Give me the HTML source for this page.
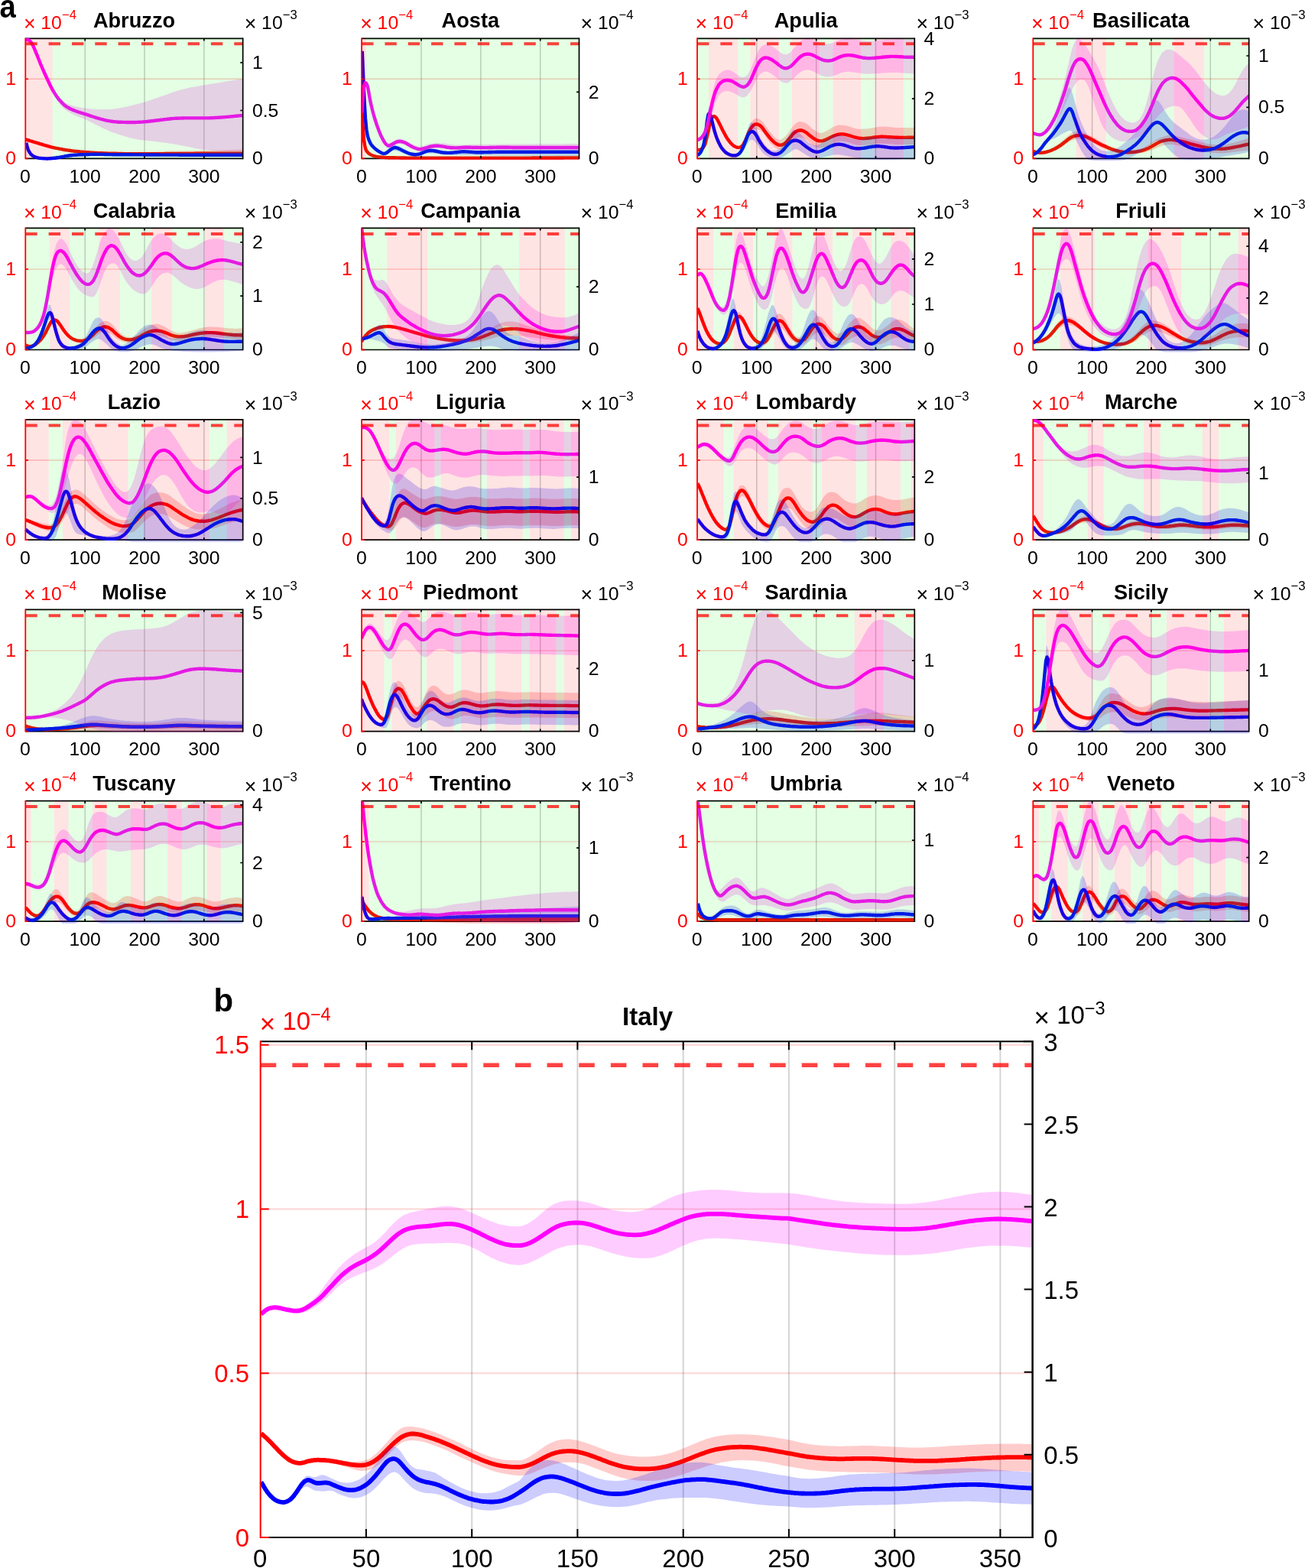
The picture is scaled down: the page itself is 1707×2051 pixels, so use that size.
<!DOCTYPE html>
<html lang="en">
<head>
<meta charset="utf-8">
<title>Regional epidemic dynamics</title>
<style>
html,body{margin:0;padding:0;background:#fff}
body{width:1707px;height:2051px;overflow:hidden}
svg{display:block}
text{font-family:"Liberation Sans", sans-serif}
.t{font-size:24.8px;fill:#000}
.x{font-size:26.8px;fill:#000}
.s{font-size:16.7px;fill:#000}
.h{font-size:27.2px;font-weight:700;fill:#000}
.T{font-size:33px;fill:#000}
.X{font-size:35px;fill:#000}
.S{font-size:23.5px;fill:#000}
.H{font-size:33px;font-weight:700;fill:#000}
.L{font-size:42px;font-weight:700;fill:#000}
.r{fill:#f00}
</style>
</head>
<body>
<svg width="1707" height="2051" viewBox="0 0 1707 2051" role="img" aria-label="Regional and national epidemic curves for Italy">
<defs><clipPath id="c00"><rect x="33.3" y="50.3" width="284.4" height="157"/></clipPath><clipPath id="c00b"><rect x="32.6" y="49.6" width="285" height="160.6"/></clipPath><clipPath id="c01"><rect x="473.1" y="50.3" width="284.4" height="157"/></clipPath><clipPath id="c01b"><rect x="472.4" y="49.6" width="285" height="160.6"/></clipPath><clipPath id="c02"><rect x="912" y="50.3" width="284.4" height="157"/></clipPath><clipPath id="c02b"><rect x="911.2" y="49.6" width="285" height="160.6"/></clipPath><clipPath id="c03"><rect x="1351.3" y="50.3" width="282.4" height="157"/></clipPath><clipPath id="c03b"><rect x="1350.6" y="49.6" width="283" height="160.6"/></clipPath><clipPath id="c10"><rect x="33.3" y="298.4" width="284.4" height="159.1"/></clipPath><clipPath id="c10b"><rect x="32.6" y="297.7" width="285" height="162.7"/></clipPath><clipPath id="c11"><rect x="473.1" y="298.4" width="284.4" height="159.1"/></clipPath><clipPath id="c11b"><rect x="472.4" y="297.7" width="285" height="162.7"/></clipPath><clipPath id="c12"><rect x="912" y="298.4" width="284.4" height="159.1"/></clipPath><clipPath id="c12b"><rect x="911.2" y="297.7" width="285" height="162.7"/></clipPath><clipPath id="c13"><rect x="1351.3" y="298.4" width="282.4" height="159.1"/></clipPath><clipPath id="c13b"><rect x="1350.6" y="297.7" width="283" height="162.7"/></clipPath><clipPath id="c20"><rect x="33.3" y="548.9" width="284.4" height="157.3"/></clipPath><clipPath id="c20b"><rect x="32.6" y="548.2" width="285" height="160.9"/></clipPath><clipPath id="c21"><rect x="473.1" y="548.9" width="284.4" height="157.3"/></clipPath><clipPath id="c21b"><rect x="472.4" y="548.2" width="285" height="160.9"/></clipPath><clipPath id="c22"><rect x="912" y="548.9" width="284.4" height="157.3"/></clipPath><clipPath id="c22b"><rect x="911.2" y="548.2" width="285" height="160.9"/></clipPath><clipPath id="c23"><rect x="1351.3" y="548.9" width="282.4" height="157.3"/></clipPath><clipPath id="c23b"><rect x="1350.6" y="548.2" width="283" height="160.9"/></clipPath><clipPath id="c30"><rect x="33.3" y="797.4" width="284.4" height="159.2"/></clipPath><clipPath id="c30b"><rect x="32.6" y="796.7" width="285" height="162.8"/></clipPath><clipPath id="c31"><rect x="473.1" y="797.4" width="284.4" height="159.2"/></clipPath><clipPath id="c31b"><rect x="472.4" y="796.7" width="285" height="162.8"/></clipPath><clipPath id="c32"><rect x="912" y="797.4" width="284.4" height="159.2"/></clipPath><clipPath id="c32b"><rect x="911.2" y="796.7" width="285" height="162.8"/></clipPath><clipPath id="c33"><rect x="1351.3" y="797.4" width="282.4" height="159.2"/></clipPath><clipPath id="c33b"><rect x="1350.6" y="796.7" width="283" height="162.8"/></clipPath><clipPath id="c40"><rect x="33.3" y="1047.7" width="284.4" height="157.5"/></clipPath><clipPath id="c40b"><rect x="32.6" y="1047" width="285" height="161.1"/></clipPath><clipPath id="c41"><rect x="473.1" y="1047.7" width="284.4" height="157.5"/></clipPath><clipPath id="c41b"><rect x="472.4" y="1047" width="285" height="161.1"/></clipPath><clipPath id="c42"><rect x="912" y="1047.7" width="284.4" height="157.5"/></clipPath><clipPath id="c42b"><rect x="911.2" y="1047" width="285" height="161.1"/></clipPath><clipPath id="c43"><rect x="1351.3" y="1047.7" width="282.4" height="157.5"/></clipPath><clipPath id="c43b"><rect x="1350.6" y="1047" width="283" height="161.1"/></clipPath><clipPath id="cb"><rect x="339.7" y="1361.3" width="1010.9" height="650.6"/></clipPath></defs>
<rect width="1707" height="2051" fill="#fff"/>
<text x="-0.6" y="23.3" class="L" transform="scale(0.91 1)">a</text>
<g id="p00">
<path d="M33.3 50.3H317.7M33.3 207.3H317.7" stroke="#000" stroke-width="1.7" fill="none"/>
<path d="M111.2 50.3V207.3M189 50.3V207.3M266.9 50.3V207.3" stroke="#000" stroke-opacity="0.22" stroke-width="1.4" fill="none"/>
<path d="M33.3 103.3H317.7" stroke="#f00" stroke-opacity="0.22" stroke-width="1.4" fill="none"/>
<g clip-path="url(#c00b)">
<path d="M33.4 181.4l2.5 .7 2.5 .7 2.5 .7 2.5 .7 2.5 .6 2.5 .7 2.5 .7 2.5 .7 2.5 .7 2.5 .7 2.5 .6 2.5 .7 2.4 .6 2.5 .7 2.5 .6 2.5 .6 2.5 .6 2.5 .5 2.5 .6 2.5 .5 2.5 .5 2.5 .5 2.5 .4 2.5 .5 2.5 .3 2.5 .4 2.5 .3 2.5 .3 2.5 .3 2.5 .2 2.5 .1 2.5 .2 2.5 .1 2.5 .1 2.5 .1 2.5 .1 2.5 .1 2.5 .1 2.5 .1 2.5 .1 2.5 .1 2.5 .1 2.5 0 2.5 .1 2.5 .1 2.5 0 2.5 .1 2.5 0 2.5 0 2.5 0 2.5 0 2.4 0 2.5 0 2.5-.1 2.5-.1 2.5 0 2.5-.1 2.5 0 2.5-.1 2.5-.1 2.5 0 2.5-.1 2.5-.1 2.5 0 2.5-.1 2.5-.1 2.5 0 2.5-.1 2.5 0 2.5-.1 2.5-.1 2.5 0 2.5-.1 2.5-.1 2.5 0 2.5-.1 2.5 0 2.5-.1 2.5-.1 2.5 0 2.5-.1 2.5-.1 2.5 0 2.5-.1 2.5 0 2.5-.1 2.5-.1 2.5 0 2.5-.1 2.5 0 2.4-.1 2.5-.1 2.5 0 2.5-.1 2.5-.1 2.5 0 2.5-.1 2.5-.1 2.5 0 2.5-.1 2.5-.1 2.5-.1 2.5 0 2.5-.1 2.5-.1 2.5-.1 2.5 0 2.5-.1 2.5-.1 2.5-.1 2.5-.1 2.5 0 2.5-.1 2.5-.1 0 5.8-2.5 0-2.5 0-2.5 0-2.5 0-2.5 0-2.5 0-2.5 0-2.5 0-2.5 0-2.5 0-2.5 0-2.5 0-2.5 0-2.5 0-2.5 0-2.5 0-2.5 0-2.5 0-2.5 0-2.5 0-2.5 0-2.5 0-2.5 0-2.4 0-2.5 0-2.5 0-2.5 0-2.5 0-2.5 0-2.5 0-2.5 0-2.5 0-2.5 0-2.5 0-2.5 0-2.5 0-2.5 0-2.5 0-2.5 0-2.5 0-2.5 0-2.5 0-2.5 0-2.5 0-2.5 0-2.5 0-2.5 0-2.5 0-2.5 0-2.5 0-2.5 0-2.5 0-2.5 0-2.5 0-2.5 0-2.5 0-2.5 0-2.5 0-2.5 0-2.5 0-2.5 0-2.5 0-2.4 0-2.5 0-2.5-.1-2.5 0-2.5-.1-2.5 0-2.5-.1-2.5 0-2.5-.1-2.5 0-2.5-.1-2.5-.1-2.5-.1-2.5 0-2.5-.1-2.5-.1-2.5-.1-2.5-.1-2.5-.1-2.5-.1-2.5-.1-2.5-.1-2.5-.3-2.5-.2-2.5-.3-2.5-.3-2.5-.4-2.5-.3-2.5-.5-2.5-.4-2.5-.5-2.5-.5-2.5-.5-2.5-.6-2.5-.5-2.5-.6-2.5-.6-2.5-.6-2.5-.7-2.4-.6-2.5-.7-2.5-.7-2.5-.6-2.5-.7-2.5-.7-2.5-.7-2.5-.7-2.5-.7-2.5-.7-2.5-.7-2.5-.6-2.5-.7z" fill="#ff0000" fill-opacity="0.2"/>
<path d="M33.4 182.3l1.4 .5 1.4 .4 1.4 .4 1.4 .5 1.4 .4 1.4 .4 1.4 .4 1.3 .5 1.4 .4 1.4 .4 1.4 .4 1.4 .4 1.4 .5 1.4 .4 1.4 .4 1.4 .4 1.4 .5 1.4 .4 1.4 .4 1.4 .4 1.4 .4 1.4 .4 1.4 .3 1.4 .4 1.4 .3 1.4 .4 1.4 .3 1.4 .3 1.4 .3 1.4 .2 1.3 .3 1.4 .3 1.4 .2 1.4 .3 1.4 .3 1.4 .2 1.4 .3 1.4 .2 1.4 .2 1.4 .2 1.4 .2 1.4 .2 1.4 .2 1.4 .2 1.4 .2 1.4 .1 1.4 .2 1.4 .1 1.4 .2 1.4 .1 1.4 .1 1.4 .2 1.4 .1 1.3 .1 1.4 .1 1.4 .1 1.4 .1 1.4 .1 1.4 .1 1.4 .1 1.4 .1 1.4 .1 1.4 .1 1.4 .1 1.4 .1 1.4 0 1.4 .1 1.4 .1 1.4 .1 1.4 0 1.4 .1 1.4 0 1.4 .1 1.4 0 1.4 .1 1.3 0 1.4 .1 1.4 0 1.4 0 1.4 .1 1.4 0 1.4 0 1.4 .1 1.4 0 1.4 0 1.4 .1 1.4 0 1.4 0 1.4 .1 1.4 0 1.4 0 1.4 .1 1.4 0 1.4 0 1.4 0 1.4 0 1.4 0 1.4 0 1.3 0 1.4 0 1.4 0 1.4 0 1.4 0 1.4 0 1.4 0 1.4 .1 1.4 0 1.4 0 1.4 0 1.4 0 1.4 0 1.4-.1 1.4 0 1.4 0 1.4 0 1.4 0 1.4 0 1.4 0 1.4 0 1.4 0 1.4 0 1.3 0 1.4 0 1.4 0 1.4 0 1.4 0 1.4 0 1.4 0 1.4 0 1.4 0 1.4-.1 1.4 0 1.4 0 1.4 0 1.4 0 1.4 0 1.4 0 1.4 0 1.4 0 1.4 0 1.4 0 1.4 0 1.4 0 1.4 0 1.3-.1 1.4 0 1.4 0 1.4 0 1.4 0 1.4 0 1.4 0 1.4 0 1.4 0 1.4 0 1.4 0 1.4 0 1.4 0 1.4 0 1.4-.1 1.4 0 1.4 0 1.4 0 1.4 0 1.4 0 1.4 0 1.4 0 1.4 0 1.3 0 1.4 0 1.4 0 1.4 0 1.4 0 1.4 0 1.4-.1 1.4 0 1.4 0 1.4 0 1.4 0 1.4 0 1.4 0 1.4 0 1.4 0 1.4 0 1.4 0 1.4 0 1.4 0 1.4 0 1.4 0 1.4 0 1.4 0 1.3 0 1.4-.1 1.4 0 1.4 0 1.4 0 1.4 0 1.4 0 1.4 0 1.4 0 1.4 0 1.4 0 1.4 0 1.4 0 1.4 0" fill="none" stroke="#ff0000" stroke-width="4.4" stroke-linejoin="round"/>
<path d="M34.3 186.7l2.4 8.4 2.5 3.1 2.5 2.3 2.5 2 2.5 1.7 2.5 1.2 2.5 .6 2.5-.1 2.5-.2 2.5-.3 2.4-.2 2.5-.3 2.5-.4 2.5-.3 2.5-.3 2.5-.3 2.5-.3 2.5-.2 2.5-.2 2.5-.2 2.4-.1 2.5-.1 2.5-.1 2.5 0 2.5-.1 2.5 0 2.5-.1 2.5 0 2.5-.1 2.5-.1 2.4 0 2.5-.1 2.5 0 2.5-.1 2.5-.1 2.5 0 2.5-.1 2.5 0 2.5-.1 2.5 0 2.4 0 2.5-.1 2.5 0 2.5-.1 2.5 0 2.5 0 2.5 0 2.5 0 2.5-.1 2.4 0 2.5 0 2.5 0 2.5 0 2.5 0 2.5 0 2.5-.1 2.5 0 2.5 0 2.5 0 2.4 0 2.5 0 2.5 0 2.5-.1 2.5 0 2.5 0 2.5 0 2.5-.1 2.5 0 2.5 0 2.4 0 2.5-.1 2.5 0 2.5-.1 2.5 0 2.5 0 2.5-.1 2.5 0 2.5-.1 2.5 0 2.4 0 2.5-.1 2.5 0 2.5-.1 2.5 0 2.5-.1 2.5 0 2.5-.1 2.5 0 2.4-.1 2.5 0 2.5-.1 2.5 0 2.5-.1 2.5 0 2.5-.1 2.5 0 2.5-.1 2.5 0 2.4-.1 2.5 0 2.5-.1 2.5 0 2.5-.1 2.5-.1 2.5 0 2.5-.1 2.5 0 2.5-.1 2.4 0 2.5-.1 2.5-.1 2.5 0 2.5-.1 2.5 0 0 6.1-2.5 0-2.5 0-2.5-.1-2.5 0-2.5 0-2.4 0-2.5 0-2.5-.1-2.5 0-2.5 0-2.5 0-2.5-.1-2.5 0-2.5 0-2.5 0-2.4 0-2.5-.1-2.5 0-2.5 0-2.5 0-2.5 0-2.5-.1-2.5 0-2.5 0-2.5 0-2.4 0-2.5 0-2.5-.1-2.5 0-2.5 0-2.5 0-2.5 0-2.5-.1-2.5 0-2.4 0-2.5 0-2.5 0-2.5 0-2.5-.1-2.5 0-2.5 0-2.5 0-2.5 0-2.5 0-2.4 0-2.5-.1-2.5 0-2.5 0-2.5 0-2.5 0-2.5 0-2.5 0-2.5 0-2.5 0-2.4 0-2.5 0-2.5 0-2.5 0-2.5 0-2.5 0-2.5 0-2.5 0-2.5 0-2.5 0-2.4 0-2.5 0-2.5 0-2.5 0-2.5 0-2.5 .1-2.5 0-2.5 0-2.5 0-2.4 .1-2.5 0-2.5 0-2.5 .1-2.5 0-2.5 .1-2.5 0-2.5 .1-2.5 0-2.5 .1-2.4 0-2.5 .1-2.5 0-2.5 .1-2.5 .1-2.5 0-2.5 .1-2.5 0-2.5 .1-2.5 0-2.4 .1-2.5 .2-2.5 .1-2.5 .2-2.5 .3-2.5 .2-2.5 .2-2.5 .3-2.5 .2-2.5 .3-2.4 .2-2.5 .2-2.5 .2-2.5 .1-2.5-.6-2.5-1.2-2.5-1.6-2.5-2-2.5-2.1-2.5-3.2-2.4-9.7z" fill="#0000ff" fill-opacity="0.2"/>
<path d="M34.3 186.7l1.4 5.9 1.4 3.9 1.4 2.6 1.4 2 1.4 1.4 1.3 1.1 1.4 .8 1.4 .7 1.4 .5 1.4 .4 1.4 .4 1.4 .3 1.4 .2 1.4 .1 1.4 .1 1.4 .1 1.4 .1 1.4 .1 1.4 .1 1.4 0 1.4-.1 1.4-.1 1.4-.1 1.4-.1 1.4-.1 1.4-.1 1.4-.2 1.4-.2 1.4-.2 1.4-.2 1.4-.2 1.4-.3 1.4-.3 1.4-.2 1.4-.3 1.4-.3 1.4-.3 1.4-.3 1.4-.2 1.4-.2 1.4-.2 1.4-.1 1.4-.2 1.4-.1 1.4-.1 1.4-.1 1.4-.1 1.4-.1 1.4-.1 1.4-.1 1.4 0 1.4-.1 1.4 0 1.4-.1 1.4 0 1.4-.1 1.4 0 1.4 0 1.4-.1 1.4 0 1.3 0 1.4-.1 1.4 0 1.4 0 1.4 0 1.4 0 1.4 0 1.4 .1 1.4 0 1.4 0 1.4 0 1.4 0 1.4 .1 1.4 0 1.4 0 1.4 0 1.4 .1 1.4 0 1.4 0 1.4 0 1.4 .1 1.4 0 1.4 0 1.4 0 1.4 0 1.4 0 1.4 0 1.4 0 1.4 .1 1.4 0 1.4 0 1.4 0 1.4 0 1.4 0 1.4 0 1.4 0 1.4 0 1.4 0 1.4 .1 1.4 0 1.4 0 1.4 0 1.4 0 1.4 0 1.4 0 1.4 0 1.4 0 1.4 0 1.4 0 1.4 .1 1.4 0 1.4 0 1.4 0 1.4 0 1.4 0 1.3 0 1.4 0 1.4 0 1.4 0 1.4 0 1.4 0 1.4 0 1.4 0 1.4 0 1.4 .1 1.4 0 1.4 0 1.4 0 1.4 0 1.4 0 1.4 0 1.4 0 1.4 0 1.4 0 1.4 0 1.4 0 1.4 0 1.4 0 1.4 0 1.4 0 1.4 0 1.4 0 1.4 .1 1.4 0 1.4 0 1.4 0 1.4 0 1.4 0 1.4 0 1.4 0 1.4 0 1.4 0 1.4 0 1.4 0 1.4 0 1.4 0 1.4 0 1.4 0 1.4 0 1.4 0 1.4 0 1.4 0 1.4 0 1.4 0 1.4 0 1.4 0 1.4 0 1.4 0 1.4 0 1.4 0 1.3 0 1.4 0 1.4 0 1.4 0 1.4 0 1.4 0 1.4 0 1.4 0 1.4 0 1.4 0 1.4 0 1.4 0 1.4 0 1.4 0 1.4 0 1.4 0 1.4 0 1.4 0 1.4 0 1.4 0 1.4 0 1.4 0 1.4 0 1.4 0 1.4 0 1.4 0 1.4 0 1.4 0 1.4 0 1.4 0 1.4 0 1.4 0 1.4 0" fill="none" stroke="#0000ff" stroke-width="4.4" stroke-linejoin="round"/>
<path d="M33.4 51.9l2.5 .6 2.5 1.6 2.5 2.4 2.5 3 2.5 4 2.5 5.3 2.5 6.1 2.5 6.6 2.5 6.6 2.5 6.2 2.5 5.4 2.5 4.7 2.4 4.6 2.5 4.5 2.5 4.2 2.5 3.9 2.5 3.4 2.5 3 2.5 2.5 2.5 2.2 2.5 1.8 2.5 1.2 2.5 1.1 2.5 .9 2.5 .7 2.5 .7 2.5 .6 2.5 .6 2.5 .5 2.5 .4 2.5 .3 2.5 .3 2.5 .3 2.5 .3 2.5 .2 2.5 .2 2.5 .1 2.5 .1 2.5 .1 2.5 0 2.5 .1 2.5-.1 2.5 0 2.5-.1 2.5-.2 2.5-.3 2.5-.3 2.5-.4 2.5-.4 2.5-.5 2.5-.4 2.4-.5 2.5-.6 2.5-.5 2.5-.6 2.5-.6 2.5-.6 2.5-.7 2.5-.6 2.5-.7 2.5-.7 2.5-.7 2.5-.8 2.5-.8 2.5-.8 2.5-.8 2.5-.9 2.5-.9 2.5-.8 2.5-.8 2.5-.9 2.5-.9 2.5-.9 2.5-.9 2.5-.9 2.5-.9 2.5-1 2.5-.8 2.5-.7 2.5-.7 2.5-.7 2.5-.7 2.5-.7 2.5-.6 2.5-.6 2.5-.6 2.5-.5 2.5-.4 2.5-.5 2.5-.4 2.4-.4 2.5-.4 2.5-.4 2.5-.5 2.5-.4 2.5-.4 2.5-.5 2.5-.3 2.5-.4 2.5-.4 2.5-.4 2.5-.4 2.5-.5 2.5-.4 2.5-.5 2.5-.4 2.5-.4 2.5-.4 2.5-.4 2.5-.4 2.5-.4 2.5-.4 2.5-.4 2.5-.4 0 94.9-2.5 0-2.5 .1-2.5 0-2.5 0-2.5 .1-2.5 0-2.5 0-2.5-.1-2.5 0-2.5 0-2.5-.1-2.5-.1-2.5-.1-2.5-.2-2.5-.2-2.5-.1-2.5-.2-2.5-.3-2.5-.2-2.5-.3-2.5-.3-2.5-.3-2.5-.5-2.4-.5-2.5-.5-2.5-.5-2.5-.5-2.5-.5-2.5-.5-2.5-.5-2.5-.5-2.5-.5-2.5-.5-2.5-.5-2.5-.4-2.5-.4-2.5-.5-2.5-.4-2.5-.4-2.5-.3-2.5-.4-2.5-.3-2.5-.4-2.5-.3-2.5-.3-2.5-.3-2.5-.3-2.5-.2-2.5-.2-2.5-.3-2.5-.3-2.5-.3-2.5-.3-2.5-.3-2.5-.4-2.5-.5-2.5-.5-2.5-.5-2.5-.6-2.5-.6-2.5-.7-2.5-.7-2.4-.8-2.5-.8-2.5-.8-2.5-.8-2.5-.9-2.5-.9-2.5-.9-2.5-1-2.5-1.1-2.5-1.1-2.5-1.1-2.5-1.2-2.5-1.2-2.5-1.2-2.5-1.3-2.5-1.2-2.5-1.3-2.5-1.3-2.5-1.2-2.5-1.2-2.5-1-2.5-1-2.5-1-2.5-1-2.5-1.1-2.5-1.1-2.5-1.2-2.5-1.2-2.5-1.4-2.5-1.5-2.5-1.7-2.5-2-2.5-2.4-2.5-2.8-2.5-3.4-2.5-4.1-2.5-4.6-2.5-4.9-2.5-5.2-2.4-5.2-2.5-5.3-2.5-5.8-2.5-6.5-2.5-6.8-2.5-6.8-2.5-6.3-2.5-5.4-2.5-4.2-2.5-3.3-2.5-2.7-2.5-1.8-2.5-.7z" fill="#ff00ff" fill-opacity="0.2"/>
<path d="M33.4 52.8l1.4-.7 1.4-.2 1.4 .4 1.4 1.1 1.4 1.5 1.4 2.2 1.4 2.7 1.3 2.9 1.4 3.2 1.4 3.4 1.4 3.4 1.4 3.5 1.4 3.5 1.4 3.6 1.4 3.3 1.4 3.3 1.4 3.2 1.4 3.2 1.4 3 1.4 3 1.4 3 1.4 3 1.4 2.9 1.4 2.8 1.4 2.7 1.4 2.4 1.4 2.3 1.4 2.2 1.4 2.1 1.4 1.9 1.3 1.9 1.4 1.6 1.4 1.5 1.4 1.5 1.4 1.4 1.4 1.3 1.4 1.2 1.4 1.1 1.4 .9 1.4 .8 1.4 .7 1.4 .8 1.4 .6 1.4 .7 1.4 .5 1.4 .6 1.4 .5 1.4 .5 1.4 .5 1.4 .5 1.4 .5 1.4 .4 1.4 .4 1.3 .4 1.4 .5 1.4 .4 1.4 .4 1.4 .4 1.4 .5 1.4 .5 1.4 .5 1.4 .4 1.4 .5 1.4 .5 1.4 .4 1.4 .5 1.4 .4 1.4 .4 1.4 .4 1.4 .4 1.4 .4 1.4 .3 1.4 .4 1.4 .3 1.4 .4 1.3 .3 1.4 .2 1.4 .3 1.4 .2 1.4 .3 1.4 .2 1.4 .2 1.4 .1 1.4 .2 1.4 .1 1.4 .1 1.4 .2 1.4 0 1.4 .1 1.4 0 1.4 .1 1.4 0 1.4 0 1.4 .1 1.4 0 1.4 0 1.4 0 1.4 0 1.3 0 1.4 0 1.4 0 1.4 0 1.4 0 1.4-.1 1.4 0 1.4-.1 1.4-.1 1.4-.1 1.4 0 1.4-.1 1.4-.1 1.4-.2 1.4-.1 1.4-.1 1.4-.2 1.4-.1 1.4-.2 1.4-.2 1.4-.1 1.4-.2 1.4-.2 1.3-.1 1.4-.2 1.4-.2 1.4-.1 1.4-.2 1.4-.2 1.4-.2 1.4-.1 1.4-.2 1.4-.2 1.4-.1 1.4-.2 1.4-.1 1.4-.2 1.4-.2 1.4-.1 1.4-.1 1.4-.2 1.4 0 1.4-.1 1.4-.1 1.4 0 1.4-.1 1.3 0 1.4-.1 1.4 0 1.4 0 1.4-.1 1.4 0 1.4 0 1.4 0 1.4 0 1.4 0 1.4 0 1.4 0 1.4 0 1.4 0 1.4 0 1.4 0 1.4 0 1.4 0 1.4 0 1.4 0 1.4 0 1.4 0 1.4 0 1.3 0 1.4 0 1.4 0 1.4 0 1.4 0 1.4-.1 1.4 0 1.4-.1 1.4-.1 1.4-.1 1.4 0 1.4-.1 1.4-.1 1.4-.1 1.4-.1 1.4-.1 1.4 0 1.4-.1 1.4-.2 1.4-.1 1.4-.1 1.4-.1 1.4-.1 1.3-.2 1.4-.1 1.4-.1 1.4-.2 1.4-.1 1.4-.2 1.4-.1 1.4-.1 1.4-.2 1.4-.1 1.4-.1 1.4-.2 1.4-.1 1.4-.1" fill="none" stroke="#ff00ff" stroke-width="4.4" stroke-linejoin="round"/>
</g>
<g clip-path="url(#c00)">
<path d="M33.3 50.3H68.7V207.3H33.3Z" fill="#f00" fill-opacity="0.105"/>
<path d="M68.7 50.3H317.7V207.3H68.7Z" fill="#0f0" fill-opacity="0.105"/>
<path d="M33.3 57.3H317.7" stroke="#f00" stroke-opacity="0.74" stroke-width="4" stroke-dasharray="15.4 14.93" fill="none"/>
</g>
<path d="M111.2 50.3v3.2M111.2 207.3v-3.2M189 50.3v3.2M189 207.3v-3.2M266.9 50.3v3.2M266.9 207.3v-3.2M317.7 81.8h-3.4M317.7 144.5h-3.4M317.7 49.4V208.2" stroke="#000" stroke-width="1.7" fill="none"/>
<path d="M33.3 49.4V208.2M33.3 103.3h3.6M33.3 207.3h3.6" stroke="#f00" stroke-width="1.8" fill="none"/>
<text x="329.9" y="89.9" class="t">1</text>
<text x="329.9" y="152.6" class="t">0.5</text>
<text x="329.9" y="215.1" class="t">0</text>
<text x="21" y="111" class="t r" text-anchor="end">1</text>
<text x="21" y="215" class="t r" text-anchor="end">0</text>
<text x="33" y="238.7" class="t" text-anchor="middle">0</text>
<text x="111.2" y="238.7" class="t" text-anchor="middle">100</text>
<text x="189" y="238.7" class="t" text-anchor="middle">200</text>
<text x="266.9" y="238.7" class="t" text-anchor="middle">300</text>
<text x="30.9" y="40.3" class="x r">×</text>
<text x="53.2" y="37.6" class="t r">10</text>
<text x="80.9" y="25" class="s r">−4</text>
<text x="319.8" y="40.3" class="x">×</text>
<text x="342.1" y="37.6" class="t">10</text>
<text x="369.8" y="25" class="s">−3</text>
<text x="175.5" y="36.4" class="h" text-anchor="middle">Abruzzo</text>
</g>
<g id="p01">
<path d="M473.1 50.3H757.5M473.1 207.3H757.5" stroke="#000" stroke-width="1.7" fill="none"/>
<path d="M551 50.3V207.3M628.9 50.3V207.3M706.7 50.3V207.3" stroke="#000" stroke-opacity="0.22" stroke-width="1.4" fill="none"/>
<path d="M473.1 103.3H757.5" stroke="#f00" stroke-opacity="0.22" stroke-width="1.4" fill="none"/>
<g clip-path="url(#c01b)">
<path d="M473.1 114.3l1.4 49 1.4 19.1 1.4 8.7 1.4 5 1.4 2.1 1.4 1.7 1.3 1 1.4 .9 1.4 .8 1.4 .7 1.4 .5 1.4 .4 1.4 .4 1.4 .4 1.4 .2 1.4 .2 1.4 .1 1.4 .1 1.4 .1 1.4 .1 1.4 .1 1.4 .1 1.4 .1 1.4 0 1.4 .1 1.3 0 1.4 0 1.4 .1 1.4 0 1.4 0 1.4 0 1.4 .1 1.4 0 1.4 0 1.4 0 1.4 .1 1.4 0 1.4 0 1.4 0 1.4 0 1.4 0 1.4 .1 1.4 0 1.4 0 1.3 0 1.4 0 1.4 0 1.4 0 1.4 0 1.4 0 1.4 0 1.4 0 1.4 0 1.4 0 1.4 0 1.4 0 1.4 0 1.4 0 1.4 0 1.4 0 1.4 0 1.4 0 1.4 0 1.4 0 1.3 0 1.4 0 1.4 0 1.4 0 1.4 0 1.4 0 1.4 0 1.4 0 1.4 0 1.4 0 1.4 0 1.4 0 1.4 0 1.4 0 1.4 0 1.4 0 1.4 0 1.4 0 1.4 0 1.3 0 1.4 0 1.4 0 1.4 0 1.4 0 1.4 0 1.4 0 1.4 0 1.4 0 1.4 0 1.4 0 1.4 0 1.4 0 1.4 0 1.4 0 1.4 0 1.4 0 1.4 0 1.4 0 1.3 0 1.4 0 1.4 0 1.4 0 1.4 0 1.4 0 1.4 0 1.4 0 1.4 0 1.4 0 1.4 0 1.4 0 1.4 0 1.4 0 1.4 0 1.4 0 1.4 0 1.4 0 1.4 0 1.3 0 1.4 0 1.4 0 1.4 0 1.4 0 1.4 0 1.4 0 1.4 0 1.4 0 1.4 0 1.4 0 1.4 0 1.4 0 1.4 0 1.4 0 1.4 0 1.4 0 1.4 0 1.4 0 1.3 0 1.4 0 1.4 0 1.4 0 1.4 0 1.4 0 1.4 0 1.4 0 1.4 0 1.4 0 1.4 0 1.4 0 1.4 0 1.4 0 1.4 0 1.4 0 1.4 0 1.4 0 1.4 0 1.3-.1 1.4 0 1.4 0 1.4 0 1.4 0 1.4 0 1.4 0 1.4 0 1.4 0 1.4 0 1.4 0 1.4 0 1.4 0 1.4 0 1.4 0 1.4 0 1.4 0 1.4 0 1.4 0 1.3 0 1.4 0 1.4 0 1.4 0 1.4 0 1.4 0 1.4 0 1.4 0 1.4 0 1.4 0 1.4 0 1.4-.1 1.4 0 1.4 0 1.4 0 1.4 0 1.4 0 1.4 0 1.4 0 1.3 0 1.4 0 1.4 0 1.4 0 1.4 0 1.4 0 1.4 0" fill="none" stroke="#ff0000" stroke-width="4.4" stroke-linejoin="round"/>
<path d="M473.8 66.8l2.5 58.5 2.5 38.2 2.5 11.6 2.4 8.7 2.5 4.4 2.5 2.3 2.5 2.5 2.5 2.4 2.5 2 2.5 1.3 2.5 .2 2.5-1.1 2.5-1.9 2.4-2.1 2.5-2 2.5-1.4 2.5-.5 2.5 .3 2.5 .8 2.5 1.1 2.5 1.2 2.5 1.4 2.5 1.4 2.4 1.3 2.5 1.1 2.5 .7 2.5 .4 2.5-.2 2.5-.5 2.5-.7 2.5-.9 2.5-.9 2.4-.9 2.5-.7 2.5-.4 2.5-.1 2.5 .2 2.5 .3 2.5 .4 2.5 .5 2.5 .5 2.5 .5 2.4 .5 2.5 .3 2.5 .2 2.5 .1 2.5-.1 2.5 0 2.5-.1 2.5-.1 2.5 0 2.5-.1 2.4-.1 2.5-.1 2.5 0 2.5-.1 2.5-.1 2.5 0 2.5-.1 2.5 0 2.5 0 2.5 0 2.4-.1 2.5 0 2.5 0 2.5 0 2.5 0 2.5-.1 2.5 0 2.5 0 2.5 0 2.4 0 2.5-.1 2.5 0 2.5 0 2.5 0 2.5 0 2.5 0 2.5 0 2.5 0 2.5-.1 2.4 0 2.5 0 2.5 0 2.5 0 2.5 0 2.5 0 2.5 0 2.5 0 2.5 0 2.5 0 2.4 0 2.5 0 2.5 0 2.5 0 2.5 0 2.5 0 2.5 0 2.5 0 2.5 0 2.5 0 2.4 0 2.5 0 2.5 0 2.5 0 2.5 0 2.5 0 2.5 0 2.5 0 2.5 0 2.4 0 2.5 0 2.5 0 2.5 0 0 7.4-2.5 0-2.5 0-2.5 0-2.4 0-2.5 0-2.5 0-2.5 0-2.5 0-2.5 0-2.5 0-2.5 0-2.5 0-2.4-.1-2.5 0-2.5 0-2.5 0-2.5 0-2.5 0-2.5 0-2.5 0-2.5-.1-2.5 0-2.4 0-2.5 0-2.5 0-2.5 0-2.5 0-2.5 0-2.5-.1-2.5 0-2.5 0-2.5 0-2.4 0-2.5 0-2.5-.1-2.5 0-2.5 0-2.5 0-2.5 0-2.5-.1-2.5 0-2.5 0-2.4-.1-2.5 0-2.5 0-2.5 0-2.5-.1-2.5 0-2.5 0-2.5 0-2.5-.1-2.4 0-2.5 0-2.5 0-2.5-.1-2.5 0-2.5 0-2.5 0-2.5 0-2.5 0-2.5 0-2.4 0-2.5 0-2.5 .1-2.5 0-2.5 0-2.5 0-2.5 0-2.5-.1-2.5-.2-2.5-.3-2.4-.3-2.5-.3-2.5-.4-2.5-.4-2.5-.3-2.5-.2-2.5-.2-2.5 .1-2.5 .3-2.5 .5-2.4 .7-2.5 .6-2.5 .7-2.5 .5-2.5 .4-2.5 .1-2.5-.3-2.5-.5-2.5-.8-2.4-1-2.5-1-2.5-1-2.5-1-2.5-.8-2.5-.6-2.5-.4-2.5 .3-2.5 .9-2.5 1.4-2.4 1.6-2.5 1.3-2.5 .8-2.5-.3-2.5-1.3-2.5-2-2.5-2.3-2.5-2.5-2.5-2.2-2.5-4.5-2.4-9.1-2.5-12-2.5-38.9-2.5-59.5z" fill="#0000ff" fill-opacity="0.2"/>
<path d="M473.8 66.8l1.4 35 1.4 30.3 1.4 22.8 1.4 14.4 1.4 8.4 1.4 4.5 1.4 3.3 1.4 2.8 1.4 1.9 1.4 1.6 1.4 1.4 1.4 1.3 1.4 1.1 1.4 1 1.4 1 1.4 .8 1.4 .8 1.4 .7 1.4 .6 1.4 .4 1.3 0 1.4-.4 1.4-.7 1.4-1 1.4-1.2 1.4-1.2 1.4-1 1.4-1 1.4-.8 1.4-.5 1.4-.1 1.4 .3 1.4 .4 1.4 .6 1.4 .6 1.4 .7 1.4 .8 1.4 .7 1.4 .7 1.4 .7 1.4 .6 1.4 .6 1.4 .6 1.4 .5 1.4 .4 1.4 .3 1.4 .3 1.4 .2 1.4 .2 1.4 0 1.4-.1 1.4-.2 1.4-.3 1.4-.3 1.4-.4 1.4-.7 1.4-.7 1.4-.6 1.4-.6 1.4-.4 1.4-.4 1.4-.3 1.4-.2 1.4-.1 1.4 .1 1.4 .1 1.4 .2 1.4 .2 1.4 .2 1.4 .3 1.4 .3 1.4 .3 1.4 .4 1.4 .2 1.4 .3 1.3 .1 1.4 .1 1.4 .1 1.4 .1 1.4 0 1.4 0 1.4 0 1.4-.1 1.4-.1 1.4-.1 1.4-.2 1.4-.1 1.4-.1 1.4-.2 1.4-.1 1.4-.2 1.4-.2 1.4-.1 1.4-.1 1.4 0 1.4 0 1.4 .1 1.4 .1 1.4 0 1.4 .1 1.4 .1 1.4 .1 1.4 .1 1.4 .1 1.4 .1 1.4 .1 1.4 0 1.4 0 1.4 0 1.4 0 1.4 0 1.4 0 1.4 0 1.4-.1 1.4 0 1.4 0 1.4 0 1.4-.1 1.4 0 1.4 0 1.4 0 1.4-.1 1.4 0 1.4 0 1.4-.1 1.4 0 1.4 0 1.4-.1 1.4 0 1.4 0 1.3 0 1.4 0 1.4 0 1.4 0 1.4 0 1.4 0 1.4 0 1.4 0 1.4 .1 1.4 0 1.4 0 1.4 0 1.4 0 1.4 0 1.4 0 1.4 0 1.4 0 1.4 0 1.4 0 1.4 0 1.4 0 1.4 0 1.4 0 1.4 0 1.4 0 1.4 0 1.4 0 1.4 0 1.4 0 1.4 0 1.4 0 1.4 0 1.4 0 1.4 0 1.4 0 1.4 0 1.4 0 1.4 0 1.4 0 1.4 0 1.4 0 1.4 0 1.4 0 1.4 0 1.4 0 1.4 0 1.4 0 1.4 0 1.4 0 1.4 0 1.4 0 1.4 0 1.4 0 1.4 0 1.4 0 1.3 0 1.4 0 1.4 0 1.4 0 1.4 0 1.4 0 1.4 0 1.4 0 1.4 0 1.4 0 1.4 0 1.4 0 1.4 0 1.4 0 1.4 0 1.4 0 1.4 0 1.4 0" fill="none" stroke="#0000ff" stroke-width="4.4" stroke-linejoin="round"/>
<path d="M473.4 145.9l2.5-33.8 2.5-6.4 2.5 8.9 2.5 10.2 2.5 9.4 2.5 9.7 2.5 9.5 2.5 8.5 2.5 6.8 2.5 6.1 2.5 5.3 2.4 3.9 2.5 2.3 2.5 1 2.5-.9 2.5-1.3 2.5-1.4 2.5-1.3 2.5-.8 2.5-.2 2.5 .5 2.5 1 2.5 1.2 2.5 1.3 2.5 1.1 2.4 1.2 2.5 1.2 2.5 1.2 2.5 .9 2.5 .5 2.5 .1 2.5-.6 2.5-.9 2.5-.9 2.5-.9 2.5-.5 2.5-.2 2.5-.2 2.5-.2 2.4-.1 2.5 .1 2.5 .1 2.5 .2 2.5 .3 2.5 .4 2.5 .4 2.5 .3 2.5 .3 2.5 .2 2.5 .1 2.5 0 2.5 0 2.5-.1 2.4 0 2.5-.1 2.5-.1 2.5-.1 2.5 0 2.5-.1 2.5 0 2.5 0 2.5-.1 2.5 0 2.5 0 2.5 0 2.5-.1 2.5 0 2.4 0 2.5-.1 2.5 0 2.5 0 2.5 0 2.5-.1 2.5 0 2.5 0 2.5 0 2.5-.1 2.5 0 2.5 0 2.5 0 2.5 0 2.4 0 2.5-.1 2.5 0 2.5 0 2.5 0 2.5 0 2.5 0 2.5 0 2.5-.1 2.5 0 2.5 0 2.5 0 2.5 0 2.5 0 2.4 0 2.5 0 2.5-.1 2.5 0 2.5 0 2.5 0 2.5 0 2.5 0 2.5 0 2.5 0 2.5 0 2.5-.1 2.5 0 2.5 0 2.4 0 2.5 0 2.5 0 2.5 0 2.5 0 0 8.4-2.5 0-2.5 0-2.5 0-2.5 0-2.4 0-2.5 0-2.5 0-2.5 0-2.5 0-2.5 0-2.5 0-2.5 0-2.5 0-2.5 0-2.5 0-2.5 0-2.5 0-2.5 0-2.4 0-2.5 0-2.5 0-2.5 0-2.5 0-2.5 0-2.5 0-2.5 0-2.5 0-2.5 0-2.5 0-2.5 0-2.5 0-2.5 0-2.4 0-2.5 0-2.5 0-2.5 0-2.5 0-2.5 0-2.5 0-2.5 0-2.5 0-2.5 0-2.5 0-2.5 0-2.5 0-2.5 0-2.4 0-2.5 0-2.5 0-2.5 0-2.5 0-2.5 0-2.5 0-2.5 0-2.5 0-2.5 0-2.5 0-2.5 0-2.5 0-2.5 0-2.4 0-2.5 0-2.5 0-2.5 0-2.5-.1-2.5-.2-2.5-.3-2.5-.3-2.5-.4-2.5-.4-2.5-.3-2.5-.2-2.5-.1-2.5 0-2.4 .1-2.5 .1-2.5 .2-2.5 .2-2.5 .4-2.5 .7-2.5 .8-2.5 .6-2.5 .4-2.5 0-2.5-.6-2.5-.9-2.5-1.2-2.5-1.2-2.4-1.1-2.5-1.1-2.5-1.1-2.5-1.2-2.5-.9-2.5-.5-2.5 .2-2.5 .8-2.5 1.5-2.5 1.3-2.5 1.1-2.5 .6-2.5-1.4-2.5-2.6-2.4-4.1-2.5-5.3-2.5-6.1-2.5-6.6-2.5-8.2-2.5-9-2.5-9.1-2.5-9-2.5-9.9-2.5-8.6-2.5 5.5-2.5 30.4z" fill="#ff00ff" fill-opacity="0.2"/>
<path d="M473.4 147.7l1.4-23.6 1.4-11.4 1.4-4.5 1.4 .6 1.4 3 1.4 5.6 1.4 8.4 1.4 7.5 1.4 6.1 1.4 5.7 1.4 5.2 1.4 4.7 1.4 4.5 1.4 4.2 1.4 3.9 1.4 3.7 1.4 3.5 1.4 3.2 1.4 2.9 1.4 2.5 1.4 2.4 1.4 2 1.4 1.4 1.4 1 1.4 .6 1.4-.4 1.4-.7 1.4-.7 1.4-.8 1.4-.7 1.4-.8 1.4-.8 1.4-.5 1.4-.2 1.4-.2 1.4 0 1.4 .2 1.4 .3 1.4 .4 1.4 .6 1.4 .6 1.4 .8 1.4 1 1.4 .8 1.4 .8 1.4 .8 1.4 .7 1.4 .7 1.4 .6 1.4 .5 1.4 .5 1.4 .4 1.4 .3 1.4 .1 1.4 0 1.4-.3 1.4-.3 1.4-.3 1.4-.4 1.4-.4 1.4-.4 1.4-.5 1.4-.4 1.4-.4 1.4-.3 1.4-.2 1.4-.2 1.4-.2 1.4 0 1.4 0 1.4 0 1.4 .1 1.4 .2 1.4 .1 1.4 .2 1.4 .2 1.4 .3 1.4 .3 1.4 .3 1.4 .2 1.4 .2 1.4 .1 1.4 .2 1.4 0 1.4 .1 1.4 .1 1.4 0 1.4 0 1.4 0 1.4-.1 1.4 0 1.4-.2 1.4-.1 1.4-.1 1.4-.1 1.4-.1 1.4 0 1.4 0 1.4 0 1.4 .1 1.4 0 1.4 .1 1.4 0 1.4 .1 1.4 0 1.4 0 1.4 0 1.4 0 1.4 0 1.4 .1 1.4 0 1.4 0 1.4 0 1.4 0 1.4 0 1.4 0 1.4 0 1.4 0 1.4-.1 1.4 0 1.4 0 1.4 0 1.4-.1 1.4 0 1.4 0 1.4-.1 1.4 0 1.4 0 1.4-.1 1.4 0 1.4 0 1.4 0 1.4 0 1.4 0 1.4 0 1.4 .1 1.4 0 1.4 0 1.4 .1 1.4 0 1.4 .1 1.4 0 1.4 0 1.4 0 1.4 0 1.4 0 1.4 0 1.4 0 1.4 0 1.4 0 1.4 0 1.4 0 1.4 0 1.4 0 1.4 0 1.4 0 1.4 0 1.4 0 1.4 0 1.4 0 1.4 0 1.4 0 1.4 0 1.4 0 1.4 0 1.4 0 1.4 0 1.4 0 1.4 0 1.4 0 1.4 0 1.4 0 1.4 0 1.4 0 1.4 0 1.4 0 1.4 0 1.4 0 1.4 0 1.4 0 1.4 0 1.4 0 1.4 0 1.4 0 1.4 0 1.4 0 1.4 0 1.4 0 1.4 0 1.4 0 1.4 0 1.4 0 1.4 0 1.4 0 1.4 0 1.4 0 1.4 0 1.4 0 1.4 0 1.4 0 1.4 0 1.4 0 1.4 0" fill="none" stroke="#ff00ff" stroke-width="4.4" stroke-linejoin="round"/>
</g>
<g clip-path="url(#c01)">
<path d="M473.1 50.3H479.1V207.3H473.1Z" fill="#f00" fill-opacity="0.105"/>
<path d="M479.1 50.3H757.5V207.3H479.1Z" fill="#0f0" fill-opacity="0.105"/>
<path d="M473.1 57.3H757.5" stroke="#f00" stroke-opacity="0.74" stroke-width="4" stroke-dasharray="15.4 14.93" fill="none"/>
</g>
<path d="M551 50.3v3.2M551 207.3v-3.2M628.9 50.3v3.2M628.9 207.3v-3.2M706.7 50.3v3.2M706.7 207.3v-3.2M757.5 120.4h-3.4M757.5 49.4V208.2" stroke="#000" stroke-width="1.7" fill="none"/>
<path d="M473.1 49.4V208.2M473.1 103.3h3.6M473.1 207.3h3.6" stroke="#f00" stroke-width="1.8" fill="none"/>
<text x="769.8" y="128.5" class="t">2</text>
<text x="769.8" y="215.1" class="t">0</text>
<text x="460.8" y="111" class="t r" text-anchor="end">1</text>
<text x="460.8" y="215" class="t r" text-anchor="end">0</text>
<text x="472.8" y="238.7" class="t" text-anchor="middle">0</text>
<text x="551" y="238.7" class="t" text-anchor="middle">100</text>
<text x="628.9" y="238.7" class="t" text-anchor="middle">200</text>
<text x="706.7" y="238.7" class="t" text-anchor="middle">300</text>
<text x="471.2" y="40.3" class="x r">×</text>
<text x="493.6" y="37.6" class="t r">10</text>
<text x="521.2" y="25" class="s r">−4</text>
<text x="759.6" y="40.3" class="x">×</text>
<text x="781.9" y="37.6" class="t">10</text>
<text x="809.6" y="25" class="s">−4</text>
<text x="615.3" y="36.4" class="h" text-anchor="middle">Aosta</text>
</g>
<g id="p02">
<path d="M912 50.3H1196.3M912 207.3H1196.3" stroke="#000" stroke-width="1.7" fill="none"/>
<path d="M989.8 50.3V207.3M1067.7 50.3V207.3M1145.5 50.3V207.3" stroke="#000" stroke-opacity="0.22" stroke-width="1.4" fill="none"/>
<path d="M912 103.3H1196.3" stroke="#f00" stroke-opacity="0.22" stroke-width="1.4" fill="none"/>
<g clip-path="url(#c02b)">
<path d="M912.4 195.1l2.5 .5 2.5-1.3 2.5-3 2.5-4.8 2.5-9.2 2.5-11.6 2.5-10 2.5-5 2.5 .3 2.5 3 2.5 3.8 2.5 4.4 2.4 5.2 2.5 5.2 2.5 4.6 2.5 3.5 2.5 3.2 2.5 2.8 2.5 2.3 2.5 1.6 2.5 .7 2.5-.3 2.5-2.4 2.5-3.9 2.5-4.5 2.5-5.4 2.5-7.1 2.5-6.4 2.5-3.9 2.5-2.1 2.5-.5 2.5 .6 2.5 1.4 2.5 2.3 2.5 3.2 2.5 3.7 2.5 3.6 2.5 3.1 2.5 2.9 2.5 2.8 2.5 2.4 2.5 1.7 2.5 .4 2.5-.7 2.5-1.7 2.5-2.2 2.5-2.7 2.5-3.5 2.5-3.8 2.5-3.4 2.5-2.4 2.4-2 2.5-1.2 2.5-.2 2.5 .3 2.5 .9 2.5 1.3 2.5 1.9 2.5 2.1 2.5 2.3 2.5 1.9 2.5 1.6 2.5 1.5 2.5 1 2.5 .1 2.5-.8 2.5-1.2 2.5-1.3 2.5-1.5 2.5-1.7 2.5-1.4 2.5-1.1 2.5-.9 2.5-.5 2.5-.1 2.5 .2 2.5 .3 2.5 .4 2.5 .6 2.5 .9 2.5 .9 2.5 .8 2.5 .7 2.5 .4 2.5 .1 2.5 0 2.5-.2 2.5-.2 2.5-.2 2.5-.3 2.4-.3 2.5-.4 2.5-.5 2.5-.4 2.5-.3 2.5-.3 2.5-.1 2.5 .1 2.5 .1 2.5 .2 2.5 .2 2.5 .2 2.5 .3 2.5 .2 2.5 .1 2.5 .1 2.5 0 2.5 0 2.5 0 2.5 0 2.5 0 2.5 0 2.5 0 2.5-.1 0 22-2.5 0-2.5 .1-2.5 0-2.5 0-2.5 0-2.5 0-2.5 0-2.5-.1-2.5 0-2.5-.1-2.5-.2-2.5-.2-2.5-.2-2.5-.2-2.5-.2-2.5-.1-2.5 0-2.5 0-2.5 .2-2.5 .3-2.5 .3-2.5 .4-2.5 .3-2.4 .2-2.5 .2-2.5 .1-2.5 .1-2.5 .1-2.5-.1-2.5-.1-2.5-.4-2.5-.7-2.5-.9-2.5-.9-2.5-.8-2.5-.6-2.5-.5-2.5-.3-2.5-.1-2.5 .1-2.5 .6-2.5 .9-2.5 1-2.5 1.1-2.5 1.4-2.5 1.2-2.5 .9-2.5 .9-2.5 .5-2.5 .2-2.5-.4-2.5-.8-2.5-1.1-2.5-1.8-2.5-2.3-2.5-2.3-2.5-2-2.5-1.4-2.5-1.2-2.5-.7-2.5 0-2.5 1-2.4 1.6-2.5 1.9-2.5 2.6-2.5 2.9-2.5 2.6-2.5 1.8-2.5 1.2-2.5 .7-2.5 .1-2.5-.7-2.5-1.4-2.5-2-2.5-2.4-2.5-2.6-2.5-2.9-2.5-3.7-2.5-3.8-2.5-3.2-2.5-2.2-2.5-1.3-2.5-.8-2.5 .1-2.5 1.1-2.5 2.7-2.5 4.8-2.5 5.4-2.5 4.1-2.5 3.2-2.5 2.8-2.5 1.6-2.5 .2-2.5-.9-2.5-1.6-2.5-2.3-2.5-2.8-2.5-3.1-2.5-3.4-2.5-4.5-2.5-5.2-2.4-5.3-2.5-4.4-2.5-3.8-2.5-3-2.5-.2-2.5 4.9-2.5 10-2.5 11.6-2.5 9.2-2.5 4.7-2.5 2.5-2.5 .7-2.5-1z" fill="#ff0000" fill-opacity="0.2"/>
<path d="M912.4 196l1.4 .1 1.4-.2 1.4-.5 1.4-.6 1.4-1.4 1.4-1.9 1.4-2.6 1.3-4.6 1.4-5.7 1.4-6 1.4-6.7 1.4-5.7 1.4-4.7 1.4-2.3 1.4-1 1.4 .1 1.4 1 1.4 1.7 1.4 2.5 1.4 2.8 1.4 2.7 1.4 2.9 1.4 2.8 1.4 2.7 1.4 2.7 1.4 2.6 1.4 2.5 1.4 2.2 1.4 2 1.4 1.9 1.3 1.6 1.4 1.4 1.4 1.3 1.4 1.2 1.4 .8 1.4 .6 1.4 .5 1.4 .2 1.4 .1 1.4-.4 1.4-.8 1.4-1.1 1.4-1.9 1.4-2.7 1.4-3 1.4-3.3 1.4-3.5 1.4-3.4 1.4-2.7 1.4-2.4 1.4-2 1.4-1.4 1.4-1.2 1.3-.6 1.4-.2 1.4 .1 1.4 .4 1.4 .7 1.4 1 1.4 1.3 1.4 1.7 1.4 2 1.4 2.1 1.4 1.8 1.4 1.9 1.4 1.8 1.4 1.8 1.4 1.6 1.4 1.6 1.4 1.4 1.4 1.4 1.4 1.2 1.4 1 1.4 1 1.4 .8 1.3 .5 1.4 .3 1.4 0 1.4-.3 1.4-.4 1.4-.8 1.4-1 1.4-1.1 1.4-1.5 1.4-1.7 1.4-1.7 1.4-1.7 1.4-1.8 1.4-1.7 1.4-1.5 1.4-1.2 1.4-1 1.4-.9 1.4-.5 1.4-.3 1.4-.2 1.4 0 1.4 .2 1.3 .5 1.4 .6 1.4 .8 1.4 .9 1.4 1.1 1.4 1.2 1.4 1.2 1.4 1.1 1.4 1 1.4 1.1 1.4 1 1.4 .8 1.4 .8 1.4 .7 1.4 .5 1.4 .3 1.4 .1 1.4 0 1.4-.2 1.4-.3 1.4-.5 1.4-.6 1.4-.6 1.3-.7 1.4-.6 1.4-.8 1.4-.7 1.4-.7 1.4-.6 1.4-.6 1.4-.5 1.4-.5 1.4-.4 1.4-.3 1.4-.2 1.4-.1 1.4-.1 1.4 0 1.4 .2 1.4 .2 1.4 .3 1.4 .3 1.4 .4 1.4 .4 1.4 .4 1.4 .4 1.3 .5 1.4 .4 1.4 .4 1.4 .4 1.4 .3 1.4 .4 1.4 .2 1.4 .2 1.4 .1 1.4 .1 1.4 .1 1.4 0 1.4-.1 1.4-.1 1.4-.1 1.4-.1 1.4-.2 1.4-.1 1.4-.2 1.4-.3 1.4-.2 1.4-.2 1.4-.1 1.3-.2 1.4-.1 1.4-.1 1.4-.1 1.4-.1 1.4 0 1.4 0 1.4 .1 1.4 0 1.4 .1 1.4 .1 1.4 .1 1.4 0 1.4 .1 1.4 .1 1.4 .1 1.4 .1 1.4 0 1.4 .1 1.4 .1 1.4 0 1.4 .1 1.4 0 1.3 0 1.4 0 1.4 0 1.4 0 1.4 0 1.4 0 1.4-.1 1.4 0 1.4 0 1.4 0 1.4 0 1.4-.1 1.4 0 1.4 0" fill="none" stroke="#ff0000" stroke-width="4.4" stroke-linejoin="round"/>
<path d="M912.4 202.2l2.5-.1 2.5-4.7 2.5-9.8 2.5-18.4 2.5-19.4 2.5-10.8 2.5 7.6 2.5 10.7 2.5 9.7 2.5 7.8 2.5 7.3 2.5 6 2.4 3.9 2.5 2.7 2.5 2.4 2.5 2 2.5 1.5 2.5 .8 2.5 .2 2.5-.4 2.5-1.3 2.5-2.2 2.5-4.8 2.5-6.8 2.5-7.2 2.5-7.8 2.5-7.8 2.5-3.5 2.5 1 2.5 4.1 2.5 4.7 2.5 5.4 2.5 5.5 2.5 4.6 2.5 3.4 2.5 2.8 2.5 2.5 2.5 1.8 2.5 1.1 2.5 .4 2.5-.3 2.5-.9 2.5-1.5 2.5-2.3 2.5-3.6 2.5-4.2 2.5-4.1 2.5-3.6 2.5-3.6 2.5-2.8 2.5-.4 2.4 1.4 2.5 2.1 2.5 2.3 2.5 2.7 2.5 2.8 2.5 2.6 2.5 2.2 2.5 1.6 2.5 1.4 2.5 .9 2.5 .4 2.5-.5 2.5-1.1 2.5-1.7 2.5-1.7 2.5-1.7 2.5-1.6 2.5-1.7 2.5-1.8 2.5-1.5 2.5-.9 2.5-.1 2.5 .3 2.5 .7 2.5 .9 2.5 .8 2.5 .7 2.5 .7 2.5 .8 2.5 .7 2.5 .7 2.5 .4 2.5 .2 2.5-.1 2.5-.6 2.5-.8 2.5-.8 2.5-.7 2.5-.4 2.4-.1 2.5 .1 2.5 .2 2.5 .1 2.5 .1 2.5 .2 2.5 .1 2.5 .1 2.5 .2 2.5 .1 2.5 .1 2.5 .1 2.5 .1 2.5 .1 2.5 .1 2.5 .1 2.5 0 2.5-.1 2.5-.2 2.5-.2 2.5-.3 2.5-.3 2.5-.4 2.5-.3 0 27.6-2.5 .2-2.5 .2-2.5 .1-2.5 .2-2.5 .2-2.5 .1-2.5 .1-2.5 .2-2.5 .1-2.5 .1-2.5 .1-2.5 0-2.5 .1-2.5 0-2.5 .1-2.5 0-2.5 0-2.5 0-2.5-.1-2.5 0-2.5-.1-2.5-.1-2.5-.1-2.4-.1-2.5-.2-2.5-.1-2.5-.2-2.5-.3-2.5-.2-2.5-.3-2.5-.3-2.5-.5-2.5-.5-2.5-.6-2.5-.6-2.5-.5-2.5-.4-2.5-.5-2.5-.4-2.5-.3-2.5-.1-2.5 .1-2.5 .4-2.5 .6-2.5 .6-2.5 .6-2.5 .5-2.5 .5-2.5 .4-2.5 .5-2.5 .3-2.5 .2-2.5 0-2.5-.3-2.5-.9-2.5-1.4-2.5-1.6-2.5-1.5-2.5-1.4-2.5-1.8-2.5-1.6-2.5-1.1-2.4 0-2.5 1.2-2.5 1.7-2.5 1.8-2.5 1.5-2.5 1.8-2.5 1.7-2.5 1.4-2.5 .9-2.5 .3-2.5-.1-2.5-.3-2.5-.4-2.5-.8-2.5-1.1-2.5-1.5-2.5-1.7-2.5-2.1-2.5-3.4-2.5-4.3-2.5-3.9-2.5-2.9-2.5-2-2.5-.3-2.5 2.3-2.5 3.6-2.5 3.6-2.5 4-2.5 4.1-2.5 3.2-2.5 1.6-2.5 .7-2.5 .2-2.5-.3-2.5-.7-2.5-1.1-2.5-1.6-2.5-2-2.5-2.3-2.4-3.4-2.5-5.2-2.5-6-2.5-6-2.5-7.4-2.5-8.3-2.5-5.1-2.5 5.1-2.5 15.7-2.5 14.9-2.5 6.6-2.5 3.9-2.5 1z" fill="#0000ff" fill-opacity="0.2"/>
<path d="M912.4 203.1l1.4-.9 1.4-1.4 1.4-1.8 1.4-2.9 1.4-3.5 1.4-5.4 1.4-7.2 1.3-9.8 1.4-12 1.4-7.9 1.4-2.1 1.4 2.3 1.4 4.6 1.4 5.3 1.4 5.9 1.4 5.4 1.4 4.5 1.4 4.1 1.4 3.5 1.4 3 1.4 2.8 1.4 2.5 1.4 2.1 1.4 1.7 1.4 1.6 1.4 1.4 1.4 1.1 1.4 .8 1.4 .8 1.4 .6 1.3 .5 1.4 .4 1.4 .2 1.4 .1 1.4 0 1.4-.1 1.4-.5 1.4-.8 1.4-.9 1.4-1.5 1.4-2.2 1.4-2.4 1.4-3 1.4-3.6 1.4-3.5 1.4-3.8 1.4-3.6 1.4-2.5 1.4-1.7 1.4-.9 1.4-.3 1.4 .2 1.4 1 1.3 1.5 1.4 2 1.4 2.5 1.4 2.8 1.4 2.4 1.4 2.2 1.4 2.2 1.4 1.9 1.4 1.7 1.4 1.6 1.4 1.5 1.4 1.2 1.4 1.1 1.4 1 1.4 .9 1.4 .8 1.4 .6 1.4 .3 1.4 .2 1.4 0 1.4 0 1.4-.3 1.3-.5 1.4-.7 1.4-.8 1.4-1.2 1.4-1.4 1.4-1.6 1.4-1.6 1.4-1.7 1.4-1.7 1.4-1.6 1.4-1.3 1.4-1.2 1.4-1.1 1.4-.7 1.4-.3 1.4-.3 1.4 0 1.4 .1 1.4 .4 1.4 .5 1.4 .7 1.4 1 1.4 1.2 1.3 1.1 1.4 1.1 1.4 1.1 1.4 1.1 1.4 1 1.4 1 1.4 .9 1.4 1 1.4 .8 1.4 .7 1.4 .5 1.4 .4 1.4 .3 1.4 .1 1.4-.1 1.4-.2 1.4-.4 1.4-.5 1.4-.5 1.4-.7 1.4-.8 1.4-.8 1.4-.7 1.3-.7 1.4-.8 1.4-.7 1.4-.7 1.4-.5 1.4-.5 1.4-.5 1.4-.4 1.4-.2 1.4-.1 1.4-.1 1.4 0 1.4 .1 1.4 .2 1.4 .3 1.4 .3 1.4 .4 1.4 .4 1.4 .5 1.4 .4 1.4 .6 1.4 .5 1.4 .5 1.3 .3 1.4 .3 1.4 .3 1.4 .2 1.4 .1 1.4 .1 1.4 0 1.4-.1 1.4-.1 1.4-.1 1.4-.1 1.4-.2 1.4-.2 1.4-.2 1.4-.3 1.4-.3 1.4-.3 1.4-.2 1.4-.2 1.4-.2 1.4-.2 1.4-.1 1.4-.2 1.3 0 1.4 0 1.4 0 1.4 .1 1.4 .2 1.4 .1 1.4 .2 1.4 .1 1.4 .2 1.4 .2 1.4 .2 1.4 .3 1.4 .2 1.4 .1 1.4 .2 1.4 0 1.4 .1 1.4 0 1.4 0 1.4 0 1.4 0 1.4-.1 1.4 0 1.3-.1 1.4-.1 1.4-.1 1.4 0 1.4-.1 1.4-.1 1.4-.1 1.4-.1 1.4-.1 1.4-.1 1.4-.1 1.4-.1 1.4-.1 1.4 0" fill="none" stroke="#0000ff" stroke-width="4.4" stroke-linejoin="round"/>
<path d="M912.4 181.1l2.5-1.2 2.5-3.3 2.5-5 2.5-6.6 2.5-10.7 2.5-12.6 2.5-11.3 2.5-11.4 2.5-10.1 2.5-6.7 2.5-4.2 2.5-2.5 2.4-2 2.5-1.2 2.5-.7 2.5-.2 2.5 .6 2.5 1 2.5 1.5 2.5 1.8 2.5 1.7 2.5 1.7 2.5 1.1 2.5 .3 2.5-.8 2.5-2.1 2.5-3.6 2.5-5 2.5-6.1 2.5-6.2 2.5-6 2.5-5.2 2.5-3.8 2.5-2.4 2.5-1.2 2.5-.6 2.5 .2 2.5 .9 2.5 1.2 2.5 1.7 2.5 1.9 2.5 2.1 2.5 2 2.5 1.6 2.5 1 2.5 .5 2.5-.3 2.5-1.3 2.5-2.2 2.5-2.8 2.5-3 2.4-2.8 2.5-2.8 2.5-2.3 2.5-1.4 2.5-.8 2.5-.4 2.5-.1 2.5 .4 2.5 .7 2.5 .9 2.5 1 2.5 1.1 2.5 1 2.5 .8 2.5 .6 2.5 .2 2.5-.2 2.5-.4 2.5-.5 2.5-.7 2.5-1.1 2.5-1.1 2.5-.9 2.5-.8 2.5-.5 2.5-.4 2.5-.1 2.5 0 2.5 .2 2.5 .2 2.5 .2 2.5 .3 2.5 .3 2.5 .2 2.5 .3 2.5 .3 2.5 .3 2.5 .3 2.5 .1 2.4-.1 2.5-.2 2.5-.3 2.5-.3 2.5-.2 2.5-.2 2.5-.2 2.5-.2 2.5-.2 2.5-.1 2.5-.2 2.5-.1 2.5 0 2.5-.1 2.5 0 2.5 0 2.5 0 2.5 .1 2.5 0 2.5 .1 2.5 .1 2.5 .1 2.5 .1 2.5 .1 0 44.8-2.5-.2-2.5-.2-2.5-.2-2.5-.2-2.5-.2-2.5-.1-2.5-.2-2.5-.2-2.5-.1-2.5-.1-2.5 0-2.5 0-2.5 .1-2.5 .1-2.5 .1-2.5 .2-2.5 .1-2.5 .2-2.5 .1-2.5 .2-2.5 .2-2.5 .2-2.5 .1-2.4 .1-2.5 0-2.5-.1-2.5-.2-2.5-.3-2.5-.3-2.5-.3-2.5-.4-2.5-.4-2.5-.5-2.5-.3-2.5-.2-2.5 .2-2.5 .3-2.5 .5-2.5 .7-2.5 1.1-2.5 1.1-2.5 1-2.5 .9-2.5 .6-2.5 .5-2.5 0-2.5-.2-2.5-.6-2.5-.9-2.5-1.1-2.5-1.3-2.5-1.3-2.5-1.3-2.5-1.1-2.5-.9-2.5-.5-2.5 .1-2.5 .4-2.5 .9-2.5 1.4-2.5 1.8-2.5 2.3-2.4 2.5-2.5 2.5-2.5 2.3-2.5 1.7-2.5 1.1-2.5 .2-2.5-.5-2.5-1.2-2.5-1.9-2.5-2-2.5-2.1-2.5-2-2.5-1.8-2.5-1.6-2.5-1.3-2.5-.6-2.5 .3-2.5 .9-2.5 1.8-2.5 2.9-2.5 4.1-2.5 5.1-2.5 4.9-2.5 4.6-2.5 3.8-2.5 3-2.5 1.8-2.5 .7-2.5-.4-2.5-1-2.5-1.5-2.5-1.5-2.5-1.3-2.5-1.2-2.5-.9-2.5-.7-2.5 .1-2.5 .4-2.5 1.2-2.4 2-2.5 2.9-2.5 4.6-2.5 6.8-2.5 9.4-2.5 9.7-2.5 8.2-2.5 7.8-2.5 6.1-2.5 3.5-2.5 2.2-2.5 1-2.5-.3z" fill="#ff00ff" fill-opacity="0.2"/>
<path d="M912.4 182.8l1.4-.3 1.4-.8 1.4-1 1.4-1.1 1.4-1.7 1.4-2.2 1.4-2.6 1.3-3.8 1.4-4.8 1.4-5.6 1.4-6.6 1.4-6.5 1.4-6.5 1.4-6.2 1.4-5.3 1.4-4.8 1.4-4 1.4-3 1.4-2.7 1.4-2.4 1.4-1.7 1.4-1.2 1.4-1.1 1.4-.9 1.4-.5 1.4-.3 1.4-.2 1.4-.1 1.4 .1 1.4 .3 1.3 .4 1.4 .4 1.4 .6 1.4 .7 1.4 .9 1.4 .9 1.4 .8 1.4 .9 1.4 .9 1.4 .7 1.4 .6 1.4 .4 1.4 .3 1.4-.2 1.4-.7 1.4-.9 1.4-1.2 1.4-1.8 1.4-2.3 1.4-2.5 1.4-3.1 1.4-3.2 1.4-3.2 1.3-3.2 1.4-3.1 1.4-2.8 1.4-2.6 1.4-2.2 1.4-1.7 1.4-1.4 1.4-1 1.4-.7 1.4-.3 1.4-.2 1.4 .1 1.4 .3 1.4 .5 1.4 .6 1.4 .7 1.4 .8 1.4 1 1.4 1 1.4 1 1.4 1 1.4 1.1 1.3 1.1 1.4 1.1 1.4 1 1.4 1 1.4 .7 1.4 .5 1.4 .3 1.4 0 1.4-.2 1.4-.5 1.4-.7 1.4-.8 1.4-1.2 1.4-1.3 1.4-1.4 1.4-1.5 1.4-1.5 1.4-1.5 1.4-1.4 1.4-1.4 1.4-1.3 1.4-1 1.4-.9 1.3-.7 1.4-.6 1.4-.3 1.4-.3 1.4-.1 1.4 0 1.4 .2 1.4 .3 1.4 .4 1.4 .5 1.4 .6 1.4 .7 1.4 .8 1.4 .7 1.4 .7 1.4 .7 1.4 .7 1.4 .6 1.4 .6 1.4 .5 1.4 .3 1.4 .3 1.4 .1 1.3 .1 1.4 0 1.4-.1 1.4-.3 1.4-.3 1.4-.4 1.4-.5 1.4-.6 1.4-.7 1.4-.6 1.4-.7 1.4-.6 1.4-.6 1.4-.5 1.4-.4 1.4-.4 1.4-.3 1.4-.1 1.4-.2 1.4-.1 1.4 0 1.4 .1 1.4 .1 1.3 .2 1.4 .2 1.4 .3 1.4 .3 1.4 .3 1.4 .4 1.4 .3 1.4 .3 1.4 .3 1.4 .3 1.4 .3 1.4 .2 1.4 .1 1.4 .2 1.4 .1 1.4 0 1.4 .1 1.4-.1 1.4 0 1.4-.1 1.4-.1 1.4-.1 1.4-.1 1.3-.2 1.4-.1 1.4-.1 1.4-.2 1.4-.1 1.4-.2 1.4-.1 1.4-.2 1.4-.1 1.4-.1 1.4-.1 1.4-.1 1.4-.1 1.4-.1 1.4 0 1.4 0 1.4 0 1.4 0 1.4 .1 1.4 0 1.4 .1 1.4 .1 1.4 0 1.3 .1 1.4 .1 1.4 .1 1.4 .1 1.4 .1 1.4 0 1.4 .1 1.4 0 1.4 0 1.4 0 1.4 0 1.4 0 1.4 0 1.4 0" fill="none" stroke="#ff00ff" stroke-width="4.4" stroke-linejoin="round"/>
</g>
<g clip-path="url(#c02)">
<path d="M927 50.3H965.3V207.3H927ZM981.4 50.3H1018.9V207.3H981.4ZM1035.9 50.3H1072V207.3H1035.9ZM1089.5 50.3H1126.1V207.3H1089.5ZM1144 50.3H1181.8V207.3H1144Z" fill="#f00" fill-opacity="0.105"/>
<path d="M912 50.3H927V207.3H912ZM965.3 50.3H981.4V207.3H965.3ZM1018.9 50.3H1035.9V207.3H1018.9ZM1072 50.3H1089.5V207.3H1072ZM1126.1 50.3H1144V207.3H1126.1ZM1181.8 50.3H1196.3V207.3H1181.8Z" fill="#0f0" fill-opacity="0.105"/>
<path d="M912 57.3H1196.3" stroke="#f00" stroke-opacity="0.74" stroke-width="4" stroke-dasharray="15.4 14.93" fill="none"/>
</g>
<path d="M989.8 50.3v3.2M989.8 207.3v-3.2M1067.7 50.3v3.2M1067.7 207.3v-3.2M1145.5 50.3v3.2M1145.5 207.3v-3.2M1196.3 129.2h-3.4M1196.3 49.4V208.2" stroke="#000" stroke-width="1.7" fill="none"/>
<path d="M912 49.4V208.2M912 103.3h3.6M912 207.3h3.6" stroke="#f00" stroke-width="1.8" fill="none"/>
<text x="1208.5" y="58.8" class="t">4</text>
<text x="1208.5" y="137.3" class="t">2</text>
<text x="1208.5" y="215.1" class="t">0</text>
<text x="899.7" y="111" class="t r" text-anchor="end">1</text>
<text x="899.7" y="215" class="t r" text-anchor="end">0</text>
<text x="911.7" y="238.7" class="t" text-anchor="middle">0</text>
<text x="989.8" y="238.7" class="t" text-anchor="middle">100</text>
<text x="1067.7" y="238.7" class="t" text-anchor="middle">200</text>
<text x="1145.5" y="238.7" class="t" text-anchor="middle">300</text>
<text x="909.6" y="40.3" class="x r">×</text>
<text x="931.9" y="37.6" class="t r">10</text>
<text x="959.6" y="25" class="s r">−4</text>
<text x="1198.4" y="40.3" class="x">×</text>
<text x="1220.7" y="37.6" class="t">10</text>
<text x="1248.4" y="25" class="s">−3</text>
<text x="1054.2" y="36.4" class="h" text-anchor="middle">Apulia</text>
</g>
<g id="p03">
<path d="M1351.3 50.3H1633.7M1351.3 207.3H1633.7" stroke="#000" stroke-width="1.7" fill="none"/>
<path d="M1428.6 50.3V207.3M1505.9 50.3V207.3M1583.3 50.3V207.3" stroke="#000" stroke-opacity="0.22" stroke-width="1.4" fill="none"/>
<path d="M1351.3 103.3H1633.7" stroke="#f00" stroke-opacity="0.22" stroke-width="1.4" fill="none"/>
<g clip-path="url(#c03b)">
<path d="M1351.4 196.9l2.5 .4 2.4 .3 2.5 .1 2.5 .1 2.5-.2 2.5-.3 2.5-.4 2.4-.6 2.5-.9 2.5-1.2 2.5-1.5 2.5-1.7 2.4-1.9 2.5-1.8 2.5-2 2.5-2.3 2.5-2.4 2.5-2.3 2.4-2.1 2.5-1.8 2.5-1.4 2.5-.8 2.5-.3 2.5 .1 2.4 .5 2.5 .6 2.5 .9 2.5 1 2.5 1 2.4 1.2 2.5 1.2 2.5 1.5 2.5 1.4 2.5 1.5 2.5 1.4 2.4 1.4 2.5 1.3 2.5 1.3 2.5 1.3 2.5 1.2 2.4 1 2.5 1 2.5 .9 2.5 .9 2.5 .7 2.5 .6 2.4 .4 2.5 .2 2.5 .2 2.5 .1 2.5 0 2.4-.1 2.5-.2 2.5-.3 2.5-.5 2.5-.7 2.5-.7 2.4-.9 2.5-1.2 2.5-1.5 2.5-1.7 2.5-1.8 2.4-1.6 2.5-1.5 2.5-1.4 2.5-1.3 2.5-1.2 2.5-.9 2.4-.9 2.5-.9 2.5-.5 2.5-.2 2.5 .2 2.5 .4 2.4 .4 2.5 .6 2.5 .6 2.5 .6 2.5 .6 2.4 .6 2.5 .6 2.5 .7 2.5 .6 2.5 .6 2.5 .6 2.4 .7 2.5 .6 2.5 .6 2.5 .6 2.5 .6 2.4 .5 2.5 .5 2.5 .5 2.5 .4 2.5 .2 2.5 .2 2.4 .1 2.5 0 2.5-.1 2.5-.1 2.5-.3 2.4-.3 2.5-.4 2.5-.5 2.5-.6 2.5-.6 2.5-.7 2.4-.7 2.5-.8 2.5-.8 2.5-.9 2.5-.7 2.5-.8 2.4-.8 0 15.8-2.4 .4-2.5 .4-2.5 .3-2.5 .4-2.5 .3-2.5 .3-2.4 .3-2.5 .3-2.5 .3-2.5 .4-2.5 .3-2.5 .3-2.4 .3-2.5 .2-2.5 0-2.5 0-2.5-.2-2.4-.2-2.5-.2-2.5-.2-2.5-.3-2.5-.3-2.5-.4-2.4-.5-2.5-.5-2.5-.5-2.5-.6-2.5-.6-2.4-.7-2.5-.7-2.5-.6-2.5-.6-2.5-.7-2.5-.7-2.4-.6-2.5-.5-2.5-.5-2.5-.4-2.5-.4-2.4-.3-2.5-.2-2.5-.1-2.5 .1-2.5 .4-2.5 .5-2.4 .6-2.5 .8-2.5 1.1-2.5 1.1-2.5 1.1-2.5 1-2.4 1-2.5 .9-2.5 .9-2.5 .8-2.5 .5-2.4 .5-2.5 .4-2.5 .4-2.5 .2-2.5 .2-2.5 .2-2.4 0-2.5 0-2.5 0-2.5-.1-2.5-.2-2.4-.3-2.5-.4-2.5-.7-2.5-.7-2.5-.7-2.5-.8-2.4-.7-2.5-.9-2.5-.9-2.5-1-2.5-1-2.4-1.1-2.5-1.4-2.5-1.5-2.5-1.6-2.5-1.5-2.5-1.2-2.4-.9-2.5-.7-2.5-.6-2.5-.5-2.5-.3-2.4 0-2.5 .1-2.5 .5-2.5 .8-2.5 .9-2.5 1.1-2.4 1.7-2.5 1.9-2.5 2-2.5 1.8-2.5 1.5-2.5 1.2-2.4 1.2-2.5 1-2.5 .9-2.5 .6-2.5 .5-2.4 .2-2.5 .1-2.5 0-2.5-.1-2.5-.2-2.5-.2-2.4-.4-2.5-.4z" fill="#ff0000" fill-opacity="0.2"/>
<path d="M1351.4 197.8l1.4 .5 1.4 .4 1.4 .4 1.4 .3 1.4 .2 1.3 .1 1.4 0 1.4 0 1.4-.1 1.4-.1 1.4-.2 1.4-.3 1.4-.4 1.4-.4 1.4-.5 1.4-.5 1.4-.5 1.4-.6 1.4-.7 1.4-.7 1.4-.7 1.3-.7 1.4-.8 1.4-.9 1.4-.9 1.4-.9 1.4-1.1 1.4-1.1 1.4-1 1.4-1.1 1.4-1.1 1.4-1.1 1.4-1.1 1.4-1.1 1.4-.9 1.4-.7 1.4-.7 1.3-.5 1.4-.4 1.4-.4 1.4-.2 1.4-.2 1.4-.1 1.4 .1 1.4 .1 1.4 .3 1.4 .2 1.4 .3 1.4 .5 1.4 .5 1.4 .6 1.4 .7 1.4 .6 1.3 .7 1.4 .8 1.4 .8 1.4 .8 1.4 .8 1.4 .8 1.4 .8 1.4 .7 1.4 .8 1.4 .7 1.4 .7 1.4 .6 1.4 .6 1.4 .6 1.4 .6 1.4 .6 1.4 .7 1.3 .6 1.4 .5 1.4 .6 1.4 .5 1.4 .5 1.4 .4 1.4 .4 1.4 .4 1.4 .4 1.4 .4 1.4 .4 1.4 .3 1.4 .3 1.4 .1 1.4 .2 1.4 .1 1.3 0 1.4 .1 1.4 0 1.4 0 1.4-.1 1.4 0 1.4-.1 1.4-.1 1.4-.1 1.4-.2 1.4-.2 1.4-.2 1.4-.3 1.4-.3 1.4-.3 1.4-.3 1.3-.4 1.4-.4 1.4-.5 1.4-.6 1.4-.6 1.4-.6 1.4-.7 1.4-.8 1.4-.8 1.4-.8 1.4-.8 1.4-.7 1.4-.9 1.4-.8 1.4-.7 1.4-.7 1.4-.6 1.3-.6 1.4-.5 1.4-.4 1.4-.3 1.4-.3 1.4-.2 1.4-.2 1.4-.2 1.4-.1 1.4 .1 1.4 0 1.4 .1 1.4 .1 1.4 .2 1.4 .2 1.4 .2 1.3 .2 1.4 .3 1.4 .3 1.4 .3 1.4 .3 1.4 .3 1.4 .4 1.4 .4 1.4 .4 1.4 .4 1.4 .4 1.4 .4 1.4 .5 1.4 .3 1.4 .4 1.4 .3 1.3 .4 1.4 .3 1.4 .4 1.4 .3 1.4 .4 1.4 .3 1.4 .4 1.4 .3 1.4 .3 1.4 .3 1.4 .3 1.4 .2 1.4 .3 1.4 .2 1.4 .2 1.4 .1 1.3 .2 1.4 .1 1.4 .1 1.4 .1 1.4 0 1.4 .1 1.4 0 1.4 .1 1.4 0 1.4 0 1.4-.1 1.4 0 1.4-.1 1.4-.2 1.4-.2 1.4-.2 1.4-.2 1.3-.2 1.4-.3 1.4-.2 1.4-.3 1.4-.2 1.4-.3 1.4-.3 1.4-.2 1.4-.3 1.4-.3 1.4-.3 1.4-.4 1.4-.3 1.4-.3 1.4-.3 1.4-.3 1.3-.2 1.4-.3 1.4-.2" fill="none" stroke="#ff0000" stroke-width="4.4" stroke-linejoin="round"/>
<path d="M1351.4 200.4l2.5-1.6 2.4-2 2.5-2.4 2.5-2.5 2.5-2.7 2.5-3.1 2.5-3.4 2.4-3.7 2.5-4.1 2.5-4.7 2.5-5.2 2.5-5.3 2.4-5.3 2.5-5.6 2.5-6.6 2.5-8.4 2.5-8.4 2.5-7.9 2.4-3.4 2.5 2.9 2.5 7.4 2.5 9.2 2.5 9.2 2.5 8.1 2.4 6.9 2.5 5.9 2.5 5.4 2.5 4.9 2.5 4.6 2.4 4 2.5 3.4 2.5 2.9 2.5 2.7 2.5 2 2.5 1.6 2.4 1.2 2.5 .7 2.5 .5 2.5 .2 2.5-.2 2.4-.5 2.5-.8 2.5-.9 2.5-1.2 2.5-1.4 2.5-1.7 2.4-1.8 2.5-2.1 2.5-2 2.5-2.2 2.5-2.3 2.4-2.4 2.5-2.5 2.5-2.6 2.5-3 2.5-3.2 2.5-3.6 2.4-4.3 2.5-4.6 2.5-4.8 2.5-5.1 2.5-4.7 2.4-4.3 2.5-3.1 2.5-1.5 2.5 1.3 2.5 2.7 2.5 3.7 2.4 4.5 2.5 4 2.5 3.9 2.5 3.4 2.5 2.8 2.5 2.5 2.4 2.1 2.5 1.9 2.5 1.9 2.5 1.8 2.5 1.9 2.4 1.8 2.5 1.9 2.5 2 2.5 1.8 2.5 1.5 2.5 1.4 2.4 1.1 2.5 .8 2.5 .7 2.5 .4 2.5 0 2.4-.4 2.5-.5 2.5-.7 2.5-1 2.5-1.2 2.5-1.7 2.4-2 2.5-2.2 2.5-2.4 2.5-2.6 2.5-2.8 2.4-3.1 2.5-3.2 2.5-3.2 2.5-3.3 2.5-2.9 2.5-2.3 2.4-2 2.5-1.2 2.5-.7 2.5-.1 2.5 .5 2.5 .9 2.4 1.2 0 52.8-2.4 .5-2.5 .6-2.5 .5-2.5 .5-2.5 .4-2.5 .5-2.4 .4-2.5 .4-2.5 .4-2.5 .4-2.5 .4-2.5 .4-2.4 .5-2.5 .4-2.5 .4-2.5 .5-2.5 .4-2.4 .3-2.5 .3-2.5 .3-2.5 .3-2.5 .2-2.5 .2-2.4 .2-2.5 .2-2.5 .2-2.5 .1-2.5 .1-2.4 0-2.5 0-2.5 0-2.5-.1-2.5-.1-2.5-.1-2.4-.1-2.5-.6-2.5-1.2-2.5-1.3-2.5-1.7-2.4-2-2.5-2.2-2.5-2.5-2.5-2.6-2.5-2.6-2.5-2.8-2.4-2.2-2.5-1.3-2.5-.8-2.5 .1-2.5 .9-2.5 1.3-2.4 1.6-2.5 1.8-2.5 1.9-2.5 1.9-2.5 1.9-2.4 1.9-2.5 1.7-2.5 1.6-2.5 1.5-2.5 1.4-2.5 1.2-2.4 1.2-2.5 1.1-2.5 1-2.5 .7-2.5 .3-2.4 .3-2.5 .3-2.5 .2-2.5 .2-2.5 .2-2.5 .1-2.4 .1-2.5 .1-2.5 0-2.5 0-2.5-.1-2.4-.2-2.5-.2-2.5-.3-2.5-.2-2.5-.3-2.5-.4-2.4-.7-2.5-2.4-2.5-2.8-2.5-3.8-2.5-4.3-2.4-4.9-2.5-5.2-2.5-5.7-2.5-5-2.5-3.6-2.5-.1-2.4 .9-2.5 1.2-2.5 1.3-2.5 1.4-2.5 1.5-2.5 1.6-2.4 1.4-2.5 1.1-2.5 1.1-2.5 1.3-2.5 1.7-2.4 2.7-2.5 3.3-2.5 3.3-2.5 2.5-2.5 2.2-2.5 1.9-2.4 1.6-2.5 1.1z" fill="#0000ff" fill-opacity="0.2"/>
<path d="M1351.4 202.2l1.4-.5 1.4-.8 1.4-.9 1.4-1 1.4-1.2 1.3-1.5 1.4-1.5 1.4-1.7 1.4-1.9 1.4-1.9 1.4-1.9 1.4-1.7 1.4-1.6 1.4-1.6 1.4-1.6 1.4-1.6 1.4-1.6 1.4-1.6 1.4-1.8 1.4-1.8 1.4-1.8 1.3-1.9 1.4-2 1.4-2 1.4-2.1 1.4-2.2 1.4-2.4 1.4-2.5 1.4-2.7 1.4-2.6 1.4-2.6 1.4-2.4 1.4-1.9 1.4-1.2 1.4 .2 1.4 1.9 1.4 2.9 1.3 4.1 1.4 4.1 1.4 3.9 1.4 4 1.4 3.8 1.4 3.6 1.4 3.4 1.4 3.1 1.4 2.6 1.4 2.4 1.4 2.2 1.4 2.1 1.4 2 1.4 2 1.4 1.8 1.4 1.5 1.3 1.5 1.4 1.3 1.4 1.2 1.4 1 1.4 1 1.4 .9 1.4 .8 1.4 .6 1.4 .5 1.4 .5 1.4 .4 1.4 .3 1.4 .3 1.4 .3 1.4 .3 1.4 .3 1.4 .1 1.3 .1 1.4 0 1.4-.1 1.4-.1 1.4-.1 1.4-.2 1.4-.3 1.4-.3 1.4-.4 1.4-.4 1.4-.5 1.4-.6 1.4-.7 1.4-.8 1.4-.8 1.4-.8 1.3-.8 1.4-.8 1.4-.9 1.4-1 1.4-.9 1.4-1 1.4-1 1.4-1.1 1.4-1.1 1.4-1.1 1.4-1.3 1.4-1.4 1.4-1.4 1.4-1.5 1.4-1.6 1.4-1.6 1.3-1.8 1.4-1.7 1.4-1.9 1.4-1.8 1.4-1.9 1.4-1.9 1.4-1.8 1.4-1.7 1.4-1.6 1.4-1.4 1.4-1.1 1.4-.9 1.4-.7 1.4-.4 1.4 0 1.4 .4 1.4 .6 1.3 .8 1.4 1.1 1.4 1.4 1.4 1.4 1.4 1.4 1.4 1.6 1.4 1.6 1.4 1.6 1.4 1.6 1.4 1.5 1.4 1.5 1.4 1.4 1.4 1.4 1.4 1.3 1.4 1.2 1.4 1.1 1.3 1.1 1.4 1 1.4 .9 1.4 1 1.4 .9 1.4 .9 1.4 .9 1.4 .8 1.4 .7 1.4 .7 1.4 .6 1.4 .6 1.4 .5 1.4 .4 1.4 .5 1.4 .4 1.3 .4 1.4 .3 1.4 .3 1.4 .2 1.4 .2 1.4 .2 1.4 .1 1.4 .1 1.4-.1 1.4 0 1.4-.1 1.4-.1 1.4-.2 1.4-.1 1.4-.3 1.4-.3 1.3-.3 1.4-.4 1.4-.5 1.4-.6 1.4-.7 1.4-.7 1.4-.8 1.4-.7 1.4-.9 1.4-.9 1.4-.9 1.4-1 1.4-1 1.4-1 1.4-1.1 1.4-1.1 1.4-1 1.3-1 1.4-1 1.4-1 1.4-.9 1.4-.8 1.4-.7 1.4-.8 1.4-.6 1.4-.6 1.4-.4 1.4-.3 1.4-.3 1.4-.2 1.4 0 1.4 .1 1.4 .2 1.3 .2 1.4 .4 1.4 .3" fill="none" stroke="#0000ff" stroke-width="4.4" stroke-linejoin="round"/>
<path d="M1351.4 172.3l2.5 1.2 2.4 .7 2.5 .3 2.5-.4 2.5-1.1 2.5-2.2 2.5-2.8 2.4-3.3 2.5-3.7 2.5-5.1 2.5-6.1 2.5-6.7 2.4-7 2.5-7.9 2.5-8.7 2.5-9.3 2.5-9.7 2.5-10.8 2.4-10.8 2.5-10.1 2.5-8.3 2.5-5.7 2.5-3.1 2.5-.8 2.4 1.2 2.5 2.3 2.5 2.9 2.5 3.6 2.5 3.9 2.4 4.3 2.5 4.1 2.5 4.1 2.5 4.5 2.5 5 2.5 5.3 2.4 5.8 2.5 6.1 2.5 6.8 2.5 6.5 2.5 5.8 2.4 5.7 2.5 5.6 2.5 5.1 2.5 4.6 2.5 3.9 2.5 3.2 2.4 2.8 2.5 2.2 2.5 1.8 2.5 1.2 2.5 .9 2.4 .3 2.5-.1 2.5-.5 2.5-1.6 2.5-2.2 2.5-3.7 2.4-5 2.5-6.7 2.5-8.3 2.5-9.5 2.5-10.3 2.4-10.3 2.5-10 2.5-8 2.5-6.4 2.5-4.8 2.5-3.9 2.4-2.2 2.5-1.7 2.5-.5 2.5 0 2.5 .5 2.5 1.1 2.4 1.6 2.5 2 2.5 2.1 2.5 2.1 2.5 2.1 2.4 2 2.5 2.1 2.5 2.3 2.5 2.5 2.5 2.7 2.5 2.9 2.4 3.1 2.5 3.3 2.5 3.4 2.5 3.4 2.5 3.2 2.4 2.9 2.5 2.8 2.5 2.6 2.5 2.3 2.5 2.3 2.5 2 2.4 1.3 2.5 1 2.5 .6 2.5 .3 2.5-.3 2.4-1.1 2.5-1.5 2.5-2.5 2.5-3.2 2.5-4 2.5-4.6 2.4-5.1 2.5-4.9 2.5-4.4 2.5-3.8 2.5-3.2 2.5-2.7 2.4-2.1 0 83.5-2.4 .9-2.5 .9-2.5 .8-2.5 .9-2.5 .8-2.5 .8-2.4 .8-2.5 .9-2.5 .8-2.5 .8-2.5 .8-2.5 1-2.4 1.3-2.5 1.3-2.5 1.3-2.5 1.1-2.5 .9-2.4 .6-2.5 .3-2.5 0-2.5-.5-2.5-1-2.5-1.2-2.4-1.7-2.5-1.8-2.5-2.1-2.5-2.5-2.5-3-2.4-3.3-2.5-3.8-2.5-3.8-2.5-3.8-2.5-3.6-2.5-3.5-2.4-2.9-2.5-2.5-2.5-1.6-2.5-.8-2.5-.4-2.4 .3-2.5 .5-2.5 .8-2.5 1-2.5 1.4-2.5 1.7-2.4 2-2.5 2.6-2.5 2.7-2.5 2.8-2.5 3.1-2.5 3.4-2.4 3.2-2.5 3-2.5 2.8-2.5 2.6-2.5 2.4-2.4 2.1-2.5 1.8-2.5 1.2-2.5 .9-2.5 .9-2.5 .8-2.4 .8-2.5 .9-2.5 .6-2.5 .3-2.5 0-2.4-.4-2.5-.6-2.5-1-2.5-1.2-2.5-1.5-2.5-1.8-2.4-2.2-2.5-2.7-2.5-3.1-2.5-3.9-2.5-4.8-2.4-6-2.5-6.8-2.5-7.6-2.5-7.6-2.5-7.7-2.5-6.9-2.4-6.2-2.5-4.8-2.5-3.3-2.5-1.1-2.5 0-2.4 1.1-2.5 1.9-2.5 3.5-2.5 4.3-2.5 4.8-2.5 5.2-2.4 5.8-2.5 5.9-2.5 5-2.5 4.8-2.5 4.5-2.5 4.2-2.4 4-2.5 3.9-2.5 3.7-2.5 3.2-2.5 2.5-2.4 2.2-2.5 1.9-2.5 1.4-2.5 .8-2.5 0-2.5-.5-2.4-.9-2.5-1.3z" fill="#ff00ff" fill-opacity="0.2"/>
<path d="M1351.4 174.1l1.4 .6 1.4 .5 1.4 .4 1.4 .3 1.4 .2 1.3 .1 1.4 0 1.4-.3 1.4-.6 1.4-1 1.4-1 1.4-1.3 1.4-1.5 1.4-1.8 1.4-1.9 1.4-2.1 1.4-2.3 1.4-2.5 1.4-2.5 1.4-2.6 1.4-2.8 1.3-2.9 1.4-3.2 1.4-3.6 1.4-3.8 1.4-4 1.4-4 1.4-4.1 1.4-4.2 1.4-4.3 1.4-4.7 1.4-4.8 1.4-4.7 1.4-4.3 1.4-4.1 1.4-3.9 1.4-3.5 1.3-2.9 1.4-2.7 1.4-2.1 1.4-1.3 1.4-.9 1.4-.7 1.4-.3 1.4 .2 1.4 .4 1.4 .6 1.4 1.2 1.4 1.8 1.4 2 1.4 2.1 1.4 2.5 1.4 2.7 1.3 2.8 1.4 3.1 1.4 3.3 1.4 3.3 1.4 3.3 1.4 3.3 1.4 3.2 1.4 3.3 1.4 3.2 1.4 3.3 1.4 3.3 1.4 3.2 1.4 3.2 1.4 3.1 1.4 3 1.4 2.9 1.4 2.7 1.3 2.6 1.4 2.5 1.4 2.4 1.4 2.2 1.4 2.2 1.4 2 1.4 1.8 1.4 1.8 1.4 1.7 1.4 1.5 1.4 1.2 1.4 1.2 1.4 1 1.4 .9 1.4 .7 1.4 .7 1.3 .6 1.4 .4 1.4 .3 1.4 .1 1.4 .1 1.4 0 1.4-.1 1.4-.3 1.4-.4 1.4-.4 1.4-.9 1.4-1.1 1.4-1.2 1.4-1.3 1.4-1.5 1.4-1.7 1.3-1.9 1.4-2 1.4-2.2 1.4-2.4 1.4-2.6 1.4-2.8 1.4-3 1.4-3.2 1.4-3.2 1.4-3.5 1.4-3.6 1.4-3.5 1.4-3.3 1.4-3.2 1.4-3.1 1.4-2.8 1.4-2.4 1.3-2.3 1.4-2.1 1.4-1.7 1.4-1.4 1.4-1.3 1.4-1.1 1.4-.7 1.4-.7 1.4-.5 1.4-.4 1.4-.1 1.4 0 1.4 .1 1.4 .3 1.4 .4 1.4 .7 1.3 .8 1.4 1 1.4 1.1 1.4 1.3 1.4 1.4 1.4 1.4 1.4 1.4 1.4 1.4 1.4 1.6 1.4 1.6 1.4 1.7 1.4 1.8 1.4 1.8 1.4 1.8 1.4 1.7 1.4 1.7 1.3 1.7 1.4 1.7 1.4 1.6 1.4 1.6 1.4 1.6 1.4 1.7 1.4 1.6 1.4 1.7 1.4 1.5 1.4 1.5 1.4 1.4 1.4 1.4 1.4 1.2 1.4 1.2 1.4 1.1 1.4 1 1.3 .8 1.4 .7 1.4 .7 1.4 .5 1.4 .5 1.4 .4 1.4 .4 1.4 .2 1.4 .1 1.4 .1 1.4-.1 1.4-.1 1.4-.3 1.4-.5 1.4-.6 1.4-.6 1.4-.8 1.3-1 1.4-1.1 1.4-1.1 1.4-1.3 1.4-1.5 1.4-1.5 1.4-1.6 1.4-1.6 1.4-1.7 1.4-1.6 1.4-1.7 1.4-1.7 1.4-1.6 1.4-1.4 1.4-1.4 1.4-1.4 1.3-1.2 1.4-1.2 1.4-1.1" fill="none" stroke="#ff00ff" stroke-width="4.4" stroke-linejoin="round"/>
</g>
<g clip-path="url(#c03)">
<path d="M1407.3 50.3H1446.8V207.3H1407.3ZM1535.6 50.3H1575.1V207.3H1535.6Z" fill="#f00" fill-opacity="0.105"/>
<path d="M1351.3 50.3H1407.3V207.3H1351.3ZM1446.8 50.3H1535.6V207.3H1446.8ZM1575.1 50.3H1633.7V207.3H1575.1Z" fill="#0f0" fill-opacity="0.105"/>
<path d="M1351.3 57.3H1633.7" stroke="#f00" stroke-opacity="0.74" stroke-width="4" stroke-dasharray="15.4 14.93" fill="none"/>
</g>
<path d="M1428.6 50.3v3.2M1428.6 207.3v-3.2M1505.9 50.3v3.2M1505.9 207.3v-3.2M1583.3 50.3v3.2M1583.3 207.3v-3.2M1633.7 73h-3.4M1633.7 140.3h-3.4M1633.7 49.4V208.2" stroke="#000" stroke-width="1.7" fill="none"/>
<path d="M1351.3 49.4V208.2M1351.3 103.3h3.6M1351.3 207.3h3.6" stroke="#f00" stroke-width="1.8" fill="none"/>
<text x="1645.9" y="81.1" class="t">1</text>
<text x="1645.9" y="148.4" class="t">0.5</text>
<text x="1645.9" y="215.1" class="t">0</text>
<text x="1339" y="111" class="t r" text-anchor="end">1</text>
<text x="1339" y="215" class="t r" text-anchor="end">0</text>
<text x="1351" y="238.7" class="t" text-anchor="middle">0</text>
<text x="1428.6" y="238.7" class="t" text-anchor="middle">100</text>
<text x="1505.9" y="238.7" class="t" text-anchor="middle">200</text>
<text x="1583.3" y="238.7" class="t" text-anchor="middle">300</text>
<text x="1348.9" y="40.3" class="x r">×</text>
<text x="1371.2" y="37.6" class="t r">10</text>
<text x="1398.9" y="25" class="s r">−4</text>
<text x="1638.6" y="40.3" class="x">×</text>
<text x="1660.9" y="37.6" class="t">10</text>
<text x="1688.6" y="25" class="s">−3</text>
<text x="1492.5" y="36.4" class="h" text-anchor="middle">Basilicata</text>
</g>
<g id="p10">
<path d="M33.3 298.4H317.7M33.3 457.5H317.7" stroke="#000" stroke-width="1.7" fill="none"/>
<path d="M111.2 298.4V457.5M189 298.4V457.5M266.9 298.4V457.5" stroke="#000" stroke-opacity="0.22" stroke-width="1.4" fill="none"/>
<path d="M33.3 352.1H317.7" stroke="#f00" stroke-opacity="0.22" stroke-width="1.4" fill="none"/>
<g clip-path="url(#c10b)">
<path d="M33.4 450.4l2.5 .6 2.5 .2 2.5-.3 2.5-.7 2.5-1.2 2.5-1.7 2.5-2.5 2.5-3.3 2.5-3.9 2.5-4.2 2.5-4.1 2.5-3.8 2.4-3.6 2.5-3.6 2.5-1.8 2.5 .8 2.5 2.4 2.5 3 2.5 3.2 2.5 3.6 2.5 3.7 2.5 3.1 2.5 2.2 2.5 1.9 2.5 1.5 2.5 1.1 2.5 .6 2.5 .3 2.5-.1 2.5-.5 2.5-1 2.5-1.8 2.5-2.4 2.5-2.6 2.5-2.6 2.5-2.5 2.5-2.8 2.5-2.6 2.5-2.2 2.5-1.6 2.5-1.2 2.5-.3 2.5 .5 2.5 1.4 2.5 1.8 2.5 2.4 2.5 3 2.5 3 2.5 2.6 2.5 1.9 2.5 1.8 2.4 1.5 2.5 1 2.5 .3 2.5 0 2.5-.5 2.5-.8 2.5-1.2 2.5-1.8 2.5-2 2.5-2.1 2.5-1.8 2.5-1.6 2.5-1.7 2.5-1.4 2.5-1.1 2.5-.7 2.5-.5 2.5 .1 2.5 .5 2.5 .9 2.5 1.1 2.5 1.2 2.5 1.6 2.5 1.6 2.5 1.5 2.5 1.1 2.5 .9 2.5 .8 2.5 .4 2.5 0 2.5-.2 2.5-.4 2.5-.5 2.5-.6 2.5-.6 2.5-.6 2.5-.8 2.5-.7 2.5-.8 2.4-.7 2.5-.5 2.5-.4 2.5-.5 2.5-.3 2.5-.2 2.5 0 2.5 .1 2.5 .1 2.5 .2 2.5 .1 2.5 .2 2.5 .2 2.5 .3 2.5 .2 2.5 .3 2.5 .2 2.5 .1 2.5 .1 2.5 .1 2.5-.1 2.5-.1 2.5-.1 2.5-.2 0 14.4-2.5 .1-2.5 0-2.5-.1-2.5-.1-2.5-.1-2.5-.2-2.5-.2-2.5-.3-2.5-.4-2.5-.4-2.5-.3-2.5-.2-2.5-.2-2.5-.2-2.5-.2-2.5-.1-2.5-.1-2.5 .1-2.5 .1-2.5 .2-2.5 .3-2.5 .2-2.5 .4-2.4 .5-2.5 .5-2.5 .5-2.5 .5-2.5 .4-2.5 .4-2.5 .4-2.5 .4-2.5 .2-2.5 .2-2.5 0-2.5-.4-2.5-.5-2.5-.6-2.5-.6-2.5-.9-2.5-.9-2.5-.9-2.5-.7-2.5-.6-2.5-.6-2.5-.3-2.5 0-2.5 .4-2.5 .5-2.5 .6-2.5 .9-2.5 .9-2.5 .9-2.5 .9-2.5 1.1-2.5 1-2.5 .9-2.5 .6-2.5 .4-2.5 .2-2.5 .1-2.5-.2-2.5-.4-2.4-.7-2.5-1-2.5-1.1-2.5-1.6-2.5-2-2.5-2.1-2.5-1.9-2.5-1.6-2.5-1.4-2.5-.7-2.5 .1-2.5 .8-2.5 1.2-2.5 1.8-2.5 2.1-2.5 2.1-2.5 1.6-2.5 1.4-2.5 1.2-2.5 1-2.5 .7-2.5 .3-2.5-.1-2.5-.3-2.5-.5-2.5-.6-2.5-1.1-2.5-1.5-2.5-1.9-2.5-2.1-2.5-3.1-2.5-3.7-2.5-3.7-2.5-3.2-2.5-2.9-2.5-2.5-2.5-.8-2.5 1.8-2.5 3.6-2.4 3.6-2.5 3.8-2.5 4.1-2.5 4.2-2.5 3.9-2.5 3.4-2.5 2.4-2.5 1.6-2.5 1-2.5 .4-2.5-.2-2.5-.5-2.5-.9z" fill="#ff0000" fill-opacity="0.2"/>
<path d="M33.4 451.3l1.4 .7 1.4 .6 1.4 .4 1.4 .1 1.4-.1 1.4-.3 1.4-.4 1.3-.5 1.4-.9 1.4-1 1.4-1.2 1.4-1.1 1.4-1.4 1.4-1.4 1.4-1.6 1.4-1.9 1.4-2 1.4-2.3 1.4-2.4 1.4-2.8 1.4-2.9 1.4-2.8 1.4-2.7 1.4-2.4 1.4-1.4 1.4-1 1.4-.3 1.4 .3 1.4 .7 1.4 1.2 1.3 1.6 1.4 1.9 1.4 1.9 1.4 2.2 1.4 2.2 1.4 2 1.4 1.9 1.4 1.7 1.4 1.6 1.4 1.4 1.4 1.3 1.4 1.2 1.4 1 1.4 .8 1.4 .6 1.4 .6 1.4 .5 1.4 .4 1.4 .3 1.4 .2 1.4 .2 1.4 0 1.4-.1 1.3-.1 1.4-.3 1.4-.3 1.4-.6 1.4-.8 1.4-.8 1.4-1 1.4-1.3 1.4-1.3 1.4-1.3 1.4-1.4 1.4-1.5 1.4-1.4 1.4-1.2 1.4-1.2 1.4-1 1.4-.9 1.4-.7 1.4-.7 1.4-.4 1.4-.2 1.4 0 1.3 .2 1.4 .4 1.4 .6 1.4 .8 1.4 .9 1.4 1 1.4 1.3 1.4 1.3 1.4 1.3 1.4 1.3 1.4 1.2 1.4 1.1 1.4 1.1 1.4 .9 1.4 .9 1.4 .7 1.4 .5 1.4 .5 1.4 .4 1.4 .3 1.4 .1 1.4 .1 1.4 0 1.3-.1 1.4-.2 1.4-.3 1.4-.3 1.4-.5 1.4-.5 1.4-.5 1.4-.7 1.4-.7 1.4-.8 1.4-.8 1.4-.8 1.4-.8 1.4-.8 1.4-.7 1.4-.7 1.4-.6 1.4-.6 1.4-.4 1.4-.4 1.4-.2 1.4-.3 1.4-.1 1.3-.1 1.4 0 1.4 .1 1.4 .1 1.4 .2 1.4 .3 1.4 .4 1.4 .4 1.4 .5 1.4 .6 1.4 .5 1.4 .6 1.4 .6 1.4 .6 1.4 .6 1.4 .5 1.4 .4 1.4 .4 1.4 .4 1.4 .2 1.4 .2 1.4 .2 1.4 .1 1.3 0 1.4-.1 1.4 0 1.4-.2 1.4-.1 1.4-.2 1.4-.2 1.4-.3 1.4-.3 1.4-.3 1.4-.3 1.4-.4 1.4-.3 1.4-.3 1.4-.3 1.4-.3 1.4-.2 1.4-.3 1.4-.2 1.4-.2 1.4-.1 1.4-.2 1.4-.2 1.3-.1 1.4-.1 1.4-.1 1.4 0 1.4 0 1.4 0 1.4 0 1.4 0 1.4 .1 1.4 .1 1.4 .1 1.4 .1 1.4 .2 1.4 .1 1.4 .2 1.4 .2 1.4 .2 1.4 .2 1.4 .1 1.4 .2 1.4 .2 1.4 .2 1.4 .1 1.3 .2 1.4 .1 1.4 .1 1.4 .2 1.4 .1 1.4 .1 1.4 .1 1.4 0 1.4 .1 1.4 0 1.4 0 1.4 .1 1.4 0 1.4 0" fill="none" stroke="#ff0000" stroke-width="4.4" stroke-linejoin="round"/>
<path d="M33.4 454.8l2.5 .5 2.5-.3 2.5-1.1 2.5-1.9 2.5-2.7 2.5-3.4 2.5-4.8 2.5-7 2.5-8.2 2.5-8.4 2.5-9.9 2.5-9.1 2.4 .4 2.5 8 2.5 12.7 2.5 11.1 2.5 7.2 2.5 6.4 2.5 4.8 2.5 2.3 2.5 1 2.5 .7 2.5 .5 2.5 0 2.5-.4 2.5-.9 2.5-1.1 2.5-1.5 2.5-1.8 2.5-2.3 2.5-2.8 2.5-4.5 2.5-5.6 2.5-5.3 2.5-5.5 2.5-3.8 2.5-2.1 2.5-.7 2.5 .7 2.5 2 2.5 4.1 2.5 5.1 2.5 4.6 2.5 4.7 2.5 4.3 2.5 3.5 2.5 2.5 2.5 2.2 2.5 1.6 2.5 .9 2.5 0 2.4-1.1 2.5-1.6 2.5-2 2.5-2.4 2.5-2.4 2.5-2.5 2.5-2.8 2.5-3 2.5-2.7 2.5-2 2.5-1.9 2.5-1.4 2.5-.8 2.5-.3 2.5 .1 2.5 .7 2.5 1.3 2.5 1.9 2.5 2.3 2.5 2.1 2.5 2.1 2.5 2.3 2.5 2.2 2.5 1.8 2.5 1 2.5 .2 2.5-.2 2.5-.6 2.5-.7 2.5-.8 2.5-.9 2.5-.9 2.5-1.1 2.5-1 2.5-.9 2.5-.8 2.5-.7 2.5-.7 2.5-.6 2.4-.5 2.5-.3 2.5 .1 2.5 .2 2.5 .3 2.5 .4 2.5 .3 2.5 .4 2.5 .3 2.5 .4 2.5 .3 2.5 .4 2.5 .3 2.5 .2 2.5 .1 2.5 0 2.5 0 2.5 0 2.5-.1 2.5-.1 2.5-.1 2.5-.2 2.5-.2 2.5-.3 0 23.7-2.5 .3-2.5 .2-2.5 .2-2.5 .2-2.5 .2-2.5 .2-2.5 .2-2.5 .2-2.5 .1-2.5 .2-2.5 .1-2.5 .1-2.5 .1-2.5 .1-2.5 .1-2.5 .1-2.5 0-2.5 .1-2.5 0-2.5 0-2.5 0-2.5 0-2.5-.1-2.4 0-2.5-.1-2.5-.1-2.5-.1-2.5-.1-2.5-.2-2.5-.1-2.5-.2-2.5-.2-2.5-.2-2.5-.2-2.5-.3-2.5-.2-2.5-.3-2.5-.3-2.5-.5-2.5-.6-2.5-.8-2.5-.7-2.5-.8-2.5-1-2.5-1.1-2.5-1.1-2.5-.9-2.5-.5-2.5 .1-2.5 .4-2.5 .7-2.5 .8-2.5 1-2.5 1.3-2.5 1.3-2.5 1.3-2.5 1-2.5 .8-2.5 .6-2.5 .4-2.5 .4-2.5 .1-2.4 0-2.5-.1-2.5-.3-2.5-.5-2.5-.7-2.5-.9-2.5-1.7-2.5-2.3-2.5-2.5-2.5-2.3-2.5-2-2.5-2.1-2.5-1.4-2.5-.3-2.5 .7-2.5 1.4-2.5 1.5-2.5 1.8-2.5 2.1-2.5 2.1-2.5 1.6-2.5 1.1-2.5 .8-2.5 .6-2.5 .5-2.5 .3-2.5 .2-2.5 .1-2.5 .1-2.5 0-2.5-.5-2.5-1.1-2.5-1.8-2.5-2.2-2.5-4.4-2.5-7.9-2.5-8.5-2.5-7.4-2.5-6.6-2.4 .5-2.5 6.5-2.5 6.5-2.5 5.2-2.5 5.1-2.5 4.4-2.5 3-2.5 2.3-2.5 1.9-2.5 1.6-2.5 1-2.5 .6-2.5 .1z" fill="#0000ff" fill-opacity="0.2"/>
<path d="M33.4 455.7l1.4-.1 1.4-.3 1.4-.3 1.4-.4 1.4-.6 1.4-.7 1.4-.9 1.3-.9 1.4-1.2 1.4-1.6 1.4-1.7 1.4-2.1 1.4-2.6 1.4-3.1 1.4-3.3 1.4-3.7 1.4-4 1.4-4.1 1.4-4.4 1.4-4.3 1.4-3.4 1.4-2.3 1.4-.8 1.4 1.2 1.4 3.6 1.4 5.8 1.4 5.6 1.4 5.8 1.4 5.1 1.4 4.5 1.3 3.9 1.4 2.8 1.4 2.1 1.4 1.8 1.4 1.4 1.4 .8 1.4 .7 1.4 .6 1.4 .5 1.4 .2 1.4 .1 1.4 0 1.4 0 1.4-.1 1.4-.1 1.4-.3 1.4-.3 1.4-.5 1.4-.5 1.4-.5 1.4-.6 1.4-.7 1.4-.9 1.3-1 1.4-1.1 1.4-1.3 1.4-1.6 1.4-1.7 1.4-1.8 1.4-1.9 1.4-1.9 1.4-1.9 1.4-1.7 1.4-1.6 1.4-1.4 1.4-1 1.4-.8 1.4-.6 1.4-.3 1.4 .3 1.4 .7 1.4 .9 1.4 1.4 1.4 1.7 1.4 1.8 1.3 2.1 1.4 2.2 1.4 2.1 1.4 1.9 1.4 1.8 1.4 1.6 1.4 1.5 1.4 1.3 1.4 1.1 1.4 1 1.4 .9 1.4 .6 1.4 .4 1.4 .3 1.4 .2 1.4 .1 1.4-.1 1.4-.2 1.4-.4 1.4-.5 1.4-.5 1.4-.6 1.4-.8 1.3-.8 1.4-.9 1.4-1 1.4-1 1.4-1 1.4-1.1 1.4-1.1 1.4-1.1 1.4-.9 1.4-.9 1.4-.9 1.4-.7 1.4-.7 1.4-.6 1.4-.6 1.4-.4 1.4-.3 1.4-.1 1.4 .1 1.4 .2 1.4 .3 1.4 .4 1.4 .7 1.3 .7 1.4 .7 1.4 .8 1.4 .8 1.4 .8 1.4 .8 1.4 .8 1.4 .7 1.4 .7 1.4 .7 1.4 .6 1.4 .6 1.4 .6 1.4 .4 1.4 .4 1.4 .2 1.4 .1 1.4 0 1.4-.1 1.4-.2 1.4-.2 1.4-.4 1.4-.3 1.3-.4 1.4-.4 1.4-.4 1.4-.5 1.4-.4 1.4-.4 1.4-.4 1.4-.4 1.4-.4 1.4-.4 1.4-.3 1.4-.3 1.4-.2 1.4-.2 1.4-.2 1.4-.1 1.4-.1 1.4-.1 1.4-.1 1.4-.1 1.4-.1 1.4 0 1.4 .1 1.3 .1 1.4 .1 1.4 .1 1.4 .2 1.4 .1 1.4 .2 1.4 .3 1.4 .2 1.4 .2 1.4 .2 1.4 .2 1.4 .2 1.4 .3 1.4 .2 1.4 .2 1.4 .2 1.4 .1 1.4 .2 1.4 .1 1.4 .1 1.4 .1 1.4 .1 1.4 .1 1.3 0 1.4 0 1.4 0 1.4 0 1.4 0 1.4 0 1.4 0 1.4-.1 1.4 0 1.4 0 1.4-.1 1.4 0 1.4-.1 1.4-.1" fill="none" stroke="#0000ff" stroke-width="4.4" stroke-linejoin="round"/>
<path d="M33.4 433.2l2.5 .9 2.5 .1 2.5-.8 2.5-1.5 2.5-2.1 2.5-2.6 2.5-3.6 2.5-6.1 2.5-7.9 2.5-9.5 2.5-12.8 2.5-16.2 2.4-15.6 2.5-14.8 2.5-11.9 2.5-8.9 2.5-4.7 2.5-2.6 2.5 0 2.5 1.7 2.5 3.3 2.5 4.3 2.5 5.5 2.5 5.5 2.5 5.2 2.5 4.7 2.5 4 2.5 3.4 2.5 2.9 2.5 2.2 2.5 1.5 2.5 .9 2.5-.9 2.5-2.7 2.5-5.4 2.5-6.8 2.5-8 2.5-8.5 2.5-8.4 2.5-6.7 2.5-5.3 2.5-3.1 2.5-2.2 2.5-.5 2.5 .7 2.5 1.7 2.5 2.9 2.5 3.8 2.5 4.5 2.5 4.9 2.5 5.1 2.4 4.9 2.5 4.6 2.5 3.5 2.5 2.7 2.5 1.6 2.5 .9 2.5-.1 2.5-.9 2.5-1.7 2.5-2.8 2.5-3.6 2.5-4.5 2.5-4.6 2.5-4.7 2.5-3.9 2.5-3.3 2.5-2.4 2.5-2 2.5-.9 2.5-.3 2.5 .4 2.5 1.2 2.5 1.6 2.5 2 2.5 2.3 2.5 2.5 2.5 2.5 2.5 2.2 2.5 2 2.5 1.6 2.5 1.3 2.5 .8 2.5 .4 2.5-.1 2.5-.5 2.5-.7 2.5-1.1 2.5-1.3 2.5-1.4 2.4-1.7 2.5-1.5 2.5-1.4 2.5-1.3 2.5-1 2.5-.8 2.5-.6 2.5-.3 2.5-.1 2.5 .1 2.5 .2 2.5 .4 2.5 .5 2.5 .6 2.5 .7 2.5 .7 2.5 .6 2.5 .5 2.5 .5 2.5 .5 2.5 .4 2.5 .5 2.5 .5 2.5 .5 0 52.7-2.5-.7-2.5-.7-2.5-.7-2.5-.8-2.5-.8-2.5-.8-2.5-.7-2.5-.5-2.5-.5-2.5-.3-2.5 0-2.5 .3-2.5 .5-2.5 .8-2.5 1.2-2.5 1.2-2.5 1.4-2.5 1.4-2.5 1.4-2.5 1.3-2.5 1.2-2.5 .8-2.5 .5-2.4 .3-2.5-.1-2.5-.4-2.5-.6-2.5-.9-2.5-1.2-2.5-1.2-2.5-1.5-2.5-1.6-2.5-1.9-2.5-2.2-2.5-2.3-2.5-2.2-2.5-2.1-2.5-1.6-2.5-1.1-2.5-.5-2.5 .3-2.5 .7-2.5 1.6-2.5 2.1-2.5 2.8-2.5 3.2-2.5 3.8-2.5 3.8-2.5 3.7-2.5 3.1-2.5 1.8-2.5 1-2.5-.1-2.5-.5-2.5-.9-2.5-1.4-2.5-1.6-2.5-2.1-2.5-2.4-2.5-2.9-2.5-3.4-2.5-4.1-2.4-4.5-2.5-4.7-2.5-4.4-2.5-3.9-2.5-2.4-2.5-1-2.5 .2-2.5 1.4-2.5 2.2-2.5 4.3-2.5 5.4-2.5 6.7-2.5 7.1-2.5 7.4-2.5 5.4-2.5 3.4-2.5 .8-2.5-.2-2.5-.8-2.5-.9-2.5-1.3-2.5-1.5-2.5-2.1-2.5-2.5-2.5-3-2.5-3.6-2.5-3.9-2.5-4.3-2.5-4.6-2.5-4.7-2.5-4-2.5-3.3-2.5-2-2.5-.4-2.5 2-2.5 3.7-2.5 6.8-2.5 8.5-2.5 10.6-2.4 12.7-2.5 14-2.5 10.3-2.5 6.6-2.5 5.4-2.5 4-2.5 2.3-2.5 1.6-2.5 1.5-2.5 1.1-2.5 .6-2.5 .2-2.5-.6z" fill="#ff00ff" fill-opacity="0.2"/>
<path d="M33.4 434.9l1.4 .1 1.4 0 1.4 0 1.4-.1 1.4-.3 1.4-.3 1.4-.4 1.3-.6 1.4-1.1 1.4-1.3 1.4-1.5 1.4-1.6 1.4-2.2 1.4-2.6 1.4-2.9 1.4-3.7 1.4-4.6 1.4-5.3 1.4-6.2 1.4-7.4 1.4-7.8 1.4-8.5 1.4-8.4 1.4-8.2 1.4-7.7 1.4-6.5 1.4-5.8 1.4-4.4 1.4-3.2 1.4-2.4 1.3-1.2 1.4-.7 1.4-.2 1.4 .5 1.4 .9 1.4 1.2 1.4 1.8 1.4 2.1 1.4 2.3 1.4 2.4 1.4 2.6 1.4 2.7 1.4 2.6 1.4 2.6 1.4 2.6 1.4 2.5 1.4 2.3 1.4 2.2 1.4 2.1 1.4 1.9 1.4 1.8 1.4 1.7 1.4 1.4 1.3 1.2 1.4 1 1.4 .8 1.4 .6 1.4 .2 1.4 0 1.4-.2 1.4-.8 1.4-1.2 1.4-1.6 1.4-2.3 1.4-2.6 1.4-3.1 1.4-3.6 1.4-3.9 1.4-3.9 1.4-4 1.4-4 1.4-3.5 1.4-3.3 1.4-3 1.4-2.5 1.3-2.3 1.4-2 1.4-1.3 1.4-.9 1.4-.6 1.4 0 1.4 .3 1.4 .6 1.4 1.1 1.4 1.5 1.4 1.7 1.4 2 1.4 2.3 1.4 2.4 1.4 2.5 1.4 2.6 1.4 2.6 1.4 2.5 1.4 2.2 1.4 2.2 1.4 2 1.4 1.8 1.4 1.8 1.3 1.6 1.4 1.4 1.4 1 1.4 1 1.4 .8 1.4 .6 1.4 .4 1.4 .2 1.4 .1 1.4-.2 1.4-.5 1.4-.7 1.4-.8 1.4-1.1 1.4-1.4 1.4-1.5 1.4-1.6 1.4-1.9 1.4-1.9 1.4-1.9 1.4-2 1.4-2.1 1.4-2 1.3-1.7 1.4-1.6 1.4-1.5 1.4-1.3 1.4-1 1.4-.9 1.4-.7 1.4-.5 1.4-.2 1.4-.1 1.4 0 1.4 .3 1.4 .6 1.4 .6 1.4 .9 1.4 1 1.4 1.2 1.4 1.2 1.4 1.3 1.4 1.3 1.4 1.4 1.4 1.3 1.4 1.2 1.3 1.2 1.4 1.1 1.4 1 1.4 .8 1.4 .8 1.4 .6 1.4 .6 1.4 .4 1.4 .3 1.4 .3 1.4 .2 1.4 .1 1.4 0 1.4-.1 1.4-.2 1.4-.3 1.4-.4 1.4-.5 1.4-.5 1.4-.6 1.4-.5 1.4-.6 1.4-.7 1.3-.6 1.4-.7 1.4-.6 1.4-.5 1.4-.6 1.4-.5 1.4-.5 1.4-.5 1.4-.4 1.4-.4 1.4-.3 1.4-.3 1.4-.3 1.4-.1 1.4-.2 1.4-.1 1.4-.1 1.4 .1 1.4 0 1.4 .2 1.4 .2 1.4 .2 1.4 .3 1.3 .2 1.4 .4 1.4 .3 1.4 .4 1.4 .4 1.4 .4 1.4 .4 1.4 .4 1.4 .4 1.4 .3 1.4 .4 1.4 .3 1.4 .3 1.4 .2" fill="none" stroke="#ff00ff" stroke-width="4.4" stroke-linejoin="round"/>
</g>
<g clip-path="url(#c10)">
<path d="M65 298.4H91V457.5H65ZM129.3 298.4H156.9V457.5H129.3ZM198.2 298.4H224.9V457.5H198.2ZM267.7 298.4H293.1V457.5H267.7Z" fill="#f00" fill-opacity="0.105"/>
<path d="M33.3 298.4H65V457.5H33.3ZM91 298.4H129.3V457.5H91ZM156.9 298.4H198.2V457.5H156.9ZM224.9 298.4H267.7V457.5H224.9ZM293.1 298.4H317.7V457.5H293.1Z" fill="#0f0" fill-opacity="0.105"/>
<path d="M33.3 305.9H317.7" stroke="#f00" stroke-opacity="0.74" stroke-width="4" stroke-dasharray="15.4 14.93" fill="none"/>
</g>
<path d="M111.2 298.4v3.2M111.2 457.5v-3.2M189 298.4v3.2M189 457.5v-3.2M266.9 298.4v3.2M266.9 457.5v-3.2M317.7 316.8h-3.4M317.7 387.1h-3.4M317.7 297.6V458.3" stroke="#000" stroke-width="1.7" fill="none"/>
<path d="M33.3 297.6V458.3M33.3 352.1h3.6M33.3 457.5h3.6" stroke="#f00" stroke-width="1.8" fill="none"/>
<text x="329.9" y="324.9" class="t">2</text>
<text x="329.9" y="395.2" class="t">1</text>
<text x="329.9" y="465.3" class="t">0</text>
<text x="21" y="359.8" class="t r" text-anchor="end">1</text>
<text x="21" y="465.2" class="t r" text-anchor="end">0</text>
<text x="33" y="488.9" class="t" text-anchor="middle">0</text>
<text x="111.2" y="488.9" class="t" text-anchor="middle">100</text>
<text x="189" y="488.9" class="t" text-anchor="middle">200</text>
<text x="266.9" y="488.9" class="t" text-anchor="middle">300</text>
<text x="30.9" y="288.4" class="x r">×</text>
<text x="53.2" y="285.7" class="t r">10</text>
<text x="80.9" y="273.1" class="s r">−4</text>
<text x="319.8" y="288.4" class="x">×</text>
<text x="342.1" y="285.7" class="t">10</text>
<text x="369.8" y="273.1" class="s">−3</text>
<text x="175.5" y="284.5" class="h" text-anchor="middle">Calabria</text>
</g>
<g id="p11">
<path d="M473.1 298.4H757.5M473.1 457.5H757.5" stroke="#000" stroke-width="1.7" fill="none"/>
<path d="M551 298.4V457.5M628.9 298.4V457.5M706.7 298.4V457.5" stroke="#000" stroke-opacity="0.22" stroke-width="1.4" fill="none"/>
<path d="M473.1 352.1H757.5" stroke="#f00" stroke-opacity="0.22" stroke-width="1.4" fill="none"/>
<g clip-path="url(#c11b)">
<path d="M472.9 446l2.5-3.4 2.5-3.4 2.5-3.2 2.5-2.7 2.5-2.2 2.5-1.4 2.5-1 2.5-1 2.5-.9 2.5-.7 2.5-.5 2.5-.1 2.5 0 2.5 .1 2.5 .2 2.5 .2 2.5 .3 2.5 .3 2.5 .4 2.5 .6 2.5 .5 2.5 .6 2.5 .7 2.4 .7 2.5 .7 2.5 .7 2.5 .7 2.5 .7 2.5 .7 2.5 .6 2.5 .6 2.5 .6 2.5 .7 2.5 .6 2.5 .6 2.5 .6 2.5 .6 2.5 .5 2.5 .5 2.5 .5 2.5 .4 2.5 .4 2.5 .3 2.5 .3 2.5 .3 2.5 .2 2.5 .2 2.5 .2 2.5 .1 2.5 .1 2.5 0 2.5-.1 2.5-.2 2.5-.3 2.5-.3 2.5-.3 2.5-.5 2.5-.6 2.5-.7 2.5-.8 2.5-.9 2.5-1 2.4-1.1 2.5-1.2 2.5-1.3 2.5-1.4 2.5-1.3 2.5-1.4 2.5-1.6 2.5-1.6 2.5-1.4 2.5-1 2.5-1 2.5-.8 2.5-.6 2.5-.3 2.5-.2 2.5-.1 2.5 .1 2.5 .3 2.5 .4 2.5 .6 2.5 .8 2.5 .9 2.5 .9 2.5 .8 2.5 .9 2.5 .8 2.5 .9 2.5 .8 2.5 .8 2.5 .8 2.5 .8 2.5 .8 2.5 .7 2.5 .7 2.5 .6 2.5 .6 2.5 .5 2.5 .5 2.5 .5 2.4 .5 2.5 .4 2.5 .4 2.5 .4 2.5 .3 2.5 .2 2.5 .2 2.5 .1 2.5 .2 2.5 .1 2.5 .1 2.5 .1 2.5 0 0 7-2.5 0-2.5-.1-2.5 0-2.5-.1-2.5-.1-2.5-.1-2.5-.1-2.5-.1-2.5-.1-2.5-.1-2.5-.1-2.5-.1-2.4-.2-2.5-.2-2.5-.2-2.5-.3-2.5-.2-2.5-.3-2.5-.3-2.5-.3-2.5-.3-2.5-.3-2.5-.4-2.5-.3-2.5-.3-2.5-.3-2.5-.4-2.5-.3-2.5-.3-2.5-.3-2.5-.2-2.5-.2-2.5-.1-2.5-.2-2.5-.1-2.5 0-2.5 0-2.5 .1-2.5 .2-2.5 .2-2.5 .3-2.5 .4-2.5 .6-2.5 .6-2.5 .8-2.5 .7-2.5 .6-2.5 .6-2.5 .6-2.5 .6-2.5 .6-2.4 .5-2.5 .4-2.5 .4-2.5 .4-2.5 .3-2.5 .2-2.5 .2-2.5 .1-2.5 0-2.5 .1-2.5-.1-2.5 0-2.5-.1-2.5-.2-2.5-.2-2.5-.2-2.5-.3-2.5-.3-2.5-.3-2.5-.3-2.5-.4-2.5-.4-2.5-.5-2.5-.6-2.5-.6-2.5-.6-2.5-.7-2.5-.6-2.5-.7-2.5-.8-2.5-.7-2.5-.6-2.5-.7-2.5-.8-2.5-.7-2.5-.8-2.5-.8-2.5-.8-2.5-.8-2.4-.8-2.5-.7-2.5-.7-2.5-.6-2.5-.6-2.5-.4-2.5-.4-2.5-.2-2.5-.2-2.5-.2-2.5-.1-2.5 0-2.5 .2-2.5 .5-2.5 .7-2.5 .8-2.5 1-2.5 1-2.5 1.3-2.5 2-2.5 2.4-2.5 2.8-2.5 3-2.5 3.1z" fill="#ff0000" fill-opacity="0.2"/>
<path d="M472.9 446.9l1.4-2.5 1.4-2.1 1.4-1.9 1.4-1.6 1.4-1.6 1.4-1.5 1.4-1.2 1.4-.9 1.4-.9 1.4-.8 1.4-.7 1.4-.6 1.4-.5 1.3-.6 1.4-.4 1.4-.4 1.4-.4 1.4-.3 1.4-.3 1.4-.2 1.4-.2 1.4-.1 1.4-.1 1.4 0 1.4-.1 1.4 0 1.4 .1 1.4 .2 1.4 .2 1.4 .2 1.4 .2 1.4 .3 1.4 .3 1.4 .3 1.4 .3 1.4 .3 1.3 .4 1.4 .3 1.4 .4 1.4 .4 1.4 .4 1.4 .4 1.4 .4 1.4 .4 1.4 .5 1.4 .4 1.4 .4 1.4 .4 1.4 .4 1.4 .5 1.4 .3 1.4 .4 1.4 .4 1.4 .4 1.4 .4 1.4 .4 1.4 .4 1.4 .5 1.4 .4 1.3 .4 1.4 .3 1.4 .4 1.4 .3 1.4 .4 1.4 .3 1.4 .3 1.4 .3 1.4 .3 1.4 .2 1.4 .3 1.4 .2 1.4 .3 1.4 .2 1.4 .3 1.4 .2 1.4 .2 1.4 .3 1.4 .2 1.4 .2 1.4 .1 1.4 .2 1.4 .2 1.3 .1 1.4 .1 1.4 .1 1.4 .1 1.4 .1 1.4 .1 1.4 0 1.4 .1 1.4 0 1.4 0 1.4 0 1.4 0 1.4 0 1.4-.1 1.4-.1 1.4-.1 1.4-.2 1.4-.2 1.4-.2 1.4-.2 1.4-.2 1.4-.2 1.4-.2 1.3-.3 1.4-.3 1.4-.4 1.4-.3 1.4-.4 1.4-.5 1.4-.4 1.4-.5 1.4-.5 1.4-.6 1.4-.5 1.4-.6 1.4-.5 1.4-.6 1.4-.6 1.4-.5 1.4-.5 1.4-.6 1.4-.5 1.4-.5 1.4-.5 1.4-.4 1.4-.5 1.3-.4 1.4-.3 1.4-.3 1.4-.3 1.4-.3 1.4-.2 1.4-.2 1.4-.2 1.4-.1 1.4-.1 1.4-.1 1.4-.1 1.4 0 1.4-.1 1.4 0 1.4 0 1.4 .1 1.4 0 1.4 .2 1.4 .2 1.4 .2 1.4 .2 1.3 .2 1.4 .2 1.4 .3 1.4 .2 1.4 .3 1.4 .2 1.4 .3 1.4 .3 1.4 .3 1.4 .2 1.4 .4 1.4 .3 1.4 .3 1.4 .4 1.4 .4 1.4 .3 1.4 .4 1.4 .3 1.4 .4 1.4 .3 1.4 .3 1.4 .3 1.4 .3 1.3 .3 1.4 .3 1.4 .2 1.4 .3 1.4 .2 1.4 .3 1.4 .2 1.4 .2 1.4 .3 1.4 .2 1.4 .2 1.4 .2 1.4 .2 1.4 .1 1.4 .2 1.4 .1 1.4 .1 1.4 .2 1.4 .1 1.4 .1 1.4 .1 1.4 .1 1.4 .1 1.3 0 1.4 .1 1.4 0 1.4 .1 1.4 0 1.4 .1 1.4 0 1.4 0" fill="none" stroke="#ff0000" stroke-width="4.4" stroke-linejoin="round"/>
<path d="M472.9 441.6l2.5-.6 2.5-1 2.5-1.4 2.5-1.6 2.5-2.3 2.5-2.7 2.5-2.6 2.5-2.7 2.5-1.6 2.5 0 2.5 2.5 2.5 4.1 2.5 4.6 2.5 3.1 2.5 2.1 2.5 .8 2.5 .7 2.5 .4 2.5 .3 2.5 .3 2.5 .4 2.5 .3 2.5 .4 2.4 .5 2.5 .4 2.5 .5 2.5 .6 2.5 .6 2.5 .5 2.5 .5 2.5 .5 2.5 .4 2.5 .4 2.5 .2 2.5 .1 2.5 .1 2.5 0 2.5 0 2.5-.2 2.5-.2 2.5-.2 2.5-.3 2.5-.3 2.5-.4 2.5-.5 2.5-.5 2.5-.5 2.5-.6 2.5-.6 2.5-.7 2.5-.8 2.5-.9 2.5-1.1 2.5-1.2 2.5-1.3 2.5-1.9 2.5-2.4 2.5-2.8 2.5-3.3 2.5-4 2.5-3.9 2.5-4 2.4-3.8 2.5-3.1 2.5-2.4 2.5-1.3 2.5-.2 2.5 .9 2.5 2.1 2.5 3.1 2.5 4 2.5 3.9 2.5 3.9 2.5 3.7 2.5 3 2.5 2.8 2.5 1.9 2.5 1.2 2.5 .9 2.5 .6 2.5 .3 2.5 .2 2.5 .6 2.5 .9 2.5 1 2.5 1 2.5 .9 2.5 1 2.5 .8 2.5 .8 2.5 .7 2.5 .6 2.5 .5 2.5 .4 2.5 .2 2.5 .1 2.5 0 2.5-.1 2.5-.1 2.5-.3 2.5-.4 2.4-.6 2.5-.6 2.5-.8 2.5-.8 2.5-.8 2.5-1 2.5-1 2.5-1.1 2.5-1.3 2.5-1.3 2.5-1.4 2.5-1.4 2.5-1.4 0 23.7-2.5 .1-2.5 .1-2.5 .1-2.5 0-2.5 .1-2.5 .1-2.5 0-2.5 .1-2.5 0-2.5 0-2.5 0-2.5 .1-2.4 0-2.5 0-2.5 0-2.5 0-2.5 0-2.5 0-2.5 0-2.5-.1-2.5 0-2.5 0-2.5-.1-2.5 0-2.5 0-2.5-.1-2.5 0-2.5-.1-2.5 0-2.5-.1-2.5-.1-2.5 0-2.5-.1-2.5-.1-2.5-.2-2.5-.2-2.5-.3-2.5-.3-2.5-.3-2.5-.4-2.5-.7-2.5-.9-2.5-.8-2.5-.5-2.5-.5-2.5-.3-2.5-.1-2.5 0-2.5 .2-2.5 .3-2.5 .4-2.4 .4-2.5 .5-2.5 .4-2.5 .4-2.5 .4-2.5 .5-2.5 .4-2.5 .3-2.5 .3-2.5 .3-2.5 .2-2.5 .1-2.5 .2-2.5 .1-2.5 .2-2.5 .1-2.5 .1-2.5 .1-2.5 .1-2.5 0-2.5 .1-2.5 0-2.5 .1-2.5 0-2.5 0-2.5 0-2.5 0-2.5 0-2.5 0-2.5 0-2.5-.1-2.5 0-2.5-.1-2.5 0-2.5-.1-2.5-.1-2.5-.1-2.5-.1-2.5-.1-2.4-.2-2.5-.3-2.5-.2-2.5-.3-2.5-.3-2.5-.3-2.5-.3-2.5-.5-2.5-.6-2.5-1-2.5-2.2-2.5-2.2-2.5-1.9-2.5-1.2-2.5-.7-2.5-.5-2.5-.6-2.5-.6-2.5-.5-2.5-.4-2.5 0-2.5 .4-2.5 .6-2.5 .7z" fill="#0000ff" fill-opacity="0.2"/>
<path d="M472.9 443.4l1.4-.2 1.4-.3 1.4-.3 1.4-.4 1.4-.4 1.4-.5 1.4-.6 1.4-.6 1.4-.8 1.4-.7 1.4-.7 1.4-.7 1.4-.7 1.3-.6 1.4-.4 1.4-.3 1.4 0 1.4 .7 1.4 .9 1.4 1.5 1.4 1.8 1.4 1.6 1.4 1.6 1.4 1.5 1.4 1.2 1.4 1 1.4 .8 1.4 .7 1.4 .5 1.4 .4 1.4 .4 1.4 .2 1.4 .2 1.4 .2 1.4 .2 1.4 .1 1.3 .2 1.4 .2 1.4 .2 1.4 .1 1.4 .2 1.4 .2 1.4 .2 1.4 .1 1.4 .2 1.4 .2 1.4 .2 1.4 .1 1.4 .2 1.4 .2 1.4 .2 1.4 .1 1.4 .2 1.4 .2 1.4 .1 1.4 .2 1.4 .1 1.4 0 1.4 .1 1.3 0 1.4 0 1.4 .1 1.4 0 1.4-.1 1.4 0 1.4 0 1.4-.1 1.4-.1 1.4-.1 1.4-.1 1.4-.2 1.4-.2 1.4-.1 1.4-.2 1.4-.2 1.4-.3 1.4-.2 1.4-.2 1.4-.2 1.4-.3 1.4-.2 1.4-.3 1.3-.2 1.4-.3 1.4-.3 1.4-.3 1.4-.3 1.4-.3 1.4-.3 1.4-.3 1.4-.4 1.4-.4 1.4-.4 1.4-.4 1.4-.5 1.4-.5 1.4-.5 1.4-.6 1.4-.5 1.4-.6 1.4-.7 1.4-.6 1.4-.8 1.4-.8 1.4-.9 1.3-.9 1.4-.9 1.4-.9 1.4-.9 1.4-.8 1.4-.9 1.4-.9 1.4-.8 1.4-.9 1.4-.9 1.4-.7 1.4-.5 1.4-.4 1.4-.2 1.4 0 1.4 .2 1.4 .3 1.4 .4 1.4 .7 1.4 .8 1.4 .9 1.4 .9 1.4 1.1 1.3 1 1.4 1.1 1.4 1.1 1.4 1 1.4 .9 1.4 .9 1.4 .9 1.4 .8 1.4 .8 1.4 .7 1.4 .6 1.4 .6 1.4 .6 1.4 .5 1.4 .5 1.4 .4 1.4 .4 1.4 .4 1.4 .4 1.4 .3 1.4 .2 1.4 .3 1.3 .3 1.4 .2 1.4 .3 1.4 .2 1.4 .3 1.4 .2 1.4 .2 1.4 .2 1.4 .2 1.4 .2 1.4 .2 1.4 .1 1.4 .1 1.4 .1 1.4 .2 1.4 0 1.4 .1 1.4 .1 1.4 0 1.4 0 1.4 .1 1.4 0 1.4 0 1.3-.1 1.4 0 1.4-.1 1.4 0 1.4-.1 1.4-.1 1.4-.1 1.4-.1 1.4-.1 1.4-.2 1.4-.2 1.4-.3 1.4-.3 1.4-.3 1.4-.2 1.4-.3 1.4-.3 1.4-.3 1.4-.3 1.4-.3 1.4-.3 1.4-.4 1.4-.3 1.3-.4 1.4-.4 1.4-.3 1.4-.4 1.4-.4 1.4-.4 1.4-.4 1.4-.4" fill="none" stroke="#0000ff" stroke-width="4.4" stroke-linejoin="round"/>
<path d="M473.3 298.4l2.5 19.4 2.4 14.5 2.5 12.5 2.5 9.7 2.5 5.6 2.5 3.9 2.5 1.7 2.5 1 2.5 .2 2.5-.6 2.5-.2 2.5 1.4 2.5 2.6 2.5 4.3 2.5 4.5 2.5 4.8 2.5 3.9 2.5 3.3 2.5 2.8 2.4 2.6 2.5 2 2.5 1.6 2.5 1.5 2.5 1.5 2.5 1.4 2.5 1.4 2.5 1.4 2.5 1.4 2.5 1.4 2.5 1.3 2.5 1.4 2.5 1.4 2.5 1.3 2.5 1.3 2.5 1.3 2.5 1.1 2.5 1 2.4 .9 2.5 .8 2.5 .7 2.5 .6 2.5 .5 2.5 .5 2.5 .4 2.5 .3 2.5 .2 2.5 .1 2.5 0 2.5-.1 2.5-.3 2.5-.5 2.5-.6 2.5-1 2.5-1.3 2.5-1.6 2.4-2.3 2.5-2.9 2.5-3.6 2.5-4.9 2.5-5.8 2.5-6.9 2.5-8 2.5-7.4 2.5-6.7 2.5-6.2 2.5-5.5 2.5-5.1 2.5-3.6 2.5-2.5 2.5-1.5 2.5-.4 2.5 .7 2.4 2 2.5 3 2.5 3.8 2.5 3.9 2.5 4 2.5 4.2 2.5 4.1 2.5 4.2 2.5 3.9 2.5 3.5 2.5 3.2 2.5 2.8 2.5 2.7 2.5 2.5 2.5 2.3 2.5 2.3 2.5 2.2 2.5 1.9 2.4 1.7 2.5 1.4 2.5 1.4 2.5 1.4 2.5 1.1 2.5 1 2.5 .9 2.5 .7 2.5 .6 2.5 .5 2.5 .4 2.5 .3 2.5 .2 2.5 .2 2.5 0 2.5 0 2.5-.1 2.5-.4 2.4-.5 2.5-.7 2.5-.9 2.5-1 2.5-1.2 2.5-1.4 0 30.8-2.5 .8-2.5 .8-2.5 .8-2.5 .8-2.5 .8-2.4 .7-2.5 .8-2.5 .8-2.5 .7-2.5 .7-2.5 .5-2.5 .5-2.5 .2-2.5 .2-2.5 0-2.5-.1-2.5-.1-2.5-.1-2.5-.3-2.5-.3-2.5-.4-2.5-.6-2.5-.6-2.4-.8-2.5-.9-2.5-1-2.5-1-2.5-1.2-2.5-1.4-2.5-1.6-2.5-1.9-2.5-2-2.5-1.9-2.5-2-2.5-1.7-2.5-1.3-2.5-1.1-2.5-.7-2.5-.3-2.5 0-2.5 .4-2.4 .8-2.5 1.1-2.5 1.4-2.5 1.6-2.5 1.6-2.5 1.5-2.5 1.6-2.5 1.5-2.5 1.4-2.5 1.3-2.5 1.3-2.5 1.2-2.5 1.1-2.5 .9-2.5 .9-2.5 .8-2.5 .7-2.4 .7-2.5 .7-2.5 .7-2.5 .5-2.5 .4-2.5 .4-2.5 .3-2.5 .3-2.5 .3-2.5 .2-2.5 .2-2.5 .2-2.5 .2-2.5 .1-2.5 .1-2.5 .1-2.5 0-2.5 0-2.4 0-2.5 0-2.5-.1-2.5-.2-2.5-.3-2.5-.3-2.5-.4-2.5-.7-2.5-.7-2.5-.9-2.5-.9-2.5-1.1-2.5-1.5-2.5-1.6-2.5-1.9-2.5-2-2.5-2.3-2.5-2.4-2.4-2.7-2.5-3.3-2.5-3.5-2.5-4-2.5-4.4-2.5-5-2.5-5-2.5-4.4-2.5-4.1-2.5-3.5-2.5-3.2-2.5-3.7-2.5-4.2-2.5-5-2.5-6.7-2.5-8.4-2.5-12-2.5-14.3-2.4-16.4-2.5-20.9z" fill="#ff00ff" fill-opacity="0.2"/>
<path d="M473.3 299.3l1.4 12.2 1.3 9.9 1.4 8.5 1.4 7.4 1.4 6.8 1.4 6.1 1.4 5.8 1.4 5 1.4 4.3 1.4 3.7 1.4 2.9 1.4 2.5 1.4 1.9 1.4 1.3 1.4 1.2 1.4 .8 1.4 .7 1.4 .7 1.3 .8 1.4 .9 1.4 1.1 1.4 1.5 1.4 1.7 1.4 2 1.4 2.1 1.4 2.2 1.4 2.2 1.4 2.3 1.4 2.2 1.4 2.3 1.4 2.3 1.4 2.1 1.4 1.8 1.4 1.7 1.3 1.5 1.4 1.3 1.4 1.3 1.4 1.1 1.4 1.1 1.4 1.1 1.4 1.1 1.4 1.1 1.4 1 1.4 1 1.4 1 1.4 .9 1.4 .9 1.4 .8 1.4 .8 1.4 .9 1.3 .8 1.4 .7 1.4 .8 1.4 .7 1.4 .7 1.4 .7 1.4 .6 1.4 .7 1.4 .6 1.4 .5 1.4 .6 1.4 .5 1.4 .6 1.4 .5 1.4 .4 1.4 .4 1.4 .4 1.3 .3 1.4 .3 1.4 .3 1.4 .2 1.4 .2 1.4 .2 1.4 .1 1.4 .1 1.4 .1 1.4 0 1.4 0 1.4-.1 1.4 0 1.4-.1 1.4-.2 1.4-.2 1.3-.2 1.4-.2 1.4-.3 1.4-.3 1.4-.4 1.4-.4 1.4-.4 1.4-.4 1.4-.5 1.4-.5 1.4-.6 1.4-.6 1.4-.7 1.4-.8 1.4-.9 1.4-1 1.4-1 1.3-1 1.4-1.2 1.4-1.2 1.4-1.3 1.4-1.4 1.4-1.5 1.4-1.7 1.4-1.7 1.4-1.9 1.4-1.9 1.4-2 1.4-2.1 1.4-2.1 1.4-2.2 1.4-2 1.4-2 1.3-2.1 1.4-1.9 1.4-1.9 1.4-1.8 1.4-1.6 1.4-1.5 1.4-1.4 1.4-1.1 1.4-.9 1.4-.7 1.4-.5 1.4-.3 1.4-.2 1.4 .2 1.4 .4 1.4 .6 1.4 .8 1.3 1 1.4 1.2 1.4 1.3 1.4 1.3 1.4 1.3 1.4 1.4 1.4 1.4 1.4 1.5 1.4 1.5 1.4 1.5 1.4 1.6 1.4 1.6 1.4 1.6 1.4 1.5 1.4 1.5 1.4 1.4 1.3 1.4 1.4 1.3 1.4 1.3 1.4 1.2 1.4 1.2 1.4 1.1 1.4 1.1 1.4 1.1 1.4 1 1.4 1 1.4 .9 1.4 .9 1.4 .8 1.4 .8 1.4 .7 1.4 .7 1.3 .7 1.4 .6 1.4 .5 1.4 .6 1.4 .5 1.4 .5 1.4 .4 1.4 .5 1.4 .3 1.4 .4 1.4 .3 1.4 .3 1.4 .2 1.4 .2 1.4 .2 1.4 .1 1.4 .1 1.3 .1 1.4 0 1.4 0 1.4 0 1.4-.1 1.4-.1 1.4-.2 1.4-.3 1.4-.3 1.4-.3 1.4-.4 1.4-.4 1.4-.5 1.4-.5 1.4-.5 1.4-.4 1.3-.5 1.4-.5 1.4-.5 1.4-.6 1.4-.5 1.4-.5" fill="none" stroke="#ff00ff" stroke-width="4.4" stroke-linejoin="round"/>
</g>
<g clip-path="url(#c11)">
<path d="M506.3 298.4H559V457.5H506.3ZM679.1 298.4H738.8V457.5H679.1Z" fill="#f00" fill-opacity="0.105"/>
<path d="M473.1 298.4H506.3V457.5H473.1ZM559 298.4H679.1V457.5H559ZM738.8 298.4H757.5V457.5H738.8Z" fill="#0f0" fill-opacity="0.105"/>
<path d="M473.1 305.9H757.5" stroke="#f00" stroke-opacity="0.74" stroke-width="4" stroke-dasharray="15.4 14.93" fill="none"/>
</g>
<path d="M551 298.4v3.2M551 457.5v-3.2M628.9 298.4v3.2M628.9 457.5v-3.2M706.7 298.4v3.2M706.7 457.5v-3.2M757.5 375.2h-3.4M757.5 297.6V458.3" stroke="#000" stroke-width="1.7" fill="none"/>
<path d="M473.1 297.6V458.3M473.1 352.1h3.6M473.1 457.5h3.6" stroke="#f00" stroke-width="1.8" fill="none"/>
<text x="769.8" y="383.3" class="t">2</text>
<text x="769.8" y="465.3" class="t">0</text>
<text x="460.8" y="359.8" class="t r" text-anchor="end">1</text>
<text x="460.8" y="465.2" class="t r" text-anchor="end">0</text>
<text x="472.8" y="488.9" class="t" text-anchor="middle">0</text>
<text x="551" y="488.9" class="t" text-anchor="middle">100</text>
<text x="628.9" y="488.9" class="t" text-anchor="middle">200</text>
<text x="706.7" y="488.9" class="t" text-anchor="middle">300</text>
<text x="471.2" y="288.4" class="x r">×</text>
<text x="493.6" y="285.7" class="t r">10</text>
<text x="521.2" y="273.1" class="s r">−4</text>
<text x="759.6" y="288.4" class="x">×</text>
<text x="781.9" y="285.7" class="t">10</text>
<text x="809.6" y="273.1" class="s">−4</text>
<text x="615.3" y="284.5" class="h" text-anchor="middle">Campania</text>
</g>
<g id="p12">
<path d="M912 298.4H1196.3M912 457.5H1196.3" stroke="#000" stroke-width="1.7" fill="none"/>
<path d="M989.8 298.4V457.5M1067.7 298.4V457.5M1145.5 298.4V457.5" stroke="#000" stroke-opacity="0.22" stroke-width="1.4" fill="none"/>
<path d="M912 352.1H1196.3" stroke="#f00" stroke-opacity="0.22" stroke-width="1.4" fill="none"/>
<g clip-path="url(#c12b)">
<path d="M912.4 401.2l2.5 7.6 2.5 7.2 2.5 6.3 2.5 4.9 2.5 4 2.5 3.8 2.5 3.6 2.5 3.2 2.5 2.7 2.5 2 2.5 1.2 2.5 .1 2.4-1.1 2.5-2.2 2.5-3.4 2.5-5.3 2.5-6.4 2.5-6.2 2.5-5.9 2.5-5.7 2.5-3.4 2.5 0 2.5 2.9 2.5 4.1 2.5 4.5 2.5 4.7 2.5 5.2 2.5 4.9 2.5 3.7 2.5 2.9 2.5 2.3 2.5 1.5 2.5 .6 2.5-.5 2.5-1.6 2.5-2.6 2.5-4.7 2.5-6.2 2.5-6.1 2.5-5.6 2.5-5.1 2.5-2.7 2.5-.2 2.5 1.6 2.5 2.7 2.5 3.6 2.5 4.9 2.5 4.9 2.5 4 2.5 3.4 2.5 3 2.4 2.1 2.5 .9 2.5-.3 2.5-1.2 2.5-2.2 2.5-3.7 2.5-4.8 2.5-4.6 2.5-4.1 2.5-3.9 2.5-2.4 2.5-.8 2.5 .7 2.5 1.6 2.5 2.3 2.5 2.9 2.5 3.6 2.5 3.4 2.5 2.8 2.5 2.5 2.5 2 2.5 1.2 2.5 .1 2.5-.9 2.5-1.6 2.5-2.1 2.5-3.3 2.5-3.7 2.5-3.2 2.5-2.4 2.5-1.9 2.5-1.2 2.5-.4 2.5 .4 2.5 1.3 2.5 1.8 2.5 2 2.5 2.1 2.5 2.5 2.4 2.4 2.5 1.9 2.5 1.2 2.5 .8 2.5 .1 2.5-.6 2.5-1.3 2.5-1.7 2.5-1.8 2.5-2 2.5-2.2 2.5-2 2.5-1.4 2.5-.9 2.5-.4 2.5 .2 2.5 .9 2.5 1.2 2.5 1.6 2.5 2 2.5 1.9 2.5 1.8 2.5 1.8 2.5 1.8 0 16.7-2.5-.5-2.5-.6-2.5-.7-2.5-.9-2.5-1-2.5-.9-2.5-.8-2.5-.6-2.5-.2-2.5 .1-2.5 .5-2.5 .9-2.5 1.2-2.5 1.4-2.5 1.3-2.5 1.2-2.5 1.1-2.5 .9-2.5 .3-2.5-.2-2.5-.7-2.5-1-2.5-1.3-2.4-1.6-2.5-1.7-2.5-1.3-2.5-1.3-2.5-1.1-2.5-.8-2.5-.1-2.5 .4-2.5 .9-2.5 1.3-2.5 1.5-2.5 2-2.5 2.3-2.5 2-2.5 1.2-2.5 .7-2.5 .1-2.5-.5-2.5-1.3-2.5-1.8-2.5-2.1-2.5-2.1-2.5-2.4-2.5-2.4-2.5-2-2.5-1.6-2.5-1-2.5 .3-2.5 1.2-2.5 1.7-2.5 2.2-2.5 2.4-2.5 2.8-2.5 2.8-2.5 2.1-2.5 1.1-2.5 .2-2.5-.4-2.5-.9-2.4-1.6-2.5-2.1-2.5-2.4-2.5-2.9-2.5-3.5-2.5-3.5-2.5-2.7-2.5-2.1-2.5-.9-2.5 1.2-2.5 2.7-2.5 4.4-2.5 4.1-2.5 3.8-2.5 3.5-2.5 2.5-2.5 1.1-2.5 .4-2.5-.3-2.5-.7-2.5-1.4-2.5-2.1-2.5-2.5-2.5-3.3-2.5-4.4-2.5-4.6-2.5-4.2-2.5-4-2.5-3.4-2.5-2.1-2.5 .6-2.5 3.2-2.5 5.4-2.5 5.3-2.5 4.9-2.5 4.9-2.5 3.9-2.5 2.4-2.5 1.4-2.4 .5-2.5-.4-2.5-1.3-2.5-2-2.5-2.7-2.5-3.2-2.5-3.6-2.5-3.7-2.5-3.9-2.5-4.9-2.5-6.3-2.5-7.2-2.5-7.7z" fill="#ff0000" fill-opacity="0.2"/>
<path d="M912.4 403l1.4 3.4 1.4 3.5 1.4 3.7 1.4 4 1.4 3.7 1.4 3.6 1.4 3.5 1.3 3.1 1.4 2.9 1.4 2.6 1.4 2.3 1.4 2.2 1.4 1.9 1.4 1.4 1.4 1.3 1.4 1.1 1.4 .8 1.4 .7 1.4 .5 1.4 .4 1.4 0 1.4-.2 1.4-.4 1.4-.7 1.4-1.1 1.4-1.4 1.4-1.7 1.4-2.4 1.4-2.6 1.4-3 1.3-3.3 1.4-3.5 1.4-3.6 1.4-3.8 1.4-3.1 1.4-2.3 1.4-1.6 1.4-.8 1.4-.2 1.4 .5 1.4 1.2 1.4 1.5 1.4 2.2 1.4 2.7 1.4 2.7 1.4 2.8 1.4 2.9 1.4 2.7 1.4 2.5 1.4 2.4 1.4 2 1.4 1.8 1.4 1.7 1.3 1.4 1.4 1.1 1.4 1 1.4 .8 1.4 .5 1.4 .3 1.4 .1 1.4-.1 1.4-.4 1.4-.8 1.4-1.1 1.4-1.5 1.4-2.2 1.4-2.4 1.4-2.6 1.4-2.9 1.4-2.9 1.4-2.7 1.4-2.7 1.4-2.4 1.4-1.9 1.4-1.6 1.3-.9 1.4-.1 1.4 .3 1.4 .6 1.4 1.3 1.4 1.5 1.4 2 1.4 2.4 1.4 2.3 1.4 2.3 1.4 2.3 1.4 2.2 1.4 1.9 1.4 1.8 1.4 1.6 1.4 1.2 1.4 1.1 1.4 .9 1.4 .5 1.4 .2 1.4 .1 1.4 0 1.4-.4 1.3-.6 1.4-.9 1.4-1.3 1.4-1.9 1.4-1.9 1.4-2 1.4-2.1 1.4-2.1 1.4-2 1.4-2 1.4-1.7 1.4-1.2 1.4-1 1.4-.7 1.4-.3 1.4 0 1.4 .2 1.4 .5 1.4 .9 1.4 1 1.4 1.4 1.4 1.8 1.4 1.8 1.3 1.7 1.4 1.7 1.4 1.7 1.4 1.5 1.4 1.6 1.4 1.3 1.4 1 1.4 .9 1.4 .7 1.4 .4 1.4 .1 1.4 0 1.4-.2 1.4-.5 1.4-.8 1.4-1 1.4-1.2 1.4-1.4 1.4-1.5 1.4-1.4 1.4-1.5 1.4-1.5 1.4-1.4 1.3-1.1 1.4-1 1.4-.9 1.4-.6 1.4-.4 1.4-.2 1.4 0 1.4 .2 1.4 .3 1.4 .6 1.4 .6 1.4 .9 1.4 1.1 1.4 1.2 1.4 1.1 1.4 1.2 1.4 1.2 1.4 1.1 1.4 1 1.4 .9 1.4 .8 1.4 .5 1.4 .5 1.3 .3 1.4 .2 1.4 .1 1.4-.2 1.4-.4 1.4-.5 1.4-.7 1.4-.8 1.4-1 1.4-1.1 1.4-.9 1.4-1 1.4-.9 1.4-.9 1.4-.8 1.4-.7 1.4-.5 1.4-.4 1.4-.2 1.4-.1 1.4-.1 1.4 .2 1.4 .2 1.3 .4 1.4 .5 1.4 .5 1.4 .7 1.4 .7 1.4 .8 1.4 .8 1.4 .8 1.4 .8 1.4 .8 1.4 .6 1.4 .6 1.4 .6 1.4 .4" fill="none" stroke="#ff0000" stroke-width="4.4" stroke-linejoin="round"/>
<path d="M912.4 431.1l2.5 6 2.5 5.6 2.5 4.6 2.5 3 2.5 1.6 2.5 1.2 2.5 .7 2.5 .2 2.5-.6 2.5-1.5 2.5-2.3 2.5-2.9 2.4-3.5 2.5-6.8 2.5-9 2.5-11.3 2.5-13.7 2.5-10.8 2.5-.5 2.5 9.9 2.5 12.8 2.5 11.5 2.5 10.9 2.5 7.5 2.5 3.6 2.5 2.8 2.5 1.9 2.5 1 2.5 0 2.5-.7 2.5-1.5 2.5-2.2 2.5-3.5 2.5-7 2.5-8.9 2.5-8.9 2.5-9.8 2.5-7.3 2.5-4.4 2.5 1 2.5 6.1 2.5 8.7 2.5 8.1 2.5 8.2 2.5 7.4 2.5 5.3 2.5 3.5 2.5 2.6 2.5 1.5 2.5 .2 2.5-1.1 2.4-2.5 2.5-3.5 2.5-4.3 2.5-5.5 2.5-8.1 2.5-8 2.5-6.4 2.5-4.7 2.5-2.1 2.5 .6 2.5 2.8 2.5 5 2.5 6.7 2.5 6.1 2.5 6.2 2.5 5.8 2.5 4.6 2.5 2.9 2.5 1.7 2.5 .2 2.5-1.8 2.5-4 2.5-5.1 2.5-5.3 2.5-6 2.5-5.6 2.5-4.3 2.5-3.2 2.5-1.5 2.5-.2 2.5 1.6 2.5 2.9 2.5 3.7 2.5 4.4 2.5 4.3 2.5 3.8 2.5 3.6 2.5 3.1 2.5 1.7 2.4-.1 2.5-1.6 2.5-2.6 2.5-4 2.5-4.5 2.5-3.6 2.5-3.3 2.5-2.6 2.5-1.4 2.5-1 2.5-.3 2.5 .3 2.5 .7 2.5 1.2 2.5 1.9 2.5 2.2 2.5 2.2 2.5 2.6 2.5 2.3 2.5 1.5 2.5 1.2 2.5 .9 2.5 .7 2.5 .2 0 25.5-2.5 .1-2.5-.1-2.5-.4-2.5-.5-2.5-.7-2.5-.7-2.5-.7-2.5-.9-2.5-1-2.5-.8-2.5-.6-2.5-.3-2.5 .1-2.5 .3-2.5 .6-2.5 1.1-2.5 1.2-2.5 .9-2.5 1-2.5 .9-2.5 .8-2.5 .5-2.5 .1-2.4-.5-2.5-.9-2.5-1-2.5-1.2-2.5-1.6-2.5-1.6-2.5-1.5-2.5-1.2-2.5-1.2-2.5-.7-2.5 .2-2.5 1.1-2.5 1.3-2.5 1.6-2.5 2-2.5 1.8-2.5 1.2-2.5 1-2.5 .6-2.5 .5-2.5 .1-2.5-.3-2.5-.8-2.5-1.1-2.5-1.3-2.5-2.3-2.5-3.1-2.5-3.1-2.5-2.2-2.5-1.5-2.5 .2-2.5 1.7-2.5 2.3-2.5 2.2-2.5 2.5-2.5 2.2-2.5 1.6-2.5 1.2-2.5 1-2.4 .6-2.5 .2-2.5-.3-2.5-.8-2.5-1.4-2.5-1.8-2.5-2.8-2.5-4-2.5-4.5-2.5-4-2.5-3.9-2.5-2.8-2.5 .5-2.5 3.5-2.5 5.5-2.5 4.9-2.5 3.8-2.5 3.4-2.5 2.4-2.5 1-2.5 .5-2.5 .2-2.5-.1-2.5-.3-2.5-.8-2.5-1.2-2.5-1.9-2.5-2.6-2.5-5.7-2.5-8-2.5-7.6-2.5-7.6-2.5-3-2.5 3.3-2.5 7.7-2.5 7.6-2.5 5.6-2.5 5.1-2.5 3.8-2.4 1.9-2.5 1.4-2.5 1.1-2.5 .8-2.5 .2-2.5-.3-2.5-.8-2.5-1.1-2.5-1.4-2.5-2.9-2.5-4.9-2.5-6-2.5-6.3z" fill="#0000ff" fill-opacity="0.2"/>
<path d="M912.4 432.8l1.4 4.7 1.4 3.6 1.4 3 1.4 2.5 1.4 2 1.4 1.8 1.4 1.4 1.3 1.1 1.4 .9 1.4 .8 1.4 .5 1.4 .4 1.4 .3 1.4 .2 1.4 0 1.4-.2 1.4-.5 1.4-.6 1.4-.7 1.4-1 1.4-1.3 1.4-1.5 1.4-1.7 1.4-2.4 1.4-2.8 1.4-3.1 1.4-4.1 1.4-4.6 1.4-5.4 1.4-5.8 1.3-5.4 1.4-5 1.4-2.8 1.4-1 1.4 1.2 1.4 3.4 1.4 6.3 1.4 6.6 1.4 6.7 1.4 5.8 1.4 4.6 1.4 3.8 1.4 2.9 1.4 2.1 1.4 1.9 1.4 1.6 1.4 .9 1.4 .7 1.4 .5 1.4 .5 1.4 .1 1.4 0 1.4-.2 1.3-.2 1.4-.3 1.4-.6 1.4-.9 1.4-1 1.4-1.3 1.4-1.9 1.4-2.2 1.4-2.5 1.4-2.9 1.4-3.2 1.4-3.7 1.4-4.3 1.4-4.2 1.4-3.8 1.4-3.1 1.4-1.9 1.4-.8 1.4 .6 1.4 1.5 1.4 2.6 1.4 3.4 1.3 3.6 1.4 4.1 1.4 4 1.4 3.4 1.4 3.2 1.4 2.8 1.4 2.3 1.4 1.9 1.4 1.6 1.4 1.4 1.4 .8 1.4 .5 1.4 .3 1.4 .2 1.4-.1 1.4-.4 1.4-.5 1.4-.8 1.4-.8 1.4-1.3 1.4-1.6 1.4-1.9 1.4-1.9 1.3-2.3 1.4-2.4 1.4-2.5 1.4-2.5 1.4-2.7 1.4-2.4 1.4-2.1 1.4-1.8 1.4-1.3 1.4-.8 1.4-.2 1.4 .7 1.4 1.1 1.4 1.7 1.4 2.3 1.4 2.5 1.4 2.5 1.4 2.6 1.4 2.7 1.4 2.4 1.4 2.2 1.4 2.1 1.4 1.8 1.3 1.3 1.4 1 1.4 .8 1.4 .5 1.4 .3 1.4 0 1.4-.2 1.4-.5 1.4-.7 1.4-1.1 1.4-1.6 1.4-1.7 1.4-1.8 1.4-2.2 1.4-2.2 1.4-2.1 1.4-2.1 1.4-2.1 1.4-1.8 1.4-1.2 1.4-.9 1.4-.6 1.4-.2 1.3 .1 1.4 .4 1.4 .8 1.4 1.1 1.4 1.3 1.4 1.4 1.4 1.7 1.4 1.8 1.4 1.6 1.4 1.5 1.4 1.5 1.4 1.3 1.4 1.3 1.4 1 1.4 1 1.4 .8 1.4 .5 1.4 .3 1.4 .2 1.4-.1 1.4-.5 1.4-.7 1.4-1 1.3-1 1.4-1.2 1.4-1.4 1.4-1.4 1.4-1.3 1.4-1.2 1.4-1.2 1.4-1.2 1.4-1 1.4-.7 1.4-.7 1.4-.6 1.4-.3 1.4-.2 1.4 .1 1.4 .1 1.4 .3 1.4 .5 1.4 .6 1.4 .8 1.4 .8 1.4 .9 1.4 1.1 1.3 1 1.4 1 1.4 1 1.4 .9 1.4 .8 1.4 .8 1.4 .5 1.4 .5 1.4 .4 1.4 .3 1.4 .2 1.4 .1 1.4-.1 1.4-.1" fill="none" stroke="#0000ff" stroke-width="4.4" stroke-linejoin="round"/>
<path d="M912.4 358.1l2.5-2.5 2.5 0 2.5 2.9 2.5 4.4 2.5 5.1 2.5 5.7 2.5 6.6 2.5 6.3 2.5 4.6 2.5 3.6 2.5 3 2.5 2.2 2.4 1.2 2.5-.6 2.5-4.4 2.5-8.4 2.5-14.9 2.5-18.3 2.5-19.2 2.5-17.9 2.5-10.6 2.5-4.1 2.5 1.6 2.5 5.6 2.5 8.7 2.5 8.9 2.5 9 2.5 8.3 2.5 7.3 2.5 6 2.5 5.5 2.5 4.9 2.5 3.7 2.5 2.1 2.5-.4 2.5-4.7 2.5-7.8 2.5-10.6 2.5-12.5 2.5-13.1 2.5-12.1 2.5-8.8 2.5-4.9 2.5 .1 2.5 3.4 2.5 6.4 2.5 7.5 2.5 8.2 2.5 8.1 2.5 7.8 2.5 7.2 2.4 6.4 2.5 5.7 2.5 3.3 2.5 1.2 2.5-1.8 2.5-4.9 2.5-8.2 2.5-10.4 2.5-10.5 2.5-9.7 2.5-7.1 2.5-4.7 2.5-2.7 2.5 .4 2.5 2.8 2.5 5.4 2.5 6.8 2.5 7.1 2.5 6.6 2.5 6 2.5 5.5 2.5 4.7 2.5 3.2 2.5 1.4 2.5-1.4 2.5-3.1 2.5-5.4 2.5-7.8 2.5-8.2 2.5-8 2.5-5.7 2.5-3.9 2.5-1.7 2.5-.6 2.5 1.1 2.5 2.2 2.5 3.9 2.5 4.9 2.5 5.7 2.4 5.3 2.5 4.9 2.5 4 2.5 2.7 2.5 1.3 2.5-.4 2.5-2.2 2.5-3.2 2.5-4.3 2.5-5 2.5-5.1 2.5-4.1 2.5-3.1 2.5-1.7 2.5-1.1 2.5 0 2.5 .7 2.5 1.2 2.5 2.1 2.5 2.7 2.5 3.4 2.5 3.4 2.5 3.2 2.5 3 0 55.4-2.5-1.4-2.5-1.5-2.5-1.6-2.5-1.7-2.5-1.6-2.5-1.1-2.5-.7-2.5-.1-2.5 .7-2.5 1.2-2.5 2.3-2.5 3-2.5 3.6-2.5 2.8-2.5 2.2-2.5 1.3-2.5 .8-2.5-.1-2.5-.6-2.5-1.3-2.5-2-2.5-2.8-2.5-3.7-2.4-4.6-2.5-4.5-2.5-4-2.5-2.1-2.5-1-2.5 .7-2.5 1.8-2.5 4.1-2.5 5.3-2.5 6.3-2.5 5.3-2.5 3.8-2.5 2-2.5 .6-2.5-.4-2.5-1-2.5-2.2-2.5-2.9-2.5-4.1-2.5-5-2.5-5.7-2.5-5.6-2.5-5.3-2.5-4.5-2.5-2.6-2.5-.5-2.5 1.6-2.5 4.8-2.5 7.5-2.5 9-2.5 8.7-2.5 6.3-2.5 3.8-2.5 1-2.5-.1-2.5-1.1-2.5-1.9-2.5-2.9-2.5-4.5-2.4-5.1-2.5-6-2.5-7-2.5-7.2-2.5-7.1-2.5-5.8-2.5-4.1-2.5-.7-2.5 1.7-2.5 5-2.5 8.2-2.5 10.8-2.5 10.6-2.5 8.8-2.5 6.4-2.5 2.4-2.5 .7-2.5-.9-2.5-2.1-2.5-3.4-2.5-4.6-2.5-5.3-2.5-6.2-2.5-7.1-2.5-7.7-2.5-8.1-2.5-7.7-2.5-6-2.5-2.7-2.5 .7-2.5 5.9-2.5 9.8-2.5 12.5-2.5 14.9-2.5 11.6-2.5 8.1-2.5 3.3-2.5 1.5-2.5-.4-2.4-1.7-2.5-3-2.5-4.2-2.5-4.8-2.5-5.2-2.5-6.2-2.5-6.4-2.5-5.7-2.5-5.3-2.5-4.7-2.5-3.3-2.5-.3-2.5 2z" fill="#ff00ff" fill-opacity="0.2"/>
<path d="M912.4 360.4l1.4-1.6 1.4-.8 1.4-.1 1.4 .7 1.4 1.7 1.4 2.1 1.4 2.5 1.3 2.8 1.4 3 1.4 3.2 1.4 3.4 1.4 3.4 1.4 3.4 1.4 3.5 1.4 3.3 1.4 3 1.4 2.8 1.4 2.4 1.4 1.9 1.4 1.6 1.4 1.3 1.4 1 1.4 .7 1.4 .3 1.4-.2 1.4-1.3 1.4-1.8 1.4-3.5 1.4-4.9 1.4-5.6 1.3-7.1 1.4-7.8 1.4-9 1.4-9.4 1.4-8.5 1.4-8.1 1.4-6.6 1.4-5.6 1.4-3 1.4-1.2 1.4 0 1.4 1.3 1.4 2.3 1.4 3.8 1.4 4.4 1.4 4.3 1.4 4.5 1.4 4.6 1.4 4.5 1.4 4.6 1.4 4.4 1.4 4 1.4 3.7 1.3 3.5 1.4 3.3 1.4 3.3 1.4 3 1.4 2.7 1.4 2.4 1.4 1.8 1.4 .9 1.4 .3 1.4-.3 1.4-1.4 1.4-2.2 1.4-3.2 1.4-4.8 1.4-5.5 1.4-6.5 1.4-6.9 1.4-6.9 1.4-6.8 1.4-6 1.4-5.2 1.4-4.1 1.3-2.8 1.4-1.8 1.4-.8 1.4 0 1.4 1.1 1.4 2 1.4 2.4 1.4 3.1 1.4 3.6 1.4 3.8 1.4 4.1 1.4 4.3 1.4 4.2 1.4 4.1 1.4 3.9 1.4 3.7 1.4 3.4 1.4 3 1.4 2.9 1.4 2.8 1.4 2.6 1.4 1.6 1.4 .9 1.3 .2 1.4-.5 1.4-1.4 1.4-1.8 1.4-2.8 1.4-3.6 1.4-3.9 1.4-4.6 1.4-4.6 1.4-4.6 1.4-4.7 1.4-4.4 1.4-3.9 1.4-3.5 1.4-2.6 1.4-1.9 1.4-1.4 1.4-.5 1.4 .3 1.4 .9 1.4 1.7 1.4 2.5 1.4 2.7 1.3 3 1.4 3.2 1.4 3.2 1.4 3.3 1.4 3.4 1.4 3.3 1.4 3.3 1.4 3.2 1.4 2.8 1.4 2.5 1.4 2.1 1.4 1.3 1.4 1.1 1.4 .5 1.4 0 1.4-.6 1.4-1 1.4-1.9 1.4-2.5 1.4-2.8 1.4-3.2 1.4-3.6 1.4-3.3 1.3-3.3 1.4-3.2 1.4-2.8 1.4-2.3 1.4-2 1.4-1.5 1.4-.9 1.4-.7 1.4-.3 1.4 .1 1.4 .6 1.4 1 1.4 1.1 1.4 1.8 1.4 2.2 1.4 2.4 1.4 2.7 1.4 3 1.4 2.7 1.4 2.8 1.4 2.6 1.4 2.1 1.4 1.8 1.3 1.5 1.4 1 1.4 .6 1.4 .5 1.4 .2 1.4-.2 1.4-.6 1.4-.9 1.4-1.1 1.4-1.6 1.4-1.9 1.4-1.9 1.4-2.2 1.4-2.2 1.4-2 1.4-1.9 1.4-1.8 1.4-1.6 1.4-1.4 1.4-1.1 1.4-.9 1.4-.7 1.4-.2 1.3 0 1.4 .3 1.4 .5 1.4 1 1.4 1.2 1.4 1.3 1.4 1.4 1.4 1.8 1.4 1.7 1.4 1.5 1.4 1.3 1.4 1.2 1.4 1 1.4 .9" fill="none" stroke="#ff00ff" stroke-width="4.4" stroke-linejoin="round"/>
</g>
<g clip-path="url(#c12)">
<path d="M912 298.4H933.1V457.5H912ZM959.8 298.4H985V457.5H959.8ZM1012.6 298.4H1036.5V457.5H1012.6ZM1064.1 298.4H1089.2V457.5H1064.1ZM1115 298.4H1140.5V457.5H1115ZM1165.5 298.4H1189.4V457.5H1165.5Z" fill="#f00" fill-opacity="0.105"/>
<path d="M933.1 298.4H959.8V457.5H933.1ZM985 298.4H1012.6V457.5H985ZM1036.5 298.4H1064.1V457.5H1036.5ZM1089.2 298.4H1115V457.5H1089.2ZM1140.5 298.4H1165.5V457.5H1140.5ZM1189.4 298.4H1196.3V457.5H1189.4Z" fill="#0f0" fill-opacity="0.105"/>
<path d="M912 305.9H1196.3" stroke="#f00" stroke-opacity="0.74" stroke-width="4" stroke-dasharray="15.4 14.93" fill="none"/>
</g>
<path d="M989.8 298.4v3.2M989.8 457.5v-3.2M1067.7 298.4v3.2M1067.7 457.5v-3.2M1145.5 298.4v3.2M1145.5 457.5v-3.2M1196.3 338.8h-3.4M1196.3 398h-3.4M1196.3 297.6V458.3" stroke="#000" stroke-width="1.7" fill="none"/>
<path d="M912 297.6V458.3M912 352.1h3.6M912 457.5h3.6" stroke="#f00" stroke-width="1.8" fill="none"/>
<text x="1208.5" y="346.9" class="t">2</text>
<text x="1208.5" y="406.1" class="t">1</text>
<text x="1208.5" y="465.3" class="t">0</text>
<text x="899.7" y="359.8" class="t r" text-anchor="end">1</text>
<text x="899.7" y="465.2" class="t r" text-anchor="end">0</text>
<text x="911.7" y="488.9" class="t" text-anchor="middle">0</text>
<text x="989.8" y="488.9" class="t" text-anchor="middle">100</text>
<text x="1067.7" y="488.9" class="t" text-anchor="middle">200</text>
<text x="1145.5" y="488.9" class="t" text-anchor="middle">300</text>
<text x="909.6" y="288.4" class="x r">×</text>
<text x="931.9" y="285.7" class="t r">10</text>
<text x="959.6" y="273.1" class="s r">−4</text>
<text x="1198.4" y="288.4" class="x">×</text>
<text x="1220.7" y="285.7" class="t">10</text>
<text x="1248.4" y="273.1" class="s">−3</text>
<text x="1054.2" y="284.5" class="h" text-anchor="middle">Emilia</text>
</g>
<g id="p13">
<path d="M1351.3 298.4H1633.7M1351.3 457.5H1633.7" stroke="#000" stroke-width="1.7" fill="none"/>
<path d="M1428.6 298.4V457.5M1505.9 298.4V457.5M1583.3 298.4V457.5" stroke="#000" stroke-opacity="0.22" stroke-width="1.4" fill="none"/>
<path d="M1351.3 352.1H1633.7" stroke="#f00" stroke-opacity="0.22" stroke-width="1.4" fill="none"/>
<g clip-path="url(#c13b)">
<path d="M1351.4 446l2.5-.1 2.4-.4 2.5-.7 2.5-.9 2.5-1.2 2.5-1.4 2.5-1.6 2.4-1.8 2.5-2.2 2.5-3.3 2.5-3.8 2.5-3.6 2.4-2.9 2.5-2.7 2.5-2.5 2.5-1.9 2.5-1 2.5-.2 2.4 .6 2.5 1.1 2.5 1.4 2.5 1.6 2.5 1.9 2.5 2.3 2.4 2.5 2.5 2.4 2.5 2.3 2.5 2.2 2.5 2.1 2.4 2 2.5 1.9 2.5 1.7 2.5 1.5 2.5 1.4 2.5 1.4 2.4 1.1 2.5 .8 2.5 .6 2.5 .6 2.5 .4 2.4 .4 2.5 .2 2.5 .2 2.5-.1 2.5-.2 2.5-.3 2.4-.4 2.5-.5 2.5-.8 2.5-1.4 2.5-1.8 2.4-2 2.5-2.2 2.5-2.2 2.5-2.7 2.5-2.9 2.5-2.8 2.4-2.5 2.5-2.4 2.5-1.7 2.5-1.2 2.5-.9 2.4-.3 2.5 .2 2.5 .5 2.5 .6 2.5 .9 2.5 1.1 2.4 1.3 2.5 1.5 2.5 1.7 2.5 1.9 2.5 1.9 2.5 1.8 2.4 1.6 2.5 1.6 2.5 1.5 2.5 1.4 2.5 1.1 2.4 1 2.5 .8 2.5 .8 2.5 .6 2.5 .4 2.5 .3 2.4 .2 2.5 0 2.5 0 2.5-.2 2.5-.3 2.4-.5 2.5-.8 2.5-1 2.5-1.1 2.5-1.2 2.5-1.3 2.4-1.7 2.5-1.8 2.5-1.7 2.5-1.5 2.5-1.5 2.4-1.3 2.5-1.2 2.5-.9 2.5-.9 2.5-.7 2.5-.6 2.4-.4 2.5-.1 2.5-.1 2.5 .1 2.5 .1 2.5 .4 2.4 .5 0 17.5-2.4-.2-2.5-.1-2.5-.1-2.5 0-2.5 0-2.5 .1-2.4 .2-2.5 .2-2.5 .4-2.5 .4-2.5 .4-2.5 .6-2.4 .7-2.5 .7-2.5 .9-2.5 1.1-2.5 1.2-2.4 1-2.5 .7-2.5 .7-2.5 .5-2.5 .5-2.5 .4-2.4 .2-2.5 .2-2.5 0-2.5-.1-2.5-.2-2.4-.4-2.5-.4-2.5-.6-2.5-.8-2.5-1-2.5-1.1-2.4-1-2.5-1-2.5-1-2.5-1.1-2.5-1.1-2.4-1.1-2.5-1.1-2.5-1.1-2.5-1-2.5-1.1-2.5-1-2.4-1-2.5-.9-2.5-.8-2.5-.6-2.5-.3-2.5 .1-2.4 .7-2.5 1-2.5 1.2-2.5 1.4-2.5 1.6-2.4 1.7-2.5 2.1-2.5 2.2-2.5 1.9-2.5 1.4-2.5 1.2-2.4 1.1-2.5 1-2.5 .7-2.5 .4-2.5 .2-2.4 .2-2.5 .1-2.5 0-2.5-.1-2.5-.2-2.5-.3-2.4-.4-2.5-.5-2.5-.5-2.5-.7-2.5-.7-2.4-1-2.5-1.1-2.5-1.2-2.5-1.3-2.5-1.5-2.5-1.7-2.4-1.8-2.5-1.8-2.5-1.8-2.5-1.8-2.5-2-2.4-1.9-2.5-1.7-2.5-1.3-2.5-1.1-2.5-.9-2.5-.7-2.4-.3-2.5 .2-2.5 .8-2.5 1.6-2.5 1.9-2.5 2.2-2.4 2.3-2.5 2.7-2.5 2.8-2.5 2.5-2.5 1.6-2.4 1.3-2.5 1.1-2.5 .9-2.5 .7-2.5 .5-2.5 .3-2.4 .1-2.5-.1z" fill="#ff0000" fill-opacity="0.2"/>
<path d="M1351.4 446.9l1.4 .1 1.4 0 1.4-.1 1.4 0 1.4-.2 1.3-.3 1.4-.3 1.4-.3 1.4-.6 1.4-.7 1.4-.7 1.4-.8 1.4-1 1.4-1.1 1.4-1.2 1.4-1.4 1.4-1.5 1.4-1.6 1.4-1.7 1.4-1.7 1.4-1.8 1.3-1.7 1.4-1.6 1.4-1.5 1.4-1.4 1.4-1.3 1.4-1 1.4-1 1.4-.7 1.4-.3 1.4-.3 1.4-.1 1.4 .1 1.4 .3 1.4 .4 1.4 .5 1.4 .6 1.3 .8 1.4 .9 1.4 1 1.4 1 1.4 1.1 1.4 1.1 1.4 1.2 1.4 1.1 1.4 1.2 1.4 1.3 1.4 1.2 1.4 1.1 1.4 1.2 1.4 1.1 1.4 1.1 1.4 1 1.3 1 1.4 .9 1.4 .9 1.4 .9 1.4 .8 1.4 .8 1.4 .7 1.4 .7 1.4 .7 1.4 .6 1.4 .6 1.4 .5 1.4 .5 1.4 .4 1.4 .4 1.4 .4 1.4 .2 1.3 .3 1.4 .2 1.4 .2 1.4 .2 1.4 .1 1.4 0 1.4 .1 1.4 0 1.4 0 1.4-.1 1.4 0 1.4-.1 1.4-.2 1.4-.2 1.4-.2 1.4-.3 1.3-.4 1.4-.5 1.4-.6 1.4-.7 1.4-.6 1.4-.8 1.4-.9 1.4-1 1.4-1.1 1.4-1.1 1.4-1.3 1.4-1.4 1.4-1.4 1.4-1.3 1.4-1.2 1.4-1.3 1.3-1.2 1.4-1.1 1.4-1.1 1.4-1 1.4-.9 1.4-.8 1.4-.6 1.4-.6 1.4-.4 1.4-.3 1.4-.1 1.4 0 1.4 0 1.4 .2 1.4 .2 1.4 .3 1.4 .4 1.3 .5 1.4 .5 1.4 .6 1.4 .7 1.4 .7 1.4 .8 1.4 .8 1.4 .8 1.4 .9 1.4 .8 1.4 .9 1.4 .9 1.4 .9 1.4 .8 1.4 .8 1.4 .8 1.3 .8 1.4 .8 1.4 .7 1.4 .8 1.4 .7 1.4 .6 1.4 .6 1.4 .5 1.4 .5 1.4 .5 1.4 .4 1.4 .4 1.4 .4 1.4 .3 1.4 .3 1.4 .2 1.3 .2 1.4 .2 1.4 .1 1.4 .1 1.4 .1 1.4 0 1.4 0 1.4 0 1.4-.1 1.4-.1 1.4-.2 1.4-.3 1.4-.3 1.4-.3 1.4-.4 1.4-.5 1.3-.6 1.4-.5 1.4-.7 1.4-.6 1.4-.7 1.4-.7 1.4-.7 1.4-.7 1.4-.8 1.4-.7 1.4-.7 1.4-.7 1.4-.6 1.4-.6 1.4-.6 1.4-.6 1.4-.5 1.3-.4 1.4-.3 1.4-.4 1.4-.3 1.4-.2 1.4-.2 1.4-.1 1.4-.1 1.4-.1 1.4 0 1.4-.1 1.4 0 1.4 0 1.4 0 1.4 0 1.4 .1 1.3 .1 1.4 .1 1.4 .1" fill="none" stroke="#ff0000" stroke-width="4.4" stroke-linejoin="round"/>
<path d="M1351.4 446.9l2.5-1.5 2.4-2.4 2.5-3 2.5-3.3 2.5-3.8 2.5-5 2.5-5.8 2.4-6.3 2.5-7.1 2.5-9.1 2.5-10.4 2.5-13.8 2.4-10.2 2.5 .7 2.5 10.6 2.5 15.5 2.5 14.5 2.5 13 2.4 9.3 2.5 7.3 2.5 4.8 2.5 3.8 2.5 2.2 2.5 1.8 2.4 1.4 2.5 .9 2.5 .9 2.5 .8 2.5 .4 2.4 .1 2.5 .1 2.5-.1 2.5-.1 2.5-.3 2.5-.6 2.4-.7 2.5-.8 2.5-.9 2.5-1.2 2.5-1.5 2.4-1.7 2.5-1.8 2.5-2.4 2.5-2.9 2.5-3.1 2.5-3.7 2.4-4.4 2.5-4.8 2.5-5.2 2.5-5.7 2.5-5.9 2.4-6.4 2.5-6.5 2.5-6.2 2.5-5.1 2.5-2.6 2.5 .1 2.4 2.4 2.5 4.1 2.5 5.1 2.5 5.4 2.5 5.7 2.4 5.7 2.5 5.6 2.5 5.7 2.5 5.3 2.5 5.4 2.5 4.9 2.4 4 2.5 3.6 2.5 2.7 2.5 1.8 2.5 1.4 2.5 1 2.4 .3 2.5 .1 2.5-.3 2.5-.9 2.5-1.3 2.4-1.6 2.5-1.9 2.5-2.2 2.5-2.6 2.5-3 2.5-3.2 2.4-3.3 2.5-3.5 2.5-3.4 2.5-3.3 2.5-3.2 2.4-3 2.5-2.7 2.5-2.5 2.5-2.3 2.5-2.1 2.5-1.8 2.4-1.7 2.5-1.4 2.5-1 2.5-.3 2.5 .3 2.4 .8 2.5 1.5 2.5 1.6 2.5 2 2.5 1.9 2.5 1.9 2.4 1.8 2.5 1.9 2.5 1.9 2.5 1.9 2.5 1.7 2.5 1.6 2.4 1.5 0 36.9-2.4-.8-2.5-.8-2.5-.7-2.5-.6-2.5-.7-2.5-.5-2.4-.6-2.5-.5-2.5-.4-2.5-.4-2.5-.2-2.5 0-2.4 .1-2.5 .4-2.5 .4-2.5 .6-2.5 .9-2.4 .9-2.5 .9-2.5 .8-2.5 .9-2.5 .8-2.5 .8-2.4 .7-2.5 .7-2.5 .6-2.5 .6-2.5 .5-2.4 .4-2.5 .5-2.5 .3-2.5 .3-2.5 .3-2.5 .2-2.4 .1-2.5 .1-2.5 .1-2.5-.1-2.5-.1-2.4-.1-2.5-.2-2.5-.3-2.5-.4-2.5-.4-2.5-.4-2.4-.6-2.5-.6-2.5-.7-2.5-1.3-2.5-3-2.5-3.4-2.4-3.2-2.5-3.3-2.5-2.8-2.5-2.1-2.5-1.2-2.4-.4-2.5 .2-2.5 .8-2.5 1.3-2.5 1.5-2.5 1.8-2.4 2.1-2.5 2.1-2.5 1.8-2.5 1.7-2.5 1.5-2.4 1.4-2.5 1-2.5 .8-2.5 .7-2.5 .6-2.5 .5-2.4 .5-2.5 .4-2.5 .4-2.5 .3-2.5 .3-2.4 .2-2.5 .1-2.5 .1-2.5 0-2.5 0-2.5 0-2.4-.1-2.5-.1-2.5-.2-2.5-.1-2.5-.3-2.4-.2-2.5-.2-2.5-.3-2.5-1.4-2.5-3.6-2.5-4.7-2.4-7.1-2.5-8.8-2.5-10.4-2.5-8.3-2.5-4-2.5-.2-2.4 2.5-2.5 3.6-2.5 4.2-2.5 4.6-2.5 4.2-2.4 4.2-2.5 4-2.5 3.6-2.5 2.8-2.5 2.4-2.5 2-2.4 1.5-2.5 .9z" fill="#0000ff" fill-opacity="0.2"/>
<path d="M1351.4 448.7l1.4-.9 1.4-1 1.4-1.1 1.4-1.1 1.4-1.3 1.3-1.4 1.4-1.5 1.4-1.7 1.4-2 1.4-2.2 1.4-2.3 1.4-2.6 1.4-2.9 1.4-3.2 1.4-3.4 1.4-3.6 1.4-3.9 1.4-4.2 1.4-4.7 1.4-5.1 1.4-4.9 1.3-4.9 1.4-3.1 1.4-1.2 1.4 1.6 1.4 3.7 1.4 6.3 1.4 6.8 1.4 7.1 1.4 7 1.4 6.8 1.4 6.4 1.4 4.6 1.4 3.8 1.4 3.1 1.4 2.4 1.4 2.2 1.3 2 1.4 1.6 1.4 1 1.4 1 1.4 .9 1.4 .7 1.4 .5 1.4 .4 1.4 .4 1.4 .4 1.4 .3 1.4 .2 1.4 .2 1.4 .2 1.4 .2 1.4 .1 1.3 .2 1.4 .1 1.4 .1 1.4 .1 1.4 0 1.4 0 1.4 0 1.4-.2 1.4-.2 1.4-.2 1.4-.2 1.4-.3 1.4-.4 1.4-.4 1.4-.5 1.4-.5 1.4-.6 1.3-.6 1.4-.7 1.4-.8 1.4-.8 1.4-.8 1.4-1 1.4-1 1.4-1.1 1.4-1.2 1.4-1.3 1.4-1.5 1.4-1.6 1.4-1.7 1.4-1.7 1.4-1.7 1.4-1.9 1.3-1.9 1.4-2 1.4-2 1.4-2.1 1.4-2.2 1.4-2.3 1.4-2.2 1.4-2 1.4-2.1 1.4-1.9 1.4-1.7 1.4-1.5 1.4-1.4 1.4-.8 1.4-.3 1.4 .1 1.3 .5 1.4 1.1 1.4 1.5 1.4 1.9 1.4 2.3 1.4 2.5 1.4 2.4 1.4 2.6 1.4 2.6 1.4 2.6 1.4 2.4 1.4 2.4 1.4 2.3 1.4 2.1 1.4 2 1.4 1.9 1.4 1.7 1.3 1.6 1.4 1.6 1.4 1.4 1.4 1.2 1.4 1 1.4 .9 1.4 .8 1.4 .7 1.4 .6 1.4 .6 1.4 .5 1.4 .5 1.4 .3 1.4 .3 1.4 .2 1.4 .2 1.3 .2 1.4 .1 1.4 0 1.4-.1 1.4 0 1.4-.1 1.4-.2 1.4-.1 1.4-.3 1.4-.4 1.4-.4 1.4-.4 1.4-.5 1.4-.5 1.4-.6 1.4-.6 1.3-.7 1.4-.8 1.4-.9 1.4-.9 1.4-1.1 1.4-1.1 1.4-1.1 1.4-1.2 1.4-1.2 1.4-1.3 1.4-1.2 1.4-1.2 1.4-1.3 1.4-1.2 1.4-1.3 1.4-1.2 1.3-1.1 1.4-1.1 1.4-1.1 1.4-1.1 1.4-.9 1.4-.9 1.4-.8 1.4-.7 1.4-.5 1.4-.5 1.4-.3 1.4-.2 1.4 0 1.4 .2 1.4 .4 1.4 .4 1.4 .7 1.3 .7 1.4 .8 1.4 .8 1.4 .7 1.4 .9 1.4 .8 1.4 .8 1.4 .8 1.4 .8 1.4 .8 1.4 .8 1.4 .7 1.4 .7 1.4 .7 1.4 .7 1.4 .6 1.3 .6 1.4 .5 1.4 .5" fill="none" stroke="#0000ff" stroke-width="4.4" stroke-linejoin="round"/>
<path d="M1351.4 428.1l2.5-.3 2.4-1.4 2.5-2.1 2.5-2.6 2.5-3.5 2.5-5.2 2.5-6.6 2.4-7.6 2.5-8.9 2.5-11.9 2.5-13.6 2.5-13.8 2.4-15.3 2.5-14.7 2.5-12.5 2.5-6.4 2.5-2.5 2.5 .4 2.4 3.4 2.5 6.5 2.5 9.4 2.5 10.4 2.5 9.9 2.5 9.9 2.4 10.2 2.5 9.8 2.5 8.7 2.5 8 2.5 7.2 2.4 6.4 2.5 5.6 2.5 4.9 2.5 4.2 2.5 3.8 2.5 3 2.4 2.6 2.5 2.1 2.5 1.8 2.5 1.3 2.5 .9 2.4 .6 2.5 .4 2.5 .1 2.5-.6 2.5-1.4 2.5-2.1 2.4-3.2 2.5-4.2 2.5-6.2 2.5-7.8 2.5-10.2 2.4-11.4 2.5-12.7 2.5-12.4 2.5-12.2 2.5-10.2 2.5-8.3 2.4-6.1 2.5-4.5 2.5-2.8 2.5-1.7 2.5 0 2.4 1.2 2.5 1.9 2.5 2.8 2.5 3.4 2.5 4 2.5 4.5 2.4 5.2 2.5 5.7 2.5 6.3 2.5 7 2.5 7.6 2.5 7.5 2.4 7.6 2.5 7.1 2.5 6.9 2.5 6 2.5 5.2 2.4 4.4 2.5 3.7 2.5 2.8 2.5 2 2.5 1.4 2.5 .7 2.4 .3 2.5-.4 2.5-1.3 2.5-2.6 2.5-3.5 2.4-4.3 2.5-5.1 2.5-6.3 2.5-7 2.5-7.4 2.5-7.5 2.4-7.4 2.5-6.9 2.5-6.1 2.5-5.3 2.5-4.4 2.4-3.8 2.5-2.7 2.5-2.1 2.5-1.1 2.5-.7 2.5-.2 2.4 .2 2.5 .4 2.5 .7 2.5 .9 2.5 1 2.5 1 2.4 1.1 0 75.5-2.4-.8-2.5-.7-2.5-.8-2.5-.4-2.5 0-2.5 .1-2.4 .4-2.5 .5-2.5 .7-2.5 1-2.5 1-2.5 1.4-2.4 1.8-2.5 2.2-2.5 2.3-2.5 2.6-2.5 2.5-2.4 2.5-2.5 2.3-2.5 2.1-2.5 1.9-2.5 1.7-2.5 1.5-2.4 1.3-2.5 1.1-2.5 1-2.5 .7-2.5 .5-2.4 .3-2.5 .2-2.5-.1-2.5-.4-2.5-.9-2.5-1.2-2.4-1.7-2.5-2.1-2.5-2.9-2.5-3.5-2.5-4.4-2.4-5.1-2.5-5.6-2.5-6.1-2.5-6.7-2.5-6.6-2.5-6.2-2.4-5.6-2.5-4.6-2.5-3.3-2.5-1.9-2.5-.6-2.5 .4-2.4 1-2.5 1.6-2.5 2.6-2.5 4.1-2.5 4.9-2.4 6-2.5 6.3-2.5 6.8-2.5 6.4-2.5 6-2.5 5.2-2.4 4.4-2.5 3.5-2.5 2.8-2.5 2.1-2.5 1.8-2.4 1.3-2.5 .7-2.5 .5-2.5 .2-2.5 0-2.5-.3-2.4-.7-2.5-.8-2.5-1-2.5-1.3-2.5-1.6-2.4-2-2.5-2.4-2.5-2.7-2.5-3.1-2.5-3.6-2.5-4.2-2.4-4.8-2.5-5.4-2.5-6-2.5-6.7-2.5-7.7-2.4-8.5-2.5-9.3-2.5-9.3-2.5-9.1-2.5-6.9-2.5-4.6-2.4-1.6-2.5 .2-2.5 1.8-2.5 3.9-2.5 7.3-2.5 9.4-2.4 10.5-2.5 10-2.5 10.3-2.5 9.2-2.5 7.2-2.4 6-2.5 5.3-2.5 4.1-2.5 2.7-2.5 2-2.5 1.6-2.4 1-2.5 .1z" fill="#ff00ff" fill-opacity="0.2"/>
<path d="M1351.4 429.9l1.4-.2 1.4-.4 1.4-.6 1.4-.6 1.4-.9 1.3-1.3 1.4-1.4 1.4-1.6 1.4-2.1 1.4-2.6 1.4-2.7 1.4-3 1.4-3.5 1.4-4 1.4-4.3 1.4-5.1 1.4-5.7 1.4-6.1 1.4-6.4 1.4-6.8 1.4-6.8 1.3-6.8 1.4-6.9 1.4-6.6 1.4-6.2 1.4-5.9 1.4-4.5 1.4-3.4 1.4-2.5 1.4-1.4 1.4-.9 1.4 .2 1.4 1.2 1.4 2.1 1.4 3.4 1.4 3.9 1.4 4.6 1.3 4.9 1.4 5 1.4 5.1 1.4 5.2 1.4 5.1 1.4 5.1 1.4 5 1.4 5 1.4 4.7 1.4 4.4 1.4 4.1 1.4 3.9 1.4 3.7 1.4 3.5 1.4 3.4 1.4 3.2 1.3 2.9 1.4 2.8 1.4 2.6 1.4 2.5 1.4 2.3 1.4 2.1 1.4 2.1 1.4 1.8 1.4 1.7 1.4 1.7 1.4 1.5 1.4 1.3 1.4 1.1 1.4 1.1 1.4 .9 1.4 .7 1.4 .7 1.3 .6 1.4 .6 1.4 .3 1.4 .3 1.4 .1 1.4 .1 1.4 0 1.4-.2 1.4-.4 1.4-.4 1.4-.5 1.4-.9 1.4-1.2 1.4-1.3 1.4-1.5 1.4-2 1.3-2.3 1.4-2.4 1.4-2.7 1.4-3.2 1.4-3.5 1.4-3.8 1.4-4.3 1.4-4.7 1.4-4.9 1.4-4.9 1.4-5.2 1.4-5.3 1.4-5.1 1.4-4.6 1.4-4.6 1.4-4.2 1.3-3.6 1.4-3.1 1.4-2.9 1.4-2.4 1.4-1.9 1.4-1.5 1.4-1.3 1.4-.9 1.4-.5 1.4-.3 1.4 0 1.4 .5 1.4 .8 1.4 1 1.4 1.5 1.4 1.9 1.4 2.2 1.3 2.3 1.4 2.6 1.4 2.9 1.4 3 1.4 3 1.4 3.2 1.4 3.3 1.4 3.4 1.4 3.4 1.4 3.6 1.4 3.5 1.4 3.4 1.4 3.2 1.4 3 1.4 3 1.4 2.7 1.3 2.7 1.4 2.6 1.4 2.4 1.4 2.3 1.4 2.3 1.4 2.1 1.4 1.9 1.4 1.7 1.4 1.6 1.4 1.5 1.4 1.2 1.4 1.1 1.4 1 1.4 .9 1.4 .6 1.4 .6 1.3 .5 1.4 .4 1.4 .2 1.4 .1 1.4 0 1.4-.1 1.4-.2 1.4-.5 1.4-.6 1.4-.7 1.4-.9 1.4-1.1 1.4-1.3 1.4-1.3 1.4-1.6 1.4-1.8 1.3-2.1 1.4-2.1 1.4-2.4 1.4-2.6 1.4-2.7 1.4-2.7 1.4-2.8 1.4-2.9 1.4-2.7 1.4-2.7 1.4-2.7 1.4-2.5 1.4-2.4 1.4-2.3 1.4-2.3 1.4-2 1.4-1.7 1.3-1.4 1.4-1.2 1.4-1 1.4-.9 1.4-.8 1.4-.8 1.4-.5 1.4-.3 1.4-.2 1.4-.1 1.4 .1 1.4 .1 1.4 .3 1.4 .4 1.4 .4 1.4 .5 1.3 .5 1.4 .6 1.4 .7" fill="none" stroke="#ff00ff" stroke-width="4.4" stroke-linejoin="round"/>
</g>
<g clip-path="url(#c13)">
<path d="M1387.1 298.4H1431.9V457.5H1387.1ZM1501.6 298.4H1545.2V457.5H1501.6ZM1619.6 298.4H1633.7V457.5H1619.6Z" fill="#f00" fill-opacity="0.105"/>
<path d="M1351.3 298.4H1387.1V457.5H1351.3ZM1431.9 298.4H1501.6V457.5H1431.9ZM1545.2 298.4H1619.6V457.5H1545.2Z" fill="#0f0" fill-opacity="0.105"/>
<path d="M1351.3 305.9H1633.7" stroke="#f00" stroke-opacity="0.74" stroke-width="4" stroke-dasharray="15.4 14.93" fill="none"/>
</g>
<path d="M1428.6 298.4v3.2M1428.6 457.5v-3.2M1505.9 298.4v3.2M1505.9 457.5v-3.2M1583.3 298.4v3.2M1583.3 457.5v-3.2M1633.7 322.1h-3.4M1633.7 389.8h-3.4M1633.7 297.6V458.3" stroke="#000" stroke-width="1.7" fill="none"/>
<path d="M1351.3 297.6V458.3M1351.3 352.1h3.6M1351.3 457.5h3.6" stroke="#f00" stroke-width="1.8" fill="none"/>
<text x="1645.9" y="330.2" class="t">4</text>
<text x="1645.9" y="397.9" class="t">2</text>
<text x="1645.9" y="465.3" class="t">0</text>
<text x="1339" y="359.8" class="t r" text-anchor="end">1</text>
<text x="1339" y="465.2" class="t r" text-anchor="end">0</text>
<text x="1351" y="488.9" class="t" text-anchor="middle">0</text>
<text x="1428.6" y="488.9" class="t" text-anchor="middle">100</text>
<text x="1505.9" y="488.9" class="t" text-anchor="middle">200</text>
<text x="1583.3" y="488.9" class="t" text-anchor="middle">300</text>
<text x="1348.9" y="288.4" class="x r">×</text>
<text x="1371.2" y="285.7" class="t r">10</text>
<text x="1398.9" y="273.1" class="s r">−4</text>
<text x="1638.6" y="288.4" class="x">×</text>
<text x="1660.9" y="285.7" class="t">10</text>
<text x="1688.6" y="273.1" class="s">−3</text>
<text x="1492.5" y="284.5" class="h" text-anchor="middle">Friuli</text>
</g>
<g id="p20">
<path d="M33.3 548.9H317.7M33.3 706.2H317.7" stroke="#000" stroke-width="1.7" fill="none"/>
<path d="M111.2 548.9V706.2M189 548.9V706.2M266.9 548.9V706.2" stroke="#000" stroke-opacity="0.22" stroke-width="1.4" fill="none"/>
<path d="M33.3 602H317.7" stroke="#f00" stroke-opacity="0.22" stroke-width="1.4" fill="none"/>
<g clip-path="url(#c20b)">
<path d="M33.4 678.3l2.5 .8 2.5 .7 2.5 .7 2.5 .7 2.5 .7 2.5 .7 2.5 .7 2.5 .6 2.5 .7 2.5 .5 2.5 .5 2.5 .5 2.4 .1 2.5-1.3 2.5-2.2 2.5-2.9 2.5-4.4 2.5-5.1 2.5-5.4 2.5-6 2.5-5.3 2.5-4.5 2.5-3.9 2.5-2.4 2.5-1.6 2.5-.7 2.5 .1 2.5 .8 2.5 1.5 2.5 2.1 2.5 2.3 2.5 2.2 2.5 2.3 2.5 2.3 2.5 2.3 2.5 2.3 2.5 2.1 2.5 2.2 2.5 2 2.5 2 2.5 1.8 2.5 1.7 2.5 1.6 2.5 1.6 2.5 1.4 2.5 1.4 2.5 1.3 2.5 1.1 2.5 .7 2.5 .4 2.5 .2 2.4 0 2.5-.2 2.5-.8 2.5-1.4 2.5-1.8 2.5-2.4 2.5-3.4 2.5-3.6 2.5-3.4 2.5-3.5 2.5-3.3 2.5-3 2.5-2.6 2.5-2.4 2.5-1.8 2.5-1 2.5-.8 2.5-.5 2.5-.2 2.5 .1 2.5 .4 2.5 .6 2.5 .9 2.5 1.3 2.5 1.7 2.5 1.9 2.5 1.9 2.5 1.8 2.5 1.9 2.5 2 2.5 1.8 2.5 1.8 2.5 1.8 2.5 1.7 2.5 1.5 2.5 1.4 2.5 1.2 2.5 1.2 2.5 .8 2.4 .5 2.5 .3 2.5 0 2.5-.1 2.5-.4 2.5-.6 2.5-.8 2.5-.9 2.5-1.1 2.5-1.1 2.5-1.2 2.5-1.3 2.5-1.3 2.5-1.3 2.5-1.3 2.5-1.3 2.5-1.2 2.5-1.1 2.5-.9 2.5-.8 2.5-.8 2.5-.7 2.5-.6 2.5-.4 0 26.7-2.5 .3-2.5 .4-2.5 .5-2.5 .6-2.5 .7-2.5 .7-2.5 .7-2.5 .8-2.5 .9-2.5 .8-2.5 .9-2.5 .9-2.5 .9-2.5 .8-2.5 .7-2.5 .5-2.5 .5-2.5 .4-2.5 .3-2.5 .1-2.5 0-2.5 0-2.5-.1-2.4-.1-2.5-.4-2.5-.4-2.5-.5-2.5-.6-2.5-.9-2.5-1.1-2.5-1.2-2.5-1.2-2.5-1.4-2.5-1.5-2.5-1.5-2.5-1.5-2.5-1.5-2.5-1.7-2.5-1.5-2.5-1.2-2.5-.9-2.5-.6-2.5-.4-2.5-.1-2.5 .2-2.5 .6-2.5 .7-2.5 1-2.5 1.7-2.5 2-2.5 2.1-2.5 2.4-2.5 2.7-2.5 2.5-2.5 2.4-2.5 2.3-2.5 2.1-2.5 1.1-2.5 .7-2.5 .4-2.5 .2-2.5-.1-2.4-.2-2.5-.4-2.5-.4-2.5-.6-2.5-.8-2.5-1-2.5-1.3-2.5-1.2-2.5-1.5-2.5-1.7-2.5-1.8-2.5-1.8-2.5-1.7-2.5-1.9-2.5-1.8-2.5-2-2.5-2.1-2.5-2.4-2.5-2.3-2.5-2.4-2.5-2.2-2.5-2.2-2.5-2.1-2.5-1.5-2.5-.8-2.5-.1-2.5 .8-2.5 2.1-2.5 3.4-2.5 4.6-2.5 4.8-2.5 4.5-2.5 4.5-2.5 4-2.5 4.1-2.5 3.2-2.5 1-2.5-.2-2.5-.5-2.4-.7-2.5-.7-2.5-.8-2.5-.8-2.5-.9-2.5-.9-2.5-.9-2.5-1.1-2.5-1.2-2.5-1.3-2.5-1.3-2.5-1.4-2.5-1.5z" fill="#ff0000" fill-opacity="0.2"/>
<path d="M33.4 680.1l1.4 .4 1.4 .5 1.4 .6 1.4 .5 1.4 .6 1.4 .6 1.4 .6 1.3 .6 1.4 .6 1.4 .5 1.4 .6 1.4 .6 1.4 .6 1.4 .5 1.4 .5 1.4 .4 1.4 .4 1.4 .4 1.4 .2 1.4 .2 1.4 .2 1.4 .1 1.4 0 1.4-.2 1.4-.4 1.4-.4 1.4-.6 1.4-1.2 1.4-1.5 1.4-1.6 1.3-1.9 1.4-2.3 1.4-2.5 1.4-2.7 1.4-2.9 1.4-3.1 1.4-3.2 1.4-2.9 1.4-3.1 1.4-2.8 1.4-2.2 1.4-1.9 1.4-1.5 1.4-1 1.4-.6 1.4-.5 1.4 .1 1.4 .4 1.4 .5 1.4 .8 1.4 .9 1.4 1 1.4 1.1 1.3 1.1 1.4 1.2 1.4 1.2 1.4 1.2 1.4 1.3 1.4 1.3 1.4 1.2 1.4 1.3 1.4 1.2 1.4 1.2 1.4 1.2 1.4 1.2 1.4 1.1 1.4 1.2 1.4 1.1 1.4 1.1 1.4 1 1.4 1 1.4 .9 1.4 1 1.4 .9 1.4 .9 1.3 .9 1.4 .9 1.4 .8 1.4 .8 1.4 .8 1.4 .7 1.4 .7 1.4 .6 1.4 .5 1.4 .5 1.4 .4 1.4 .4 1.4 .4 1.4 .3 1.4 .3 1.4 .2 1.4 0 1.4 0 1.4-.1 1.4-.1 1.4-.3 1.4-.4 1.4-.5 1.3-.5 1.4-.9 1.4-.9 1.4-1.1 1.4-1.2 1.4-1.5 1.4-1.5 1.4-1.5 1.4-1.6 1.4-1.7 1.4-1.6 1.4-1.6 1.4-1.6 1.4-1.5 1.4-1.3 1.4-1.3 1.4-1.1 1.4-1 1.4-.9 1.4-.8 1.4-.8 1.4-.6 1.4-.5 1.3-.4 1.4-.3 1.4-.3 1.4-.1 1.4-.1 1.4 0 1.4 .1 1.4 .2 1.4 .3 1.4 .4 1.4 .4 1.4 .5 1.4 .7 1.4 .8 1.4 .8 1.4 .9 1.4 1 1.4 .9 1.4 1 1.4 .9 1.4 .9 1.4 1 1.4 .9 1.3 .9 1.4 1 1.4 .9 1.4 .8 1.4 .8 1.4 .8 1.4 .7 1.4 .8 1.4 .7 1.4 .7 1.4 .6 1.4 .5 1.4 .5 1.4 .4 1.4 .3 1.4 .4 1.4 .2 1.4 .3 1.4 .1 1.4 .1 1.4 .1 1.4 0 1.4 0 1.3-.1 1.4-.1 1.4-.2 1.4-.2 1.4-.3 1.4-.3 1.4-.3 1.4-.4 1.4-.5 1.4-.4 1.4-.5 1.4-.5 1.4-.5 1.4-.5 1.4-.6 1.4-.5 1.4-.6 1.4-.6 1.4-.5 1.4-.6 1.4-.6 1.4-.5 1.4-.5 1.3-.5 1.4-.5 1.4-.5 1.4-.4 1.4-.4 1.4-.4 1.4-.4 1.4-.4 1.4-.4 1.4-.3 1.4-.3 1.4-.3 1.4-.2 1.4-.1" fill="none" stroke="#ff0000" stroke-width="4.4" stroke-linejoin="round"/>
<path d="M33.4 690.6l2.5 2.1 2.5 2 2.5 1.8 2.5 1.6 2.5 1.3 2.5 1 2.5 .6 2.5 .3 2.5 .1 2.5-.1 2.5-.8 2.5-2.8 2.4-4 2.5-7.5 2.5-10.2 2.5-14.4 2.5-15.2 2.5-16 2.5-11.6 2.5-5.6 2.5 .8 2.5 5.1 2.5 9.4 2.5 13.4 2.5 13.1 2.5 12.2 2.5 8.4 2.5 6.3 2.5 4.4 2.5 3.8 2.5 2.7 2.5 2.2 2.5 1.9 2.5 1.1 2.5 .9 2.5 .8 2.5 .5 2.5 .4 2.5 .2 2.5 .2 2.5 .1 2.5 .1 2.5 0 2.5-.3 2.5-.7 2.5-.8 2.5-1 2.5-1.1 2.5-2.2 2.5-3.2 2.5-3.9 2.4-4.5 2.5-5.8 2.5-6.1 2.5-6.4 2.5-6.5 2.5-5.7 2.5-4.9 2.5-4.2 2.5-3.6 2.5-3.3 2.5-2.4 2.5-1.4 2.5-.9 2.5 .3 2.5 1.3 2.5 1.7 2.5 2.9 2.5 3.6 2.5 4.6 2.5 5.4 2.5 6 2.5 6.8 2.5 6.1 2.5 5.4 2.5 4.6 2.5 3.6 2.5 2.9 2.5 1.9 2.5 1.5 2.5 1.2 2.5 .5 2.5 .1 2.5-.2 2.5-.7 2.5-1.3 2.5-1.5 2.5-1.6 2.5-1.9 2.5-2 2.4-2.4 2.5-2.6 2.5-2.6 2.5-2.8 2.5-2.9 2.5-2.7 2.5-2.5 2.5-2.5 2.5-2.3 2.5-2.3 2.5-2.1 2.5-1.8 2.5-1.6 2.5-1.3 2.5-1.1 2.5-1 2.5-.7 2.5-.5 2.5-.3 2.5 .2 2.5 .9 2.5 1 2.5 1.1 2.5 1.3 0 56.6-2.5 .2-2.5 .2-2.5 .2-2.5 .2-2.5 .2-2.5 .2-2.5 .2-2.5 .2-2.5 .1-2.5 .2-2.5 .2-2.5 .1-2.5 .2-2.5 .1-2.5 .2-2.5 .1-2.5 .2-2.5 .1-2.5 .1-2.5 .1-2.5 .1-2.5 .1-2.5 .1-2.4 .1-2.5 0-2.5 .1-2.5 0-2.5 .1-2.5 0-2.5 .1-2.5 0-2.5 0-2.5 0-2.5 0-2.5-.1-2.5 0-2.5 0-2.5-.1-2.5 0-2.5-.1-2.5-.1-2.5-.1-2.5-.1-2.5-.1-2.5-.1-2.5-.2-2.5-.1-2.5-.2-2.5-.2-2.5-.2-2.5-.2-2.5-.2-2.5-.2-2.5-.3-2.5-.2-2.5-.3-2.5-.3-2.5-.3-2.5-.3-2.5-.4-2.5-.7-2.5-.4-2.4-.4-2.5-.3-2.5 .1-2.5 .1-2.5 .2-2.5 0-2.5-.1-2.5-.1-2.5-.1-2.5-.2-2.5-.4-2.5-.3-2.5-.4-2.5-.4-2.5-.6-2.5-.7-2.5-.9-2.5-.8-2.5-.7-2.5-.6-2.5-.4-2.5-.3-2.5-.3-2.5-.5-2.5-1.1-2.5-1.8-2.5-4.4-2.5-6.8-2.5-6.3-2.5-5.9-2.5-2.5-2.5 2-2.5 5.5-2.5 7-2.5 9.4-2.5 7.3-2.5 3.7-2.5 2.5-2.5 .6-2.4-.1-2.5-.2-2.5-.4-2.5-.6-2.5-.8-2.5-.8-2.5-1-2.5-1.1-2.5-1.4-2.5-1.7-2.5-1.9-2.5-2-2.5-2.1z" fill="#0000ff" fill-opacity="0.2"/>
<path d="M33.4 692.4l1.4 1.3 1.4 1.2 1.4 1.1 1.4 1.1 1.4 1 1.4 .9 1.4 .8 1.3 .8 1.4 .6 1.4 .6 1.4 .5 1.4 .5 1.4 .5 1.4 .3 1.4 .2 1.4 .2 1.4 .1 1.4 0 1.4-.2 1.4-.4 1.4-.5 1.4-1.3 1.4-1.8 1.4-2.1 1.4-2.7 1.4-3.3 1.4-3.6 1.4-4.1 1.4-4.7 1.4-4.7 1.3-4.9 1.4-5.1 1.4-5.1 1.4-5.3 1.4-5.1 1.4-3.6 1.4-2.2 1.4-.7 1.4 .7 1.4 2.2 1.4 3.9 1.4 4.5 1.4 4.9 1.4 5.3 1.4 5 1.4 4.4 1.4 4.1 1.4 3.5 1.4 2.8 1.4 2.6 1.4 2.2 1.4 1.8 1.4 1.6 1.3 1.4 1.4 1.3 1.4 1.1 1.4 1 1.4 .8 1.4 .8 1.4 .8 1.4 .6 1.4 .6 1.4 .5 1.4 .5 1.4 .4 1.4 .4 1.4 .3 1.4 .3 1.4 .3 1.4 .2 1.4 .2 1.4 .2 1.4 .2 1.4 .2 1.4 .2 1.3 .1 1.4 .1 1.4 .1 1.4 0 1.4-.1 1.4 0 1.4 0 1.4-.1 1.4-.2 1.4-.2 1.4-.2 1.4-.3 1.4-.5 1.4-.6 1.4-.8 1.4-.9 1.4-.9 1.4-1.2 1.4-1.3 1.4-1.6 1.4-1.6 1.4-1.8 1.4-2 1.3-2.1 1.4-2.1 1.4-2 1.4-2 1.4-2.1 1.4-2 1.4-1.8 1.4-1.8 1.4-1.7 1.4-1.6 1.4-1.4 1.4-1.2 1.4-1 1.4-1 1.4-.6 1.4-.5 1.4-.3 1.4-.2 1.4 .2 1.4 .5 1.4 .8 1.4 .9 1.4 1.3 1.3 1.5 1.4 1.6 1.4 1.7 1.4 1.8 1.4 1.8 1.4 1.9 1.4 1.8 1.4 1.8 1.4 1.9 1.4 1.8 1.4 1.6 1.4 1.6 1.4 1.5 1.4 1.4 1.4 1.2 1.4 1.1 1.4 1 1.4 .9 1.4 .8 1.4 .6 1.4 .7 1.4 .6 1.4 .5 1.3 .3 1.4 .3 1.4 .3 1.4 .2 1.4 .1 1.4 .1 1.4 0 1.4 .1 1.4-.1 1.4 0 1.4-.2 1.4-.2 1.4-.4 1.4-.3 1.4-.4 1.4-.4 1.4-.6 1.4-.5 1.4-.7 1.4-.7 1.4-.8 1.4-.8 1.4-.9 1.3-.8 1.4-.9 1.4-.9 1.4-.8 1.4-.9 1.4-.9 1.4-.9 1.4-.9 1.4-.9 1.4-.8 1.4-.8 1.4-.6 1.4-.7 1.4-.6 1.4-.5 1.4-.5 1.4-.5 1.4-.5 1.4-.4 1.4-.3 1.4-.3 1.4-.2 1.4-.2 1.3-.1 1.4-.2 1.4 0 1.4-.1 1.4 0 1.4 .1 1.4 .2 1.4 .3 1.4 .4 1.4 .3 1.4 .4 1.4 .5 1.4 .4 1.4 .5" fill="none" stroke="#0000ff" stroke-width="4.4" stroke-linejoin="round"/>
<path d="M33.4 648.4l2.5-.8 2.5-.5 2.5 .2 2.5 1.1 2.5 1.8 2.5 2.2 2.5 2.1 2.5 1.6 2.5 1.4 2.5 1.3 2.5 1.2 2.5 .9 2.4-.2 2.5-.9 2.5-3.8 2.5-6.2 2.5-10 2.5-12.8 2.5-15.6 2.5-17.2 2.5-16.5 2.5-12.6 2.5-7.9 2.5-5 2.5-2 2.5-1 2.5 .4 2.5 1.3 2.5 2.4 2.5 3.4 2.5 3.7 2.5 4.4 2.5 4.8 2.5 5.1 2.5 5 2.5 5 2.5 5 2.5 5 2.5 4.8 2.5 4.6 2.5 4.5 2.5 4.7 2.5 4.4 2.5 4.3 2.5 4 2.5 3.9 2.5 3.6 2.5 3.2 2.5 2.7 2.5 2 2.5 1.6 2.4 .5 2.5-.3 2.5-2 2.5-3.3 2.5-5.4 2.5-7.2 2.5-9.4 2.5-9.9 2.5-10 2.5-9.6 2.5-8 2.5-6.4 2.5-4.5 2.5-3.6 2.5-2.1 2.5-1.6 2.5-1.1 2.5-.9 2.5-.5 2.5-.2 2.5 .2 2.5 1 2.5 1.4 2.5 1.9 2.5 2.5 2.5 3.2 2.5 3.5 2.5 3.7 2.5 3.8 2.5 4.1 2.5 4.2 2.5 3.9 2.5 3.7 2.5 3.5 2.5 3.3 2.5 3.2 2.5 3 2.5 2.3 2.5 1.9 2.4 1.5 2.5 1.2 2.5 .6 2.5 .1 2.5-.4 2.5-1.1 2.5-1.6 2.5-2.3 2.5-2.5 2.5-3 2.5-3.2 2.5-3.4 2.5-3.3 2.5-3.4 2.5-3.2 2.5-3 2.5-2.7 2.5-2.7 2.5-2.3 2.5-1.8 2.5-1.5 2.5-1.1 2.5-1 2.5-.6 0 80.9-2.5 1.9-2.5 2.2-2.5 2.2-2.5 2.4-2.5 2.6-2.5 2.3-2.5 2.1-2.5 1.7-2.5 1.3-2.5 .8-2.5 .6-2.5 0-2.5-.3-2.5-.6-2.5-.9-2.5-.8-2.5-.6-2.5-.3-2.5 .4-2.5 .5-2.5 .4-2.5 .4-2.5 .1-2.4-.6-2.5-.8-2.5-1.3-2.5-1.6-2.5-2-2.5-2.6-2.5-3.3-2.5-3.7-2.5-4.1-2.5-4.3-2.5-4.7-2.5-4.5-2.5-4-2.5-3.5-2.5-3.1-2.5-2.4-2.5-1.7-2.5-1-2.5 0-2.5 .6-2.5 1.4-2.5 1.9-2.5 2.7-2.5 3.3-2.5 3.9-2.5 4.4-2.5 4.9-2.5 5.1-2.5 5.1-2.5 5-2.5 4.6-2.5 4.1-2.5 3.2-2.5 2.5-2.5 1.7-2.5 1.4-2.5 .6-2.5 0-2.5-.3-2.4-.8-2.5-1-2.5-1.5-2.5-2-2.5-2.2-2.5-2.8-2.5-3.1-2.5-3.5-2.5-3.5-2.5-3.8-2.5-4.3-2.5-4.7-2.5-4.8-2.5-5-2.5-5.2-2.5-5.5-2.5-5.4-2.5-5.6-2.5-5.1-2.5-4.9-2.5-4-2.5-3.2-2.5-1.5-2.5 .1-2.5 1.5-2.5 2.8-2.5 5-2.5 6-2.5 7.2-2.5 8.4-2.5 9.2-2.5 9.3-2.5 8.5-2.5 7.4-2.5 5.5-2.5 4-2.5 1.9-2.5 .6-2.5-.9-2.4-1.5-2.5-1.6-2.5-1.9-2.5-1.9-2.5-2-2.5-2-2.5-2.2-2.5-2.2-2.5-1.9-2.5-1.3-2.5-.3-2.5 .4-2.5 .8z" fill="#ff00ff" fill-opacity="0.2"/>
<path d="M33.4 650.6l1.4-.6 1.4-.5 1.4-.2 1.4 0 1.4 .2 1.4 .3 1.4 .6 1.3 1 1.4 1.1 1.4 1.1 1.4 1.2 1.4 1.3 1.4 1.3 1.4 1.2 1.4 1.1 1.4 1.2 1.4 .9 1.4 .9 1.4 .7 1.4 .6 1.4 .6 1.4 .3 1.4 .2 1.4 0 1.4-.1 1.4-.8 1.4-1 1.4-2.1 1.4-2.8 1.4-3.3 1.3-4.2 1.4-4.8 1.4-6 1.4-6.6 1.4-6.8 1.4-7.1 1.4-6.9 1.4-6.6 1.4-6.2 1.4-5.5 1.4-5.1 1.4-4.3 1.4-3.5 1.4-3.1 1.4-2.2 1.4-2 1.4-1.2 1.4-.8 1.4-.4 1.4 0 1.4 .5 1.4 .7 1.4 1 1.3 1.5 1.4 1.6 1.4 1.8 1.4 2 1.4 2.2 1.4 2.3 1.4 2.5 1.4 2.6 1.4 2.6 1.4 2.6 1.4 2.5 1.4 2.6 1.4 2.6 1.4 2.5 1.4 2.6 1.4 2.5 1.4 2.6 1.4 2.6 1.4 2.6 1.4 2.5 1.4 2.5 1.4 2.4 1.3 2.4 1.4 2.3 1.4 2.2 1.4 2.2 1.4 2.1 1.4 2 1.4 2 1.4 2 1.4 1.9 1.4 1.8 1.4 1.5 1.4 1.6 1.4 1.3 1.4 1.3 1.4 1.1 1.4 1 1.4 .9 1.4 .7 1.4 .6 1.4 .5 1.4 .4 1.4 .3 1.4-.2 1.3-.3 1.4-.5 1.4-1 1.4-1.6 1.4-1.7 1.4-2.1 1.4-2.6 1.4-2.8 1.4-3.1 1.4-3.3 1.4-3.5 1.4-3.6 1.4-3.6 1.4-3.7 1.4-3.6 1.4-3.8 1.4-3.6 1.4-3.4 1.4-3.2 1.4-3.1 1.4-2.7 1.4-2.5 1.4-2.2 1.3-1.8 1.4-1.6 1.4-1.3 1.4-1 1.4-.7 1.4-.6 1.4-.4 1.4-.2 1.4 0 1.4 .2 1.4 .4 1.4 .7 1.4 .7 1.4 1 1.4 1.2 1.4 1.4 1.4 1.4 1.4 1.6 1.4 1.7 1.4 1.9 1.4 1.9 1.4 2.1 1.4 2.1 1.3 2.2 1.4 2.1 1.4 2.1 1.4 2.1 1.4 2.1 1.4 2 1.4 2 1.4 2 1.4 1.9 1.4 1.8 1.4 1.8 1.4 1.6 1.4 1.6 1.4 1.5 1.4 1.4 1.4 1.3 1.4 1.1 1.4 1.2 1.4 1 1.4 .8 1.4 .8 1.4 .7 1.4 .5 1.3 .4 1.4 .3 1.4 .2 1.4 0 1.4-.1 1.4-.3 1.4-.3 1.4-.4 1.4-.7 1.4-.8 1.4-.9 1.4-1 1.4-1.1 1.4-1.1 1.4-1.3 1.4-1.3 1.4-1.4 1.4-1.4 1.4-1.4 1.4-1.5 1.4-1.6 1.4-1.5 1.4-1.6 1.3-1.5 1.4-1.5 1.4-1.5 1.4-1.4 1.4-1.2 1.4-1.2 1.4-1.1 1.4-.9 1.4-.9 1.4-.8 1.4-.7 1.4-.6 1.4-.5 1.4-.4" fill="none" stroke="#ff00ff" stroke-width="4.4" stroke-linejoin="round"/>
</g>
<g clip-path="url(#c20)">
<path d="M33.3 548.9H63.8V706.2H33.3ZM81.9 548.9H167.5V706.2H81.9ZM188.6 548.9H273.8V706.2H188.6ZM296.7 548.9H317.7V706.2H296.7Z" fill="#f00" fill-opacity="0.105"/>
<path d="M63.8 548.9H81.9V706.2H63.8ZM167.5 548.9H188.6V706.2H167.5ZM273.8 548.9H296.7V706.2H273.8Z" fill="#0f0" fill-opacity="0.105"/>
<path d="M33.3 556.5H317.7" stroke="#f00" stroke-opacity="0.74" stroke-width="4" stroke-dasharray="15.4 14.93" fill="none"/>
</g>
<path d="M111.2 548.9v3.2M111.2 706.2v-3.2M189 548.9v3.2M189 706.2v-3.2M266.9 548.9v3.2M266.9 706.2v-3.2M317.7 598.4h-3.4M317.7 652h-3.4M317.7 548V707" stroke="#000" stroke-width="1.7" fill="none"/>
<path d="M33.3 548V707M33.3 602h3.6M33.3 706.2h3.6" stroke="#f00" stroke-width="1.8" fill="none"/>
<text x="329.9" y="606.5" class="t">1</text>
<text x="329.9" y="660.1" class="t">0.5</text>
<text x="329.9" y="714" class="t">0</text>
<text x="21" y="609.7" class="t r" text-anchor="end">1</text>
<text x="21" y="713.9" class="t r" text-anchor="end">0</text>
<text x="33" y="737.6" class="t" text-anchor="middle">0</text>
<text x="111.2" y="737.6" class="t" text-anchor="middle">100</text>
<text x="189" y="737.6" class="t" text-anchor="middle">200</text>
<text x="266.9" y="737.6" class="t" text-anchor="middle">300</text>
<text x="30.9" y="538.9" class="x r">×</text>
<text x="53.2" y="536.2" class="t r">10</text>
<text x="80.9" y="523.6" class="s r">−4</text>
<text x="319.8" y="538.9" class="x">×</text>
<text x="342.1" y="536.2" class="t">10</text>
<text x="369.8" y="523.6" class="s">−3</text>
<text x="175.5" y="535" class="h" text-anchor="middle">Lazio</text>
</g>
<g id="p21">
<path d="M473.1 548.9H757.5M473.1 706.2H757.5" stroke="#000" stroke-width="1.7" fill="none"/>
<path d="M551 548.9V706.2M628.9 548.9V706.2M706.7 548.9V706.2" stroke="#000" stroke-opacity="0.22" stroke-width="1.4" fill="none"/>
<path d="M473.1 602H757.5" stroke="#f00" stroke-opacity="0.22" stroke-width="1.4" fill="none"/>
<g clip-path="url(#c21b)">
<path d="M472.9 649.3l2.5 4.1 2.5 4 2.5 3.8 2.5 3.5 2.5 3.4 2.5 3.4 2.5 3 2.5 2.7 2.5 2.4 2.5 2.1 2.5 1.8 2.5 1.5 2.5 .6 2.5-1.1 2.5-3.5 2.5-8.1 2.5-9.8 2.5-9.8 2.5-6.9 2.5-4.1 2.5-2.6 2.5-.4 2.5 .5 2.4 1.3 2.5 1.8 2.5 1.7 2.5 1.6 2.5 1.5 2.5 1.5 2.5 1.4 2.5 1.1 2.5 .8 2.5 .4 2.5-.3 2.5-.8 2.5-.7 2.5-.9 2.5-.7 2.5-.4 2.5-.2 2.5 0 2.5 .3 2.5 .5 2.5 .5 2.5 .6 2.5 .7 2.5 .6 2.5 .4 2.5 .3 2.5 0 2.5-.3 2.5-.4 2.5-.4 2.5-.6 2.5-.4 2.5-.4 2.5-.3 2.5-.1 2.5 0 2.5 .1 2.5 .2 2.5 .5 2.4 .4 2.5 .5 2.5 .3 2.5 .3 2.5 .1 2.5 .1 2.5-.1 2.5 0 2.5-.1 2.5-.2 2.5-.1 2.5-.1 2.5-.1 2.5-.1 2.5 0 2.5 .1 2.5 .2 2.5 .1 2.5 .1 2.5 .1 2.5 .1 2.5 0 2.5-.1 2.5-.1 2.5-.1 2.5-.2 2.5-.1 2.5-.1 2.5 0 2.5 .1 2.5 .1 2.5 .2 2.5 .1 2.5 .2 2.5 .1 2.5 .2 2.5 .1 2.5 .1 2.5 0 2.4 0 2.5-.1 2.5-.1 2.5-.2 2.5-.1 2.5-.2 2.5-.1 2.5-.1 2.5 0 2.5 .1 2.5 .1 2.5 .1 2.5 .1 0 35.2-2.5-.2-2.5-.1-2.5-.1-2.5 0-2.5 .1-2.5 .1-2.5 .1-2.5 .2-2.5 .1-2.5 .2-2.5 .1-2.5 .1-2.4 0-2.5-.1-2.5-.1-2.5-.1-2.5-.2-2.5-.1-2.5-.2-2.5-.1-2.5-.1-2.5 0-2.5 0-2.5 0-2.5 0-2.5 .1-2.5 .2-2.5 .2-2.5 .1-2.5 0-2.5 0-2.5-.1-2.5-.1-2.5-.2-2.5-.1-2.5-.1-2.5-.1-2.5 0-2.5 .1-2.5 .1-2.5 .2-2.5 .1-2.5 .2-2.5 .2-2.5 .1-2.5 .2-2.5 0-2.5-.1-2.5-.1-2.5-.4-2.5-.5-2.4-.4-2.5-.4-2.5-.3-2.5-.1-2.5 0-2.5 .2-2.5 .4-2.5 .4-2.5 .5-2.5 .5-2.5 .5-2.5 .5-2.5 .2-2.5 0-2.5-.3-2.5-.6-2.5-.7-2.5-.6-2.5-.7-2.5-.7-2.5-.3-2.5-.2-2.5 0-2.5 .1-2.5 .5-2.5 .6-2.5 1.1-2.5 1.4-2.5 .9-2.5 .6-2.5-.1-2.5-.8-2.5-1.3-2.5-1.7-2.5-1.8-2.5-1.8-2.5-1.8-2.5-1.8-2.5-1.6-2.4-.8-2.5-.1-2.5 1.3-2.5 2.4-2.5 3.7-2.5 4.2-2.5 3.9-2.5 1.7-2.5 .3-2.5-.7-2.5-1.1-2.5-1.2-2.5-1.5-2.5-1.8-2.5-2.1-2.5-2.3-2.5-2.8-2.5-3.3-2.5-3.6-2.5-3.7-2.5-3.6-2.5-3.8-2.5-4-2.5-4z" fill="#ff0000" fill-opacity="0.2"/>
<path d="M472.9 652l1.4 2.2 1.4 2.3 1.4 2.2 1.4 2.1 1.4 2.2 1.4 2 1.4 2 1.4 2 1.4 1.9 1.4 1.8 1.4 1.7 1.4 1.8 1.4 1.6 1.3 1.6 1.4 1.4 1.4 1.5 1.4 1.3 1.4 1.1 1.4 1 1.4 .9 1.4 .7 1.4 .7 1.4 .4 1.4 .3 1.4 .2 1.4-.4 1.4-1.2 1.4-1.6 1.4-2.6 1.4-3.2 1.4-3.3 1.4-3.7 1.4-3.3 1.4-3 1.4-2.7 1.4-2 1.3-1.7 1.4-1 1.4-.9 1.4-.5 1.4 0 1.4 .3 1.4 .5 1.4 .7 1.4 .9 1.4 .9 1.4 1.1 1.4 1.1 1.4 1.1 1.4 1 1.4 1 1.4 1 1.4 .9 1.4 .7 1.4 .7 1.4 .6 1.4 .5 1.4 .4 1.4 .3 1.3 .2 1.4-.2 1.4-.3 1.4-.5 1.4-.5 1.4-.6 1.4-.7 1.4-.6 1.4-.4 1.4-.4 1.4-.4 1.4-.2 1.4-.1 1.4 0 1.4 0 1.4 .1 1.4 .2 1.4 .2 1.4 .3 1.4 .3 1.4 .3 1.4 .4 1.4 .4 1.3 .4 1.4 .3 1.4 .4 1.4 .3 1.4 .2 1.4 .1 1.4 .1 1.4 0 1.4-.1 1.4-.2 1.4-.2 1.4-.3 1.4-.3 1.4-.3 1.4-.4 1.4-.3 1.4-.2 1.4-.3 1.4-.2 1.4-.1 1.4-.2 1.4-.1 1.4 0 1.3 0 1.4 .1 1.4 .1 1.4 .2 1.4 .1 1.4 .2 1.4 .2 1.4 .2 1.4 .1 1.4 .2 1.4 .2 1.4 .1 1.4 .2 1.4 0 1.4 .1 1.4 0 1.4 0 1.4 0 1.4-.1 1.4 0 1.4-.1 1.4-.1 1.4 0 1.3-.1 1.4-.1 1.4-.1 1.4 0 1.4-.1 1.4-.1 1.4 0 1.4 0 1.4 0 1.4 0 1.4 0 1.4 .1 1.4 0 1.4 .1 1.4 .1 1.4 0 1.4 .1 1.4 0 1.4 0 1.4 0 1.4 0 1.4 0 1.3 0 1.4 0 1.4-.1 1.4 0 1.4-.1 1.4-.1 1.4 0 1.4-.1 1.4 0 1.4 0 1.4 0 1.4 0 1.4 0 1.4 0 1.4 .1 1.4 0 1.4 .1 1.4 0 1.4 .1 1.4 0 1.4 .1 1.4 .1 1.4 0 1.3 .1 1.4 0 1.4 .1 1.4 0 1.4 .1 1.4 0 1.4 .1 1.4 0 1.4 0 1.4 0 1.4 0 1.4 0 1.4 0 1.4-.1 1.4 0 1.4 0 1.4-.1 1.4 0 1.4-.1 1.4-.1 1.4 0 1.4-.1 1.4 0 1.3 0 1.4 0 1.4 0 1.4 .1 1.4 0 1.4 .1 1.4 .1 1.4 0" fill="none" stroke="#ff0000" stroke-width="4.4" stroke-linejoin="round"/>
<path d="M472.9 648.4l2.5 5 2.5 4.7 2.5 4.4 2.5 4 2.5 3.8 2.5 3.5 2.5 3.3 2.5 2.8 2.5 2.1 2.5 1.2 2.5 .5 2.5-.1 2.5-4.4 2.5-9.3 2.5-15.9 2.5-16.2 2.5-10.9 2.5-4.9 2.5-2.1 2.5-.3 2.5 .9 2.5 1.7 2.5 2.2 2.4 2 2.5 1.9 2.5 1.8 2.5 2 2.5 1.9 2.5 1.8 2.5 1.6 2.5 1.3 2.5 1 2.5 .3 2.5-.3 2.5-1 2.5-1.4 2.5-.9 2.5-.6 2.5 .2 2.5 .7 2.5 .7 2.5 .9 2.5 .8 2.5 .7 2.5 .7 2.5 .5 2.5 .4 2.5 .1 2.5-.5 2.5-.8 2.5-.9 2.5-.8 2.5-.9 2.5-.7 2.5-.4 2.5-.3 2.5 0 2.5 .2 2.5 .4 2.5 .5 2.5 .7 2.5 .7 2.4 .3 2.5 .2 2.5 .1 2.5 0 2.5 0 2.5 0 2.5-.1 2.5-.2 2.5-.1 2.5-.2 2.5-.3 2.5-.3 2.5-.2 2.5-.2 2.5-.1 2.5-.1 2.5 .1 2.5 .2 2.5 .3 2.5 .2 2.5 .1 2.5 0 2.5 0 2.5 0 2.5-.2 2.5-.2 2.5-.1 2.5 0 2.5 .1 2.5 .2 2.5 .1 2.5 .2 2.5 .1 2.5 .2 2.5 .1 2.5 .2 2.5 .1 2.5 .1 2.5 .1 2.4 0 2.5-.1 2.5-.1 2.5-.2 2.5-.1 2.5-.2 2.5-.1 2.5-.1 2.5-.1 2.5 .1 2.5 .2 2.5 .3 2.5 .3 0 51.9-2.5-.1-2.5-.1-2.5-.1-2.5-.1-2.5 0-2.5 0-2.5 .1-2.5 .1-2.5 .1-2.5 .1-2.5 .3-2.5 .2-2.4 .2-2.5 0-2.5-.1-2.5 0-2.5-.2-2.5-.2-2.5-.2-2.5-.2-2.5-.2-2.5-.1-2.5-.1-2.5 .1-2.5 .1-2.5 .2-2.5 .1-2.5 .2-2.5 .2-2.5 .2-2.5 0-2.5-.1-2.5-.2-2.5-.2-2.5-.2-2.5-.2-2.5-.1-2.5-.1-2.5 .1-2.5 .2-2.5 .2-2.5 .2-2.5 .2-2.5 .2-2.5 .2-2.5 .1-2.5 .1-2.5-.1-2.5-.1-2.5-.4-2.5-.5-2.4-.7-2.5-.9-2.5-.6-2.5-.3-2.5-.1-2.5 .2-2.5 .6-2.5 .7-2.5 .8-2.5 1-2.5 .9-2.5 .5-2.5 .3-2.5-.1-2.5-.6-2.5-1-2.5-1.2-2.5-1.3-2.5-1.3-2.5-1-2.5-.8-2.5-.4-2.5 .1-2.5 .5-2.5 1-2.5 1.5-2.5 1.8-2.5 1.9-2.5 1.4-2.5 1-2.5-.1-2.5-1-2.5-1.6-2.5-2.2-2.5-2.3-2.5-2.6-2.5-2.4-2.5-2.2-2.5-1.7-2.4-1.5-2.5-.8-2.5 .5-2.5 1.4-2.5 2.8-2.5 3.9-2.5 5.2-2.5 4.4-2.5 2.5-2.5 .3-2.5-1-2.5-1.4-2.5-1.7-2.5-1.9-2.5-2.2-2.5-2.4-2.5-2.9-2.5-3.5-2.5-3.8-2.5-4-2.5-4.2-2.5-4.6-2.5-5-2.5-5.2z" fill="#0000ff" fill-opacity="0.2"/>
<path d="M472.9 651.1l1.4 2.9 1.4 2.8 1.4 2.7 1.4 2.5 1.4 2.3 1.4 2.3 1.4 2.2 1.4 2.2 1.4 2.2 1.4 2 1.4 1.9 1.4 1.8 1.4 1.7 1.3 1.5 1.4 1.3 1.4 1.2 1.4 1.1 1.4 .9 1.4 .6 1.4 .5 1.4 .2 1.4-.1 1.4-1 1.4-1.6 1.4-3.2 1.4-4.6 1.4-5.6 1.4-5.6 1.4-5.5 1.4-4.1 1.4-3.1 1.4-2.3 1.4-1.4 1.4-1 1.4-.4 1.4 0 1.3 .3 1.4 .7 1.4 .9 1.4 1 1.4 1.1 1.4 1.3 1.4 1.3 1.4 1.3 1.4 1.2 1.4 1.3 1.4 1.3 1.4 1.2 1.4 1.1 1.4 1.1 1.4 1.1 1.4 .9 1.4 .8 1.4 .7 1.4 .6 1.4 .4 1.4 .1 1.4-.1 1.4-.5 1.3-.8 1.4-.9 1.4-.9 1.4-.9 1.4-.9 1.4-.7 1.4-.5 1.4-.3 1.4-.3 1.4 0 1.4 .1 1.4 .2 1.4 .2 1.4 .4 1.4 .5 1.4 .6 1.4 .5 1.4 .6 1.4 .6 1.4 .5 1.4 .5 1.4 .5 1.4 .4 1.3 .3 1.4 .3 1.4 .2 1.4 .1 1.4 0 1.4-.2 1.4-.4 1.4-.4 1.4-.4 1.4-.4 1.4-.5 1.4-.5 1.4-.4 1.4-.3 1.4-.3 1.4-.3 1.4-.2 1.4-.2 1.4-.2 1.4-.1 1.4 0 1.4 .1 1.4 .2 1.3 .2 1.4 .2 1.4 .3 1.4 .2 1.4 .3 1.4 .2 1.4 .2 1.4 .2 1.4 .2 1.4 .1 1.4 .1 1.4 0 1.4 0 1.4 0 1.4-.1 1.4 0 1.4-.1 1.4-.1 1.4-.1 1.4-.1 1.4-.2 1.4 0 1.4-.1 1.3-.1 1.4-.1 1.4-.1 1.4-.1 1.4 0 1.4-.1 1.4-.1 1.4 0 1.4 0 1.4 0 1.4 0 1.4 0 1.4 .1 1.4 .1 1.4 .1 1.4 .1 1.4 .1 1.4 0 1.4 .1 1.4 0 1.4 .1 1.4 0 1.3 0 1.4 0 1.4-.1 1.4-.1 1.4-.1 1.4-.1 1.4-.1 1.4 0 1.4-.1 1.4 0 1.4 0 1.4 0 1.4 0 1.4 0 1.4 .1 1.4 .1 1.4 .1 1.4 .1 1.4 0 1.4 .1 1.4 .1 1.4 .1 1.4 .1 1.3 .1 1.4 .1 1.4 .1 1.4 0 1.4 .1 1.4 0 1.4 0 1.4 0 1.4 0 1.4-.1 1.4 0 1.4-.1 1.4-.1 1.4-.1 1.4-.1 1.4-.1 1.4 0 1.4-.1 1.4 0 1.4-.1 1.4 0 1.4 0 1.4 0 1.3 0 1.4 .1 1.4 0 1.4 .1 1.4 .1 1.4 .1 1.4 .1 1.4 0" fill="none" stroke="#0000ff" stroke-width="4.4" stroke-linejoin="round"/>
<path d="M472.9 557.1l2.5-.3 2.5 .4 2.5 1.1 2.5 1.9 2.5 3 2.5 3.8 2.5 4.2 2.5 4.5 2.5 5.4 2.5 5.6 2.5 5 2.5 3.5 2.5 2.6 2.5 1.8 2.5 .9 2.5-.2 2.5-1.9 2.5-3.8 2.5-6 2.5-7.4 2.5-8.3 2.5-7.4 2.5-6.5 2.4-4.4 2.5-2.8 2.5-1.6 2.5-1 2.5-.4 2.5-.2 2.5 .2 2.5 .6 2.5 1.1 2.5 1.6 2.5 1.2 2.5 1.1 2.5 .8 2.5 .4 2.5 .4 2.5 .2 2.5-.1 2.5-.3 2.5-.2 2.5 .2 2.5 .6 2.5 .7 2.5 .8 2.5 .7 2.5 .7 2.5 .6 2.5 .5 2.5 .4 2.5 .2 2.5 .1 2.5-.1 2.5-.2 2.5-.1 2.5-.2 2.5-.1 2.5-.2 2.5-.1 2.5-.1 2.5 .2 2.4 .2 2.5 .3 2.5 .4 2.5 .5 2.5 .3 2.5 .2 2.5 .2 2.5 0 2.5 0 2.5-.1 2.5-.1 2.5-.1 2.5-.1 2.5 0 2.5-.1 2.5 0 2.5 0 2.5 0 2.5 0 2.5 0 2.5 0 2.5 .1 2.5 0 2.5 0 2.5 0 2.5 .1 2.5 0 2.5 0 2.5 0 2.5 0 2.5 0 2.5 0 2.5 0 2.5 .1 2.5 .3 2.5 .5 2.5 .4 2.5 .3 2.5 .4 2.4 .3 2.5 .3 2.5 .2 2.5 .1 2.5 .1 2.5 0 2.5 0 2.5 0 2.5-.1 2.5 0 2.5-.1 2.5-.1 2.5-.1 0 58-2.5 .2-2.5 .2-2.5 .1-2.5 .2-2.5 0-2.5 .1-2.5 .1-2.5 0-2.5 0-2.5-.1-2.5 0-2.5-.1-2.4-.2-2.5-.2-2.5-.3-2.5-.2-2.5-.1-2.5-.2-2.5 0-2.5 0-2.5 .1-2.5 0-2.5 .1-2.5 .1-2.5 0-2.5 0-2.5 0-2.5 0-2.5 0-2.5 0-2.5 0-2.5 0-2.5 0-2.5 .1-2.5 0-2.5 .1-2.5 .1-2.5 .1-2.5 .1-2.5 .1-2.5-.1-2.5-.1-2.5-.1-2.5-.2-2.5-.2-2.5-.2-2.5-.3-2.5-.4-2.5-.2-2.5-.1-2.5 0-2.4 .1-2.5 .3-2.5 .4-2.5 .5-2.5 .8-2.5 .8-2.5 .4-2.5 .3-2.5 0-2.5-.1-2.5-.3-2.5-.5-2.5-.6-2.5-.9-2.5-.9-2.5-1.1-2.5-.9-2.5-.5-2.5 0-2.5 .5-2.5 .8-2.5 1-2.5 1-2.5 .9-2.5 .9-2.5 .5-2.5 .2-2.5-.2-2.5-.8-2.5-1.4-2.5-2.1-2.5-2.4-2.5-2.7-2.5-2.1-2.5-1.3-2.5-.5-2.5 .5-2.5 1.2-2.5 2.4-2.4 3.1-2.5 3.8-2.5 3.8-2.5 3.3-2.5 2.5-2.5 .9-2.5-.2-2.5-1.9-2.5-3.3-2.5-5.4-2.5-5.6-2.5-5.9-2.5-6.2-2.5-6.8-2.5-6.8-2.5-6.3-2.5-5.6-2.5-5.2-2.5-4.6-2.5-3.6-2.5-2.2-2.5-1.4-2.5-.6-2.5 .4z" fill="#ff00ff" fill-opacity="0.2"/>
<path d="M472.9 559.2l1.4-.2 1.4 0 1.4 .1 1.4 .4 1.4 .7 1.4 1 1.4 1.1 1.4 1.6 1.4 1.9 1.4 2.1 1.4 2.4 1.4 2.7 1.4 2.8 1.3 2.8 1.4 3.1 1.4 3 1.4 3.1 1.4 3.1 1.4 3.1 1.4 3 1.4 2.9 1.4 2.7 1.4 2.7 1.4 2.4 1.4 2.1 1.4 2 1.4 1.4 1.4 1 1.4 .7 1.4 .1 1.4-.6 1.4-1 1.4-1.5 1.4-2.3 1.4-2.5 1.4-2.7 1.3-2.9 1.4-2.9 1.4-2.9 1.4-2.9 1.4-2.5 1.4-2.3 1.4-2 1.4-1.6 1.4-1.4 1.4-1.2 1.4-.9 1.4-.5 1.4-.4 1.4-.1 1.4 .1 1.4 .4 1.4 .6 1.4 .7 1.4 1 1.4 1.1 1.4 1.1 1.4 .9 1.4 1 1.3 .9 1.4 .6 1.4 .5 1.4 .4 1.4 .3 1.4 .1 1.4-.1 1.4 0 1.4-.2 1.4-.2 1.4-.2 1.4-.2 1.4-.3 1.4-.2 1.4-.1 1.4-.2 1.4-.1 1.4 0 1.4 .1 1.4 .1 1.4 .2 1.4 .2 1.4 .4 1.3 .5 1.4 .4 1.4 .4 1.4 .5 1.4 .5 1.4 .4 1.4 .4 1.4 .4 1.4 .3 1.4 .3 1.4 .3 1.4 .2 1.4 .2 1.4 .1 1.4 0 1.4 0 1.4-.1 1.4-.2 1.4-.3 1.4-.3 1.4-.4 1.4-.3 1.4-.3 1.3-.4 1.4-.2 1.4-.2 1.4-.2 1.4-.2 1.4 0 1.4-.1 1.4-.1 1.4 .1 1.4 0 1.4 .2 1.4 .1 1.4 .2 1.4 .3 1.4 .2 1.4 .3 1.4 .1 1.4 .2 1.4 .2 1.4 .1 1.4 .1 1.4 .1 1.4 0 1.3 .1 1.4 0 1.4 0 1.4 0 1.4 0 1.4 0 1.4 0 1.4 0 1.4-.1 1.4 0 1.4 0 1.4-.1 1.4 0 1.4-.1 1.4-.1 1.4-.1 1.4 0 1.4 0 1.4 0 1.4 0 1.4 0 1.4 0 1.3 0 1.4 0 1.4 0 1.4 0 1.4 0 1.4 0 1.4 0 1.4 0 1.4 0 1.4-.1 1.4 0 1.4-.1 1.4-.1 1.4 0 1.4-.1 1.4 0 1.4 .1 1.4 0 1.4 0 1.4 .1 1.4 .1 1.4 .1 1.4 .1 1.3 .2 1.4 .1 1.4 .2 1.4 .1 1.4 .2 1.4 .1 1.4 .2 1.4 .1 1.4 .2 1.4 .1 1.4 .1 1.4 0 1.4 .1 1.4 .1 1.4 0 1.4 0 1.4 0 1.4 .1 1.4 0 1.4 0 1.4 0 1.4 0 1.4-.1 1.3 0 1.4 0 1.4 0 1.4 0 1.4-.1 1.4 0 1.4 0 1.4 0" fill="none" stroke="#ff00ff" stroke-width="4.4" stroke-linejoin="round"/>
</g>
<g clip-path="url(#c21)">
<path d="M473.1 548.9H509.3V706.2H473.1ZM517.7 548.9H568.3V706.2H517.7ZM576.6 548.9H628.4V706.2H576.6ZM636.9 548.9H683.8V706.2H636.9ZM693.1 548.9H737.8V706.2H693.1ZM747.1 548.9H757.5V706.2H747.1Z" fill="#f00" fill-opacity="0.105"/>
<path d="M509.3 548.9H517.7V706.2H509.3ZM568.3 548.9H576.6V706.2H568.3ZM628.4 548.9H636.9V706.2H628.4ZM683.8 548.9H693.1V706.2H683.8ZM737.8 548.9H747.1V706.2H737.8Z" fill="#0f0" fill-opacity="0.105"/>
<path d="M473.1 556.5H757.5" stroke="#f00" stroke-opacity="0.74" stroke-width="4" stroke-dasharray="15.4 14.93" fill="none"/>
</g>
<path d="M551 548.9v3.2M551 706.2v-3.2M628.9 548.9v3.2M628.9 706.2v-3.2M706.7 548.9v3.2M706.7 706.2v-3.2M757.5 624.2h-3.4M757.5 548V707" stroke="#000" stroke-width="1.7" fill="none"/>
<path d="M473.1 548V707M473.1 602h3.6M473.1 706.2h3.6" stroke="#f00" stroke-width="1.8" fill="none"/>
<text x="769.8" y="632.3" class="t">1</text>
<text x="769.8" y="714" class="t">0</text>
<text x="460.8" y="609.7" class="t r" text-anchor="end">1</text>
<text x="460.8" y="713.9" class="t r" text-anchor="end">0</text>
<text x="472.8" y="737.6" class="t" text-anchor="middle">0</text>
<text x="551" y="737.6" class="t" text-anchor="middle">100</text>
<text x="628.9" y="737.6" class="t" text-anchor="middle">200</text>
<text x="706.7" y="737.6" class="t" text-anchor="middle">300</text>
<text x="471.2" y="538.9" class="x r">×</text>
<text x="493.6" y="536.2" class="t r">10</text>
<text x="521.2" y="523.6" class="s r">−4</text>
<text x="759.6" y="538.9" class="x">×</text>
<text x="781.9" y="536.2" class="t">10</text>
<text x="809.6" y="523.6" class="s">−3</text>
<text x="615.3" y="535" class="h" text-anchor="middle">Liguria</text>
</g>
<g id="p22">
<path d="M912 548.9H1196.3M912 706.2H1196.3" stroke="#000" stroke-width="1.7" fill="none"/>
<path d="M989.8 548.9V706.2M1067.7 548.9V706.2M1145.5 548.9V706.2" stroke="#000" stroke-opacity="0.22" stroke-width="1.4" fill="none"/>
<path d="M912 602H1196.3" stroke="#f00" stroke-opacity="0.22" stroke-width="1.4" fill="none"/>
<g clip-path="url(#c22b)">
<path d="M912.4 630.9l2.5 6.1 2.5 5.9 2.5 5.7 2.5 5.5 2.5 5.2 2.5 5.3 2.5 5.1 2.5 4.8 2.5 4.2 2.5 3.6 2.5 2.9 2.5 2.4 2.4 1.8 2.5 1.2 2.5 .2 2.5-3.1 2.5-5.9 2.5-10.9 2.5-11.6 2.5-10.9 2.5-7.6 2.5-4.7 2.5-1.4 2.5 .4 2.5 2.2 2.5 3.7 2.5 4.9 2.5 5.7 2.5 5.4 2.5 5.2 2.5 5 2.5 4.4 2.5 4.1 2.5 3.4 2.5 2.6 2.5 1.8 2.5 1.1 2.5-1.2 2.5-3.6 2.5-8 2.5-8.5 2.5-9 2.5-7.1 2.5-5 2.5-2.7 2.5-1.3 2.5-.3 2.5 .7 2.5 1.5 2.5 3.2 2.5 4.2 2.4 4.3 2.5 4.7 2.5 4.1 2.5 3.1 2.5 2.6 2.5 1.6 2.5 1 2.5 .6 2.5-.1 2.5-1.1 2.5-1.9 2.5-3.6 2.5-4.2 2.5-4.4 2.5-4 2.5-3 2.5-2.1 2.5-1 2.5-.5 2.5 .1 2.5 .6 2.5 1.1 2.5 2.1 2.5 2.4 2.5 2 2.5 2 2.5 1.6 2.5 1.2 2.5 .9 2.5 .6 2.5 .3 2.5-.1 2.5-.8 2.5-1.2 2.5-1.5 2.5-1.7 2.5-1.5 2.5-1.2 2.5-1.1 2.4-.6 2.5-.5 2.5-.2 2.5 .1 2.5 .4 2.5 .6 2.5 .7 2.5 1.1 2.5 .9 2.5 .8 2.5 .6 2.5 .4 2.5 .3 2.5 .1 2.5-.1 2.5-.2 2.5-.2 2.5-.4 2.5-.5 2.5-.6 2.5-.4 2.5-.4 2.5-.4 2.5-.3 0 35.6-2.5 .3-2.5 .2-2.5 .3-2.5 .2-2.5 .3-2.5 .2-2.5 .2-2.5 .3-2.5 .1-2.5 .1-2.5-.2-2.5-.2-2.5-.3-2.5-.5-2.5-.5-2.5-.6-2.5-.7-2.5-.5-2.5-.4-2.5-.3-2.5-.1-2.5 .3-2.5 .4-2.4 .6-2.5 .8-2.5 .8-2.5 .8-2.5 .8-2.5 .6-2.5 .4-2.5 .1-2.5 0-2.5-.4-2.5-.6-2.5-1.1-2.5-1.3-2.5-1.5-2.5-1.6-2.5-1.6-2.5-1.7-2.5-1.3-2.5-.7-2.5-.4-2.5 .1-2.5 .7-2.5 1.1-2.5 1.8-2.5 2.4-2.5 2.6-2.5 2.5-2.5 2-2.5 1.5-2.5 .4-2.5-.1-2.5-.5-2.5-.9-2.5-1.2-2.5-1.7-2.5-2.7-2.5-2.9-2.5-3.3-2.5-3.5-2.4-3.6-2.5-3.7-2.5-2.7-2.5-1.3-2.5-.2-2.5 1-2.5 2.2-2.5 4-2.5 5.6-2.5 6.2-2.5 6.1-2.5 3-2.5 1.6-2.5 .1-2.5-.6-2.5-1.3-2.5-1.9-2.5-2.2-2.5-2.9-2.5-3.4-2.5-3.7-2.5-4.3-2.5-4.7-2.5-4.9-2.5-5.5-2.5-4.6-2.5-3.1-2.5-1.8-2.5 .1-2.5 2.2-2.5 6.4-2.5 8.1-2.5 9.3-2.5 9.8-2.5 8.2-2.5 1.8-2.5-.2-2.5-1.3-2.5-1.5-2.4-1.8-2.5-2.2-2.5-2.5-2.5-3.1-2.5-4.1-2.5-4.8-2.5-5.3-2.5-5.4-2.5-5.3-2.5-5.6-2.5-5.9-2.5-6.1-2.5-6.3z" fill="#ff0000" fill-opacity="0.2"/>
<path d="M912.4 632.3l1.4 2.7 1.4 2.9 1.4 3.3 1.4 3.6 1.4 3.5 1.4 3.4 1.4 3.4 1.3 3.2 1.4 3.2 1.4 3.1 1.4 2.9 1.4 2.9 1.4 2.7 1.4 2.6 1.4 2.3 1.4 2.3 1.4 2.1 1.4 1.8 1.4 1.6 1.4 1.5 1.4 1.3 1.4 1.2 1.4 1.1 1.4 .8 1.4 .6 1.4 .4 1.4-.2 1.4-1 1.4-1.3 1.4-3 1.3-4.3 1.4-5.4 1.4-6.7 1.4-6.3 1.4-6 1.4-5.4 1.4-4 1.4-3.3 1.4-2.1 1.4-1.5 1.4-.8 1.4 .1 1.4 .6 1.4 1.2 1.4 1.9 1.4 2.1 1.4 2.4 1.4 2.6 1.4 2.7 1.4 2.8 1.4 2.8 1.4 2.8 1.4 2.6 1.3 2.5 1.4 2.4 1.4 2.4 1.4 2.3 1.4 2.1 1.4 1.9 1.4 1.8 1.4 1.6 1.4 1.3 1.4 1.2 1.4 1.1 1.4 .8 1.4 .7 1.4 .4 1.4 0 1.4-.6 1.4-.8 1.4-2.1 1.4-2.7 1.4-3 1.4-3.5 1.4-3.5 1.3-3.4 1.4-3.5 1.4-3.3 1.4-2.8 1.4-2.6 1.4-2.1 1.4-1.4 1.4-1.1 1.4-.6 1.4-.1 1.4 .2 1.4 .6 1.4 1.2 1.4 1.6 1.4 1.8 1.4 2.1 1.4 2.3 1.4 2.3 1.4 2.2 1.4 2.2 1.4 2 1.4 1.9 1.4 1.8 1.3 1.7 1.4 1.5 1.4 1.3 1.4 1.3 1.4 1.1 1.4 .8 1.4 .6 1.4 .4 1.4 .3 1.4 .1 1.4-.2 1.4-.5 1.4-.7 1.4-.9 1.4-1.2 1.4-1.6 1.4-1.7 1.4-1.8 1.4-1.9 1.4-1.9 1.4-1.9 1.4-1.6 1.4-1.6 1.3-1.5 1.4-1.1 1.4-.7 1.4-.7 1.4-.4 1.4-.1 1.4 .1 1.4 .3 1.4 .5 1.4 .8 1.4 1 1.4 1.1 1.4 1.2 1.4 1.3 1.4 1.3 1.4 1.2 1.4 1.2 1.4 1.1 1.4 .9 1.4 .9 1.4 .7 1.4 .7 1.4 .5 1.3 .3 1.4 .2 1.4 .1 1.4 0 1.4-.2 1.4-.4 1.4-.5 1.4-.6 1.4-.7 1.4-.8 1.4-.9 1.4-.8 1.4-.8 1.4-.9 1.4-.7 1.4-.7 1.4-.6 1.4-.4 1.4-.4 1.4-.3 1.4-.2 1.4-.1 1.4-.1 1.3 .1 1.4 .2 1.4 .3 1.4 .3 1.4 .5 1.4 .5 1.4 .7 1.4 .5 1.4 .6 1.4 .5 1.4 .5 1.4 .4 1.4 .4 1.4 .3 1.4 .3 1.4 .2 1.4 .1 1.4 .1 1.4 0 1.4-.1 1.4-.1 1.4-.3 1.4-.2 1.3-.3 1.4-.3 1.4-.3 1.4-.2 1.4-.3 1.4-.2 1.4-.2 1.4-.2 1.4-.2 1.4-.2 1.4-.2 1.4-.1 1.4-.2 1.4-.1" fill="none" stroke="#ff0000" stroke-width="4.4" stroke-linejoin="round"/>
<path d="M912.4 677.1l2.5 3.4 2.5 3.3 2.5 3.1 2.5 2.7 2.5 2.2 2.5 1.8 2.5 1.5 2.5 1.4 2.5 1.2 2.5 1.1 2.5 .9 2.5 .7 2.4-.3 2.5-1.4 2.5-2.3 2.5-8.5 2.5-12.6 2.5-15.9 2.5-13.9 2.5-2.9 2.5 4.3 2.5 8.9 2.5 8.7 2.5 7.1 2.5 5.9 2.5 4.1 2.5 3.6 2.5 2.8 2.5 2.3 2.5 2.2 2.5 1.8 2.5 1.2 2.5 .8 2.5 .4 2.5 .1 2.5-1.1 2.5-2.8 2.5-5.4 2.5-8.1 2.5-9.5 2.5-7.7 2.5-5.3 2.5-2.9 2.5-1.1 2.5 1.2 2.5 2.6 2.5 4.3 2.5 4.5 2.5 4.5 2.5 4.4 2.5 4 2.4 3.8 2.5 3.2 2.5 2.3 2.5 1.8 2.5 1.1 2.5-.1 2.5-1.2 2.5-2.3 2.5-3.7 2.5-4 2.5-4.3 2.5-3.9 2.5-3.6 2.5-2.2 2.5-1.6 2.5-.3 2.5 .4 2.5 .6 2.5 .6 2.5 .7 2.5 1.2 2.5 1.7 2.5 1.7 2.5 1.5 2.5 1.6 2.5 1.1 2.5 .9 2.5 .7 2.5 .1 2.5-.4 2.5-.8 2.5-1.1 2.5-1.6 2.5-1.3 2.5-1.2 2.5-1.1 2.5-.6 2.5-.4 2.5-.3 2.4 .1 2.5 .2 2.5 .4 2.5 .5 2.5 .8 2.5 .8 2.5 .7 2.5 .7 2.5 .5 2.5 .5 2.5 .3 2.5 .2 2.5-.1 2.5-.3 2.5-.3 2.5-.4 2.5-.5 2.5-.4 2.5-.3 2.5-.3 2.5-.3 2.5-.2 2.5-.3 2.5-.2 0 32.6-2.5 .2-2.5 .3-2.5 .4-2.5 .4-2.5 .5-2.5 .5-2.5 .6-2.5 .5-2.5 .5-2.5 .4-2.5 .4-2.5 .3-2.5 .2-2.5 0-2.5-.4-2.5-.6-2.5-.7-2.5-.8-2.5-.9-2.5-.7-2.5-.7-2.5-.5-2.5-.2-2.4 0-2.5 .4-2.5 .7-2.5 1.1-2.5 1.2-2.5 1.4-2.5 1.2-2.5 .9-2.5 .6-2.5 .4-2.5 .2-2.5 .1-2.5-.2-2.5-.4-2.5-.5-2.5-.9-2.5-1.5-2.5-1.9-2.5-1.7-2.5-1.6-2.5-1.2-2.5-1-2.5-.5-2.5 0-2.5 .5-2.5 1.2-2.5 2-2.5 1.8-2.5 1.8-2.5 1.6-2.5 1-2.5 .8-2.5 .4-2.5 .2-2.5 0-2.5-.3-2.5-.4-2.5-.7-2.5-1.2-2.4-2.3-2.5-2.6-2.5-3-2.5-3.1-2.5-3.6-2.5-2.7-2.5-1.6-2.5-.5-2.5 .7-2.5 2-2.5 3.6-2.5 5-2.5 5-2.5 3.8-2.5 .7-2.5 .2-2.5-.1-2.5-.4-2.5-.7-2.5-.8-2.5-1.1-2.5-1.5-2.5-1.9-2.5-2.1-2.5-2.3-2.5-2.5-2.5-2.8-2.5-3.5-2.5-4.3-2.5-6.3-2.5-7.2-2.5-2.8-2.5 3.7-2.5 10.3-2.5 12.5-2.5 7.7-2.5 2.1-2.5 .7-2.5-.3-2.4-.5-2.5-.5-2.5-.8-2.5-.9-2.5-1.4-2.5-1.6-2.5-1.8-2.5-2-2.5-2.5-2.5-2.8-2.5-3.1-2.5-3.4-2.5-3.4z" fill="#0000ff" fill-opacity="0.2"/>
<path d="M912.4 678.9l1.4 2 1.4 1.9 1.4 1.9 1.4 1.7 1.4 1.7 1.4 1.6 1.4 1.4 1.3 1.3 1.4 1.2 1.4 1.1 1.4 1.1 1.4 1 1.4 .9 1.4 .8 1.4 .7 1.4 .7 1.4 .6 1.4 .4 1.4 .4 1.4 .4 1.4 .3 1.4 .2 1.4 0 1.4-.1 1.4-.4 1.4-1.1 1.4-1.5 1.4-2.8 1.4-4.1 1.4-5.3 1.3-7 1.4-7 1.4-7.4 1.4-5.6 1.4-3.5 1.4-.6 1.4 1.5 1.4 2.8 1.4 3.1 1.4 3.3 1.4 3.5 1.4 3.3 1.4 3 1.4 2.9 1.4 2.5 1.4 2.1 1.4 1.9 1.4 1.8 1.4 1.6 1.4 1.5 1.4 1.5 1.4 1.3 1.4 1.1 1.3 1 1.4 .8 1.4 .8 1.4 .5 1.4 .6 1.4 .4 1.4 .4 1.4 .3 1.4 .1 1.4 0 1.4-.2 1.4-.7 1.4-1 1.4-1.7 1.4-2.4 1.4-2.8 1.4-3.3 1.4-3.1 1.4-3 1.4-2.9 1.4-2.5 1.4-2.1 1.3-1.8 1.4-1 1.4-.7 1.4-.3 1.4 .2 1.4 .7 1.4 .9 1.4 1.6 1.4 1.9 1.4 1.8 1.4 1.9 1.4 1.9 1.4 1.9 1.4 1.7 1.4 1.8 1.4 1.6 1.4 1.5 1.4 1.4 1.4 1.3 1.4 1.1 1.4 1 1.4 .8 1.4 .7 1.3 .5 1.4 .4 1.4 .1 1.4 0 1.4-.2 1.4-.4 1.4-.8 1.4-.9 1.4-1.1 1.4-1.4 1.4-1.5 1.4-1.5 1.4-1.6 1.4-1.5 1.4-1.5 1.4-1.3 1.4-1.1 1.4-1 1.4-.8 1.4-.5 1.4-.4 1.4-.3 1.4-.1 1.3 0 1.4 .3 1.4 .3 1.4 .5 1.4 .8 1.4 .8 1.4 .8 1.4 .9 1.4 1 1.4 .9 1.4 .9 1.4 .9 1.4 .9 1.4 .7 1.4 .7 1.4 .6 1.4 .6 1.4 .4 1.4 .3 1.4 .3 1.4 .2 1.4 0 1.4-.2 1.3-.4 1.4-.4 1.4-.5 1.4-.6 1.4-.6 1.4-.7 1.4-.6 1.4-.8 1.4-.7 1.4-.6 1.4-.6 1.4-.5 1.4-.5 1.4-.3 1.4-.2 1.4-.1 1.4-.1 1.4 0 1.4 .1 1.4 .1 1.4 .2 1.4 .3 1.4 .3 1.3 .4 1.4 .5 1.4 .4 1.4 .4 1.4 .4 1.4 .4 1.4 .4 1.4 .3 1.4 .3 1.4 .3 1.4 .2 1.4 .2 1.4 .2 1.4 .1 1.4 0 1.4 0 1.4-.1 1.4-.1 1.4-.2 1.4-.3 1.4-.3 1.4-.2 1.4-.3 1.3-.3 1.4-.3 1.4-.2 1.4-.2 1.4-.2 1.4-.2 1.4-.1 1.4-.1 1.4-.1 1.4 0 1.4-.1 1.4-.1 1.4-.1 1.4-.1" fill="none" stroke="#0000ff" stroke-width="4.4" stroke-linejoin="round"/>
<path d="M912.4 582.5l2.5-1.8 2.5-1.6 2.5-.9 2.5 .1 2.5 .7 2.5 1.1 2.5 1.5 2.5 1.9 2.5 2.5 2.5 2.7 2.5 2.5 2.5 2 2.4 1.7 2.5 1.4 2.5 1.2 2.5 .4 2.5-.8 2.5-4.1 2.5-6.5 2.5-6.7 2.5-6 2.5-5.6 2.5-4.7 2.5-2.7 2.5-1.8 2.5-.8 2.5-.6 2.5 .2 2.5 .6 2.5 1.1 2.5 1.8 2.5 2 2.5 2.1 2.5 2.1 2.5 2.2 2.5 1.8 2.5 1.4 2.5 1 2.5 .4 2.5-.2 2.5-1.4 2.5-2.3 2.5-3.2 2.5-3.4 2.5-3.4 2.5-2.8 2.5-2.5 2.5-1.8 2.5-1.4 2.5-.8 2.5-.5 2.4 0 2.5 .6 2.5 .9 2.5 1.5 2.5 1.7 2.5 1.7 2.5 1.6 2.5 1.2 2.5 .8 2.5 .4 2.5 .1 2.5-.3 2.5-.6 2.5-1.3 2.5-1.5 2.5-1.7 2.5-1.6 2.5-1.4 2.5-1 2.5-.7 2.5-.4 2.5-.2 2.5 0 2.5 .3 2.5 .6 2.5 .7 2.5 .9 2.5 .9 2.5 .9 2.5 .6 2.5 .4 2.5 .2 2.5-.1 2.5-.2 2.5-.4 2.5-.6 2.5-.6 2.5-.7 2.5-.5 2.4-.4 2.5-.4 2.5-.3 2.5-.2 2.5-.2 2.5 0 2.5 0 2.5 .1 2.5 .1 2.5 .1 2.5 .2 2.5 .3 2.5 .1 2.5 .1 2.5 0 2.5 0 2.5-.1 2.5 0 2.5-.1 2.5-.2 2.5-.1 2.5-.1 2.5-.1 2.5-.2 0 51-2.5 .2-2.5 .2-2.5 .1-2.5 .2-2.5 .1-2.5 0-2.5 .1-2.5 0-2.5-.1-2.5-.1-2.5-.2-2.5-.3-2.5-.2-2.5-.3-2.5-.3-2.5-.2-2.5-.1-2.5-.1-2.5-.1-2.5 .1-2.5 .1-2.5 .2-2.5 .3-2.4 .4-2.5 .4-2.5 .3-2.5 .3-2.5 .2-2.5 0-2.5-.1-2.5-.2-2.5-.4-2.5-.6-2.5-.7-2.5-.9-2.5-.9-2.5-.8-2.5-.8-2.5-.7-2.5-.4-2.5-.1-2.5 .1-2.5 .5-2.5 .7-2.5 .9-2.5 1.2-2.5 1.3-2.5 1.5-2.5 1.1-2.5 .9-2.5 .3-2.5 0-2.5-.3-2.5-.8-2.5-1.2-2.5-1.6-2.5-1.9-2.5-2-2.5-1.8-2.5-1.6-2.5-1.2-2.5-.8-2.4-.4-2.5-.1-2.5 .3-2.5 .7-2.5 1.5-2.5 2-2.5 2.6-2.5 2.7-2.5 2.6-2.5 1.9-2.5 1.3-2.5 0-2.5-.7-2.5-1.2-2.5-1.5-2.5-1.8-2.5-2-2.5-2.1-2.5-2.3-2.5-2.3-2.5-2.3-2.5-2-2.5-1.6-2.5-.9-2.5-.6-2.5 .1-2.5 .6-2.5 1.1-2.5 1.9-2.5 3.1-2.5 4.5-2.5 4.6-2.5 4.2-2.5 3-2.5 .6-2.5-.9-2.5-1.9-2.5-2-2.5-2.2-2.4-2.3-2.5-2.4-2.5-2.7-2.5-2.7-2.5-2.5-2.5-1.9-2.5-1.6-2.5-1.3-2.5-.9-2.5-.2-2.5 .6-2.5 1.3-2.5 1.6z" fill="#ff00ff" fill-opacity="0.2"/>
<path d="M912.4 585.2l1.4-1.1 1.4-.9 1.4-.7 1.4-.6 1.4-.5 1.4-.3 1.4 0 1.3 .2 1.4 .3 1.4 .5 1.4 .9 1.4 1.1 1.4 1.1 1.4 1.2 1.4 1.3 1.4 1.4 1.4 1.3 1.4 1.5 1.4 1.4 1.4 1.4 1.4 1.3 1.4 1.1 1.4 1.2 1.4 1 1.4 1 1.4 .9 1.4 .7 1.4 .6 1.4 .2 1.4 .1 1.3-.6 1.4-1.3 1.4-1.9 1.4-2.8 1.4-3.1 1.4-2.8 1.4-2.9 1.4-2.7 1.4-2.5 1.4-2.4 1.4-2 1.4-1.6 1.4-1.5 1.4-1.1 1.4-.7 1.4-.7 1.4-.4 1.4-.2 1.4 0 1.4 .2 1.4 .3 1.4 .6 1.4 .8 1.3 .9 1.4 1 1.4 1.1 1.4 1.2 1.4 1.2 1.4 1.3 1.4 1.3 1.4 1.4 1.4 1.2 1.4 1.2 1.4 1.2 1.4 1.1 1.4 1 1.4 .9 1.4 .8 1.4 .4 1.4 .3 1.4 0 1.4-.1 1.4-.5 1.4-.7 1.4-1 1.3-1.4 1.4-1.6 1.4-1.7 1.4-1.6 1.4-1.7 1.4-1.7 1.4-1.4 1.4-1.5 1.4-1.3 1.4-1.1 1.4-.8 1.4-.7 1.4-.6 1.4-.4 1.4-.3 1.4-.1 1.4 0 1.4 .1 1.4 .2 1.4 .4 1.4 .4 1.4 .7 1.4 .9 1.3 .9 1.4 1 1.4 1.1 1.4 1.2 1.4 1 1.4 .9 1.4 .8 1.4 .8 1.4 .6 1.4 .5 1.4 .6 1.4 .4 1.4 .2 1.4 .2 1.4 .1 1.4-.1 1.4-.2 1.4-.5 1.4-.5 1.4-.7 1.4-.8 1.4-.9 1.4-.8 1.3-.9 1.4-.9 1.4-.8 1.4-.7 1.4-.6 1.4-.6 1.4-.4 1.4-.4 1.4-.3 1.4-.3 1.4-.2 1.4-.1 1.4 0 1.4 .1 1.4 .2 1.4 .4 1.4 .4 1.4 .4 1.4 .6 1.4 .6 1.4 .6 1.4 .5 1.4 .5 1.3 .4 1.4 .4 1.4 .4 1.4 .4 1.4 .3 1.4 .1 1.4 .1 1.4 .1 1.4 0 1.4-.1 1.4-.1 1.4-.1 1.4-.2 1.4-.3 1.4-.3 1.4-.4 1.4-.3 1.4-.3 1.4-.3 1.4-.3 1.4-.2 1.4-.2 1.4-.2 1.3-.2 1.4-.1 1.4-.1 1.4-.1 1.4-.1 1.4 0 1.4 0 1.4 .1 1.4 .1 1.4 .1 1.4 .1 1.4 .2 1.4 .1 1.4 .2 1.4 .3 1.4 .3 1.4 .1 1.4 .2 1.4 .2 1.4 .1 1.4 0 1.4 .1 1.4 .1 1.3 0 1.4 0 1.4-.1 1.4 0 1.4-.1 1.4-.1 1.4-.1 1.4-.1 1.4-.1 1.4-.1 1.4-.1 1.4-.1 1.4-.1 1.4-.1" fill="none" stroke="#ff00ff" stroke-width="4.4" stroke-linejoin="round"/>
</g>
<g clip-path="url(#c22)">
<path d="M912 548.9H946.7V706.2H912ZM959.5 548.9H1004.8V706.2H959.5ZM1018 548.9H1062.6V706.2H1018ZM1075.1 548.9H1119.8V706.2H1075.1ZM1134 548.9H1177.8V706.2H1134ZM1191.8 548.9H1196.3V706.2H1191.8Z" fill="#f00" fill-opacity="0.105"/>
<path d="M946.7 548.9H959.5V706.2H946.7ZM1004.8 548.9H1018V706.2H1004.8ZM1062.6 548.9H1075.1V706.2H1062.6ZM1119.8 548.9H1134V706.2H1119.8ZM1177.8 548.9H1191.8V706.2H1177.8Z" fill="#0f0" fill-opacity="0.105"/>
<path d="M912 556.5H1196.3" stroke="#f00" stroke-opacity="0.74" stroke-width="4" stroke-dasharray="15.4 14.93" fill="none"/>
</g>
<path d="M989.8 548.9v3.2M989.8 706.2v-3.2M1067.7 548.9v3.2M1067.7 706.2v-3.2M1145.5 548.9v3.2M1145.5 706.2v-3.2M1196.3 623.8h-3.4M1196.3 548V707" stroke="#000" stroke-width="1.7" fill="none"/>
<path d="M912 548V707M912 602h3.6M912 706.2h3.6" stroke="#f00" stroke-width="1.8" fill="none"/>
<text x="1208.5" y="631.9" class="t">2</text>
<text x="1208.5" y="714" class="t">0</text>
<text x="899.7" y="609.7" class="t r" text-anchor="end">1</text>
<text x="899.7" y="713.9" class="t r" text-anchor="end">0</text>
<text x="911.7" y="737.6" class="t" text-anchor="middle">0</text>
<text x="989.8" y="737.6" class="t" text-anchor="middle">100</text>
<text x="1067.7" y="737.6" class="t" text-anchor="middle">200</text>
<text x="1145.5" y="737.6" class="t" text-anchor="middle">300</text>
<text x="909.6" y="538.9" class="x r">×</text>
<text x="931.9" y="536.2" class="t r">10</text>
<text x="959.6" y="523.6" class="s r">−4</text>
<text x="1198.4" y="538.9" class="x">×</text>
<text x="1220.7" y="536.2" class="t">10</text>
<text x="1248.4" y="523.6" class="s">−3</text>
<text x="1054.2" y="535" class="h" text-anchor="middle">Lombardy</text>
</g>
<g id="p23">
<path d="M1351.3 548.9H1633.7M1351.3 706.2H1633.7" stroke="#000" stroke-width="1.7" fill="none"/>
<path d="M1428.6 548.9V706.2M1505.9 548.9V706.2M1583.3 548.9V706.2" stroke="#000" stroke-opacity="0.22" stroke-width="1.4" fill="none"/>
<path d="M1351.3 602H1633.7" stroke="#f00" stroke-opacity="0.22" stroke-width="1.4" fill="none"/>
<g clip-path="url(#c23b)">
<path d="M1351.4 673.9l2.5 4.3 2.4 4.1 2.5 3.6 2.5 2.9 2.5 1.7 2.5 1.3 2.5 1.2 2.4 1 2.5 .8 2.5 .3 2.5-.2 2.5-.4 2.4-.5 2.5-.7 2.5-.8 2.5-.9 2.5-1.1 2.5-1.5 2.4-1.7 2.5-1.8 2.5-1.7 2.5-1.8 2.5-1.8 2.5-1.7 2.4-1.5 2.5-1.1 2.5-.8 2.5-.3 2.5 .3 2.4 .8 2.5 1 2.5 1.3 2.5 1.6 2.5 1.6 2.5 1.4 2.4 1.3 2.5 1.3 2.5 1.1 2.5 .9 2.5 .6 2.4 .5 2.5 .4 2.5 0 2.5-.2 2.5-.5 2.5-.7 2.4-.8 2.5-.7 2.5-1 2.5-1.1 2.5-.9 2.4-.7 2.5-.5 2.5-.3 2.5-.2 2.5 0 2.5 .2 2.4 .4 2.5 .5 2.5 .5 2.5 .5 2.5 .6 2.4 .6 2.5 .5 2.5 .4 2.5 .2 2.5 .1 2.5 0 2.4-.1 2.5-.2 2.5-.3 2.5-.4 2.5-.3 2.5-.3 2.4-.4 2.5-.4 2.5-.3 2.5-.1 2.5 .1 2.4 .1 2.5 .2 2.5 .3 2.5 .3 2.5 .4 2.5 .3 2.4 .3 2.5 .3 2.5 .2 2.5 .2 2.5 .2 2.4 0 2.5 0 2.5 0 2.5-.1 2.5-.2 2.5-.3 2.4-.3 2.5-.3 2.5-.3 2.5-.4 2.5-.4 2.4-.3 2.5-.3 2.5-.1 2.5-.2 2.5 0 2.5 0 2.4 .1 2.5 .3 2.5 .2 2.5 .2 2.5 .2 2.5 .2 2.4 .2 0 7.1-2.4-.1-2.5-.1-2.5 0-2.5-.1-2.5 0-2.5-.1-2.4 0-2.5 0-2.5 .1-2.5 .1-2.5 .1-2.5 .2-2.4 .3-2.5 .3-2.5 .2-2.5 .2-2.5 .2-2.4 .1-2.5 .1-2.5 0-2.5 .1-2.5-.1-2.5-.1-2.4-.1-2.5-.1-2.5-.2-2.5-.3-2.5-.2-2.4-.2-2.5-.3-2.5-.3-2.5-.2-2.5-.2-2.5-.1-2.4 0-2.5 0-2.5 .1-2.5 .2-2.5 .3-2.4 .3-2.5 .2-2.5 .2-2.5 .2-2.5 .1-2.5 0-2.4 0-2.5-.1-2.5-.2-2.5-.3-2.5-.3-2.5-.4-2.4-.6-2.5-.5-2.5-.3-2.5-.4-2.5-.2-2.4-.3-2.5-.1-2.5 .1-2.5 .2-2.5 .3-2.5 .5-2.4 .5-2.5 .8-2.5 .8-2.5 .8-2.5 .7-2.4 .7-2.5 .6-2.5 .4-2.5 .2-2.5-.2-2.5-.5-2.4-.6-2.5-.6-2.5-.8-2.5-.9-2.5-1.1-2.4-1.1-2.5-1.3-2.5-1.6-2.5-1.4-2.5-.9-2.5-.2-2.4-.1-2.5 0-2.5 .1-2.5 .3-2.5 .5-2.4 1.1-2.5 1.5-2.5 1.5-2.5 1.5-2.5 1.3-2.5 1.3-2.4 1.3-2.5 1.1-2.5 .8-2.5 .7-2.5 .6-2.5 .5-2.4 .4-2.5 .3-2.5 .2-2.5-.3-2.5-.7-2.4-1.1-2.5-1.2-2.5-1.3-2.5-1.8-2.5-3.1-2.5-4.1-2.4-4.6-2.5-4.7z" fill="#ff0000" fill-opacity="0.2"/>
<path d="M1351.4 674.8l1.4 2.1 1.4 2.2 1.4 2.4 1.4 2.3 1.4 2.1 1.3 2 1.4 1.8 1.4 1.6 1.4 1.2 1.4 1.1 1.4 .9 1.4 .7 1.4 .5 1.4 .5 1.4 .2 1.4 .2 1.4 .1 1.4 .1 1.4 0 1.4-.1 1.4-.2 1.3-.2 1.4-.2 1.4-.3 1.4-.3 1.4-.4 1.4-.4 1.4-.6 1.4-.6 1.4-.6 1.4-.6 1.4-.7 1.4-.7 1.4-.8 1.4-.9 1.4-.9 1.4-1 1.3-1 1.4-1 1.4-1 1.4-.9 1.4-.9 1.4-.7 1.4-.7 1.4-.6 1.4-.5 1.4-.4 1.4-.3 1.4-.2 1.4 0 1.4 0 1.4 .2 1.4 .4 1.3 .4 1.4 .6 1.4 .6 1.4 .7 1.4 .8 1.4 .7 1.4 .8 1.4 .7 1.4 .8 1.4 .7 1.4 .6 1.4 .7 1.4 .6 1.4 .5 1.4 .6 1.4 .5 1.4 .4 1.3 .4 1.4 .3 1.4 .3 1.4 .2 1.4 .1 1.4 .1 1.4 .1 1.4-.1 1.4-.1 1.4-.3 1.4-.2 1.4-.4 1.4-.4 1.4-.6 1.4-.5 1.4-.5 1.3-.5 1.4-.5 1.4-.5 1.4-.5 1.4-.4 1.4-.4 1.4-.3 1.4-.3 1.4-.2 1.4-.2 1.4-.1 1.4-.1 1.4 0 1.4 0 1.4 .1 1.4 .2 1.3 .1 1.4 .2 1.4 .2 1.4 .2 1.4 .3 1.4 .3 1.4 .3 1.4 .3 1.4 .4 1.4 .2 1.4 .3 1.4 .2 1.4 .2 1.4 .2 1.4 .2 1.4 .1 1.4 .1 1.3 0 1.4 0 1.4 0 1.4 0 1.4-.1 1.4-.1 1.4-.1 1.4-.1 1.4-.2 1.4-.1 1.4-.2 1.4-.1 1.4-.2 1.4-.2 1.4-.2 1.4-.2 1.3-.1 1.4-.2 1.4 0 1.4-.1 1.4 0 1.4 0 1.4 .1 1.4 .1 1.4 .1 1.4 .1 1.4 .1 1.4 .1 1.4 .2 1.4 .1 1.4 .2 1.4 .2 1.3 .2 1.4 .2 1.4 .1 1.4 .2 1.4 .1 1.4 .1 1.4 .1 1.4 .1 1.4 .1 1.4 .1 1.4 0 1.4 .1 1.4 0 1.4 0 1.4-.1 1.4 0 1.3-.1 1.4 0 1.4-.1 1.4-.1 1.4-.1 1.4-.2 1.4-.1 1.4-.2 1.4-.1 1.4-.2 1.4-.2 1.4-.2 1.4-.2 1.4-.1 1.4-.1 1.4-.2 1.4-.1 1.3-.1 1.4-.1 1.4 0 1.4-.1 1.4 0 1.4 0 1.4 .1 1.4 0 1.4 0 1.4 .1 1.4 .1 1.4 .1 1.4 .1 1.4 .1 1.4 0 1.4 .1 1.3 .1 1.4 .1 1.4 0" fill="none" stroke="#ff0000" stroke-width="4.4" stroke-linejoin="round"/>
<path d="M1351.4 687.1l2.5 2.9 2.4 2.7 2.5 2.5 2.5 1.9 2.5 1.2 2.5 .3 2.5-.2 2.4-.6 2.5-.8 2.5-1.2 2.5-1.4 2.5-1.7 2.4-2.3 2.5-2.6 2.5-2.9 2.5-3.1 2.5-3.6 2.5-4 2.4-4.7 2.5-5.3 2.5-4.5 2.5-3.7 2.5-2.5 2.5-.8 2.4 1.5 2.5 2.9 2.5 3.2 2.5 3.4 2.5 3 2.4 2.8 2.5 2.8 2.5 2.9 2.5 2.8 2.5 2.4 2.5 2.2 2.4 1.5 2.5 1.3 2.5 .8 2.5 .2 2.5-.1 2.4-.6 2.5-1.5 2.5-2.3 2.5-3.6 2.5-3.9 2.5-4.3 2.4-3.8 2.5-3.5 2.5-2.2 2.5-1.3 2.5-.3 2.4 .6 2.5 1.6 2.5 2.2 2.5 2.2 2.5 2.3 2.5 1.9 2.4 1.4 2.5 1.2 2.5 .9 2.5 .7 2.5 .5 2.4 .4 2.5 .2 2.5 0 2.5-.3 2.5-.5 2.5-.7 2.4-1.1 2.5-1.5 2.5-1.9 2.5-1.8 2.5-1.5 2.5-1.3 2.4-.9 2.5-.5 2.5 0 2.5 .5 2.5 .8 2.4 1.2 2.5 1.4 2.5 1.4 2.5 1.5 2.5 1.2 2.5 1 2.4 .8 2.5 .6 2.5 .5 2.5 .3 2.5 .1 2.4-.2 2.5-.3 2.5-.8 2.5-1 2.5-1.1 2.5-1.1 2.4-1.2 2.5-1 2.5-1 2.5-.8 2.5-.5 2.4-.4 2.5-.2 2.5 0 2.5 .1 2.5 .2 2.5 .4 2.4 .5 2.5 .6 2.5 .7 2.5 .8 2.5 .8 2.5 .7 2.4 .8 0 26.9-2.4-.3-2.5-.2-2.5-.2-2.5-.2-2.5-.2-2.5-.2-2.4-.1-2.5-.1-2.5 0-2.5 0-2.5 .1-2.5 .2-2.4 .3-2.5 .3-2.5 .3-2.5 .4-2.5 .4-2.4 .2-2.5 .2-2.5 .2-2.5 .1-2.5 .1-2.5 0-2.4 0-2.5-.1-2.5-.1-2.5-.1-2.5-.2-2.4-.2-2.5-.2-2.5-.2-2.5-.2-2.5-.2-2.5-.2-2.4-.1-2.5 0-2.5 .1-2.5 .2-2.5 .2-2.4 .2-2.5 .2-2.5 .2-2.5 .1-2.5 .1-2.5 0-2.4-.1-2.5 0-2.5-.1-2.5-.2-2.5-.1-2.5-.2-2.4-.2-2.5-.3-2.5-.4-2.5-.4-2.5-.5-2.4-.6-2.5-.7-2.5-.6-2.5-.3-2.5-.2-2.5 .2-2.4 .7-2.5 1.1-2.5 1.2-2.5 1.5-2.5 1.2-2.4 .5-2.5 .4-2.5 .2-2.5 .1-2.5 .1-2.5 .1-2.4 .1-2.5 .1-2.5-.1-2.5-.1-2.5-.2-2.4-.5-2.5-1-2.5-1.3-2.5-2.1-2.5-2.8-2.5-2.9-2.4-3.3-2.5-3.3-2.5-2.2-2.5-1.1-2.5 .9-2.4 2.5-2.5 2.7-2.5 2.8-2.5 2.8-2.5 2.2-2.5 1.3-2.4 1-2.5 .8-2.5 .6-2.5 .5-2.5 .4-2.5 .4-2.4 .4-2.5 .4-2.5 .6-2.5 .7-2.5 .7-2.4 .7-2.5 .5-2.5 .2-2.5-1.1-2.5-2.1-2.5-2.8-2.4-3.1-2.5-3.2z" fill="#0000ff" fill-opacity="0.2"/>
<path d="M1351.4 688.9l1.4 2 1.4 1.9 1.4 1.7 1.4 1.7 1.4 1.4 1.3 1.2 1.4 .9 1.4 .6 1.4 .4 1.4 .1 1.4-.1 1.4-.1 1.4-.3 1.4-.4 1.4-.5 1.4-.5 1.4-.5 1.4-.5 1.4-.6 1.4-.5 1.4-.7 1.3-.6 1.4-.7 1.4-.8 1.4-.7 1.4-.9 1.4-1 1.4-1 1.4-1.1 1.4-1.2 1.4-1.2 1.4-1.3 1.4-1.4 1.4-1.5 1.4-1.6 1.4-1.5 1.4-1.7 1.3-1.6 1.4-1.6 1.4-1.6 1.4-1.6 1.4-1.3 1.4-1 1.4-.7 1.4-.4 1.4 .2 1.4 .4 1.4 .8 1.4 1.1 1.4 1.3 1.4 1.4 1.4 1.5 1.4 1.5 1.3 1.5 1.4 1.5 1.4 1.5 1.4 1.4 1.4 1.4 1.4 1.3 1.4 1.3 1.4 1.2 1.4 1 1.4 .8 1.4 .7 1.4 .6 1.4 .5 1.4 .4 1.4 .3 1.4 .2 1.4 .2 1.3 0 1.4 0 1.4-.1 1.4-.3 1.4-.5 1.4-.6 1.4-.7 1.4-1 1.4-1.1 1.4-1.1 1.4-1.1 1.4-1.2 1.4-1.2 1.4-1.1 1.4-1.2 1.4-1.1 1.3-.8 1.4-.7 1.4-.5 1.4-.4 1.4-.2 1.4-.1 1.4 0 1.4 .1 1.4 .3 1.4 .4 1.4 .4 1.4 .6 1.4 .6 1.4 .6 1.4 .6 1.4 .6 1.3 .6 1.4 .6 1.4 .5 1.4 .5 1.4 .4 1.4 .4 1.4 .4 1.4 .3 1.4 .3 1.4 .2 1.4 .2 1.4 .1 1.4 .1 1.4 0 1.4 0 1.4-.1 1.4-.1 1.3-.2 1.4-.3 1.4-.3 1.4-.4 1.4-.3 1.4-.5 1.4-.4 1.4-.5 1.4-.5 1.4-.4 1.4-.5 1.4-.4 1.4-.4 1.4-.3 1.4-.2 1.4-.2 1.3-.1 1.4-.1 1.4 .1 1.4 .1 1.4 .1 1.4 .2 1.4 .3 1.4 .4 1.4 .4 1.4 .3 1.4 .4 1.4 .4 1.4 .4 1.4 .3 1.4 .3 1.4 .4 1.3 .2 1.4 .3 1.4 .2 1.4 .2 1.4 .2 1.4 .2 1.4 .1 1.4 .1 1.4 .1 1.4 .1 1.4 0 1.4 0 1.4 0 1.4-.2 1.4-.1 1.4-.2 1.3-.3 1.4-.2 1.4-.4 1.4-.3 1.4-.4 1.4-.3 1.4-.4 1.4-.4 1.4-.3 1.4-.3 1.4-.3 1.4-.3 1.4-.3 1.4-.2 1.4-.2 1.4-.1 1.4-.1 1.3-.1 1.4 0 1.4 0 1.4 0 1.4 .1 1.4 .1 1.4 .2 1.4 .2 1.4 .2 1.4 .2 1.4 .2 1.4 .3 1.4 .2 1.4 .3 1.4 .4 1.4 .3 1.3 .3 1.4 .3 1.4 .2" fill="none" stroke="#0000ff" stroke-width="4.4" stroke-linejoin="round"/>
<path d="M1351.4 548.6l2.5 .8 2.4 1.2 2.5 1.5 2.5 1.8 2.5 2 2.5 2.3 2.5 2.8 2.4 3.3 2.5 3.5 2.5 3.6 2.5 3.3 2.5 2.8 2.4 2.7 2.5 2.5 2.5 2.2 2.5 1.8 2.5 1.5 2.5 1.2 2.4 .7 2.5 .3 2.5 .1 2.5-.2 2.5-.6 2.5-.7 2.4-1 2.5-1.1 2.5-1.1 2.5-1.1 2.5-1.1 2.4-.9 2.5-.6 2.5-.4 2.5 .1 2.5 .4 2.5 .7 2.4 1 2.5 1.2 2.5 1.4 2.5 1.5 2.5 1.4 2.4 1.4 2.5 1.3 2.5 1.2 2.5 1.1 2.5 .9 2.5 .6 2.4 .5 2.5 .2 2.5 0 2.5-.2 2.5-.4 2.4-.6 2.5-.6 2.5-.7 2.5-.6 2.5-.7 2.5-.5 2.4-.4 2.5-.2 2.5 .1 2.5 .2 2.5 .5 2.4 .6 2.5 .7 2.5 .7 2.5 .9 2.5 .8 2.5 .6 2.4 .6 2.5 .4 2.5 .3 2.5 .2 2.5 .1 2.5-.2 2.4-.2 2.5-.3 2.5-.4 2.5-.5 2.5-.4 2.4-.4 2.5-.2 2.5-.2 2.5 0 2.5 .1 2.5 .2 2.4 .3 2.5 .4 2.5 .5 2.5 .5 2.5 .5 2.4 .6 2.5 .6 2.5 .4 2.5 .4 2.5 .3 2.5 .1 2.4 .1 2.5 .1 2.5-.1 2.5-.2 2.5-.3 2.4-.2 2.5-.4 2.5-.3 2.5-.3 2.5-.3 2.5-.3 2.4-.2 2.5-.2 2.5-.1 2.5-.2 2.5-.1 2.5-.1 2.4 .1 0 33.4-2.4 .2-2.5 .2-2.5 .3-2.5 .1-2.5 .2-2.5 .2-2.4 .1-2.5 .1-2.5 0-2.5 0-2.5 0-2.5-.1-2.4 0-2.5-.1-2.5-.2-2.5-.2-2.5-.3-2.4-.2-2.5-.3-2.5-.2-2.5-.3-2.5-.2-2.5-.3-2.4-.2-2.5-.2-2.5-.2-2.5-.1-2.5-.1-2.4-.1-2.5 0-2.5-.1-2.5 0-2.5-.1-2.5-.1-2.4 0-2.5-.1-2.5-.1-2.5-.1-2.5-.2-2.4-.1-2.5-.2-2.5-.2-2.5-.3-2.5-.2-2.5-.2-2.4-.2-2.5-.1-2.5-.1-2.5-.1-2.5 0-2.5 0-2.4 .1-2.5 0-2.5 .1-2.5 .1-2.5 0-2.4 0-2.5-.1-2.5-.2-2.5-.4-2.5-.5-2.5-.5-2.4-.5-2.5-.7-2.5-.7-2.5-1-2.5-1.1-2.4-1.1-2.5-1.3-2.5-1.2-2.5-1.3-2.5-1.3-2.5-1.2-2.4-1.2-2.5-1.1-2.5-.8-2.5-.6-2.5-.4-2.4-.2-2.5 .1-2.5 .1-2.5 .4-2.5 .5-2.5 .5-2.4 .4-2.5 .3-2.5 .2-2.5-.1-2.5-.5-2.4-.6-2.5-.8-2.5-1.2-2.5-1.3-2.5-1.7-2.5-2-2.4-2.2-2.5-2.6-2.5-2.7-2.5-2.9-2.5-3.1-2.5-3.2-2.4-3.2-2.5-3.5-2.5-3.8-2.5-4-2.5-3.9-2.4-3.6-2.5-3.1-2.5-2.6-2.5-2.4-2.5-2.1-2.5-1.8-2.4-1.3-2.5-1z" fill="#ff00ff" fill-opacity="0.2"/>
<path d="M1351.4 549.7l1.4 0 1.4 .3 1.4 .4 1.4 .7 1.4 .9 1.3 1.1 1.4 1.3 1.4 1.4 1.4 1.6 1.4 1.7 1.4 1.8 1.4 1.9 1.4 1.9 1.4 1.9 1.4 1.8 1.4 1.9 1.4 1.8 1.4 1.9 1.4 1.9 1.4 1.9 1.4 1.8 1.3 1.7 1.4 1.7 1.4 1.6 1.4 1.5 1.4 1.5 1.4 1.4 1.4 1.4 1.4 1.2 1.4 1.2 1.4 1.1 1.4 1 1.4 .9 1.4 .9 1.4 .8 1.4 .7 1.4 .6 1.3 .5 1.4 .5 1.4 .3 1.4 .2 1.4 .2 1.4 0 1.4 0 1.4-.3 1.4-.3 1.4-.4 1.4-.4 1.4-.5 1.4-.5 1.4-.4 1.4-.5 1.4-.4 1.3-.3 1.4-.4 1.4-.2 1.4-.2 1.4-.2 1.4-.1 1.4 0 1.4 0 1.4 .2 1.4 .2 1.4 .3 1.4 .5 1.4 .6 1.4 .5 1.4 .7 1.4 .7 1.4 .8 1.3 .7 1.4 .8 1.4 .8 1.4 .8 1.4 .7 1.4 .7 1.4 .7 1.4 .7 1.4 .6 1.4 .7 1.4 .5 1.4 .6 1.4 .5 1.4 .5 1.4 .4 1.4 .3 1.3 .3 1.4 .3 1.4 .1 1.4 .1 1.4 .1 1.4 0 1.4 0 1.4 0 1.4-.1 1.4-.1 1.4-.1 1.4-.2 1.4-.1 1.4-.2 1.4-.1 1.4-.1 1.3-.1 1.4-.1 1.4 0 1.4 0 1.4 0 1.4 0 1.4 .1 1.4 0 1.4 .1 1.4 .2 1.4 .1 1.4 .2 1.4 .2 1.4 .2 1.4 .2 1.4 .3 1.4 .2 1.3 .2 1.4 .2 1.4 .2 1.4 .2 1.4 .2 1.4 .1 1.4 .1 1.4 .2 1.4 .1 1.4 .1 1.4 .1 1.4 0 1.4 0 1.4 0 1.4 0 1.4 0 1.3 0 1.4-.1 1.4 0 1.4-.1 1.4-.1 1.4-.1 1.4-.1 1.4-.1 1.4 0 1.4-.1 1.4 0 1.4 0 1.4 .1 1.4 0 1.4 .1 1.4 .1 1.3 .1 1.4 .1 1.4 .1 1.4 .1 1.4 .2 1.4 .1 1.4 .2 1.4 .2 1.4 .2 1.4 .2 1.4 .1 1.4 .1 1.4 .2 1.4 .1 1.4 .2 1.4 .1 1.3 .1 1.4 .2 1.4 .1 1.4 .1 1.4 .1 1.4 0 1.4 .1 1.4 0 1.4 .1 1.4 0 1.4 0 1.4 0 1.4 0 1.4-.1 1.4 0 1.4-.1 1.4 0 1.3-.1 1.4-.1 1.4-.1 1.4-.1 1.4-.1 1.4-.1 1.4-.1 1.4-.1 1.4-.1 1.4-.1 1.4-.1 1.4-.1 1.4-.1 1.4 0 1.4-.1 1.4-.1 1.3 0 1.4-.1 1.4 0" fill="none" stroke="#ff00ff" stroke-width="4.4" stroke-linejoin="round"/>
</g>
<g clip-path="url(#c23)">
<path d="M1351.3 548.9H1364.7V706.2H1351.3ZM1422.6 548.9H1443.8V706.2H1422.6ZM1496 548.9H1517.6V706.2H1496ZM1573 548.9H1594.1V706.2H1573Z" fill="#f00" fill-opacity="0.105"/>
<path d="M1364.7 548.9H1422.6V706.2H1364.7ZM1443.8 548.9H1496V706.2H1443.8ZM1517.6 548.9H1573V706.2H1517.6ZM1594.1 548.9H1633.7V706.2H1594.1Z" fill="#0f0" fill-opacity="0.105"/>
<path d="M1351.3 556.5H1633.7" stroke="#f00" stroke-opacity="0.74" stroke-width="4" stroke-dasharray="15.4 14.93" fill="none"/>
</g>
<path d="M1428.6 548.9v3.2M1428.6 706.2v-3.2M1505.9 548.9v3.2M1505.9 706.2v-3.2M1583.3 548.9v3.2M1583.3 706.2v-3.2M1633.7 618.9h-3.4M1633.7 548V707" stroke="#000" stroke-width="1.7" fill="none"/>
<path d="M1351.3 548V707M1351.3 602h3.6M1351.3 706.2h3.6" stroke="#f00" stroke-width="1.8" fill="none"/>
<text x="1645.9" y="627" class="t">1</text>
<text x="1645.9" y="714" class="t">0</text>
<text x="1339" y="609.7" class="t r" text-anchor="end">1</text>
<text x="1339" y="713.9" class="t r" text-anchor="end">0</text>
<text x="1351" y="737.6" class="t" text-anchor="middle">0</text>
<text x="1428.6" y="737.6" class="t" text-anchor="middle">100</text>
<text x="1505.9" y="737.6" class="t" text-anchor="middle">200</text>
<text x="1583.3" y="737.6" class="t" text-anchor="middle">300</text>
<text x="1348.9" y="538.9" class="x r">×</text>
<text x="1371.2" y="536.2" class="t r">10</text>
<text x="1398.9" y="523.6" class="s r">−4</text>
<text x="1638.6" y="538.9" class="x">×</text>
<text x="1660.9" y="536.2" class="t">10</text>
<text x="1688.6" y="523.6" class="s">−3</text>
<text x="1492.5" y="535" class="h" text-anchor="middle">Marche</text>
</g>
<g id="p30">
<path d="M33.3 797.4H317.7M33.3 956.6H317.7" stroke="#000" stroke-width="1.7" fill="none"/>
<path d="M111.2 797.4V956.6M189 797.4V956.6M266.9 797.4V956.6" stroke="#000" stroke-opacity="0.22" stroke-width="1.4" fill="none"/>
<path d="M33.3 851.1H317.7" stroke="#f00" stroke-opacity="0.22" stroke-width="1.4" fill="none"/>
<g clip-path="url(#c30b)">
<path d="M33.4 948.5l2.5 .8 2.5 .8 2.5 .7 2.5 .7 2.5 .5 2.5 .4 2.5 .2 2.5 .1 2.5 .1 2.5 .1 2.5 0 2.5 0 2.4 0 2.5-.1 2.5-.1 2.5-.1 2.5-.2 2.5-.3 2.5-.2 2.5-.4 2.5-.3 2.5-.5 2.5-.6 2.5-.6 2.5-.7 2.5-.7 2.5-.7 2.5-.6 2.5-.7 2.5-.5 2.5-.7 2.5-.7 2.5-.6 2.5-.5 2.5-.5 2.5-.2 2.5 0 2.5 .1 2.5 .1 2.5 .2 2.5 .2 2.5 .2 2.5 .2 2.5 .3 2.5 .2 2.5 .2 2.5 .2 2.5 .3 2.5 .2 2.5 .2 2.5 .2 2.4 .2 2.5 .1 2.5 .1 2.5 .1 2.5 .1 2.5 .1 2.5 .1 2.5 0 2.5 .1 2.5 0 2.5 0 2.5 0 2.5 0 2.5-.1 2.5 0 2.5-.1 2.5-.1 2.5-.1 2.5-.2 2.5-.2 2.5-.2 2.5-.3 2.5-.3 2.5-.2 2.5-.3 2.5-.2 2.5-.2 2.5-.2 2.5-.1 2.5 0 2.5 0 2.5 0 2.5 .1 2.5 0 2.5 .1 2.5 .1 2.5 .2 2.5 .1 2.5 .1 2.4 .1 2.5 .1 2.5 .1 2.5 .1 2.5 .1 2.5 0 2.5 .1 2.5 0 2.5 .1 2.5 0 2.5 .1 2.5 0 2.5 0 2.5 .1 2.5 0 2.5 .1 2.5 0 2.5 .1 2.5 0 2.5 0 2.5 0 2.5 .1 2.5 0 2.5 0 0 11.2-2.5 0-2.5 0-2.5 0-2.5 0-2.5 0-2.5 0-2.5 0-2.5 0-2.5 0-2.5 0-2.5 0-2.5 0-2.5 0-2.5 0-2.5 0-2.5 0-2.5 0-2.5 0-2.5 0-2.5 0-2.5 0-2.5 0-2.5 0-2.4 0-2.5 0-2.5 0-2.5 0-2.5 0-2.5 0-2.5 0-2.5 0-2.5 0-2.5 0-2.5 0-2.5 0-2.5 0-2.5 0-2.5 0-2.5 0-2.5 0-2.5 0-2.5 0-2.5 0-2.5 0-2.5 0-2.5 0-2.5 0-2.5 0-2.5 0-2.5 0-2.5 0-2.5 0-2.5 0-2.5 0-2.5 0-2.5 0-2.5 0-2.5 0-2.5 0-2.5 0-2.5 0-2.5 0-2.4 0-2.5 0-2.5 0-2.5 0-2.5 0-2.5 0-2.5 0-2.5 0-2.5 0-2.5 0-2.5 0-2.5 0-2.5 0-2.5 0-2.5 0-2.5 0-2.5 0-2.5 0-2.5-.1-2.5 0-2.5-.1-2.5-.1-2.5 0-2.5-.1-2.5-.1-2.5 0-2.5-.1-2.5 0-2.5-.1-2.5-.1-2.5 0-2.5-.1-2.5 0-2.5-.1-2.5 0-2.5 0-2.5-.1-2.5 0-2.5 0-2.4 0-2.5-.1-2.5 0-2.5 0-2.5-.1-2.5-.1-2.5-.1-2.5-.5-2.5-.6-2.5-.8-2.5-.9-2.5-.9-2.5-.9z" fill="#ff0000" fill-opacity="0.2"/>
<path d="M33.4 949.4l1.4 .6 1.4 .5 1.4 .4 1.4 .5 1.4 .4 1.4 .4 1.4 .3 1.3 .3 1.4 .2 1.4 .2 1.4 .2 1.4 .2 1.4 .1 1.4 .1 1.4 .1 1.4 .1 1.4 .1 1.4 0 1.4 .1 1.4 0 1.4-.1 1.4 0 1.4 0 1.4 0 1.4-.1 1.4 0 1.4-.1 1.4 0 1.4 0 1.4-.1 1.3 0 1.4-.1 1.4-.1 1.4 0 1.4-.1 1.4-.1 1.4-.1 1.4-.1 1.4-.1 1.4-.1 1.4-.2 1.4-.2 1.4-.2 1.4-.2 1.4-.1 1.4-.2 1.4-.2 1.4-.2 1.4-.2 1.4-.2 1.4-.2 1.4-.1 1.4-.2 1.3-.2 1.4-.2 1.4-.2 1.4-.1 1.4-.2 1.4-.1 1.4-.2 1.4-.1 1.4-.1 1.4-.1 1.4-.1 1.4 0 1.4-.1 1.4 0 1.4 0 1.4 0 1.4 0 1.4 .1 1.4 0 1.4 .1 1.4 .1 1.4 0 1.3 .1 1.4 .1 1.4 0 1.4 .1 1.4 .1 1.4 0 1.4 .1 1.4 .1 1.4 0 1.4 .1 1.4 .1 1.4 0 1.4 .1 1.4 0 1.4 .1 1.4 .1 1.4 0 1.4 .1 1.4 0 1.4 .1 1.4 0 1.4 0 1.4 .1 1.3 0 1.4 0 1.4 .1 1.4 0 1.4 0 1.4 .1 1.4 0 1.4 0 1.4 0 1.4 0 1.4 0 1.4 0 1.4 0 1.4 0 1.4 0 1.4 0 1.4 0 1.4 0 1.4-.1 1.4 0 1.4 0 1.4 0 1.4-.1 1.3 0 1.4-.1 1.4 0 1.4-.1 1.4 0 1.4-.1 1.4 0 1.4-.1 1.4-.1 1.4 0 1.4-.1 1.4 0 1.4-.1 1.4 0 1.4-.1 1.4-.1 1.4 0 1.4-.1 1.4 0 1.4-.1 1.4 0 1.4 0 1.4-.1 1.3 0 1.4 0 1.4 0 1.4 0 1.4 0 1.4 0 1.4 0 1.4 .1 1.4 0 1.4 0 1.4 0 1.4 0 1.4 .1 1.4 0 1.4 0 1.4 0 1.4 .1 1.4 0 1.4 0 1.4 0 1.4 .1 1.4 0 1.4 0 1.3 .1 1.4 0 1.4 0 1.4 0 1.4 .1 1.4 0 1.4 0 1.4 .1 1.4 0 1.4 0 1.4 .1 1.4 0 1.4 0 1.4 0 1.4 .1 1.4 0 1.4 0 1.4 0 1.4 0 1.4 0 1.4 .1 1.4 0 1.4 0 1.3 0 1.4 0 1.4 0 1.4 0 1.4 0 1.4 0 1.4 .1 1.4 0 1.4 0 1.4 0 1.4 0 1.4 0 1.4 0 1.4 0" fill="none" stroke="#ff0000" stroke-width="4.4" stroke-linejoin="round"/>
<path d="M33.4 953.8l2.5-.1 2.5-.1 2.5-.1 2.5-.2 2.5-.1 2.5-.2 2.5-.2 2.5-.2 2.5-.1 2.5-.3 2.5-.2 2.5-.2 2.4-.3 2.5-.3 2.5-.3 2.5-.3 2.5-.4 2.5-.5 2.5-.6 2.5-.7 2.5-.8 2.5-.7 2.5-.8 2.5-.9 2.5-.9 2.5-1 2.5-1 2.5-1.1 2.5-1.1 2.5-.9 2.5-.8 2.5-.8 2.5-.5 2.5-.5 2.5-.3 2.5 0 2.5 .2 2.5 .4 2.5 .4 2.5 .5 2.5 .6 2.5 .6 2.5 .5 2.5 .5 2.5 .4 2.5 .5 2.5 .4 2.5 .3 2.5 .3 2.5 .3 2.5 .3 2.4 .2 2.5 .2 2.5 .2 2.5 .2 2.5 .1 2.5 .1 2.5 .1 2.5 .1 2.5 .1 2.5 0 2.5 0 2.5-.1 2.5 0 2.5-.1 2.5-.2 2.5-.2 2.5-.3 2.5-.2 2.5-.3 2.5-.2 2.5-.4 2.5-.3 2.5-.4 2.5-.4 2.5-.5 2.5-.4 2.5-.3 2.5-.2 2.5-.3 2.5-.1 2.5 0 2.5 0 2.5 .1 2.5 .2 2.5 .3 2.5 .3 2.5 .3 2.5 .3 2.5 .3 2.4 .4 2.5 .2 2.5 .2 2.5 .2 2.5 .1 2.5 .1 2.5 .1 2.5 .2 2.5 .1 2.5 .1 2.5 .2 2.5 .1 2.5 .1 2.5 0 2.5 .1 2.5 .1 2.5 0 2.5 .1 2.5 0 2.5 .1 2.5 0 2.5 0 2.5 0 2.5 .1 0 10.5-2.5 0-2.5 0-2.5 0-2.5 .1-2.5 0-2.5 0-2.5 0-2.5 0-2.5 0-2.5 0-2.5 0-2.5 0-2.5 0-2.5-.1-2.5 0-2.5 0-2.5 0-2.5 0-2.5 0-2.5 0-2.5-.1-2.5 0-2.5 0-2.4-.1-2.5 0-2.5-.1-2.5 0-2.5-.1-2.5 0-2.5-.1-2.5 0-2.5 0-2.5 0-2.5 0-2.5 0-2.5 .1-2.5 .1-2.5 .1-2.5 .1-2.5 .1-2.5 .1-2.5 .1-2.5 .1-2.5 .1-2.5 0-2.5 .1-2.5 .1-2.5 0-2.5 0-2.5 0-2.5 0-2.5 0-2.5 0-2.5 0-2.5 0-2.5 0-2.5-.1-2.5 0-2.5 0-2.5-.1-2.5 0-2.5-.1-2.4 0-2.5-.1-2.5 0-2.5-.1-2.5 0-2.5-.1-2.5-.1-2.5-.2-2.5-.2-2.5-.2-2.5-.3-2.5-.2-2.5-.2-2.5-.2-2.5-.1-2.5 0-2.5 0-2.5 .1-2.5 .1-2.5 .2-2.5 .2-2.5 .2-2.5 .2-2.5 .3-2.5 .2-2.5 .1-2.5 .1-2.5 .1-2.5 .1-2.5 .1-2.5 .1-2.5 .1-2.5 .1-2.5 .1-2.5 .1-2.5 .1-2.5 0-2.5 .1-2.5 .1-2.4 .1-2.5 .1-2.5 0-2.5 .1-2.5 .1-2.5 0-2.5 .1-2.5 0-2.5 .1-2.5 0-2.5 0-2.5 0-2.5 .1z" fill="#0000ff" fill-opacity="0.2"/>
<path d="M33.4 954.7l1.4 0 1.4-.1 1.4 0 1.4-.1 1.4 0 1.4-.1 1.4 0 1.3-.1 1.4-.1 1.4 0 1.4-.1 1.4-.1 1.4-.1 1.4 0 1.4-.1 1.4-.1 1.4 0 1.4-.1 1.4-.1 1.4 0 1.4-.1 1.4-.1 1.4-.1 1.4 0 1.4-.1 1.4-.1 1.4-.1 1.4-.1 1.4-.1 1.4-.1 1.3-.1 1.4-.1 1.4-.1 1.4-.2 1.4-.1 1.4-.1 1.4-.1 1.4-.2 1.4-.1 1.4-.2 1.4-.1 1.4-.2 1.4-.2 1.4-.1 1.4-.2 1.4-.2 1.4-.2 1.4-.2 1.4-.2 1.4-.1 1.4-.2 1.4-.2 1.4-.2 1.3-.2 1.4-.2 1.4-.2 1.4-.1 1.4-.2 1.4-.1 1.4-.1 1.4-.1 1.4-.1 1.4 0 1.4 0 1.4 0 1.4 .1 1.4 0 1.4 .1 1.4 .2 1.4 .1 1.4 .1 1.4 .1 1.4 .1 1.4 .1 1.4 .1 1.3 .2 1.4 .1 1.4 .1 1.4 .1 1.4 .1 1.4 .1 1.4 .1 1.4 .1 1.4 .1 1.4 0 1.4 .1 1.4 .1 1.4 .1 1.4 0 1.4 .1 1.4 .1 1.4 0 1.4 .1 1.4 .1 1.4 0 1.4 .1 1.4 0 1.4 .1 1.3 0 1.4 0 1.4 .1 1.4 0 1.4 0 1.4 .1 1.4 0 1.4 0 1.4 0 1.4 0 1.4 0 1.4 0 1.4 0 1.4 0 1.4-.1 1.4 0 1.4 0 1.4-.1 1.4 0 1.4 0 1.4-.1 1.4 0 1.4-.1 1.3 0 1.4-.1 1.4-.1 1.4 0 1.4-.1 1.4-.1 1.4 0 1.4-.1 1.4-.1 1.4-.1 1.4 0 1.4-.1 1.4-.1 1.4-.1 1.4-.1 1.4-.1 1.4-.1 1.4-.1 1.4-.1 1.4 0 1.4-.1 1.4 0 1.4-.1 1.3 0 1.4 0 1.4 0 1.4 0 1.4 .1 1.4 0 1.4 0 1.4 .1 1.4 0 1.4 .1 1.4 0 1.4 .1 1.4 .1 1.4 0 1.4 .1 1.4 0 1.4 .1 1.4 0 1.4 .1 1.4 0 1.4 .1 1.4 0 1.4 0 1.3 0 1.4 .1 1.4 0 1.4 0 1.4 0 1.4 .1 1.4 0 1.4 0 1.4 0 1.4 0 1.4 0 1.4 .1 1.4 0 1.4 0 1.4 0 1.4 0 1.4 0 1.4 .1 1.4 0 1.4 0 1.4 0 1.4 0 1.4 .1 1.3 0 1.4 0 1.4 0 1.4 0 1.4 0 1.4 0 1.4 0 1.4 0 1.4 0 1.4 0 1.4 0 1.4 0 1.4 0 1.4 0" fill="none" stroke="#0000ff" stroke-width="4.4" stroke-linejoin="round"/>
<path d="M33.4 937.5l2.5 0 2.5-.1 2.5-.1 2.5-.2 2.5-.2 2.5-.3 2.5-.4 2.5-.5 2.5-.6 2.5-.7 2.5-.7 2.5-.8 2.4-1 2.5-1.1 2.5-1.2 2.5-1.3 2.5-1.5 2.5-1.7 2.5-1.9 2.5-1.9 2.5-2.2 2.5-2.5 2.5-2.7 2.5-2.9 2.5-3.5 2.5-3.9 2.5-4.2 2.5-4.4 2.5-4.7 2.5-5.1 2.5-5.3 2.5-5.6 2.5-5.8 2.5-5.4 2.5-5.2 2.5-4.9 2.5-4.3 2.5-4 2.5-3.4 2.5-2.9 2.5-2.7 2.5-2.1 2.5-1.8 2.5-1.6 2.5-1.3 2.5-1.1 2.5-.9 2.5-.7 2.5-.5 2.5-.5 2.5-.4 2.4-.3 2.5-.3 2.5-.2 2.5-.2 2.5-.2 2.5-.1 2.5-.2 2.5-.1 2.5-.1 2.5-.1 2.5-.1 2.5-.2 2.5-.1 2.5-.1 2.5-.3 2.5-.3 2.5-.3 2.5-.3 2.5-.4 2.5-.5 2.5-.6 2.5-.8 2.5-.8 2.5-1 2.5-1.2 2.5-1.3 2.5-1.4 2.5-1.5 2.5-1.5 2.5-1.6 2.5-1.5 2.5-1.5 2.5-1.4 2.5-1.2 2.5-1.2 2.5-.9 2.5-.7 2.5-.7 2.5-.5 2.4-.4 2.5-.3 2.5-.1 2.5-.1 2.5 0 2.5 .1 2.5 .1 2.5 .1 2.5 .1 2.5 .2 2.5 .1 2.5 .2 2.5 .1 2.5 .2 2.5 .2 2.5 .1 2.5 .2 2.5 .2 2.5 .2 2.5 .1 2.5 .2 2.5 .1 2.5 .1 2.5 .1 0 156.4-2.5 .1-2.5 0-2.5 0-2.5 0-2.5 .1-2.5 0-2.5 0-2.5 0-2.5 0-2.5 0-2.5 .1-2.5 0-2.5 0-2.5 0-2.5 0-2.5 0-2.5 0-2.5 0-2.5 0-2.5 0-2.5 0-2.5 0-2.5 0-2.4 0-2.5 0-2.5 0-2.5 0-2.5 0-2.5 0-2.5 0-2.5 0-2.5 0-2.5 0-2.5 0-2.5 0-2.5 0-2.5 0-2.5 0-2.5 0-2.5 0-2.5 0-2.5-.1-2.5 0-2.5 0-2.5 0-2.5 0-2.5 0-2.5 0-2.5 0-2.5 0-2.5-.1-2.5 0-2.5 0-2.5 0-2.5 0-2.5 0-2.5 0-2.5 0-2.5-.1-2.5 0-2.5 0-2.5 0-2.4 0-2.5-.1-2.5-.1-2.5 0-2.5-.1-2.5-.1-2.5-.1-2.5-.1-2.5-.1-2.5-.2-2.5-.2-2.5-.4-2.5-.5-2.5-.5-2.5-.6-2.5-.7-2.5-.8-2.5-.8-2.5-.9-2.5-.9-2.5-.8-2.5-.9-2.5-.8-2.5-.8-2.5-.9-2.5-.8-2.5-.9-2.5-.8-2.5-.7-2.5-.7-2.5-.6-2.5-.5-2.5-.6-2.5-.4-2.5-.5-2.5-.4-2.5-.2-2.5-.2-2.5-.1-2.4 0-2.5 0-2.5 .2-2.5 .3-2.5 .3-2.5 .3-2.5 .2-2.5 .2-2.5 .1-2.5 .1-2.5 0-2.5 .1-2.5 0z" fill="#ff00ff" fill-opacity="0.2"/>
<path d="M33.4 938.9l1.4 0 1.4-.1 1.4 0 1.4 0 1.4-.1 1.4-.1 1.4-.1 1.3 0 1.4-.2 1.4-.1 1.4-.2 1.4-.2 1.4-.2 1.4-.2 1.4-.3 1.4-.2 1.4-.3 1.4-.3 1.4-.3 1.4-.3 1.4-.3 1.4-.4 1.4-.3 1.4-.3 1.4-.4 1.4-.3 1.4-.4 1.4-.4 1.4-.4 1.4-.4 1.3-.5 1.4-.4 1.4-.5 1.4-.5 1.4-.5 1.4-.6 1.4-.6 1.4-.6 1.4-.6 1.4-.6 1.4-.6 1.4-.7 1.4-.6 1.4-.7 1.4-.6 1.4-.7 1.4-.7 1.4-.7 1.4-.7 1.4-.7 1.4-.7 1.4-.7 1.4-.7 1.3-.7 1.4-.8 1.4-.9 1.4-1 1.4-1.1 1.4-1.2 1.4-1.2 1.4-1.2 1.4-1.3 1.4-1.2 1.4-1.3 1.4-1.1 1.4-1.2 1.4-1.1 1.4-1 1.4-1.1 1.4-.9 1.4-.9 1.4-.9 1.4-.8 1.4-.8 1.4-.7 1.3-.7 1.4-.6 1.4-.7 1.4-.5 1.4-.6 1.4-.4 1.4-.4 1.4-.3 1.4-.4 1.4-.3 1.4-.2 1.4-.2 1.4-.3 1.4-.2 1.4-.1 1.4-.2 1.4-.2 1.4-.1 1.4-.1 1.4-.2 1.4-.1 1.4-.1 1.4-.1 1.3-.1 1.4-.1 1.4-.1 1.4-.1 1.4-.1 1.4-.2 1.4 0 1.4-.1 1.4 0 1.4-.1 1.4 0 1.4 0 1.4-.1 1.4 0 1.4 0 1.4-.1 1.4 0 1.4 0 1.4-.1 1.4-.1 1.4 0 1.4-.1 1.4-.1 1.3-.1 1.4-.2 1.4-.1 1.4-.2 1.4-.1 1.4-.2 1.4-.3 1.4-.2 1.4-.3 1.4-.3 1.4-.3 1.4-.3 1.4-.4 1.4-.4 1.4-.4 1.4-.4 1.4-.4 1.4-.4 1.4-.4 1.4-.5 1.4-.4 1.4-.4 1.4-.4 1.3-.4 1.4-.5 1.4-.4 1.4-.4 1.4-.5 1.4-.4 1.4-.3 1.4-.4 1.4-.3 1.4-.3 1.4-.2 1.4-.2 1.4-.2 1.4-.2 1.4-.1 1.4-.1 1.4-.1 1.4-.1 1.4 0 1.4-.1 1.4 0 1.4 0 1.4 0 1.3 .1 1.4 0 1.4 .1 1.4 0 1.4 .1 1.4 0 1.4 .1 1.4 .1 1.4 0 1.4 .1 1.4 .1 1.4 .1 1.4 .2 1.4 .1 1.4 .1 1.4 .1 1.4 .1 1.4 .1 1.4 .1 1.4 .1 1.4 .1 1.4 .1 1.4 .1 1.3 .1 1.4 .1 1.4 .1 1.4 0 1.4 .1 1.4 .1 1.4 0 1.4 .1 1.4 .1 1.4 0 1.4 .1 1.4 .1 1.4 0 1.4 .1" fill="none" stroke="#ff00ff" stroke-width="4.4" stroke-linejoin="round"/>
</g>
<g clip-path="url(#c30)">
<path d="M33.3 797.4H317.7V956.6H33.3Z" fill="#0f0" fill-opacity="0.105"/>
<path d="M33.3 805.2H317.7" stroke="#f00" stroke-opacity="0.74" stroke-width="4" stroke-dasharray="15.4 14.93" fill="none"/>
</g>
<path d="M111.2 797.4v3.2M111.2 956.6v-3.2M189 797.4v3.2M189 956.6v-3.2M266.9 797.4v3.2M266.9 956.6v-3.2M317.7 801.4h-3.4M317.7 796.5V957.5" stroke="#000" stroke-width="1.7" fill="none"/>
<path d="M33.3 796.5V957.5M33.3 851.1h3.6M33.3 956.6h3.6" stroke="#f00" stroke-width="1.8" fill="none"/>
<text x="329.9" y="809.5" class="t">5</text>
<text x="329.9" y="964.4" class="t">0</text>
<text x="21" y="858.8" class="t r" text-anchor="end">1</text>
<text x="21" y="964.3" class="t r" text-anchor="end">0</text>
<text x="33" y="988" class="t" text-anchor="middle">0</text>
<text x="111.2" y="988" class="t" text-anchor="middle">100</text>
<text x="189" y="988" class="t" text-anchor="middle">200</text>
<text x="266.9" y="988" class="t" text-anchor="middle">300</text>
<text x="30.9" y="787.4" class="x r">×</text>
<text x="53.2" y="784.7" class="t r">10</text>
<text x="80.9" y="772.1" class="s r">−4</text>
<text x="319.8" y="787.4" class="x">×</text>
<text x="342.1" y="784.7" class="t">10</text>
<text x="369.8" y="772.1" class="s">−3</text>
<text x="175.5" y="783.5" class="h" text-anchor="middle">Molise</text>
</g>
<g id="p31">
<path d="M473.1 797.4H757.5M473.1 956.6H757.5" stroke="#000" stroke-width="1.7" fill="none"/>
<path d="M551 797.4V956.6M628.9 797.4V956.6M706.7 797.4V956.6" stroke="#000" stroke-opacity="0.22" stroke-width="1.4" fill="none"/>
<path d="M473.1 851.1H757.5" stroke="#f00" stroke-opacity="0.22" stroke-width="1.4" fill="none"/>
<g clip-path="url(#c31b)">
<path d="M472.9 890.5l2.5 4.1 2.5 4.2 2.5 4.5 2.5 4.5 2.5 5.1 2.5 5.5 2.5 5.5 2.5 5 2.5 4.2 2.5 2.7 2.5 1.3 2.5 0 2.5-2.7 2.5-5.6 2.5-10.1 2.5-11.3 2.5-9.8 2.5-4.9 2.5-2.1 2.5 .4 2.5 1.9 2.5 3.7 2.5 5.1 2.4 5.3 2.5 5.6 2.5 4.9 2.5 4.2 2.5 2.6 2.5 .8 2.5-1.1 2.5-3.2 2.5-4.6 2.5-5.9 2.5-5 2.5-4.4 2.5-2.5 2.5-1.4 2.5-.2 2.5 .7 2.5 1.4 2.5 2.6 2.5 2.6 2.5 1.9 2.5 1.5 2.5 .8 2.5 .2 2.5-.3 2.5-.9 2.5-1.1 2.5-1.2 2.5-1.2 2.5-.9 2.5-.5 2.5-.2 2.5 .3 2.5 .6 2.5 .7 2.5 .7 2.5 .8 2.5 .6 2.5 .4 2.5 .1 2.4 0 2.5-.3 2.5-.4 2.5-.3 2.5-.3 2.5-.3 2.5-.3 2.5-.3 2.5-.1 2.5 0 2.5 .2 2.5 .2 2.5 .3 2.5 .3 2.5 .2 2.5 .2 2.5 .2 2.5 .1 2.5 0 2.5 0 2.5-.1 2.5-.1 2.5-.1 2.5-.1 2.5-.1 2.5 0 2.5 0 2.5 .1 2.5 .1 2.5 .1 2.5 .1 2.5 .1 2.5 0 2.5 0 2.5 .1 2.5 0 2.5 0 2.5 0 2.5 .1 2.4 0 2.5 0 2.5 0 2.5 .1 2.5 0 2.5 0 2.5 0 2.5 .1 2.5 0 2.5 0 2.5 .1 2.5 0 2.5 .1 0 32.6-2.5 0-2.5-.1-2.5 0-2.5 0-2.5 0-2.5 0-2.5 0-2.5 0-2.5 0-2.5 0-2.5 0-2.5 0-2.4-.1-2.5 0-2.5 0-2.5 0-2.5-.1-2.5 0-2.5 0-2.5 0-2.5-.1-2.5 0-2.5 0-2.5-.1-2.5 0-2.5 0-2.5 .1-2.5 0-2.5 .1-2.5 0-2.5 .1-2.5 0-2.5 .1-2.5-.1-2.5-.1-2.5-.1-2.5-.2-2.5-.2-2.5-.3-2.5-.1-2.5-.1-2.5-.1-2.5 .1-2.5 .2-2.5 .2-2.5 .2-2.5 .3-2.5 .2-2.5 .3-2.5 .2-2.5 .1-2.4-.1-2.5-.4-2.5-.5-2.5-.6-2.5-.7-2.5-.5-2.5-.4-2.5-.3-2.5 .1-2.5 .5-2.5 .7-2.5 1-2.5 1.2-2.5 .7-2.5 .5-2.5 0-2.5-.5-2.5-.9-2.5-1.2-2.5-1.7-2.5-1.6-2.5-1.7-2.5-1.4-2.5-1-2.5-.5-2.5 .2-2.5 1-2.5 1.4-2.5 2.2-2.5 2.4-2.5 2.8-2.5 1.8-2.5 .6-2.5-.5-2.5-1.8-2.5-2.9-2.5-4.2-2.5-4.1-2.5-4.4-2.4-4.2-2.5-4.2-2.5-3.1-2.5-1.3-2.5 .1-2.5 2.5-2.5 5.5-2.5 8.9-2.5 8-2.5 5.8-2.5 2.2-2.5 .3-2.5-1.4-2.5-2.2-2.5-3.1-2.5-4.2-2.5-4.9-2.5-5.4-2.5-5.5-2.5-5.3-2.5-4.8-2.5-4.8-2.5-4.8-2.5-4.6z" fill="#ff0000" fill-opacity="0.2"/>
<path d="M472.9 892.3l1.4 0 1.4 1 1.4 2.4 1.4 3.1 1.4 3.5 1.4 4 1.4 3.8 1.4 3.5 1.4 3.4 1.4 3.2 1.4 3 1.4 2.8 1.4 2.6 1.3 2.5 1.4 2.4 1.4 2.1 1.4 1.6 1.4 1.5 1.4 1.1 1.4 .8 1.4 .2 1.4-.2 1.4-1.1 1.4-2.4 1.4-3.4 1.4-5 1.4-5.3 1.4-5.1 1.4-5 1.4-4.2 1.4-3.6 1.4-2.5 1.4-1.4 1.4-.9 1.4-.1 1.4 .6 1.3 .9 1.4 1.5 1.4 2.2 1.4 2.5 1.4 2.5 1.4 2.9 1.4 2.9 1.4 2.6 1.4 2.7 1.4 2.4 1.4 2.3 1.4 2.2 1.4 2 1.4 1.3 1.4 1 1.4 .5 1.4-.2 1.4-.7 1.4-1.2 1.4-1.7 1.4-2.2 1.4-2.1 1.4-2 1.3-2 1.4-1.8 1.4-1.6 1.4-1.4 1.4-1.1 1.4-.6 1.4-.5 1.4-.2 1.4 .1 1.4 .3 1.4 .5 1.4 .6 1.4 1 1.4 1 1.4 1.1 1.4 1 1.4 1 1.4 .9 1.4 .8 1.4 .8 1.4 .6 1.4 .5 1.4 .3 1.3 .1 1.4 0 1.4-.2 1.4-.4 1.4-.6 1.4-.6 1.4-.7 1.4-.6 1.4-.7 1.4-.6 1.4-.5 1.4-.4 1.4-.2 1.4-.2 1.4 0 1.4 .1 1.4 .2 1.4 .2 1.4 .3 1.4 .3 1.4 .5 1.4 .4 1.4 .4 1.3 .4 1.4 .3 1.4 .4 1.4 .2 1.4 .2 1.4 .2 1.4 .1 1.4 0 1.4 0 1.4-.1 1.4-.2 1.4-.1 1.4-.2 1.4-.2 1.4-.2 1.4-.3 1.4-.2 1.4-.1 1.4-.1 1.4-.1 1.4-.1 1.4 0 1.4 0 1.3 0 1.4 0 1.4 .1 1.4 .1 1.4 .1 1.4 .2 1.4 .1 1.4 .2 1.4 .1 1.4 .1 1.4 .1 1.4 .2 1.4 0 1.4 .1 1.4 0 1.4 0 1.4 0 1.4 0 1.4 0 1.4-.1 1.4-.1 1.4-.1 1.3 0 1.4-.1 1.4 0 1.4-.1 1.4 0 1.4 0 1.4-.1 1.4 0 1.4 .1 1.4 0 1.4 0 1.4 .1 1.4 0 1.4 0 1.4 0 1.4 .1 1.4 0 1.4 0 1.4 .1 1.4 0 1.4 0 1.4 0 1.4 .1 1.3 0 1.4 0 1.4 .1 1.4 0 1.4 0 1.4 0 1.4 0 1.4 0 1.4 0 1.4 0 1.4 0 1.4 0 1.4 0 1.4 0 1.4 0 1.4 0 1.4 0 1.4 0 1.4 0 1.4 .1 1.4 0 1.4 0 1.4 .1 1.3 0 1.4 0 1.4 0 1.4 0 1.4 0 1.4 0 1.4 0 1.4 0" fill="none" stroke="#ff0000" stroke-width="4.4" stroke-linejoin="round"/>
<path d="M472.9 912.5l2.5 5.9 2.5 5.6 2.5 5.1 2.5 4.5 2.5 3.4 2.5 2.7 2.5 2.3 2.5 1.9 2.5 1.1 2.5 .1 2.5-.7 2.5-5 2.5-9.8 2.5-16.1 2.5-12.1 2.5-6.6 2.5-2.5 2.5 1 2.5 3.7 2.5 5.5 2.5 6.2 2.5 6.4 2.5 5.6 2.4 5.1 2.5 3.8 2.5 2.9 2.5 1.9 2.5 .2 2.5-1.3 2.5-3.8 2.5-5 2.5-6.1 2.5-5.5 2.5-4.8 2.5-2.9 2.5-1.5 2.5 .4 2.5 1.6 2.5 2.3 2.5 2.9 2.5 3 2.5 2.2 2.5 1.9 2.5 .8 2.5 .3 2.5-.4 2.5-.9 2.5-1.2 2.5-1.1 2.5-1.2 2.5-.9 2.5-.6 2.5-.3 2.5 .1 2.5 .5 2.5 .7 2.5 .8 2.5 .9 2.5 .6 2.5 .5 2.5 .3 2.5-.1 2.4-.2 2.5-.4 2.5-.5 2.5-.5 2.5-.5 2.5-.4 2.5-.3 2.5-.1 2.5 .1 2.5 .1 2.5 .2 2.5 .3 2.5 .4 2.5 .2 2.5 .3 2.5 .1 2.5 .1 2.5-.1 2.5-.1 2.5-.1 2.5-.2 2.5-.2 2.5 0 2.5-.1 2.5 0 2.5 .1 2.5 0 2.5 .1 2.5 .1 2.5 .1 2.5 0 2.5 .1 2.5 .1 2.5 0 2.5 0 2.5 .1 2.5 0 2.5 0 2.5 0 2.4 .1 2.5 0 2.5 0 2.5 0 2.5 .1 2.5 0 2.5 0 2.5 0 2.5 .1 2.5 0 2.5 0 2.5 .1 2.5 0 0 32.5-2.5 0-2.5 0-2.5-.1-2.5 0-2.5-.1-2.5 0-2.5 0-2.5 0-2.5-.1-2.5 0-2.5 0-2.5 0-2.4 0-2.5-.1-2.5 0-2.5 0-2.5 0-2.5-.1-2.5 0-2.5 0-2.5-.1-2.5-.1-2.5 0-2.5-.1-2.5 0-2.5-.1-2.5 0-2.5 0-2.5 .1-2.5 0-2.5 .1-2.5 .1-2.5 .1-2.5 0-2.5 0-2.5 0-2.5-.1-2.5-.2-2.5-.2-2.5-.3-2.5-.2-2.5-.2-2.5 0-2.5 0-2.5 .1-2.5 .2-2.5 .3-2.5 .3-2.5 .3-2.5 .3-2.5 .2-2.4 0-2.5 0-2.5-.4-2.5-.4-2.5-.4-2.5-.4-2.5-.5-2.5-.3-2.5-.2-2.5 0-2.5 .4-2.5 .5-2.5 .8-2.5 1.1-2.5 .8-2.5 .7-2.5 .5-2.5 .1-2.5-.1-2.5-.3-2.5-.9-2.5-1.2-2.5-1.8-2.5-1.9-2.5-1.4-2.5-.9-2.5-.4-2.5 .4-2.5 1.1-2.5 1.9-2.5 2.5-2.5 2.7-2.5 1.3-2.5 .6-2.5-.2-2.5-.6-2.5-1.2-2.5-1.8-2.5-2.5-2.4-3.3-2.5-3.9-2.5-4.3-2.5-4.3-2.5-3.7-2.5-1.6-2.5 .5-2.5 3.9-2.5 9.4-2.5 8.2-2.5 5.1-2.5 .4-2.5-.4-2.5-.9-2.5-1.1-2.5-1.3-2.5-1.9-2.5-2.4-2.5-2.8-2.5-3.5-2.5-4.6-2.5-5.4-2.5-6-2.5-6.2z" fill="#0000ff" fill-opacity="0.2"/>
<path d="M472.9 914.3l1.4 3.7 1.4 3.4 1.4 3.1 1.4 2.9 1.4 2.7 1.4 2.6 1.4 2.4 1.4 2.2 1.4 1.9 1.4 1.8 1.4 1.5 1.4 1.3 1.4 1.1 1.3 1 1.4 .8 1.4 .6 1.4 .4 1.4 .3 1.4-.2 1.4-.9 1.4-1.4 1.4-2.9 1.4-4.2 1.4-4.9 1.4-6 1.4-5.3 1.4-4.8 1.4-3.9 1.4-2.6 1.4-1.8 1.4-.5 1.4 .4 1.4 1.3 1.4 2.3 1.4 2.7 1.4 2.7 1.3 2.9 1.4 2.8 1.4 2.7 1.4 2.6 1.4 2.5 1.4 2.2 1.4 2 1.4 1.8 1.4 1.4 1.4 1.3 1.4 1 1.4 .7 1.4 .4 1.4 .1 1.4-.3 1.4-1.1 1.4-1.4 1.4-2 1.4-2.4 1.4-2.4 1.4-2.2 1.4-2.3 1.4-1.8 1.3-1.4 1.4-1.1 1.4-.8 1.4-.4 1.4-.2 1.4 .1 1.4 .5 1.4 .7 1.4 .9 1.4 1.1 1.4 1.2 1.4 1.2 1.4 1.1 1.4 1.1 1.4 1 1.4 .9 1.4 .6 1.4 .5 1.4 .4 1.4 .2 1.4 0 1.4 0 1.4-.2 1.3-.3 1.4-.4 1.4-.6 1.4-.7 1.4-.7 1.4-.7 1.4-.7 1.4-.6 1.4-.5 1.4-.3 1.4-.3 1.4-.1 1.4 0 1.4 .1 1.4 .2 1.4 .3 1.4 .4 1.4 .4 1.4 .5 1.4 .5 1.4 .3 1.4 .4 1.4 .3 1.3 .2 1.4 .2 1.4 .2 1.4 .1 1.4 .1 1.4 0 1.4-.1 1.4-.1 1.4-.2 1.4-.3 1.4-.2 1.4-.3 1.4-.3 1.4-.3 1.4-.3 1.4-.1 1.4-.1 1.4-.1 1.4-.1 1.4 0 1.4 .1 1.4 .1 1.4 .1 1.3 .1 1.4 .1 1.4 .2 1.4 .2 1.4 .2 1.4 .1 1.4 .2 1.4 .1 1.4 .1 1.4 .1 1.4 .1 1.4 0 1.4 0 1.4 0 1.4 0 1.4 0 1.4-.1 1.4 0 1.4-.1 1.4-.1 1.4-.1 1.4 0 1.3 0 1.4-.1 1.4 0 1.4 0 1.4 0 1.4 0 1.4 0 1.4 0 1.4 .1 1.4 0 1.4 .1 1.4 0 1.4 .1 1.4 0 1.4 .1 1.4 .1 1.4 0 1.4 0 1.4 .1 1.4 0 1.4 0 1.4 .1 1.4 0 1.3 0 1.4 0 1.4 0 1.4 0 1.4 0 1.4 0 1.4 0 1.4 0 1.4 0 1.4 0 1.4 0 1.4 0 1.4 0 1.4 0 1.4 0 1.4 0 1.4 .1 1.4 0 1.4 0 1.4 .1 1.4 0 1.4 0 1.4 .1 1.3 0 1.4 0 1.4 0 1.4 0 1.4 0 1.4 0 1.4 0 1.4 0" fill="none" stroke="#0000ff" stroke-width="4.4" stroke-linejoin="round"/>
<path d="M472.9 831.7l2.5-6.6 2.5-5.1 2.5-2.8 2.5-1.6 2.5 .3 2.5 1.8 2.5 2.5 2.5 3.5 2.5 3.7 2.5 3.2 2.5 3.1 2.5 2.4 2.5 1.1 2.5-.7 2.5-3.4 2.5-5.3 2.5-6.8 2.5-6.8 2.5-6.3 2.5-4.6 2.5-2.9 2.5-1.7 2.5-.6 2.4 .3 2.5 1.3 2.5 2.1 2.5 2.3 2.5 2.6 2.5 2.4 2.5 2.2 2.5 1.5 2.5 .9 2.5-.4 2.5-1.6 2.5-2.3 2.5-2.6 2.5-2.4 2.5-2.1 2.5-1.3 2.5-.8 2.5-.3 2.5 0 2.5 .4 2.5 .7 2.5 .8 2.5 .9 2.5 .8 2.5 .8 2.5 .5 2.5 .3 2.5-.1 2.5-.5 2.5-.7 2.5-.7 2.5-.7 2.5-.7 2.5-.4 2.5-.1 2.5 .1 2.5 .3 2.5 .5 2.5 .4 2.4 .5 2.5 .5 2.5 .4 2.5 .1 2.5 0 2.5-.1 2.5-.3 2.5-.3 2.5-.1 2.5-.2 2.5 0 2.5 0 2.5 .2 2.5 .2 2.5 .3 2.5 .2 2.5 .2 2.5 .2 2.5 .1 2.5 0 2.5 0 2.5 0 2.5 0 2.5 0 2.5 0 2.5-.1 2.5 0 2.5 0 2.5 0 2.5 .1 2.5 .1 2.5 .1 2.5 .1 2.5 .1 2.5 .1 2.5 .1 2.5 .1 2.5 0 2.5 .1 2.4 .1 2.5 0 2.5 .1 2.5 0 2.5 .1 2.5 0 2.5 .1 2.5 0 2.5 .1 2.5 .1 2.5 0 2.5 .1 2.5 .1 0 51.1-2.5 0-2.5-.1-2.5-.1-2.5-.1-2.5 0-2.5-.1-2.5 0-2.5-.1-2.5 0-2.5-.1-2.5 0-2.5-.1-2.4 0-2.5-.1-2.5-.1-2.5-.1-2.5 0-2.5-.1-2.5-.1-2.5-.1-2.5-.1-2.5-.2-2.5-.1-2.5 0-2.5 0-2.5 0-2.5 .1-2.5 0-2.5 .1-2.5 0-2.5 0-2.5 0-2.5-.1-2.5-.1-2.5-.1-2.5-.2-2.5-.2-2.5-.1-2.5-.2-2.5-.1-2.5-.1-2.5 0-2.5 .1-2.5 .1-2.5 .2-2.5 .2-2.5 .1-2.5-.1-2.5-.2-2.5-.2-2.5-.3-2.4-.4-2.5-.5-2.5-.5-2.5-.2-2.5-.1-2.5 .1-2.5 .3-2.5 .5-2.5 .6-2.5 .5-2.5 .5-2.5 .3-2.5-.1-2.5-.6-2.5-.7-2.5-.9-2.5-1.1-2.5-1-2.5-1-2.5-.9-2.5-.4-2.5 0-2.5 .4-2.5 1-2.5 1.5-2.5 2.1-2.5 2.2-2.5 2.2-2.5 1.3-2.5 .2-2.5-1-2.5-1.9-2.5-2.4-2.5-2.9-2.5-3.2-2.5-3.4-2.5-3.1-2.5-2.6-2.5-1.7-2.4-.8-2.5 .7-2.5 2-2.5 3.6-2.5 4.5-2.5 5.1-2.5 4.8-2.5 3.9-2.5 1.1-2.5-.9-2.5-2.4-2.5-3.5-2.5-4.3-2.5-4.8-2.5-4.9-2.5-5-2.5-4.5-2.5-3.5-2.5-2.4-2.5-.8-2.5 1-2.5 2.2-2.5 4.5-2.5 5.7z" fill="#ff00ff" fill-opacity="0.2"/>
<path d="M472.9 835.2l1.4-3.5 1.4-3 1.4-2.8 1.4-2.4 1.4-1.4 1.4-1 1.4-.5 1.4 .1 1.4 .4 1.4 .9 1.4 1.5 1.4 1.8 1.4 1.9 1.3 2.2 1.4 2.3 1.4 2.3 1.4 2.4 1.4 2.4 1.4 2.2 1.4 2.2 1.4 2 1.4 1.7 1.4 1.4 1.4 1.1 1.4 .7 1.4-.2 1.4-1.2 1.4-1.8 1.4-3 1.4-3.6 1.4-3.4 1.4-3.6 1.4-3.4 1.4-3.4 1.4-3 1.4-2.3 1.3-2 1.4-1.3 1.4-.9 1.4-.6 1.4 0 1.4 .4 1.4 .6 1.4 1.1 1.4 1.4 1.4 1.6 1.4 1.8 1.4 1.9 1.4 1.9 1.4 1.8 1.4 1.7 1.4 1.6 1.4 1.3 1.4 1.3 1.4 1 1.4 .6 1.4 .4 1.4 .1 1.4-.3 1.3-.6 1.4-.8 1.4-1.3 1.4-1.4 1.4-1.4 1.4-1.5 1.4-1.4 1.4-1.2 1.4-1 1.4-.9 1.4-.5 1.4-.4 1.4-.3 1.4-.1 1.4 0 1.4 .2 1.4 .2 1.4 .4 1.4 .6 1.4 .6 1.4 .6 1.4 .6 1.4 .7 1.3 .6 1.4 .5 1.4 .5 1.4 .4 1.4 .3 1.4 .2 1.4 .1 1.4 .1 1.4-.1 1.4-.2 1.4-.3 1.4-.4 1.4-.3 1.4-.4 1.4-.4 1.4-.4 1.4-.3 1.4-.3 1.4-.2 1.4-.1 1.4-.1 1.4 .1 1.4 .1 1.3 .1 1.4 .2 1.4 .2 1.4 .3 1.4 .2 1.4 .2 1.4 .3 1.4 .2 1.4 .2 1.4 .2 1.4 .2 1.4 .1 1.4 .1 1.4 0 1.4 0 1.4 0 1.4-.1 1.4-.1 1.4-.1 1.4-.1 1.4-.1 1.4-.1 1.4-.1 1.3 0 1.4-.1 1.4 0 1.4 0 1.4 .1 1.4 0 1.4 .1 1.4 .1 1.4 .1 1.4 .2 1.4 .1 1.4 .2 1.4 .1 1.4 .1 1.4 .1 1.4 0 1.4 .1 1.4 0 1.4 0 1.4 0 1.4 0 1.4 0 1.3 0 1.4 0 1.4 0 1.4-.1 1.4 0 1.4-.1 1.4 0 1.4 0 1.4 0 1.4 0 1.4 .1 1.4 0 1.4 0 1.4 .1 1.4 0 1.4 .1 1.4 0 1.4 .1 1.4 0 1.4 .1 1.4 .1 1.4 0 1.4 .1 1.3 0 1.4 .1 1.4 0 1.4 .1 1.4 0 1.4 .1 1.4 0 1.4 0 1.4 0 1.4 .1 1.4 0 1.4 0 1.4 0 1.4 .1 1.4 0 1.4 0 1.4 .1 1.4 0 1.4 0 1.4 0 1.4 .1 1.4 0 1.4 0 1.3 .1 1.4 0 1.4 0 1.4 .1 1.4 0 1.4 .1 1.4 0 1.4 .1" fill="none" stroke="#ff00ff" stroke-width="4.4" stroke-linejoin="round"/>
</g>
<g clip-path="url(#c31)">
<path d="M473.1 797.4H502.4V956.6H473.1ZM512.5 797.4H550.2V956.6H512.5ZM558.1 797.4H593.3V956.6H558.1ZM603.3 797.4H638.1V956.6H603.3ZM647.8 797.4H682.4V956.6H647.8ZM692.9 797.4H727.4V956.6H692.9ZM737.9 797.4H757.5V956.6H737.9Z" fill="#f00" fill-opacity="0.105"/>
<path d="M502.4 797.4H512.5V956.6H502.4ZM550.2 797.4H558.1V956.6H550.2ZM593.3 797.4H603.3V956.6H593.3ZM638.1 797.4H647.8V956.6H638.1ZM682.4 797.4H692.9V956.6H682.4ZM727.4 797.4H737.9V956.6H727.4Z" fill="#0f0" fill-opacity="0.105"/>
<path d="M473.1 805.2H757.5" stroke="#f00" stroke-opacity="0.74" stroke-width="4" stroke-dasharray="15.4 14.93" fill="none"/>
</g>
<path d="M551 797.4v3.2M551 956.6v-3.2M628.9 797.4v3.2M628.9 956.6v-3.2M706.7 797.4v3.2M706.7 956.6v-3.2M757.5 874.4h-3.4M757.5 796.5V957.5" stroke="#000" stroke-width="1.7" fill="none"/>
<path d="M473.1 796.5V957.5M473.1 851.1h3.6M473.1 956.6h3.6" stroke="#f00" stroke-width="1.8" fill="none"/>
<text x="769.8" y="882.5" class="t">2</text>
<text x="769.8" y="964.4" class="t">0</text>
<text x="460.8" y="858.8" class="t r" text-anchor="end">1</text>
<text x="460.8" y="964.3" class="t r" text-anchor="end">0</text>
<text x="472.8" y="988" class="t" text-anchor="middle">0</text>
<text x="551" y="988" class="t" text-anchor="middle">100</text>
<text x="628.9" y="988" class="t" text-anchor="middle">200</text>
<text x="706.7" y="988" class="t" text-anchor="middle">300</text>
<text x="471.2" y="787.4" class="x r">×</text>
<text x="493.6" y="784.7" class="t r">10</text>
<text x="521.2" y="772.1" class="s r">−4</text>
<text x="759.6" y="787.4" class="x">×</text>
<text x="781.9" y="784.7" class="t">10</text>
<text x="809.6" y="772.1" class="s">−3</text>
<text x="615.3" y="783.5" class="h" text-anchor="middle">Piedmont</text>
</g>
<g id="p32">
<path d="M912 797.4H1196.3M912 956.6H1196.3" stroke="#000" stroke-width="1.7" fill="none"/>
<path d="M989.8 797.4V956.6M1067.7 797.4V956.6M1145.5 797.4V956.6" stroke="#000" stroke-opacity="0.22" stroke-width="1.4" fill="none"/>
<path d="M912 851.1H1196.3" stroke="#f00" stroke-opacity="0.22" stroke-width="1.4" fill="none"/>
<g clip-path="url(#c32b)">
<path d="M912.4 949.4l2.5 .3 2.5 .2 2.5 .1 2.5 .2 2.5 .1 2.5 0 2.5 .1 2.5 0 2.5-.1 2.5-.1 2.5-.3 2.5-.3 2.4-.4 2.5-.5 2.5-.5 2.5-.5 2.5-.7 2.5-.8 2.5-1 2.5-1.1 2.5-1.1 2.5-1.1 2.5-1.2 2.5-1.2 2.5-1.3 2.5-1.3 2.5-1.3 2.5-1.1 2.5-1 2.5-1 2.5-.9 2.5-.5 2.5-.4 2.5-.3 2.5-.2 2.5-.1 2.5 0 2.5 .2 2.5 .2 2.5 .2 2.5 .4 2.5 .4 2.5 .4 2.5 .5 2.5 .6 2.5 .5 2.5 .4 2.5 .5 2.5 .5 2.5 .5 2.5 .4 2.4 .5 2.5 .4 2.5 .5 2.5 .4 2.5 .4 2.5 .3 2.5 .3 2.5 .3 2.5 .3 2.5 .2 2.5 .2 2.5 .1 2.5 .2 2.5 .1 2.5 .1 2.5 .1 2.5 0 2.5 .1 2.5 0 2.5-.1 2.5-.1 2.5-.1 2.5-.2 2.5-.1 2.5-.3 2.5-.3 2.5-.3 2.5-.4 2.5-.4 2.5-.4 2.5-.5 2.5-.6 2.5-.6 2.5-.5 2.5-.5 2.5-.5 2.5-.5 2.5-.4 2.5-.4 2.4-.3 2.5-.2 2.5-.2 2.5-.1 2.5 0 2.5 .1 2.5 .2 2.5 .2 2.5 .2 2.5 .3 2.5 .3 2.5 .3 2.5 .3 2.5 .3 2.5 .4 2.5 .3 2.5 .3 2.5 .3 2.5 .4 2.5 .3 2.5 .2 2.5 .3 2.5 .3 2.5 .2 0 12.3-2.5-.1-2.5 0-2.5-.1-2.5-.1-2.5 0-2.5-.1-2.5 0-2.5-.1-2.5 0-2.5-.1-2.5 0-2.5-.1-2.5 0-2.5 0-2.5-.1-2.5 0-2.5 0-2.5 0-2.5 0-2.5 .1-2.5 0-2.5 0-2.5 0-2.4 .1-2.5 0-2.5 .1-2.5 .1-2.5 0-2.5 .1-2.5 .2-2.5 .1-2.5 .1-2.5 .2-2.5 .1-2.5 .1-2.5 .2-2.5 .1-2.5 .1-2.5 .2-2.5 .1-2.5 .1-2.5 .1-2.5 .1-2.5 .1-2.5 0-2.5 .1-2.5 0-2.5 0-2.5 0-2.5 0-2.5-.1-2.5-.1-2.5-.1-2.5-.1-2.5-.2-2.5-.1-2.5-.2-2.5-.2-2.5-.2-2.5-.2-2.5-.2-2.5-.2-2.4-.2-2.5-.3-2.5-.2-2.5-.3-2.5-.2-2.5-.3-2.5-.3-2.5-.2-2.5-.2-2.5-.3-2.5-.2-2.5-.2-2.5-.2-2.5-.2-2.5-.1-2.5 .1-2.5 0-2.5 .2-2.5 .2-2.5 .2-2.5 .2-2.5 .2-2.5 .3-2.5 .2-2.5 .3-2.5 .4-2.5 .3-2.5 .3-2.5 .3-2.5 .4-2.5 .4-2.5 .4-2.5 .4-2.5 .4-2.5 .4-2.5 .3-2.5 .2-2.5 .2-2.5 .1-2.4 .2-2.5 .1-2.5 0-2.5 0-2.5 0-2.5-.1-2.5-.2-2.5-.1-2.5-.3-2.5-.2-2.5-.3-2.5-.2-2.5-.3z" fill="#ff0000" fill-opacity="0.2"/>
<path d="M912.4 950.3l1.4 .2 1.4 .2 1.4 .2 1.4 .2 1.4 .1 1.4 .1 1.4 .2 1.3 .1 1.4 .1 1.4 0 1.4 0 1.4 .1 1.4 0 1.4-.1 1.4 0 1.4 0 1.4 0 1.4-.1 1.4-.1 1.4-.1 1.4-.1 1.4-.1 1.4-.1 1.4-.2 1.4-.1 1.4-.2 1.4-.3 1.4-.2 1.4-.2 1.4-.3 1.3-.3 1.4-.3 1.4-.3 1.4-.3 1.4-.4 1.4-.3 1.4-.4 1.4-.4 1.4-.4 1.4-.4 1.4-.4 1.4-.4 1.4-.4 1.4-.4 1.4-.3 1.4-.4 1.4-.3 1.4-.4 1.4-.3 1.4-.3 1.4-.3 1.4-.3 1.4-.2 1.3-.2 1.4-.2 1.4-.2 1.4-.1 1.4-.1 1.4-.2 1.4-.1 1.4 0 1.4-.1 1.4-.1 1.4 0 1.4-.1 1.4 0 1.4 0 1.4 0 1.4 0 1.4 .1 1.4 .1 1.4 .1 1.4 0 1.4 .1 1.4 .2 1.3 .1 1.4 .2 1.4 .1 1.4 .2 1.4 .2 1.4 .2 1.4 .2 1.4 .2 1.4 .2 1.4 .2 1.4 .1 1.4 .2 1.4 .2 1.4 .2 1.4 .1 1.4 .2 1.4 .1 1.4 .2 1.4 .2 1.4 .2 1.4 .1 1.4 .2 1.4 .1 1.3 .2 1.4 .2 1.4 .1 1.4 .1 1.4 .2 1.4 .1 1.4 .1 1.4 .1 1.4 .1 1.4 .1 1.4 .1 1.4 0 1.4 .1 1.4 0 1.4 .1 1.4 0 1.4 0 1.4 0 1.4 0 1.4 0 1.4 0 1.4 0 1.4-.1 1.3 0 1.4 0 1.4-.1 1.4 0 1.4-.1 1.4 0 1.4-.1 1.4-.1 1.4 0 1.4-.1 1.4-.2 1.4-.1 1.4-.1 1.4-.1 1.4-.1 1.4-.1 1.4-.2 1.4-.1 1.4-.1 1.4-.1 1.4-.1 1.4-.1 1.4-.1 1.3-.1 1.4-.2 1.4-.1 1.4-.1 1.4-.1 1.4-.1 1.4-.1 1.4 0 1.4-.1 1.4-.1 1.4-.1 1.4 0 1.4-.1 1.4-.1 1.4 0 1.4-.1 1.4 0 1.4 0 1.4 0 1.4 0 1.4 0 1.4 0 1.4 0 1.3 0 1.4 0 1.4 .1 1.4 0 1.4 0 1.4 .1 1.4 0 1.4 .1 1.4 0 1.4 .1 1.4 0 1.4 .1 1.4 0 1.4 .1 1.4 .1 1.4 0 1.4 .1 1.4 0 1.4 .1 1.4 0 1.4 .1 1.4 .1 1.4 0 1.3 .1 1.4 0 1.4 .1 1.4 0 1.4 .1 1.4 .1 1.4 0 1.4 .1 1.4 0 1.4 0 1.4 .1 1.4 0 1.4 0 1.4 .1" fill="none" stroke="#ff0000" stroke-width="4.4" stroke-linejoin="round"/>
<path d="M912.4 952.1l2.5-.4 2.5-.4 2.5-.5 2.5-.5 2.5-.6 2.5-.6 2.5-.7 2.5-.7 2.5-.8 2.5-.9 2.5-.9 2.5-1 2.4-1.1 2.5-1.3 2.5-1.4 2.5-1.6 2.5-1.8 2.5-1.9 2.5-2 2.5-2.1 2.5-2.3 2.5-2.3 2.5-2.2 2.5-2.1 2.5-2 2.5-1.5 2.5-.9 2.5-.2 2.5 1 2.5 1.8 2.5 2.2 2.5 2.7 2.5 2.5 2.5 2.1 2.5 1.9 2.5 1.4 2.5 1.2 2.5 1 2.5 .8 2.5 .8 2.5 .6 2.5 .7 2.5 .5 2.5 .5 2.5 .5 2.5 .4 2.5 .4 2.5 .3 2.5 .4 2.5 .3 2.5 .4 2.4 .3 2.5 .2 2.5 .2 2.5 .2 2.5 .2 2.5 .2 2.5 .1 2.5 .1 2.5 0 2.5-.1 2.5-.1 2.5-.1 2.5-.2 2.5-.1 2.5-.2 2.5-.3 2.5-.3 2.5-.3 2.5-.4 2.5-.4 2.5-.5 2.5-.5 2.5-.6 2.5-.7 2.5-.7 2.5-.9 2.5-.9 2.5-1 2.5-1.2 2.5-1.3 2.5-1.3 2.5-1.3 2.5-1.4 2.5-1 2.5-.8 2.5-.5 2.5 .1 2.5 .5 2.5 .7 2.4 .8 2.5 1 2.5 1 2.5 1.2 2.5 1.2 2.5 1 2.5 .9 2.5 .8 2.5 .8 2.5 .7 2.5 .7 2.5 .6 2.5 .5 2.5 .5 2.5 .4 2.5 .4 2.5 .3 2.5 .4 2.5 .3 2.5 .3 2.5 .2 2.5 .2 2.5 .2 2.5 .1 0 13.6-2.5 0-2.5-.1-2.5 0-2.5 0-2.5-.1-2.5 0-2.5-.1-2.5-.1-2.5 0-2.5-.1-2.5-.1-2.5-.1-2.5-.1-2.5 0-2.5-.1-2.5-.1-2.5-.1-2.5-.1-2.5-.1-2.5-.2-2.5-.2-2.5-.3-2.5-.2-2.4-.3-2.5-.1-2.5-.1-2.5 .1-2.5 .1-2.5 .1-2.5 .2-2.5 .2-2.5 .1-2.5 .2-2.5 .1-2.5 .1-2.5 .2-2.5 .1-2.5 .2-2.5 .1-2.5 .1-2.5 .2-2.5 .1-2.5 .1-2.5 .1-2.5 .1-2.5 .1-2.5 .1-2.5 .1-2.5 0-2.5 .1-2.5 0-2.5 .1-2.5 0-2.5 .1-2.5 0-2.5 0-2.5 0-2.5 0-2.5 0-2.5 0-2.5-.1-2.5 0-2.4 0-2.5-.1-2.5 0-2.5-.1-2.5-.1-2.5-.1-2.5-.1-2.5-.1-2.5-.2-2.5-.2-2.5-.2-2.5-.2-2.5-.2-2.5-.2-2.5-.2-2.5-.2-2.5-.2-2.5-.3-2.5-.3-2.5-.2-2.5-.3-2.5-.2-2.5-.1-2.5 0-2.5 0-2.5 0-2.5 .1-2.5 .2-2.5 .1-2.5 .1-2.5 .2-2.5 .1-2.5 .1-2.5 .1-2.5 .1-2.5 .1-2.5 .1-2.5 .1-2.5 .1-2.4 .1-2.5 .1-2.5 .1-2.5 .1-2.5 .1-2.5 .1-2.5 .1-2.5 0-2.5 .1-2.5 .1-2.5 .1-2.5 0-2.5 .1z" fill="#0000ff" fill-opacity="0.2"/>
<path d="M912.4 953.5l1.4-.1 1.4-.1 1.4-.1 1.4-.2 1.4-.1 1.4-.2 1.4-.1 1.3-.2 1.4-.2 1.4-.2 1.4-.2 1.4-.1 1.4-.2 1.4-.2 1.4-.2 1.4-.2 1.4-.2 1.4-.2 1.4-.3 1.4-.3 1.4-.3 1.4-.3 1.4-.4 1.4-.4 1.4-.3 1.4-.5 1.4-.4 1.4-.5 1.4-.4 1.4-.5 1.3-.5 1.4-.5 1.4-.5 1.4-.6 1.4-.5 1.4-.6 1.4-.6 1.4-.7 1.4-.6 1.4-.5 1.4-.5 1.4-.5 1.4-.4 1.4-.4 1.4-.3 1.4-.3 1.4-.2 1.4-.2 1.4-.1 1.4 .1 1.4 .1 1.4 .2 1.4 .4 1.3 .4 1.4 .5 1.4 .6 1.4 .6 1.4 .7 1.4 .7 1.4 .6 1.4 .5 1.4 .6 1.4 .5 1.4 .5 1.4 .5 1.4 .5 1.4 .4 1.4 .4 1.4 .3 1.4 .4 1.4 .3 1.4 .2 1.4 .3 1.4 .2 1.4 .2 1.3 .2 1.4 .2 1.4 .2 1.4 .2 1.4 .1 1.4 .2 1.4 .1 1.4 .2 1.4 .1 1.4 .1 1.4 .1 1.4 .2 1.4 .1 1.4 .1 1.4 .1 1.4 0 1.4 .1 1.4 .1 1.4 .1 1.4 0 1.4 .1 1.4 0 1.4 .1 1.3 0 1.4 0 1.4 0 1.4 0 1.4 0 1.4 0 1.4 0 1.4 0 1.4 0 1.4 0 1.4-.1 1.4 0 1.4-.1 1.4 0 1.4-.1 1.4-.1 1.4-.1 1.4 0 1.4-.1 1.4-.1 1.4-.1 1.4-.2 1.4-.1 1.3-.1 1.4-.1 1.4-.2 1.4-.1 1.4-.2 1.4-.1 1.4-.2 1.4-.2 1.4-.2 1.4-.2 1.4-.2 1.4-.2 1.4-.2 1.4-.2 1.4-.2 1.4-.3 1.4-.2 1.4-.2 1.4-.3 1.4-.3 1.4-.2 1.4-.3 1.4-.3 1.3-.3 1.4-.2 1.4-.3 1.4-.2 1.4-.2 1.4-.2 1.4-.2 1.4-.1 1.4-.2 1.4-.1 1.4-.1 1.4 0 1.4 0 1.4 .1 1.4 .2 1.4 .1 1.4 .2 1.4 .3 1.4 .2 1.4 .3 1.4 .3 1.4 .3 1.4 .2 1.3 .3 1.4 .3 1.4 .2 1.4 .3 1.4 .2 1.4 .3 1.4 .2 1.4 .2 1.4 .1 1.4 .2 1.4 .2 1.4 .1 1.4 .2 1.4 .1 1.4 .2 1.4 .1 1.4 .1 1.4 .1 1.4 .1 1.4 .1 1.4 .1 1.4 .1 1.4 .1 1.3 .1 1.4 0 1.4 .1 1.4 .1 1.4 0 1.4 0 1.4 .1 1.4 0 1.4 0 1.4 .1 1.4 0 1.4 0 1.4 .1 1.4 0" fill="none" stroke="#0000ff" stroke-width="4.4" stroke-linejoin="round"/>
<path d="M912.4 918.1l2.5 .7 2.5 .6 2.5 .4 2.5 .4 2.5 .3 2.5 0 2.5-.1 2.5-.2 2.5-.4 2.5-.4 2.5-.6 2.5-1.3 2.4-1.8 2.5-1.9 2.5-2 2.5-2.6 2.5-3.1 2.5-3.6 2.5-4.1 2.5-5.4 2.5-6 2.5-6.6 2.5-7.6 2.5-8.6 2.5-9.3 2.5-10.2 2.5-9.9 2.5-9.5 2.5-8.1 2.5-6.9 2.5-4.8 2.5-3.4 2.5-2.2 2.5-1.3 2.5-.7 2.5 .1 2.5 .5 2.5 1.1 2.5 1.7 2.5 1.9 2.5 2.2 2.5 2.3 2.5 2.5 2.5 2.5 2.5 2.5 2.5 2.5 2.5 2.5 2.5 2.5 2.5 2.5 2.5 2.5 2.5 2.5 2.4 2.6 2.5 2.4 2.5 2.4 2.5 2.2 2.5 2.1 2.5 2 2.5 1.9 2.5 1.7 2.5 1.7 2.5 1.5 2.5 1.5 2.5 1.3 2.5 1.2 2.5 1.1 2.5 1 2.5 .9 2.5 .8 2.5 .6 2.5 .6 2.5 .4 2.5 .3 2.5 .3 2.5 .1 2.5-.1 2.5-.1 2.5-.4 2.5-.7 2.5-.9 2.5-1.6 2.5-2.2 2.5-2.5 2.5-3.3 2.5-3.8 2.5-4.3 2.5-4.8 2.5-4.8 2.5-4.4 2.5-4.2 2.5-3.5 2.4-3 2.5-2.4 2.5-1.4 2.5-1 2.5-.7 2.5-.1 2.5 .2 2.5 .4 2.5 .8 2.5 1.3 2.5 1.4 2.5 1.4 2.5 1.6 2.5 1.6 2.5 1.9 2.5 1.9 2.5 1.9 2.5 1.9 2.5 1.9 2.5 1.7 2.5 1.6 2.5 1.5 2.5 1.6 2.5 1.7 0 101.1-2.5-.2-2.5-.3-2.5-.2-2.5-.2-2.5-.2-2.5-.3-2.5-.2-2.5-.2-2.5-.3-2.5-.2-2.5-.2-2.5-.3-2.5-.3-2.5-.2-2.5-.3-2.5-.3-2.5-.2-2.5-.2-2.5-.2-2.5-.1-2.5 0-2.5 0-2.5 0-2.4 .1-2.5 .1-2.5 0-2.5 .2-2.5 .2-2.5 .2-2.5 .3-2.5 .3-2.5 .4-2.5 .4-2.5 .5-2.5 .7-2.5 .6-2.5 .7-2.5 .8-2.5 .6-2.5 .4-2.5 .3-2.5 .3-2.5 .1-2.5 0-2.5 0-2.5-.1-2.5-.1-2.5-.1-2.5-.2-2.5-.2-2.5-.3-2.5-.3-2.5-.3-2.5-.4-2.5-.4-2.5-.5-2.5-.6-2.5-.6-2.5-.7-2.5-.8-2.5-.8-2.5-.8-2.4-.9-2.5-.9-2.5-.7-2.5-.7-2.5-.7-2.5-.5-2.5-.3-2.5-.1-2.5-.1-2.5 0-2.5 .1-2.5 .2-2.5 .2-2.5 .2-2.5 .3-2.5 .4-2.5 .5-2.5 .5-2.5 .5-2.5 .6-2.5 .5-2.5 .6-2.5 .4-2.5 .3-2.5 .1-2.5-.1-2.5-.3-2.5-.4-2.5-.5-2.5-.6-2.5-.5-2.5-.4-2.5-.5-2.5-.5-2.5-.4-2.5-.5-2.5-.5-2.5-.6-2.5-.6-2.4-.5-2.5-.5-2.5-.5-2.5-.3-2.5-.3-2.5-.2-2.5-.3-2.5-.4-2.5-.4-2.5-.5-2.5-.6-2.5-.7-2.5-.7z" fill="#ff00ff" fill-opacity="0.2"/>
<path d="M912.4 919.9l1.4 .5 1.4 .4 1.4 .4 1.4 .4 1.4 .3 1.4 .3 1.4 .2 1.3 .2 1.4 .2 1.4 .1 1.4 0 1.4 .1 1.4 0 1.4 .1 1.4-.1 1.4-.1 1.4-.1 1.4-.2 1.4-.1 1.4-.3 1.4-.4 1.4-.5 1.4-.5 1.4-.6 1.4-.6 1.4-.8 1.4-.9 1.4-.9 1.4-.9 1.4-1 1.3-1.2 1.4-1.2 1.4-1.3 1.4-1.4 1.4-1.4 1.4-1.7 1.4-1.7 1.4-1.8 1.4-1.8 1.4-2 1.4-2.1 1.4-2.1 1.4-2.2 1.4-2.2 1.4-2.2 1.4-2.4 1.4-2.3 1.4-2.3 1.4-2.1 1.4-2 1.4-1.9 1.4-1.8 1.4-1.5 1.3-1.4 1.4-1.2 1.4-1.1 1.4-1 1.4-.7 1.4-.6 1.4-.6 1.4-.5 1.4-.3 1.4-.2 1.4-.1 1.4-.1 1.4 0 1.4 .1 1.4 .1 1.4 .2 1.4 .2 1.4 .3 1.4 .4 1.4 .4 1.4 .6 1.4 .5 1.3 .6 1.4 .7 1.4 .7 1.4 .7 1.4 .8 1.4 .7 1.4 .8 1.4 .8 1.4 .8 1.4 .8 1.4 .9 1.4 .8 1.4 .8 1.4 .9 1.4 .8 1.4 .8 1.4 .9 1.4 .8 1.4 .7 1.4 .8 1.4 .9 1.4 .8 1.4 .8 1.3 .8 1.4 .8 1.4 .7 1.4 .8 1.4 .7 1.4 .7 1.4 .6 1.4 .7 1.4 .6 1.4 .6 1.4 .6 1.4 .5 1.4 .6 1.4 .6 1.4 .5 1.4 .5 1.4 .5 1.4 .5 1.4 .4 1.4 .3 1.4 .4 1.4 .3 1.4 .2 1.3 .3 1.4 .2 1.4 .1 1.4 .2 1.4 0 1.4 .1 1.4 0 1.4 0 1.4 0 1.4-.1 1.4-.1 1.4-.2 1.4-.2 1.4-.2 1.4-.2 1.4-.3 1.4-.4 1.4-.5 1.4-.5 1.4-.5 1.4-.5 1.4-.7 1.4-.7 1.3-.8 1.4-.8 1.4-.9 1.4-1 1.4-1 1.4-1 1.4-1 1.4-1.1 1.4-1.1 1.4-1 1.4-1.1 1.4-1 1.4-.9 1.4-.9 1.4-.9 1.4-.9 1.4-.7 1.4-.7 1.4-.7 1.4-.6 1.4-.6 1.4-.4 1.4-.3 1.3-.2 1.4-.2 1.4-.2 1.4-.1 1.4 0 1.4-.1 1.4 .1 1.4 0 1.4 .2 1.4 .2 1.4 .2 1.4 .4 1.4 .3 1.4 .4 1.4 .4 1.4 .5 1.4 .4 1.4 .5 1.4 .5 1.4 .5 1.4 .5 1.4 .5 1.4 .6 1.3 .5 1.4 .5 1.4 .5 1.4 .6 1.4 .5 1.4 .5 1.4 .5 1.4 .6 1.4 .5 1.4 .5 1.4 .5 1.4 .5 1.4 .5 1.4 .6" fill="none" stroke="#ff00ff" stroke-width="4.4" stroke-linejoin="round"/>
</g>
<g clip-path="url(#c32)">
<path d="M1117.7 797.4H1155.8V956.6H1117.7Z" fill="#f00" fill-opacity="0.105"/>
<path d="M912 797.4H1117.7V956.6H912ZM1155.8 797.4H1196.3V956.6H1155.8Z" fill="#0f0" fill-opacity="0.105"/>
<path d="M912 805.2H1196.3" stroke="#f00" stroke-opacity="0.74" stroke-width="4" stroke-dasharray="15.4 14.93" fill="none"/>
</g>
<path d="M989.8 797.4v3.2M989.8 956.6v-3.2M1067.7 797.4v3.2M1067.7 956.6v-3.2M1145.5 797.4v3.2M1145.5 956.6v-3.2M1196.3 864.2h-3.4M1196.3 796.5V957.5" stroke="#000" stroke-width="1.7" fill="none"/>
<path d="M912 796.5V957.5M912 851.1h3.6M912 956.6h3.6" stroke="#f00" stroke-width="1.8" fill="none"/>
<text x="1208.5" y="872.3" class="t">1</text>
<text x="1208.5" y="964.4" class="t">0</text>
<text x="899.7" y="858.8" class="t r" text-anchor="end">1</text>
<text x="899.7" y="964.3" class="t r" text-anchor="end">0</text>
<text x="911.7" y="988" class="t" text-anchor="middle">0</text>
<text x="989.8" y="988" class="t" text-anchor="middle">100</text>
<text x="1067.7" y="988" class="t" text-anchor="middle">200</text>
<text x="1145.5" y="988" class="t" text-anchor="middle">300</text>
<text x="909.6" y="787.4" class="x r">×</text>
<text x="931.9" y="784.7" class="t r">10</text>
<text x="959.6" y="772.1" class="s r">−4</text>
<text x="1198.4" y="787.4" class="x">×</text>
<text x="1220.7" y="784.7" class="t">10</text>
<text x="1248.4" y="772.1" class="s">−3</text>
<text x="1054.2" y="783.5" class="h" text-anchor="middle">Sardinia</text>
</g>
<g id="p33">
<path d="M1351.3 797.4H1633.7M1351.3 956.6H1633.7" stroke="#000" stroke-width="1.7" fill="none"/>
<path d="M1428.6 797.4V956.6M1505.9 797.4V956.6M1583.3 797.4V956.6" stroke="#000" stroke-opacity="0.22" stroke-width="1.4" fill="none"/>
<path d="M1351.3 851.1H1633.7" stroke="#f00" stroke-opacity="0.22" stroke-width="1.4" fill="none"/>
<g clip-path="url(#c33b)">
<path d="M1351.4 948.5l2.5-.3 2.4-1.8 2.5-3.3 2.5-4.5 2.5-7.2 2.5-9.9 2.5-9.5 2.4-8.9 2.5-5.9 2.5-2.4 2.5 2.2 2.5 3.6 2.4 4 2.5 4.2 2.5 3.8 2.5 3.5 2.5 3.3 2.5 3 2.4 2.5 2.5 2.3 2.5 2.1 2.5 1.8 2.5 1.4 2.5 1.2 2.4 1.1 2.5 .9 2.5 .7 2.5 .3 2.5 0 2.4-.3 2.5-.9 2.5-2.1 2.5-2.9 2.5-3.7 2.5-4.6 2.4-4.2 2.5-4 2.5-3 2.5-2 2.5-1.4 2.4-.5 2.5-.1 2.5 .2 2.5 .5 2.5 .8 2.5 1.1 2.4 1.8 2.5 2 2.5 1.9 2.5 1.9 2.5 1.7 2.4 1.8 2.5 1.6 2.5 1.1 2.5 .8 2.5 .5 2.5 .1 2.4-.1 2.5-.5 2.5-.9 2.5-1.3 2.5-1.4 2.4-1.3 2.5-1.3 2.5-1.1 2.5-1 2.5-.8 2.5-.6 2.4-.4 2.5-.3 2.5-.1 2.5 .1 2.5 0 2.5 .2 2.4 .2 2.5 .3 2.5 .3 2.5 .4 2.5 .4 2.4 .4 2.5 .5 2.5 .4 2.5 .3 2.5 .3 2.5 .2 2.4 .1 2.5 .2 2.5 .1 2.5 0 2.5 .1 2.4 0 2.5 0 2.5-.1 2.5-.1 2.5-.1 2.5-.1 2.4-.1 2.5-.1 2.5-.1 2.5-.1 2.5-.1 2.4-.1 2.5-.1 2.5-.1 2.5-.1 2.5-.1 2.5-.1 2.4-.1 2.5-.1 2.5-.1 2.5-.1 2.5-.1 2.5-.1 2.4-.1 0 23.9-2.4 0-2.5 0-2.5 0-2.5 0-2.5 .1-2.5 0-2.4 .1-2.5 0-2.5 .1-2.5 0-2.5 .1-2.5 0-2.4 0-2.5 0-2.5 0-2.5 .1-2.5 0-2.4 .1-2.5 0-2.5 .1-2.5 0-2.5 0-2.5 .1-2.4 0-2.5-.1-2.5 0-2.5-.2-2.5-.1-2.4-.1-2.5-.1-2.5-.1-2.5-.1-2.5-.1-2.5-.2-2.4-.2-2.5-.2-2.5-.2-2.5-.2-2.5-.1-2.4-.1-2.5-.1-2.5 0-2.5 0-2.5 .1-2.5 .3-2.4 .3-2.5 .3-2.5 .4-2.5 .4-2.5 .4-2.5 .5-2.4 .4-2.5 .3-2.5 .3-2.5 .2-2.5 .1-2.4-.1-2.5-.1-2.5-.5-2.5-.6-2.5-.7-2.5-.9-2.4-.9-2.5-1.1-2.5-1.1-2.5-1.2-2.5-1.1-2.4-1.1-2.5-.7-2.5-.6-2.5-.3-2.5 0-2.5 .2-2.4 .5-2.5 1.1-2.5 1.3-2.5 1.7-2.5 1.9-2.4 1.7-2.5 1.6-2.5 1-2.5 .5-2.5 .2-2.5 0-2.4-.2-2.5-.4-2.5-.5-2.5-.5-2.5-.8-2.4-1.1-2.5-1.1-2.5-1.3-2.5-1.7-2.5-2.1-2.5-2.4-2.4-2.6-2.5-3.2-2.5-3.6-2.5-3.8-2.5-3.8-2.5-4-2.4-3.8-2.5-3.5-2.5-1.3-2.5 2.7-2.5 6-2.4 8.8-2.5 8.8-2.5 8.7-2.5 6.4-2.5 3.9-2.5 2.6-2.4 1.1-2.5-.2z" fill="#ff0000" fill-opacity="0.2"/>
<path d="M1351.4 949.4l1.4-.2 1.4-.5 1.4-.7 1.4-1.1 1.4-1.3 1.3-2.1 1.4-2.8 1.4-3.3 1.4-4.2 1.4-4.8 1.4-5.5 1.4-5.8 1.4-5.4 1.4-5.2 1.4-4.2 1.4-3.2 1.4-1.1 1.4 .1 1.4 1 1.4 1.6 1.4 2.2 1.3 2.4 1.4 2.3 1.4 2.3 1.4 2.2 1.4 2.1 1.4 2 1.4 2 1.4 1.8 1.4 1.7 1.4 1.7 1.4 1.5 1.4 1.5 1.4 1.4 1.4 1.3 1.4 1.2 1.4 1 1.3 1 1.4 .9 1.4 .8 1.4 .8 1.4 .8 1.4 .6 1.4 .6 1.4 .6 1.4 .5 1.4 .4 1.4 .3 1.4 .3 1.4 .3 1.4 .1 1.4 .1 1.4-.1 1.3-.1 1.4-.3 1.4-.3 1.4-.6 1.4-.8 1.4-1 1.4-1.1 1.4-1.4 1.4-1.5 1.4-1.5 1.4-1.6 1.4-1.7 1.4-1.5 1.4-1.3 1.4-1.1 1.4-1.1 1.4-.8 1.3-.8 1.4-.7 1.4-.5 1.4-.4 1.4-.1 1.4-.1 1.4 .1 1.4 .1 1.4 .2 1.4 .3 1.4 .4 1.4 .5 1.4 .6 1.4 .7 1.4 .8 1.4 .7 1.3 .8 1.4 .8 1.4 .8 1.4 .9 1.4 .8 1.4 .9 1.4 .8 1.4 .7 1.4 .6 1.4 .6 1.4 .5 1.4 .5 1.4 .4 1.4 .4 1.4 .3 1.4 .2 1.3 .1 1.4 .1 1.4 0 1.4-.1 1.4-.2 1.4-.2 1.4-.2 1.4-.3 1.4-.4 1.4-.4 1.4-.4 1.4-.5 1.4-.5 1.4-.4 1.4-.4 1.4-.4 1.4-.4 1.3-.3 1.4-.3 1.4-.3 1.4-.2 1.4-.2 1.4-.2 1.4-.1 1.4-.1 1.4-.1 1.4 0 1.4-.1 1.4 0 1.4 0 1.4 .1 1.4 0 1.4 .1 1.3 .1 1.4 .2 1.4 .1 1.4 .2 1.4 .2 1.4 .2 1.4 .2 1.4 .1 1.4 .2 1.4 .1 1.4 .2 1.4 .1 1.4 .1 1.4 .1 1.4 .1 1.4 .1 1.3 .1 1.4 0 1.4 .1 1.4 .1 1.4 0 1.4 0 1.4 .1 1.4 0 1.4 0 1.4-.1 1.4 0 1.4 0 1.4-.1 1.4 0 1.4 0 1.4-.1 1.3 0 1.4 0 1.4-.1 1.4 0 1.4 0 1.4-.1 1.4 0 1.4-.1 1.4 0 1.4 0 1.4-.1 1.4 0 1.4 0 1.4-.1 1.4 0 1.4 0 1.4-.1 1.3 0 1.4 0 1.4-.1 1.4 0 1.4 0 1.4-.1 1.4 0 1.4 0 1.4-.1 1.4 0 1.4-.1 1.4 0 1.4 0 1.4 0 1.4-.1 1.4 0 1.3 0 1.4-.1 1.4 0" fill="none" stroke="#ff0000" stroke-width="4.4" stroke-linejoin="round"/>
<path d="M1351.4 952.1l2.5-2.4 2.4-5.9 2.5-7.7 2.5-14.8 2.5-21.9 2.5-29.1 2.5-26.8 2.4 6.7 2.5 24.5 2.5 18.5 2.5 12.5 2.5 9.4 2.4 7.3 2.5 5.8 2.5 4.5 2.5 3.8 2.5 2.8 2.5 2.4 2.4 2.2 2.5 1.6 2.5 1.5 2.5 1.2 2.5 1 2.5 .6 2.4 .2 2.5-.3 2.5-.5 2.5-2.1 2.5-3.4 2.4-5.3 2.5-6.5 2.5-6.8 2.5-6.5 2.5-5.2 2.5-4.3 2.4-3.5 2.5-2.9 2.5-1.7 2.5-1.3 2.5-.6 2.4-.2 2.5 .6 2.5 1.5 2.5 2.3 2.5 3.3 2.5 3.9 2.4 4.3 2.5 4 2.5 3.7 2.5 3.3 2.5 3 2.4 2.2 2.5 1.7 2.5 1.2 2.5 1 2.5 .5 2.5-.2 2.4-.8 2.5-1.7 2.5-2.5 2.5-2.8 2.5-3 2.4-2.7 2.5-2.4 2.5-2 2.5-1.7 2.5-1 2.5-.9 2.4-.5 2.5-.5 2.5-.2 2.5-.1 2.5 .2 2.5 .3 2.4 .5 2.5 .6 2.5 .6 2.5 .6 2.5 .7 2.4 .7 2.5 .6 2.5 .6 2.5 .5 2.5 .4 2.5 .4 2.4 .2 2.5 .1 2.5 .1 2.5 0 2.5 0 2.4-.1 2.5-.1 2.5-.2 2.5-.1 2.5-.2 2.5-.1 2.4-.2 2.5-.1 2.5-.2 2.5-.1 2.5-.2 2.4-.2 2.5-.2 2.5-.2 2.5-.1 2.5-.2 2.5-.1 2.4-.2 2.5-.1 2.5-.2 2.5-.1 2.5-.1 2.5-.1 2.4-.1 0 43.1-2.4 .4-2.5 .5-2.5 .4-2.5 .4-2.5 .4-2.5 .4-2.4 .4-2.5 .4-2.5 .3-2.5 .3-2.5 .3-2.5 .3-2.4 .3-2.5 .3-2.5 .3-2.5 .2-2.5 .3-2.4 .2-2.5 .2-2.5 .2-2.5 .1-2.5 .2-2.5 .2-2.4 .1-2.5 .1-2.5 .1-2.5 .1-2.5 .1-2.4 0-2.5 .1-2.5 0-2.5 .1-2.5 0-2.5 0-2.4-.1-2.5 0-2.5-.1-2.5 0-2.5-.1-2.4-.1-2.5-.1-2.5-.1-2.5-.1-2.5-.2-2.5-.2-2.4-.1-2.5-.2-2.5-.2-2.5-.2-2.5-.3-2.5-.2-2.4-.3-2.5-.3-2.5-.3-2.5-.3-2.5-.3-2.4-.3-2.5-.4-2.5-.3-2.5-.4-2.5-.4-2.5-.4-2.4-.4-2.5-.4-2.5-.5-2.5-.4-2.5-1.1-2.4-1.9-2.5-2.7-2.5-2.5-2.5-2.2-2.5-1.4-2.5-.5-2.4 .1-2.5 .7-2.5 1-2.5 1.4-2.5 2-2.4 2-2.5 1.4-2.5 1.2-2.5 1-2.5 .6-2.5 .4-2.4 .2-2.5 .2-2.5 0-2.5-.1-2.5-.2-2.4-.3-2.5-.4-2.5-.6-2.5-.9-2.5-1.6-2.5-1.9-2.4-2.1-2.5-2.6-2.5-2.8-2.5-3.8-2.5-4.7-2.5-5.5-2.4-6.9-2.5-7.5-2.5-9.2-2.5-13.9-2.5-13.7-2.4 0-2.5 19.8-2.5 21-2.5 14.5-2.5 8.7-2.5 4.6-2.4 3.7-2.5 1.7z" fill="#0000ff" fill-opacity="0.2"/>
<path d="M1351.4 953.3l1.4-.9 1.4-1.6 1.4-2.2 1.4-3.2 1.4-3.9 1.3-5.4 1.4-7.1 1.4-8.9 1.4-12 1.4-14.2 1.4-15.4 1.4-14.3 1.4-4.8 1.4 2.9 1.4 9.3 1.4 11.4 1.4 9.1 1.4 7.9 1.4 7 1.4 5.9 1.4 5 1.3 4.4 1.4 3.6 1.4 3.2 1.4 3 1.4 2.5 1.4 2.3 1.4 2.1 1.4 1.7 1.4 1.5 1.4 1.4 1.4 1.3 1.4 1.2 1.4 1.1 1.4 1.1 1.4 .9 1.4 .7 1.3 .7 1.4 .6 1.4 .5 1.4 .4 1.4 .3 1.4 .3 1.4 .3 1.4 .1 1.4 .1 1.4 .1 1.4 0 1.4-.2 1.4-.3 1.4-.3 1.4-.7 1.4-1.1 1.3-1.3 1.4-1.7 1.4-2 1.4-2.2 1.4-2.4 1.4-2.6 1.4-2.5 1.4-2.2 1.4-2.1 1.4-1.8 1.4-1.6 1.4-1.6 1.4-1.3 1.4-1 1.4-.8 1.4-.6 1.4-.4 1.3-.1 1.4 0 1.4 .2 1.4 .5 1.4 .7 1.4 .9 1.4 1.1 1.4 1.5 1.4 1.5 1.4 1.6 1.4 1.7 1.4 1.6 1.4 1.6 1.4 1.5 1.4 1.4 1.4 1.4 1.3 1.2 1.4 1.2 1.4 1 1.4 1 1.4 .7 1.4 .8 1.4 .6 1.4 .5 1.4 .3 1.4 .3 1.4 .2 1.4 .2 1.4-.1 1.4-.1 1.4-.2 1.4-.2 1.3-.4 1.4-.6 1.4-.6 1.4-.7 1.4-.8 1.4-.8 1.4-.8 1.4-.8 1.4-.9 1.4-.9 1.4-.8 1.4-.7 1.4-.6 1.4-.6 1.4-.5 1.4-.5 1.4-.5 1.3-.4 1.4-.2 1.4-.3 1.4-.2 1.4-.1 1.4-.1 1.4-.1 1.4 0 1.4 .1 1.4 .1 1.4 .1 1.4 .2 1.4 .3 1.4 .2 1.4 .3 1.4 .3 1.3 .3 1.4 .3 1.4 .2 1.4 .3 1.4 .3 1.4 .2 1.4 .3 1.4 .2 1.4 .2 1.4 .1 1.4 .2 1.4 .1 1.4 .1 1.4 .1 1.4 .1 1.4 0 1.3 .1 1.4 0 1.4 0 1.4 0 1.4 0 1.4 0 1.4 0 1.4 0 1.4 0 1.4 0 1.4 0 1.4 0 1.4 0 1.4 0 1.4 0 1.4-.1 1.3 0 1.4 0 1.4-.1 1.4 0 1.4 0 1.4-.1 1.4 0 1.4 0 1.4 0 1.4-.1 1.4 0 1.4 0 1.4-.1 1.4 0 1.4 0 1.4 0 1.4-.1 1.3 0 1.4 0 1.4 0 1.4-.1 1.4 0 1.4 0 1.4-.1 1.4 0 1.4 0 1.4 0 1.4-.1 1.4 0 1.4 0 1.4-.1 1.4 0 1.4 0 1.3 0 1.4-.1 1.4 0" fill="none" stroke="#0000ff" stroke-width="4.4" stroke-linejoin="round"/>
<path d="M1351.4 926.9l2.5 1 2.4-.7 2.5-2 2.5-3.1 2.5-6.1 2.5-9.3 2.5-12.1 2.4-17.9 2.5-18.7 2.5-19.4 2.5-16.3 2.5-12.3 2.4-6.8 2.5-4.2 2.5-1.5 2.5-.7 2.5 .8 2.5 1.7 2.4 3.3 2.5 4.3 2.5 4.8 2.5 5.1 2.5 5 2.5 5 2.4 4.7 2.5 4.6 2.5 4.1 2.5 3.8 2.5 3.1 2.4 2.5 2.5 2 2.5 1.6 2.5 .8 2.5 .1 2.5-1.5 2.4-2.9 2.5-4.7 2.5-5.1 2.5-5.5 2.5-5.3 2.4-5.1 2.5-4.3 2.5-3.7 2.5-2.4 2.5-1.6 2.5-1 2.4-.3 2.5-.1 2.5 .4 2.5 .6 2.5 1.5 2.4 2.1 2.5 2.4 2.5 2.6 2.5 2.5 2.5 2.5 2.5 2.2 2.4 2.1 2.5 1.5 2.5 1.2 2.5 .8 2.5 .6 2.4 .3 2.5 0 2.5-.3 2.5-.8 2.5-1 2.5-1.4 2.4-1.5 2.5-1.5 2.5-1.4 2.5-1.3 2.5-1.3 2.5-1 2.4-.8 2.5-.7 2.5-.4 2.5-.4 2.5-.2 2.4-.1 2.5 0 2.5 .3 2.5 .3 2.5 .5 2.5 .5 2.4 .5 2.5 .5 2.5 .5 2.5 .5 2.5 .4 2.4 .5 2.5 .4 2.5 .2 2.5 .3 2.5 .2 2.5 .2 2.4 .2 2.5 .1 2.5 .1 2.5 0 2.5 0 2.4 0 2.5-.1 2.5-.1 2.5-.1 2.5-.2 2.5-.1 2.4-.2 2.5-.2 2.5-.2 2.5-.2 2.5-.2 2.5-.1 2.4-.2 0 54-2.4 0-2.5 0-2.5 .1-2.5 .1-2.5 0-2.5 .1-2.4 0-2.5 .1-2.5 .1-2.5 0-2.5 .1-2.5 .1-2.4 0-2.5 0-2.5 0-2.5-.1-2.5 0-2.4-.1-2.5-.1-2.5-.2-2.5-.1-2.5-.2-2.5-.2-2.4-.2-2.5-.2-2.5-.3-2.5-.3-2.5-.4-2.4-.4-2.5-.3-2.5-.3-2.5-.3-2.5-.3-2.5-.2-2.4-.2-2.5 0-2.5 0-2.5 .2-2.5 .3-2.4 .4-2.5 .6-2.5 .9-2.5 .9-2.5 1-2.5 1-2.4 1.2-2.5 1-2.5 .8-2.5 .5-2.5 .1-2.5-.1-2.4-.4-2.5-.8-2.5-1.2-2.5-1.8-2.5-2.1-2.4-2.6-2.5-2.8-2.5-2.9-2.5-2.8-2.5-2.6-2.5-2.2-2.4-1.9-2.5-1.2-2.5-.6-2.5-.1-2.5 .5-2.4 1-2.5 1.7-2.5 2.3-2.5 3.3-2.5 4.1-2.5 5-2.4 5.1-2.5 4.9-2.5 3.1-2.5 1.8-2.5 .4-2.4 .2-2.5-.3-2.5-.6-2.5-.8-2.5-1-2.5-1.3-2.4-1.5-2.5-2-2.5-2.7-2.5-3.2-2.5-4-2.4-4.3-2.5-4.5-2.5-4.6-2.5-4.7-2.5-4.6-2.5-3.9-2.4-3.3-2.5-2.2-2.5-1.3-2.5-.4-2.5 .6-2.5 3.2-2.4 5.3-2.5 9.5-2.5 12.1-2.5 14-2.5 13.5-2.4 12.9-2.5 7.9-2.5 5.8-2.5 3.6-2.5 1.7-2.5 1.2-2.4 .4-2.5-.7z" fill="#ff00ff" fill-opacity="0.2"/>
<path d="M1351.4 928.7l1.4 .1 1.4-.1 1.4-.2 1.4-.4 1.4-.7 1.3-1 1.4-1.1 1.4-2.2 1.4-2.9 1.4-3.7 1.4-5.1 1.4-5.9 1.4-7.3 1.4-8.2 1.4-8.7 1.4-9.3 1.4-9 1.4-8.8 1.4-8.1 1.4-7 1.4-6.2 1.3-4.6 1.4-3.7 1.4-2.9 1.4-1.6 1.4-1.4 1.4-.6 1.4-.1 1.4 .3 1.4 .6 1.4 1.1 1.4 1.3 1.4 1.4 1.4 1.7 1.4 1.9 1.4 2.1 1.4 2.1 1.3 2.3 1.4 2.4 1.4 2.4 1.4 2.3 1.4 2.3 1.4 2.4 1.4 2.3 1.4 2.4 1.4 2.4 1.4 2.3 1.4 2.1 1.4 2 1.4 1.9 1.4 1.7 1.4 1.6 1.4 1.5 1.3 1.4 1.4 1.2 1.4 1.1 1.4 1.1 1.4 .8 1.4 .7 1.4 .4 1.4 .2 1.4-.3 1.4-.7 1.4-1 1.4-1.5 1.4-2 1.4-2.1 1.4-2.4 1.4-2.7 1.4-2.7 1.3-2.6 1.4-2.7 1.4-2.6 1.4-2.4 1.4-2.1 1.4-2.1 1.4-1.8 1.4-1.4 1.4-1.2 1.4-1.2 1.4-.9 1.4-.6 1.4-.6 1.4-.5 1.4-.2 1.4 0 1.3 .2 1.4 .3 1.4 .6 1.4 .7 1.4 1 1.4 1 1.4 1.1 1.4 1.3 1.4 1.5 1.4 1.4 1.4 1.4 1.4 1.6 1.4 1.5 1.4 1.4 1.4 1.5 1.4 1.4 1.3 1.3 1.4 1.1 1.4 1 1.4 .9 1.4 .7 1.4 .7 1.4 .6 1.4 .5 1.4 .4 1.4 .2 1.4 .1 1.4 .1 1.4 0 1.4-.2 1.4-.3 1.4-.3 1.4-.4 1.3-.5 1.4-.6 1.4-.6 1.4-.7 1.4-.8 1.4-.8 1.4-.7 1.4-.7 1.4-.6 1.4-.7 1.4-.6 1.4-.6 1.4-.7 1.4-.5 1.4-.5 1.4-.4 1.3-.4 1.4-.3 1.4-.2 1.4-.3 1.4-.1 1.4-.2 1.4 0 1.4 0 1.4 0 1.4 .1 1.4 .1 1.4 .2 1.4 .2 1.4 .3 1.4 .2 1.4 .3 1.3 .3 1.4 .3 1.4 .4 1.4 .3 1.4 .3 1.4 .3 1.4 .3 1.4 .2 1.4 .2 1.4 .2 1.4 .2 1.4 .2 1.4 .2 1.4 .2 1.4 .1 1.4 .1 1.3 .2 1.4 .1 1.4 .1 1.4 .1 1.4 0 1.4 .1 1.4 .1 1.4 .1 1.4 0 1.4 0 1.4 0 1.4 .1 1.4-.1 1.4 0 1.4 0 1.4 0 1.4 0 1.3-.1 1.4 0 1.4-.1 1.4 0 1.4-.1 1.4-.1 1.4-.1 1.4 0 1.4-.1 1.4-.1 1.4-.1 1.4 0 1.4-.1 1.4 0 1.4-.1 1.4-.1 1.3 0 1.4-.1 1.4 0" fill="none" stroke="#ff00ff" stroke-width="4.4" stroke-linejoin="round"/>
</g>
<g clip-path="url(#c33)">
<path d="M1368.3 797.4H1429.2V956.6H1368.3ZM1451.2 797.4H1505.7V956.6H1451.2ZM1525.9 797.4H1581.3V956.6H1525.9ZM1600.9 797.4H1633.7V956.6H1600.9Z" fill="#f00" fill-opacity="0.105"/>
<path d="M1351.3 797.4H1368.3V956.6H1351.3ZM1429.2 797.4H1451.2V956.6H1429.2ZM1505.7 797.4H1525.9V956.6H1505.7ZM1581.3 797.4H1600.9V956.6H1581.3Z" fill="#0f0" fill-opacity="0.105"/>
<path d="M1351.3 805.2H1633.7" stroke="#f00" stroke-opacity="0.74" stroke-width="4" stroke-dasharray="15.4 14.93" fill="none"/>
</g>
<path d="M1428.6 797.4v3.2M1428.6 956.6v-3.2M1505.9 797.4v3.2M1505.9 956.6v-3.2M1583.3 797.4v3.2M1583.3 956.6v-3.2M1633.7 876.8h-3.4M1633.7 796.5V957.5" stroke="#000" stroke-width="1.7" fill="none"/>
<path d="M1351.3 796.5V957.5M1351.3 851.1h3.6M1351.3 956.6h3.6" stroke="#f00" stroke-width="1.8" fill="none"/>
<text x="1645.9" y="884.9" class="t">1</text>
<text x="1645.9" y="964.4" class="t">0</text>
<text x="1339" y="858.8" class="t r" text-anchor="end">1</text>
<text x="1339" y="964.3" class="t r" text-anchor="end">0</text>
<text x="1351" y="988" class="t" text-anchor="middle">0</text>
<text x="1428.6" y="988" class="t" text-anchor="middle">100</text>
<text x="1505.9" y="988" class="t" text-anchor="middle">200</text>
<text x="1583.3" y="988" class="t" text-anchor="middle">300</text>
<text x="1348.9" y="787.4" class="x r">×</text>
<text x="1371.2" y="784.7" class="t r">10</text>
<text x="1398.9" y="772.1" class="s r">−4</text>
<text x="1638.6" y="787.4" class="x">×</text>
<text x="1660.9" y="784.7" class="t">10</text>
<text x="1688.6" y="772.1" class="s">−3</text>
<text x="1492.5" y="783.5" class="h" text-anchor="middle">Sicily</text>
</g>
<g id="p40">
<path d="M33.3 1047.7H317.7M33.3 1205.2H317.7" stroke="#000" stroke-width="1.7" fill="none"/>
<path d="M111.2 1047.7V1205.2M189 1047.7V1205.2M266.9 1047.7V1205.2" stroke="#000" stroke-opacity="0.22" stroke-width="1.4" fill="none"/>
<path d="M33.3 1100.9H317.7" stroke="#f00" stroke-opacity="0.22" stroke-width="1.4" fill="none"/>
<g clip-path="url(#c40b)">
<path d="M33.4 1185.2l2.5 3.1 2.5 2.7 2.5 2.3 2.5 1.5 2.5 .8 2.5 .1 2.5-.9 2.5-2.5 2.5-3.5 2.5-3.8 2.5-4.1 2.5-4.5 2.4-5.2 2.5-4.7 2.5-2.8 2.5-.7 2.5 1 2.5 2.6 2.5 3.8 2.5 3.8 2.5 4.1 2.5 3.7 2.5 3.6 2.5 3 2.5 1.8 2.5 .9 2.5 .1 2.5-1.4 2.5-2.8 2.5-5 2.5-5.8 2.5-5 2.5-2.9 2.5-1.3 2.5 .1 2.5 .8 2.5 1.2 2.5 1.5 2.5 1.7 2.5 1.6 2.5 1.6 2.5 1.5 2.5 1.4 2.5 1.4 2.5 .9 2.5 .4 2.5-.5 2.5-1.4 2.5-1.9 2.5-1.9 2.5-1.8 2.4-1.1 2.5-.6 2.5 .1 2.5 .4 2.5 .8 2.5 1.1 2.5 1.1 2.5 1.1 2.5 1.1 2.5 .9 2.5 .4 2.5 0 2.5-.6 2.5-1.1 2.5-1.4 2.5-1.7 2.5-1.1 2.5-.9 2.5-.3 2.5 .1 2.5 .5 2.5 .8 2.5 .9 2.5 .9 2.5 1.2 2.5 1 2.5 .9 2.5 .7 2.5 .4 2.5 0 2.5-.5 2.5-.9 2.5-1.3 2.5-1.2 2.5-1.1 2.5-.9 2.5-.4 2.5-.2 2.5 .1 2.4 .3 2.5 .5 2.5 .8 2.5 1 2.5 1 2.5 .9 2.5 .8 2.5 .6 2.5 .3 2.5 0 2.5-.3 2.5-.6 2.5-.8 2.5-.7 2.5-.8 2.5-.7 2.5-.5 2.5-.4 2.5-.2 2.5-.1 2.5 0 2.5 .1 2.5 .4 2.5 .6 0 17.6-2.5-.3-2.5-.2-2.5-.1-2.5 0-2.5 .1-2.5 .2-2.5 .3-2.5 .4-2.5 .4-2.5 .4-2.5 .3-2.5 .3-2.5 .2-2.5 .1-2.5-.1-2.5-.3-2.5-.4-2.5-.6-2.5-.6-2.5-.6-2.5-.5-2.5-.4-2.5-.3-2.4-.2-2.5 0-2.5 .2-2.5 .3-2.5 .7-2.5 .8-2.5 .7-2.5 .6-2.5 .4-2.5 .3-2.5 0-2.5-.2-2.5-.4-2.5-.4-2.5-.6-2.5-.7-2.5-.6-2.5-.6-2.5-.4-2.5-.2-2.5 0-2.5 .2-2.5 .4-2.5 .6-2.5 .9-2.5 .8-2.5 .6-2.5 .3-2.5 .1-2.5-.2-2.5-.3-2.5-.4-2.5-.4-2.5-.5-2.5-.4-2.5-.4-2.5-.2-2.5 0-2.5 .4-2.4 .8-2.5 .9-2.5 1-2.5 .8-2.5 .4-2.5 .2-2.5-.3-2.5-.6-2.5-.8-2.5-.9-2.5-1.2-2.5-1.2-2.5-1.1-2.5-1.2-2.5-.8-2.5-.4-2.5 0-2.5 .5-2.5 1.1-2.5 1.8-2.5 2.3-2.5 2.5-2.5 2-2.5 1-2.5 .2-2.5-.3-2.5-.9-2.5-1.4-2.5-2.1-2.5-2.9-2.5-3-2.5-3.4-2.5-2.8-2.5-1.6-2.5-.9-2.5 0-2.5 .5-2.5 1.3-2.5 2.2-2.4 2.6-2.5 3-2.5 3.1-2.5 2.7-2.5 2.6-2.5 1.7-2.5 .5-2.5-.5-2.5-1-2.5-1.7-2.5-2.4-2.5-2.8-2.5-3.1z" fill="#ff0000" fill-opacity="0.2"/>
<path d="M33.4 1187l1.4 1.6 1.4 1.5 1.4 1.5 1.4 1.4 1.4 1.3 1.4 1.2 1.4 .9 1.3 .7 1.4 .5 1.4 .3 1.4 0 1.4-.2 1.4-.6 1.4-1.1 1.4-1.3 1.4-1.6 1.4-1.8 1.4-2 1.4-2.2 1.4-2.3 1.4-2.2 1.4-2.1 1.4-1.9 1.4-1.7 1.4-1.4 1.4-1.2 1.4-.9 1.4-.5 1.4-.3 1.4 0 1.3 .4 1.4 .7 1.4 1 1.4 1.5 1.4 1.7 1.4 1.8 1.4 2 1.4 2 1.4 1.9 1.4 1.8 1.4 1.7 1.4 1.5 1.4 1.3 1.4 1.2 1.4 .9 1.4 .5 1.4 .3 1.4 .1 1.4-.2 1.4-.5 1.4-.7 1.4-1.1 1.4-1.5 1.3-1.7 1.4-1.6 1.4-1.6 1.4-1.6 1.4-1.3 1.4-1 1.4-.9 1.4-.4 1.4-.3 1.4-.2 1.4 0 1.4 .2 1.4 .3 1.4 .3 1.4 .5 1.4 .6 1.4 .7 1.4 .6 1.4 .7 1.4 .7 1.4 .8 1.4 .6 1.3 .7 1.4 .7 1.4 .5 1.4 .4 1.4 .3 1.4 .3 1.4 .1 1.4-.1 1.4-.2 1.4-.4 1.4-.4 1.4-.5 1.4-.5 1.4-.7 1.4-.5 1.4-.5 1.4-.6 1.4-.4 1.4-.2 1.4-.2 1.4-.1 1.4 0 1.4 .1 1.3 .2 1.4 .3 1.4 .2 1.4 .4 1.4 .3 1.4 .3 1.4 .3 1.4 .4 1.4 .3 1.4 .2 1.4 .2 1.4 .2 1.4 0 1.4 0 1.4-.1 1.4-.3 1.4-.4 1.4-.4 1.4-.4 1.4-.5 1.4-.5 1.4-.4 1.4-.4 1.3-.4 1.4-.3 1.4-.2 1.4-.1 1.4 0 1.4 .1 1.4 .1 1.4 .3 1.4 .3 1.4 .4 1.4 .4 1.4 .5 1.4 .5 1.4 .5 1.4 .4 1.4 .4 1.4 .4 1.4 .2 1.4 .3 1.4 .2 1.4 .2 1.4 0 1.4 0 1.3-.1 1.4-.1 1.4-.3 1.4-.3 1.4-.4 1.4-.4 1.4-.5 1.4-.5 1.4-.5 1.4-.4 1.4-.4 1.4-.3 1.4-.3 1.4-.3 1.4-.1 1.4-.1 1.4-.1 1.4 .1 1.4 .1 1.4 .3 1.4 .3 1.4 .3 1.4 .4 1.3 .5 1.4 .4 1.4 .5 1.4 .4 1.4 .4 1.4 .4 1.4 .4 1.4 .3 1.4 .2 1.4 .2 1.4 0 1.4 0 1.4 0 1.4-.2 1.4-.2 1.4-.2 1.4-.3 1.4-.3 1.4-.3 1.4-.4 1.4-.3 1.4-.3 1.4-.3 1.3-.3 1.4-.2 1.4-.2 1.4-.2 1.4-.2 1.4-.1 1.4 0 1.4 0 1.4 0 1.4 .1 1.4 .2 1.4 .2 1.4 .2 1.4 .2" fill="none" stroke="#ff0000" stroke-width="4.4" stroke-linejoin="round"/>
<path d="M33.4 1198.4l2.5 1.2 2.5 .8 2.5 .3 2.5 0 2.5-.4 2.5-1.2 2.5-2.3 2.5-3.1 2.5-3.8 2.5-5.8 2.5-6.1 2.5-5.9 2.4-3.7 2.5 1.8 2.5 4 2.5 4.8 2.5 4.6 2.5 4.5 2.5 3.7 2.5 3 2.5 2.5 2.5 1.9 2.5 1.2 2.5 .3 2.5-.6 2.5-1.3 2.5-2.6 2.5-4.8 2.5-5.6 2.5-6.2 2.5-4 2.5-1.8 2.5 .6 2.5 2 2.5 3 2.5 2.9 2.5 2.5 2.5 2.3 2.5 1.8 2.5 1.5 2.5 1.2 2.5 .9 2.5 .5 2.5 .2 2.5-.8 2.5-2.1 2.5-2.9 2.5-3.7 2.5-2.2 2.5-1.4 2.5 0 2.4 .6 2.5 1 2.5 1.4 2.5 1.6 2.5 1.2 2.5 1 2.5 .8 2.5 .5 2.5 .3 2.5-.2 2.5-.9 2.5-1.4 2.5-1.4 2.5-1.6 2.5-1.3 2.5-.7 2.5-.2 2.5 .4 2.5 .8 2.5 1 2.5 1.4 2.5 1.3 2.5 1 2.5 .9 2.5 .6 2.5 .1 2.5-.1 2.5-.5 2.5-.9 2.5-1.1 2.5-1 2.5-1.2 2.5-1 2.5-.6 2.5-.3 2.5 .2 2.5 .6 2.5 .9 2.5 .9 2.4 1 2.5 .9 2.5 .8 2.5 .6 2.5 .4 2.5 .1 2.5-.2 2.5-.5 2.5-.7 2.5-.9 2.5-.9 2.5-.9 2.5-.8 2.5-.4 2.5-.1 2.5 0 2.5 .2 2.5 .3 2.5 .4 2.5 .6 2.5 .7 2.5 .6 2.5 .5 2.5 .6 0 20.7-2.5 .5-2.5 .4-2.5 .5-2.5 .4-2.5 .4-2.5 .4-2.5 .4-2.5 .4-2.5 .3-2.5 .4-2.5 .3-2.5 .3-2.5 .3-2.5 .3-2.5 .3-2.5 .3-2.5 .3-2.5 .2-2.5 .3-2.5 .2-2.5 .2-2.5 .2-2.5 .2-2.4 .2-2.5 .1-2.5 .2-2.5 .1-2.5 .1-2.5 .2-2.5 .1-2.5 .1-2.5 0-2.5 .1-2.5 0-2.5 .1-2.5 0-2.5 0-2.5 0-2.5 0-2.5 0-2.5 0-2.5-.1-2.5 0-2.5-.1-2.5-.1-2.5-.1-2.5-.1-2.5-.1-2.5-.2-2.5-.1-2.5-.2-2.5-.1-2.5-.2-2.5-.2-2.5-.2-2.5-.2-2.5-.3-2.5-.2-2.5-.3-2.5-.2-2.5-.3-2.5-.3-2.4-.3-2.5-.4-2.5-.3-2.5-.3-2.5-.4-2.5-.4-2.5-.3-2.5-.4-2.5-.4-2.5-.5-2.5-.4-2.5-.4-2.5-.5-2.5-.7-2.5-1.5-2.5-2.7-2.5-2.4-2.5-1.6-2.5-.9-2.5-.1-2.5 .7-2.5 2-2.5 2.8-2.5 2.1-2.5 1.6-2.5 1.1-2.5 .9-2.5 .6-2.5 .4-2.5 0-2.5-.4-2.5-.7-2.5-1.2-2.5-3-2.5-4.6-2.5-4.6-2.5-3.8-2.5-1.9-2.5 0-2.4 2.2-2.5 3.3-2.5 2.7-2.5 2.6-2.5 2.4-2.5 1.7-2.5 1.1-2.5 .7-2.5 .2-2.5-.2-2.5-1-2.5-1.5-2.5-1.8z" fill="#0000ff" fill-opacity="0.2"/>
<path d="M33.4 1200.2l1.4 1.1 1.4 .9 1.4 .7 1.4 .4 1.4 .3 1.4 .1 1.4-.1 1.3-.3 1.4-.4 1.4-.6 1.4-.8 1.4-1 1.4-1.1 1.4-1.3 1.4-1.5 1.4-1.7 1.4-2.1 1.4-2.2 1.4-2.1 1.4-2.3 1.4-2.2 1.4-1.7 1.4-1.2 1.4-.7 1.4 0 1.4 .6 1.4 .9 1.4 1.5 1.4 1.8 1.4 1.8 1.3 1.9 1.4 2 1.4 1.8 1.4 1.7 1.4 1.6 1.4 1.4 1.4 1.3 1.4 1.1 1.4 1.1 1.4 1 1.4 .5 1.4 .3 1.4 .2 1.4-.1 1.4-.4 1.4-.6 1.4-.8 1.4-1.1 1.4-1.5 1.4-1.6 1.4-1.6 1.4-1.8 1.4-1.6 1.3-1.5 1.4-1.4 1.4-1.1 1.4-.6 1.4-.3 1.4 .1 1.4 .4 1.4 .6 1.4 .7 1.4 .8 1.4 .8 1.4 .9 1.4 .8 1.4 .9 1.4 .8 1.4 .8 1.4 .6 1.4 .7 1.4 .6 1.4 .4 1.4 .4 1.4 .4 1.3 .3 1.4 .1 1.4 .1 1.4-.2 1.4-.2 1.4-.4 1.4-.6 1.4-.7 1.4-.7 1.4-.7 1.4-.7 1.4-.7 1.4-.5 1.4-.3 1.4-.3 1.4-.2 1.4 0 1.4 .1 1.4 .2 1.4 .3 1.4 .3 1.4 .5 1.4 .5 1.3 .5 1.4 .4 1.4 .4 1.4 .4 1.4 .3 1.4 .3 1.4 .2 1.4 .2 1.4 .2 1.4 .1 1.4-.1 1.4-.1 1.4-.2 1.4-.4 1.4-.4 1.4-.5 1.4-.5 1.4-.7 1.4-.5 1.4-.5 1.4-.4 1.4-.3 1.4-.3 1.3 0 1.4 0 1.4 .1 1.4 .3 1.4 .3 1.4 .5 1.4 .5 1.4 .5 1.4 .5 1.4 .5 1.4 .4 1.4 .4 1.4 .4 1.4 .4 1.4 .2 1.4 .2 1.4 .1 1.4 0 1.4 0 1.4-.1 1.4-.3 1.4-.3 1.4-.4 1.3-.4 1.4-.5 1.4-.5 1.4-.5 1.4-.4 1.4-.5 1.4-.4 1.4-.2 1.4-.2 1.4-.2 1.4 0 1.4 0 1.4 .1 1.4 .2 1.4 .2 1.4 .3 1.4 .4 1.4 .5 1.4 .4 1.4 .5 1.4 .4 1.4 .4 1.4 .4 1.3 .3 1.4 .3 1.4 .2 1.4 .2 1.4 .1 1.4 0 1.4 0 1.4-.1 1.4-.2 1.4-.3 1.4-.3 1.4-.4 1.4-.3 1.4-.4 1.4-.4 1.4-.4 1.4-.3 1.4-.3 1.4-.2 1.4-.2 1.4-.2 1.4-.1 1.4 .1 1.3 0 1.4 .1 1.4 .2 1.4 .2 1.4 .2 1.4 .3 1.4 .2 1.4 .3 1.4 .3 1.4 .3 1.4 .2 1.4 .3 1.4 .3 1.4 .2" fill="none" stroke="#0000ff" stroke-width="4.4" stroke-linejoin="round"/>
<path d="M33.4 1153.6l2.5 .5 2.5 .5 2.5 .6 2.5 .5 2.5 .5 2.5 .5 2.5 .4 2.5-.8 2.5-1.8 2.5-3.6 2.5-6.2 2.5-8.5 2.4-10.9 2.5-11.2 2.5-10.7 2.5-8 2.5-5.2 2.5-3.3 2.5-1.5 2.5-.4 2.5 .8 2.5 1.8 2.5 2.8 2.5 3.1 2.5 2.8 2.5 2.4 2.5 1.3 2.5 .5 2.5-.6 2.5-2.4 2.5-5.5 2.5-6.8 2.5-7.9 2.5-6.1 2.5-4.5 2.5-2.7 2.5-1.4 2.5-.7 2.5-.2 2.5 .2 2.5 .6 2.5 1.2 2.5 1.5 2.5 1.6 2.5 1.3 2.5 .9 2.5 .2 2.5-.7 2.5-1.4 2.5-2.1 2.5-2.1 2.4-1.9 2.5-1.4 2.5-1.1 2.5-.6 2.5-.4 2.5-.2 2.5 .1 2.5 .3 2.5 .4 2.5 .4 2.5 .3 2.5-.1 2.5-.6 2.5-1.2 2.5-1.5 2.5-1.5 2.5-1.3 2.5-.8 2.5-.5 2.5-.2 2.5 0 2.5 .3 2.5 .8 2.5 .9 2.5 1.1 2.5 1.1 2.5 1.2 2.5 .9 2.5 .6 2.5 .2 2.5-.4 2.5-1 2.5-1.3 2.5-1.5 2.5-1.6 2.5-1.5 2.5-1 2.5-.8 2.5-.3 2.4-.3 2.5 .1 2.5 .2 2.5 .6 2.5 1.1 2.5 1.2 2.5 1.4 2.5 1.3 2.5 1.3 2.5 .9 2.5 .4 2.5-.1 2.5-.7 2.5-1 2.5-1.3 2.5-1.2 2.5-1 2.5-.8 2.5-.5 2.5-.4 2.5-.2 2.5-.2 2.5 0 2.5 0 0 54.3-2.5 .3-2.5 .4-2.5 .6-2.5 .6-2.5 .7-2.5 .7-2.5 .7-2.5 .6-2.5 .5-2.5 .3-2.5 .1-2.5-.1-2.5-.3-2.5-.5-2.5-.6-2.5-.7-2.5-.7-2.5-.6-2.5-.5-2.5-.4-2.5-.1-2.5-.1-2.5 .2-2.4 .6-2.5 .7-2.5 1.2-2.5 1-2.5 1-2.5 .7-2.5 .5-2.5 .2-2.5-.2-2.5-.4-2.5-.6-2.5-1-2.5-1-2.5-1.1-2.5-1-2.5-.9-2.5-.5-2.5-.3-2.5 0-2.5 .2-2.5 .4-2.5 .8-2.5 1-2.5 1.1-2.5 1-2.5 1-2.5 .7-2.5 .5-2.5 .3-2.5 .1-2.5 0-2.5 .2-2.5 .1-2.5 .2-2.5 .3-2.5 .3-2.5 .5-2.5 .4-2.5 .3-2.4 .3-2.5 .1-2.5 0-2.5-.2-2.5-.3-2.5-.6-2.5-.6-2.5-.5-2.5-.4-2.5 0-2.5 .2-2.5 .5-2.5 .9-2.5 1.2-2.5 1.7-2.5 2.1-2.5 2.6-2.5 2.6-2.5 2.6-2.5 1.8-2.5 1.1-2.5 .1-2.5-.3-2.5-.5-2.5-.9-2.5-1.2-2.5-1.8-2.5-1.9-2.5-2.2-2.5-1.9-2.5-1.6-2.5-.6-2.5 .4-2.5 1.8-2.5 3.2-2.5 5.3-2.5 6.2-2.5 6.9-2.5 6.5-2.4 6-2.5 4.6-2.5 3.6-2.5 1.9-2.5 1.2-2.5 .4-2.5-.3-2.5-.6-2.5-.7-2.5-.8-2.5-1-2.5-1-2.5-1.2z" fill="#ff00ff" fill-opacity="0.2"/>
<path d="M33.4 1155.9l1.4 .1 1.4 .3 1.4 .3 1.4 .5 1.4 .6 1.4 .6 1.4 .6 1.3 .6 1.4 .5 1.4 .4 1.4 .2 1.4 0 1.4-.1 1.4-.5 1.4-.8 1.4-.8 1.4-1.5 1.4-1.9 1.4-2.3 1.4-2.9 1.4-3.7 1.4-3.9 1.4-4.6 1.4-5 1.4-4.8 1.4-4.7 1.4-4.6 1.4-4.1 1.4-3.6 1.4-3.3 1.3-2.6 1.4-2.1 1.4-1.7 1.4-.9 1.4-.5 1.4-.1 1.4 .4 1.4 .7 1.4 .9 1.4 1.2 1.4 1.5 1.4 1.4 1.4 1.5 1.4 1.5 1.4 1.4 1.4 1.2 1.4 1.2 1.4 .9 1.4 .6 1.4 .4 1.4 .2 1.4-.4 1.4-.9 1.3-1.1 1.4-1.6 1.4-2.1 1.4-2.3 1.4-2.4 1.4-2.6 1.4-2.5 1.4-2.2 1.4-2.1 1.4-1.8 1.4-1.5 1.4-1.5 1.4-1.1 1.4-.8 1.4-.7 1.4-.5 1.4-.3 1.4-.2 1.4-.1 1.4 .1 1.4 .2 1.4 .4 1.3 .5 1.4 .5 1.4 .5 1.4 .6 1.4 .6 1.4 .5 1.4 .5 1.4 .4 1.4 .3 1.4 .2 1.4 0 1.4-.3 1.4-.4 1.4-.6 1.4-.6 1.4-.7 1.4-.7 1.4-.6 1.4-.6 1.4-.5 1.4-.5 1.4-.4 1.4-.3 1.3-.4 1.4-.2 1.4-.1 1.4-.1 1.4 0 1.4 0 1.4 0 1.4 .1 1.4 .1 1.4 .1 1.4 .1 1.4 .2 1.4 .1 1.4 0 1.4-.1 1.4-.2 1.4-.3 1.4-.5 1.4-.6 1.4-.7 1.4-.7 1.4-.7 1.4-.7 1.3-.7 1.4-.5 1.4-.5 1.4-.5 1.4-.3 1.4-.2 1.4-.1 1.4-.1 1.4 .1 1.4 .2 1.4 .2 1.4 .5 1.4 .5 1.4 .7 1.4 .6 1.4 .6 1.4 .7 1.4 .6 1.4 .4 1.4 .5 1.4 .4 1.4 .3 1.4 .2 1.3 .1 1.4 .1 1.4-.1 1.4-.2 1.4-.4 1.4-.4 1.4-.5 1.4-.7 1.4-.6 1.4-.7 1.4-.7 1.4-.8 1.4-.6 1.4-.6 1.4-.5 1.4-.5 1.4-.3 1.4-.2 1.4-.1 1.4 0 1.4 0 1.4 .1 1.4 .3 1.3 .3 1.4 .4 1.4 .5 1.4 .6 1.4 .6 1.4 .6 1.4 .6 1.4 .6 1.4 .4 1.4 .5 1.4 .3 1.4 .3 1.4 .2 1.4 .1 1.4 .1 1.4 0 1.4-.2 1.4-.2 1.4-.3 1.4-.3 1.4-.4 1.4-.4 1.4-.4 1.3-.4 1.4-.4 1.4-.5 1.4-.3 1.4-.3 1.4-.3 1.4-.3 1.4-.2 1.4-.2 1.4-.2 1.4-.2 1.4 0 1.4-.1 1.4-.1" fill="none" stroke="#ff00ff" stroke-width="4.4" stroke-linejoin="round"/>
</g>
<g clip-path="url(#c40)">
<path d="M33.3 1047.7H40.6V1205.2H33.3ZM70.8 1047.7H89.6V1205.2H70.8ZM120.9 1047.7H139.4V1205.2H120.9ZM171 1047.7H188.6V1205.2H171ZM219.3 1047.7H237.8V1205.2H219.3ZM270.6 1047.7H288.7V1205.2H270.6Z" fill="#f00" fill-opacity="0.105"/>
<path d="M40.6 1047.7H70.8V1205.2H40.6ZM89.6 1047.7H120.9V1205.2H89.6ZM139.4 1047.7H171V1205.2H139.4ZM188.6 1047.7H219.3V1205.2H188.6ZM237.8 1047.7H270.6V1205.2H237.8ZM288.7 1047.7H317.7V1205.2H288.7Z" fill="#0f0" fill-opacity="0.105"/>
<path d="M33.3 1055H317.7" stroke="#f00" stroke-opacity="0.74" stroke-width="4" stroke-dasharray="15.4 14.93" fill="none"/>
</g>
<path d="M111.2 1047.7v3.2M111.2 1205.2v-3.2M189 1047.7v3.2M189 1205.2v-3.2M266.9 1047.7v3.2M266.9 1205.2v-3.2M317.7 1052.9h-3.4M317.7 1128.5h-3.4M317.7 1046.9V1206.1" stroke="#000" stroke-width="1.7" fill="none"/>
<path d="M33.3 1046.9V1206.1M33.3 1100.9h3.6M33.3 1205.2h3.6" stroke="#f00" stroke-width="1.8" fill="none"/>
<text x="329.9" y="1061" class="t">4</text>
<text x="329.9" y="1136.6" class="t">2</text>
<text x="329.9" y="1213" class="t">0</text>
<text x="21" y="1108.6" class="t r" text-anchor="end">1</text>
<text x="21" y="1212.9" class="t r" text-anchor="end">0</text>
<text x="33" y="1236.6" class="t" text-anchor="middle">0</text>
<text x="111.2" y="1236.6" class="t" text-anchor="middle">100</text>
<text x="189" y="1236.6" class="t" text-anchor="middle">200</text>
<text x="266.9" y="1236.6" class="t" text-anchor="middle">300</text>
<text x="30.9" y="1037.7" class="x r">×</text>
<text x="53.2" y="1035" class="t r">10</text>
<text x="80.9" y="1022.4" class="s r">−4</text>
<text x="319.8" y="1037.7" class="x">×</text>
<text x="342.1" y="1035" class="t">10</text>
<text x="369.8" y="1022.4" class="s">−3</text>
<text x="175.5" y="1033.8" class="h" text-anchor="middle">Tuscany</text>
</g>
<g id="p41">
<path d="M473.1 1047.7H757.5M473.1 1205.2H757.5" stroke="#000" stroke-width="1.7" fill="none"/>
<path d="M551 1047.7V1205.2M628.9 1047.7V1205.2M706.7 1047.7V1205.2" stroke="#000" stroke-opacity="0.22" stroke-width="1.4" fill="none"/>
<path d="M473.1 1100.9H757.5" stroke="#f00" stroke-opacity="0.22" stroke-width="1.4" fill="none"/>
<g clip-path="url(#c41b)">
<path d="M472.9 1177.3l2.5 3.4 2.5 3.3 2.5 3.3 2.5 2.9 2.5 2.6 2.5 2.1 2.5 1.4 2.5 .8 2.5 .7 2.5 .7 2.5 .6 2.5 .6 2.5 .5 2.5 .4 2.5 .3 2.5 .1 2.5 .1 2.5 0 2.5 0 2.5 0 2.5 0 2.5 0 2.5 0 2.4 0 2.5 0 2.5 0 2.5 0 2.5 .1 2.5 0 2.5 0 2.5 0 2.5 0 2.5 0 2.5-.1 2.5 0 2.5 0 2.5 0 2.5 0 2.5 0 2.5-.1 2.5 0 2.5 0 2.5-.1 2.5 0 2.5 0 2.5-.1 2.5 0 2.5 0 2.5-.1 2.5 0 2.5 0 2.5 0 2.5-.1 2.5 0 2.5 0 2.5-.1 2.5 0 2.5 0 2.5-.1 2.5 0 2.5 0 2.5-.1 2.4 0 2.5 0 2.5-.1 2.5 0 2.5 0 2.5-.1 2.5 0 2.5 0 2.5 0 2.5-.1 2.5 0 2.5 0 2.5-.1 2.5 0 2.5 0 2.5-.1 2.5 0 2.5 0 2.5-.1 2.5 0 2.5 0 2.5-.1 2.5 0 2.5 0 2.5-.1 2.5 0 2.5 0 2.5 0 2.5-.1 2.5 0 2.5 0 2.5-.1 2.5 0 2.5 0 2.5-.1 2.5 0 2.5 0 2.5 0 2.5-.1 2.4 0 2.5 0 2.5-.1 2.5 0 2.5 0 2.5 0 2.5-.1 2.5 0 2.5 0 2.5-.1 2.5 0 2.5 0 2.5 0 0 7.5-2.5 .2-2.5 .1-2.5 .2-2.5 .1-2.5 .2-2.5 .1-2.5 .2-2.5 .1-2.5 .1-2.5 .1-2.5 .1-2.5 .1-2.4 .1-2.5 .1-2.5 .1-2.5 .1-2.5 0-2.5 .1-2.5 .1-2.5 0-2.5 .1-2.5 0-2.5 .1-2.5 0-2.5 .1-2.5 0-2.5 0-2.5 0-2.5 .1-2.5 0-2.5 0-2.5 0-2.5 0-2.5 0-2.5 0-2.5 0-2.5 0-2.5-.1-2.5 0-2.5 0-2.5 0-2.5-.1-2.5 0-2.5 0-2.5-.1-2.5 0-2.5 0-2.5-.1-2.5 0-2.5-.1-2.5-.1-2.4 0-2.5-.1-2.5 0-2.5-.1-2.5-.1-2.5 0-2.5-.1-2.5-.1-2.5-.1-2.5-.1-2.5 0-2.5-.1-2.5-.1-2.5-.1-2.5-.1-2.5-.1-2.5-.1-2.5-.1-2.5 0-2.5-.1-2.5-.1-2.5-.1-2.5-.1-2.5-.1-2.5-.1-2.5-.1-2.5-.1-2.5-.1-2.5-.1-2.5-.1-2.5-.1-2.5-.2-2.5-.1-2.5-.1-2.5-.1-2.5-.1-2.5-.1-2.5-.1-2.5-.1-2.4-.1-2.5-.1-2.5-.1-2.5-.1-2.5-.1-2.5-.1-2.5-.1-2.5-.1-2.5-.3-2.5-.3-2.5-.4-2.5-.6-2.5-.5-2.5-.7-2.5-.7-2.5-.7-2.5-.9-2.5-1.5-2.5-2.1-2.5-2.7-2.5-3.1-2.5-3.4-2.5-3.5-2.5-3.5z" fill="#ff0000" fill-opacity="0.2"/>
<path d="M472.9 1178.2l1.4 1.8 1.4 1.9 1.4 2.2 1.4 2.1 1.4 1.9 1.4 1.8 1.4 1.6 1.4 1.4 1.4 1.3 1.4 1.2 1.4 .9 1.4 .9 1.4 .7 1.3 .7 1.4 .6 1.4 .5 1.4 .5 1.4 .3 1.4 .3 1.4 .3 1.4 .3 1.4 .2 1.4 .1 1.4 .2 1.4 .1 1.4 .2 1.4 .1 1.4 .1 1.4 0 1.4 .1 1.4 0 1.4 0 1.4 .1 1.4 0 1.4 0 1.4 .1 1.3 0 1.4 0 1.4 0 1.4 .1 1.4 0 1.4 0 1.4 0 1.4 0 1.4 0 1.4 0 1.4 0 1.4 0 1.4 0 1.4 0 1.4 0 1.4 0 1.4 0 1.4 0 1.4 0 1.4 0 1.4 0 1.4 0 1.4 0 1.3 0 1.4 0 1.4 0 1.4 0 1.4 0 1.4 0 1.4 0 1.4 0 1.4 0 1.4 0 1.4 0 1.4 0 1.4 0 1.4 0 1.4 0 1.4 0 1.4 0 1.4 0 1.4 0 1.4-.1 1.4 0 1.4 0 1.4 0 1.3 0 1.4 0 1.4 0 1.4 0 1.4 0 1.4 0 1.4 0 1.4 0 1.4 0 1.4 0 1.4-.1 1.4 0 1.4 0 1.4 0 1.4 0 1.4 0 1.4 0 1.4 0 1.4 0 1.4 0 1.4 0 1.4 0 1.4 0 1.3 0 1.4-.1 1.4 0 1.4 0 1.4 0 1.4 0 1.4 0 1.4 0 1.4 0 1.4 0 1.4 0 1.4 0 1.4 0 1.4 0 1.4 0 1.4 0 1.4-.1 1.4 0 1.4 0 1.4 0 1.4 0 1.4 0 1.4 0 1.3 0 1.4 0 1.4 0 1.4 0 1.4-.1 1.4 0 1.4 0 1.4 0 1.4 0 1.4 0 1.4 0 1.4 0 1.4 0 1.4 0 1.4 0 1.4 0 1.4 0 1.4 0 1.4 0 1.4 0 1.4 0 1.4 0 1.3 0 1.4 0 1.4 0 1.4 0 1.4 0 1.4 0 1.4 0 1.4 0 1.4 0 1.4 0 1.4 0 1.4 0 1.4 0 1.4 0 1.4 0 1.4 0 1.4 0 1.4 0 1.4 0 1.4 0 1.4 0 1.4 0 1.4 0 1.3 0 1.4 0 1.4 0 1.4 0 1.4 0 1.4 0 1.4 0 1.4 0 1.4 0 1.4 0 1.4 0 1.4 0 1.4 0 1.4 0 1.4 0 1.4 0 1.4 0 1.4 0 1.4 0 1.4 0 1.4 0 1.4 0 1.4 0 1.3 0 1.4 0 1.4 0 1.4 0 1.4 0 1.4 0 1.4 0 1.4 0" fill="none" stroke="#ff0000" stroke-width="4.4" stroke-linejoin="round"/>
<path d="M473.3 1172.1l2.5 12.9 2.4 9.1 2.5 3.5 2.5 2.3 2.5 .2 2.5 0 2.5-.1 2.5 0 2.5-.1 2.5-.1 2.5 0 2.5-.1 2.5-.1 2.5-.1 2.5 0 2.5-.1 2.5-.1 2.5 0 2.5-.1 2.4 0 2.5-.1 2.5-.1 2.5 0 2.5-.1 2.5 0 2.5-.1 2.5-.1 2.5 0 2.5-.1 2.5-.1 2.5 0 2.5-.1 2.5-.1 2.5 0 2.5-.1 2.5-.1 2.5-.1 2.4-.1 2.5-.1 2.5-.1 2.5-.1 2.5-.1 2.5-.1 2.5-.2 2.5-.1 2.5-.1 2.5-.1 2.5-.1 2.5-.2 2.5-.1 2.5-.2 2.5-.1 2.5-.2 2.5-.1 2.5-.2 2.4-.1 2.5-.2 2.5-.2 2.5-.1 2.5-.2 2.5-.2 2.5-.1 2.5-.2 2.5-.2 2.5-.2 2.5-.1 2.5-.2 2.5-.2 2.5-.2 2.5-.2 2.5-.2 2.5-.2 2.4-.2 2.5-.2 2.5-.2 2.5-.2 2.5-.2 2.5-.2 2.5-.3 2.5-.2 2.5-.2 2.5-.2 2.5-.2 2.5-.3 2.5-.2 2.5-.2 2.5-.2 2.5-.2 2.5-.2 2.5-.1 2.4-.2 2.5-.2 2.5-.2 2.5-.1 2.5-.2 2.5-.2 2.5-.1 2.5-.2 2.5-.1 2.5-.2 2.5-.1 2.5-.2 2.5-.1 2.5-.1 2.5-.1 2.5-.2 2.5-.1 2.5-.1 2.4-.1 2.5-.1 2.5-.1 2.5-.1 2.5-.1 2.5 0 0 17.9-2.5 0-2.5 0-2.5 0-2.5 0-2.5 0-2.4 0-2.5-.1-2.5 0-2.5 0-2.5 0-2.5 0-2.5 0-2.5 0-2.5 0-2.5 0-2.5 0-2.5 0-2.5 0-2.5 0-2.5 0-2.5 0-2.5 0-2.5 0-2.4 0-2.5 0-2.5 0-2.5 0-2.5-.1-2.5 0-2.5 0-2.5 0-2.5 0-2.5 0-2.5 0-2.5 0-2.5 0-2.5 0-2.5 0-2.5 0-2.5 0-2.5 0-2.4 0-2.5 0-2.5 0-2.5 0-2.5 0-2.5 0-2.5 0-2.5 0-2.5 0-2.5-.1-2.5 0-2.5 0-2.5 0-2.5 0-2.5 0-2.5 0-2.5 0-2.4 0-2.5 0-2.5 0-2.5 0-2.5 0-2.5 0-2.5 0-2.5 0-2.5 0-2.5 0-2.5 0-2.5 0-2.5 0-2.5 0-2.5 0-2.5 0-2.5 0-2.5 0-2.4 0-2.5-.1-2.5 0-2.5 0-2.5 0-2.5 0-2.5 0-2.5 0-2.5 0-2.5 0-2.5 0-2.5 0-2.5 0-2.5 0-2.5 0-2.5 0-2.5 0-2.5 0-2.4 0-2.5 0-2.5 0-2.5 0-2.5 .1-2.5 0-2.5 0-2.5 0-2.5 .1-2.5 0-2.5 .1-2.5 0-2.5 0-2.5 0-2.5 .1-2.5-.3-2.5-2.3-2.5-3.5-2.4-9.7-2.5-14.1z" fill="#0000ff" fill-opacity="0.2"/>
<path d="M473.3 1172.9l1.4 7.9 1.3 7.2 1.4 5.3 1.4 3.6 1.4 2.7 1.4 1.4 1.4 .9 1.4 .4 1.4 0 1.4 .1 1.4-.1 1.4-.1 1.4-.1 1.4-.1 1.4-.2 1.4-.1 1.4-.1 1.4-.2 1.3-.1 1.4-.1 1.4 0 1.4-.1 1.4 0 1.4-.1 1.4 0 1.4 0 1.4 .1 1.4 0 1.4 0 1.4 0 1.4 0 1.4-.1 1.4 0 1.4 0 1.3 0 1.4-.1 1.4 0 1.4 0 1.4-.1 1.4 0 1.4 0 1.4 0 1.4-.1 1.4 0 1.4 0 1.4 0 1.4 0 1.4-.1 1.4 0 1.4 0 1.3 0 1.4 0 1.4 0 1.4 0 1.4 0 1.4-.1 1.4 0 1.4 0 1.4 0 1.4 0 1.4-.1 1.4 0 1.4 0 1.4-.1 1.4 0 1.4 0 1.4 0 1.3-.1 1.4 0 1.4 0 1.4-.1 1.4 0 1.4 0 1.4 0 1.4-.1 1.4 0 1.4 0 1.4 0 1.4-.1 1.4 0 1.4 0 1.4-.1 1.4 0 1.3 0 1.4-.1 1.4 0 1.4-.1 1.4 0 1.4-.1 1.4 0 1.4-.1 1.4 0 1.4 0 1.4-.1 1.4 0 1.4 0 1.4-.1 1.4 0 1.4 0 1.4-.1 1.3 0 1.4 0 1.4 0 1.4-.1 1.4 0 1.4 0 1.4 0 1.4-.1 1.4 0 1.4 0 1.4-.1 1.4 0 1.4 0 1.4-.1 1.4 0 1.4 0 1.3 0 1.4-.1 1.4 0 1.4 0 1.4 0 1.4 0 1.4-.1 1.4 0 1.4 0 1.4 0 1.4 0 1.4 0 1.4 0 1.4 0 1.4-.1 1.4 0 1.4 0 1.3 0 1.4 0 1.4 0 1.4 0 1.4-.1 1.4 0 1.4 0 1.4 0 1.4 0 1.4 0 1.4 0 1.4-.1 1.4 0 1.4 0 1.4 0 1.4 0 1.3 0 1.4-.1 1.4 0 1.4 0 1.4 0 1.4 0 1.4 0 1.4 0 1.4 0 1.4 0 1.4 0 1.4 0 1.4 0 1.4 0 1.4 0 1.4 0 1.3 0 1.4 0 1.4 0 1.4 0 1.4 0 1.4 0 1.4 0 1.4 0 1.4 0 1.4 0 1.4 0 1.4 0 1.4 0 1.4 0 1.4 0 1.4 0 1.4 0 1.3 0 1.4 0 1.4 0 1.4 0 1.4 0 1.4 0 1.4 0 1.4 0 1.4 0 1.4 0 1.4 0 1.4 0 1.4 0 1.4 0 1.4 0 1.4 0 1.3 0 1.4 0 1.4 0 1.4 0 1.4 0 1.4 0" fill="none" stroke="#0000ff" stroke-width="4.4" stroke-linejoin="round"/>
<path d="M473.8 1047.3l2.5 24.2 2.5 21.1 2.5 18 2.4 16.6 2.5 13.6 2.5 10 2.5 9 2.5 7.7 2.5 5.6 2.5 3.9 2.5 3.7 2.5 3.4 2.5 2.7 2.4 1.8 2.5 1.1 2.5 1.1 2.5 .9 2.5 .5 2.5 .2 2.5 .1 2.5 0 2.5-.1 2.5-.3 2.4-.5 2.5-.5 2.5-.5 2.5-.6 2.5-.5 2.5-.5 2.5-.3 2.5-.2 2.5-.2 2.4-.1 2.5 0 2.5 0 2.5 .1 2.5 0 2.5-.2 2.5-.3 2.5-.5 2.5-.5 2.5-.5 2.4-.6 2.5-.6 2.5-.6 2.5-.6 2.5-.4 2.5-.5 2.5-.4 2.5-.3 2.5-.3 2.5-.2 2.4-.2 2.5-.3 2.5-.3 2.5-.4 2.5-.4 2.5-.4 2.5-.4 2.5-.4 2.5-.4 2.5-.4 2.4-.4 2.5-.4 2.5-.3 2.5-.3 2.5-.3 2.5-.3 2.5-.3 2.5-.3 2.5-.3 2.4-.3 2.5-.3 2.5-.4 2.5-.3 2.5-.3 2.5-.4 2.5-.3 2.5-.4 2.5-.3 2.5-.3 2.4-.3 2.5-.2 2.5-.3 2.5-.3 2.5-.3 2.5-.3 2.5-.3 2.5-.3 2.5-.2 2.5-.3 2.4-.2 2.5-.2 2.5-.2 2.5-.3 2.5-.2 2.5-.1 2.5-.2 2.5-.2 2.5-.2 2.5-.1 2.4-.1 2.5-.2 2.5-.1 2.5-.1 2.5-.1 2.5-.1 2.5-.1 2.5 0 2.5-.1 2.4-.1 2.5-.1 2.5 0 2.5-.1 0 40.2-2.5 .1-2.5 0-2.5 0-2.4 0-2.5 .1-2.5 0-2.5 0-2.5 0-2.5 0-2.5 0-2.5 .1-2.5 0-2.4 0-2.5 0-2.5 0-2.5 0-2.5 0-2.5 0-2.5 0-2.5 0-2.5 0-2.5 0-2.4 0-2.5 0-2.5 0-2.5 0-2.5 0-2.5 0-2.5 0-2.5-.1-2.5 0-2.5 0-2.4 0-2.5-.1-2.5 0-2.5 0-2.5 0-2.5-.1-2.5 0-2.5-.1-2.5 0-2.5 0-2.4-.1-2.5 0-2.5-.1-2.5 0-2.5-.1-2.5-.1-2.5 0-2.5-.1-2.5 0-2.4-.1-2.5-.1-2.5-.1-2.5 0-2.5-.2-2.5-.1-2.5-.1-2.5-.2-2.5-.1-2.5-.1-2.4-.2-2.5-.1-2.5-.1-2.5-.1-2.5-.1-2.5-.2-2.5-.1-2.5-.1-2.5-.1-2.5-.1-2.4-.2-2.5-.1-2.5-.1-2.5-.2-2.5-.1-2.5-.3-2.5-.2-2.5-.3-2.5-.3-2.5-.2-2.4-.3-2.5-.2-2.5-.2-2.5-.2-2.5-.2-2.5-.2-2.5-.2-2.5-.2-2.5-.2-2.4-.3-2.5-.3-2.5-.4-2.5-.3-2.5-.4-2.5-.4-2.5-.8-2.5-1.1-2.5-1.2-2.5-1.3-2.4-2-2.5-2.9-2.5-3.5-2.5-4-2.5-4-2.5-5.7-2.5-7.7-2.5-8.9-2.5-10-2.5-13.4-2.4-16.7-2.5-18.2-2.5-21.7-2.5-25.3z" fill="#ff00ff" fill-opacity="0.2"/>
<path d="M473.8 1048.2l1.4 13 1.4 13.9 1.4 12.5 1.4 11.4 1.4 10.5 1.4 9.4 1.4 8.4 1.4 7.9 1.4 7.6 1.4 6.4 1.4 5.5 1.4 4.9 1.4 4.7 1.4 4 1.4 3.4 1.4 2.9 1.4 2.7 1.4 2.6 1.4 2.1 1.4 1.9 1.3 1.7 1.4 1.4 1.4 1.3 1.4 1.1 1.4 1 1.4 .8 1.4 .7 1.4 .7 1.4 .6 1.4 .5 1.4 .5 1.4 .5 1.4 .3 1.4 .3 1.4 .3 1.4 .2 1.4 .2 1.4 .2 1.4 .1 1.4 .1 1.4 .1 1.4 .1 1.4 0 1.4 .1 1.4-.1 1.4 0 1.4-.1 1.4-.1 1.4-.1 1.4-.1 1.4-.2 1.4-.2 1.4-.1 1.4-.1 1.4 0 1.4 .1 1.4 .2 1.4 .1 1.4 .1 1.4 .1 1.4 .1 1.4 .1 1.4 .2 1.4 0 1.4 .1 1.4 .1 1.4 .1 1.4 .1 1.4 0 1.4 0 1.4 0 1.4-.1 1.4-.1 1.4-.1 1.4-.2 1.3-.1 1.4-.2 1.4-.2 1.4-.2 1.4-.2 1.4-.2 1.4-.2 1.4-.1 1.4-.2 1.4-.1 1.4-.1 1.4-.1 1.4 0 1.4 0 1.4-.1 1.4 0 1.4 .1 1.4 0 1.4 0 1.4-.1 1.4 0 1.4-.1 1.4 0 1.4-.1 1.4-.1 1.4 0 1.4-.1 1.4-.1 1.4-.2 1.4-.1 1.4-.1 1.4-.1 1.4-.1 1.4-.2 1.4-.1 1.4-.1 1.4-.1 1.4-.1 1.4-.1 1.4-.1 1.4-.1 1.4-.1 1.4 0 1.4-.1 1.4-.1 1.4 0 1.4-.1 1.4-.1 1.4 0 1.4-.1 1.4 0 1.4 0 1.4-.1 1.4 0 1.4 0 1.3 0 1.4-.1 1.4 0 1.4-.1 1.4 0 1.4-.1 1.4 0 1.4-.1 1.4-.1 1.4 0 1.4-.1 1.4 0 1.4-.1 1.4 0 1.4-.1 1.4 0 1.4 0 1.4-.1 1.4 0 1.4 0 1.4 0 1.4-.1 1.4 0 1.4 0 1.4-.1 1.4 0 1.4 0 1.4 0 1.4-.1 1.4 0 1.4 0 1.4-.1 1.4 0 1.4 0 1.4 0 1.4-.1 1.4 0 1.4 0 1.4-.1 1.4 0 1.4 0 1.4 0 1.4 0 1.4 0 1.4 0 1.4 0 1.4 0 1.4 0 1.4-.1 1.4 0 1.4 0 1.4 0 1.4 0 1.4 0 1.4 0 1.3 0 1.4 0 1.4 0 1.4 0 1.4 0 1.4 0 1.4 0 1.4 0 1.4 0 1.4 0 1.4 0 1.4 0 1.4 0 1.4 0 1.4 0 1.4 0 1.4 0 1.4 0" fill="none" stroke="#ff00ff" stroke-width="4.4" stroke-linejoin="round"/>
</g>
<g clip-path="url(#c41)">
<path d="M473.1 1047.7H482.6V1205.2H473.1Z" fill="#f00" fill-opacity="0.105"/>
<path d="M482.6 1047.7H757.5V1205.2H482.6Z" fill="#0f0" fill-opacity="0.105"/>
<path d="M473.1 1055H757.5" stroke="#f00" stroke-opacity="0.74" stroke-width="4" stroke-dasharray="15.4 14.93" fill="none"/>
</g>
<path d="M551 1047.7v3.2M551 1205.2v-3.2M628.9 1047.7v3.2M628.9 1205.2v-3.2M706.7 1047.7v3.2M706.7 1205.2v-3.2M757.5 1109.1h-3.4M757.5 1046.9V1206.1" stroke="#000" stroke-width="1.7" fill="none"/>
<path d="M473.1 1046.9V1206.1M473.1 1100.9h3.6M473.1 1205.2h3.6" stroke="#f00" stroke-width="1.8" fill="none"/>
<text x="769.8" y="1117.2" class="t">1</text>
<text x="769.8" y="1213" class="t">0</text>
<text x="460.8" y="1108.6" class="t r" text-anchor="end">1</text>
<text x="460.8" y="1212.9" class="t r" text-anchor="end">0</text>
<text x="472.8" y="1236.6" class="t" text-anchor="middle">0</text>
<text x="551" y="1236.6" class="t" text-anchor="middle">100</text>
<text x="628.9" y="1236.6" class="t" text-anchor="middle">200</text>
<text x="706.7" y="1236.6" class="t" text-anchor="middle">300</text>
<text x="471.2" y="1037.7" class="x r">×</text>
<text x="493.6" y="1035" class="t r">10</text>
<text x="521.2" y="1022.4" class="s r">−4</text>
<text x="759.6" y="1037.7" class="x">×</text>
<text x="781.9" y="1035" class="t">10</text>
<text x="809.6" y="1022.4" class="s">−3</text>
<text x="615.3" y="1033.8" class="h" text-anchor="middle">Trentino</text>
</g>
<g id="p42">
<path d="M912 1047.7H1196.3M912 1205.2H1196.3" stroke="#000" stroke-width="1.7" fill="none"/>
<path d="M989.8 1047.7V1205.2M1067.7 1047.7V1205.2M1145.5 1047.7V1205.2" stroke="#000" stroke-opacity="0.22" stroke-width="1.4" fill="none"/>
<path d="M912 1100.9H1196.3" stroke="#f00" stroke-opacity="0.22" stroke-width="1.4" fill="none"/>
<g clip-path="url(#c42b)">
<path d="M912.4 1194.5l1.4 2 1.4 1.6 1.4 1.1 1.4 .9 1.4 .7 1.4 .5 1.4 .4 1.3 .4 1.4 .2 1.4 .2 1.4 .1 1.4 .1 1.4 .1 1.4 0 1.4 .1 1.4 .1 1.4 .1 1.4 0 1.4 0 1.4 .1 1.4 0 1.4 0 1.4 0 1.4 0 1.4 0 1.4 0 1.4 0 1.4 0 1.4 0 1.4 .1 1.3 0 1.4 0 1.4 0 1.4 0 1.4 0 1.4 0 1.4 0 1.4 0 1.4 0 1.4 0 1.4 0 1.4 0 1.4 0 1.4 0 1.4 0 1.4 0 1.4 0 1.4 0 1.4 0 1.4 0 1.4 0 1.4 0 1.4 0 1.3 0 1.4 0 1.4 0 1.4 0 1.4 0 1.4 0 1.4 0 1.4 0 1.4 0 1.4 0 1.4 0 1.4 0 1.4 0 1.4 0 1.4 0 1.4 0 1.4 0 1.4 0 1.4 0 1.4 0 1.4 0 1.4 0 1.3 0 1.4 0 1.4 0 1.4 0 1.4 0 1.4 0 1.4 0 1.4 0 1.4 0 1.4 0 1.4 0 1.4 0 1.4 0 1.4 0 1.4 0 1.4 0 1.4 0 1.4 0 1.4 0 1.4 0 1.4 0 1.4 0 1.4 0 1.3 0 1.4 0 1.4 0 1.4 0 1.4 0 1.4 0 1.4 0 1.4 0 1.4 0 1.4 0 1.4 0 1.4 0 1.4 0 1.4 0 1.4 0 1.4 0 1.4 0 1.4 0 1.4 0 1.4 0 1.4 0 1.4 0 1.4 0 1.3 0 1.4 0 1.4 0 1.4 0 1.4 0 1.4 0 1.4 0 1.4 0 1.4 0 1.4 0 1.4 0 1.4 0 1.4 0 1.4 0 1.4 0 1.4 0 1.4 0 1.4 0 1.4 0 1.4 0 1.4 0 1.4 0 1.4 0 1.3 0 1.4 0 1.4 0 1.4 0 1.4 0 1.4 0 1.4 0 1.4 0 1.4 0 1.4 0 1.4 0 1.4 0 1.4 0 1.4 0 1.4 0 1.4 0 1.4 0 1.4 0 1.4 0 1.4 0 1.4 0 1.4 0 1.4 0 1.3 0 1.4 0 1.4 0 1.4 0 1.4 0 1.4 0 1.4 0 1.4 0 1.4 0 1.4 0 1.4 0 1.4 0 1.4 0 1.4 0 1.4 0 1.4 0 1.4 0 1.4 0 1.4 0 1.4 0 1.4 0 1.4 0 1.4 0 1.3 0 1.4 0 1.4 0 1.4 0 1.4 0 1.4 0 1.4 0 1.4 0 1.4 0 1.4 0 1.4 0 1.4 0 1.4 0 1.4 0" fill="none" stroke="#ff0000" stroke-width="4.4" stroke-linejoin="round"/>
<path d="M912.9 1180.8l2.5 6.4 2.5 5.5 2.5 3.6 2.5 1.7 2.5 1.3 2.5 .4 2.5-.8 2.5-1.5 2.4-1.8 2.5-2 2.5-2.2 2.5-2.3 2.5-1.7 2.5-1.2 2.5-.9 2.5-.5 2.5-.4 2.5 0 2.5 .5 2.5 1 2.5 1.4 2.5 2 2.4 1.9 2.5 1.7 2.5 1.4 2.5 .7 2.5-.4 2.5-.9 2.5-1.2 2.5-1.8 2.5-.8 2.5-.1 2.5 .5 2.5 .7 2.5 .8 2.5 .8 2.4 .7 2.5 .6 2.5 .7 2.5 .6 2.5 .4 2.5 .5 2.5 .2 2.5 .1 2.5-.2 2.5-.7 2.5-1.2 2.5-.9 2.5-.7 2.5-.6 2.4-.4 2.5-.4 2.5-.2 2.5-.2 2.5-.2 2.5-.2 2.5-.2 2.5-.3 2.5-.3 2.5-.3 2.5-.4 2.5-.6 2.5-.5 2.4-.5 2.5-.2 2.5-.2 2.5 0 2.5 .4 2.5 .5 2.5 .8 2.5 1 2.5 1.1 2.5 .9 2.5 .8 2.5 .7 2.5 .3 2.5 .2 2.4 0 2.5 0 2.5-.2 2.5-.3 2.5-.3 2.5-.4 2.5-.2 2.5-.1 2.5 0 2.5 0 2.5 0 2.5 .1 2.5 .1 2.5 .2 2.4 .1 2.5 .1 2.5 0 2.5 0 2.5-.1 2.5-.1 2.5-.2 2.5-.4 2.5-.5 2.5-.4 2.5-.4 2.5-.5 2.5-.4 2.5-.2 2.4-.1 2.5 0 2.5 .1 2.5 .2 2.5 .4 2.5 .3 2.5 .3 2.5 .3 2.5 .3 0 10.2-2.5-.4-2.5-.3-2.5-.2-2.5-.2-2.5-.2-2.5-.1-2.5-.1-2.5 0-2.4 0-2.5 .1-2.5 .2-2.5 .2-2.5 .1-2.5 .2-2.5 .3-2.5 .2-2.5 .2-2.5 0-2.5 .1-2.5 0-2.5-.1-2.5-.1-2.4-.1-2.5-.2-2.5-.1-2.5-.1-2.5 0-2.5 0-2.5 0-2.5 .1-2.5 .2-2.5 .2-2.5 .3-2.5 .1-2.5 .1-2.5 0-2.4 0-2.5-.1-2.5-.1-2.5-.2-2.5-.3-2.5-.3-2.5-.5-2.5-.5-2.5-.3-2.5-.4-2.5-.3-2.5-.1-2.5-.1-2.5 .1-2.4 .2-2.5 .2-2.5 .3-2.5 .3-2.5 .3-2.5 .3-2.5 .3-2.5 .3-2.5 .1-2.5 .1-2.5 .1-2.5 .1-2.5 .2-2.4 .2-2.5 .2-2.5 .2-2.5 .2-2.5 .2-2.5 .1-2.5 0-2.5-.1-2.5-.1-2.5-.2-2.5-.2-2.5-.3-2.5-.3-2.5-.4-2.4-.2-2.5-.3-2.5-.2-2.5-.2-2.5-.1-2.5 .1-2.5 .6-2.5 .8-2.5 .4-2.5 .2-2.5 0-2.5-.2-2.5-.4-2.5-.6-2.4-.8-2.5-1-2.5-.9-2.5-.8-2.5-.6-2.5-.3-2.5-.1-2.5 .1-2.5 .6-2.5 .8-2.5 1-2.5 1.1-2.5 1.1-2.5 .8-2.4 .8-2.5 .6-2.5 .3-2.5-.6-2.5-1.1-2.5-1.3-2.5-4-2.5-6.7-2.5-7.5z" fill="#0000ff" fill-opacity="0.2"/>
<path d="M912.9 1181.7l1.4 5.9 1.4 4 1.4 3 1.4 2 1.4 1.6 1.4 1 1.4 .9 1.4 .6 1.4 .4 1.4 .2 1.4 .1 1.4 0 1.4-.2 1.4-.4 1.4-.6 1.4-.8 1.4-1 1.4-1.2 1.4-1.1 1.4-1.2 1.4-1.1 1.4-.8 1.4-.7 1.4-.4 1.4-.3 1.4-.1 1.4-.2 1.4-.1 1.4 0 1.4 0 1.4 .1 1.4 .1 1.4 .2 1.4 .4 1.4 .4 1.4 .5 1.4 .6 1.4 .7 1.4 .7 1.4 .6 1.4 .7 1.4 .7 1.4 .5 1.4 .4 1.4 .4 1.4 .2 1.4 0 1.4-.1 1.4-.2 1.4-.4 1.4-.6 1.4-.6 1.4-.5 1.4-.4 1.4-.3 1.4 0 1.4 0 1.4 .2 1.4 .2 1.4 .2 1.4 .2 1.4 .2 1.4 .3 1.4 .2 1.4 .3 1.4 .3 1.4 .3 1.4 .3 1.4 .3 1.4 .2 1.4 .2 1.4 .2 1.4 .2 1.4 .1 1.4 .1 1.4 .1 1.4 .1 1.4 0 1.4 0 1.4-.1 1.4-.1 1.4-.2 1.4-.3 1.4-.2 1.4-.2 1.4-.3 1.4-.3 1.4-.2 1.4-.3 1.4-.2 1.4-.1 1.4-.1 1.4-.1 1.4-.1 1.4-.1 1.4 0 1.4-.1 1.4 0 1.4-.1 1.4-.1 1.4-.2 1.4-.1 1.4-.2 1.4-.2 1.4-.2 1.4-.2 1.4-.2 1.4-.2 1.4-.2 1.4-.3 1.4-.2 1.4-.2 1.4-.2 1.4-.2 1.4-.1 1.4-.1 1.4-.1 1.4 0 1.4-.1 1.4 .1 1.4 .2 1.4 .2 1.4 .2 1.4 .4 1.4 .4 1.4 .4 1.4 .3 1.4 .4 1.4 .3 1.4 .3 1.4 .3 1.4 .2 1.4 .3 1.4 .2 1.4 .1 1.4 .1 1.4 .1 1.4 0 1.4 0 1.4 0 1.4 0 1.4-.1 1.4-.1 1.4-.1 1.4-.2 1.4-.1 1.4-.1 1.4-.1 1.4-.1 1.4-.1 1.4-.1 1.4-.1 1.4 0 1.4 0 1.4 0 1.4 .1 1.4 0 1.4 .1 1.4 .1 1.4 0 1.4 .1 1.4 .1 1.4 .1 1.4 0 1.4 .1 1.4 .1 1.4 0 1.4 0 1.4 0 1.4 0 1.4 0 1.4 0 1.4-.1 1.4-.1 1.4-.2 1.4-.1 1.4-.1 1.4-.2 1.4-.2 1.4-.2 1.4-.2 1.4-.1 1.4-.1 1.4-.2 1.4-.1 1.4 0 1.4-.1 1.4 0 1.4 0 1.4 0 1.4 0 1.4 .1 1.4 .1 1.4 .1 1.4 .1 1.4 .1 1.4 .1 1.4 .2 1.4 .1 1.4 .1 1.4 .2 1.4 .1 1.4 .2" fill="none" stroke="#0000ff" stroke-width="4.4" stroke-linejoin="round"/>
<path d="M912.9 1048.2l2.5 19.4 2.5 17.9 2.5 15.3 2.5 14.1 2.5 13.1 2.5 11.3 2.5 8.8 2.5 7.7 2.4 5.8 2.5 2.7 2.5 1 2.5-1.9 2.5-2.7 2.5-2.5 2.5-2.5 2.5-2.3 2.5-2 2.5-1.5 2.5-1.3 2.5-.6 2.5 .2 2.5 1.4 2.4 2.5 2.5 2.6 2.5 3 2.5 2.8 2.5 3 2.5 2.2 2.5 .4 2.5-.7 2.5-1.5 2.5-1.8 2.5-.8 2.5-.1 2.5 .7 2.5 1.1 2.4 1.1 2.5 1.2 2.5 1.4 2.5 1.4 2.5 1.5 2.5 1.4 2.5 1.5 2.5 1.2 2.5 1.1 2.5 .8 2.5 .3 2.5-.2 2.5-.7 2.5-1 2.4-1.3 2.5-1.2 2.5-1.1 2.5-.9 2.5-.9 2.5-.7 2.5-.8 2.5-.8 2.5-.9 2.5-1 2.5-1 2.5-1.1 2.5-1 2.4-1.2 2.5-1.1 2.5-1.1 2.5-1.1 2.5-.9 2.5-.5 2.5-.1 2.5 .5 2.5 1 2.5 1.2 2.5 1.5 2.5 1.6 2.5 1.7 2.5 1.6 2.4 1.5 2.5 1.4 2.5 1.1 2.5 .9 2.5 .1 2.5-.1 2.5-.2 2.5-.3 2.5-.3 2.5-.3 2.5-.2 2.5-.2 2.5-.1 2.5 0 2.4 .1 2.5 .2 2.5 .2 2.5 .1 2.5 .1 2.5 .1 2.5-.1 2.5-.4 2.5-.5 2.5-.8 2.5-1.1 2.5-1 2.5-.9 2.5-1 2.4-.9 2.5-.9 2.5-.7 2.5-.4 2.5-.4 2.5-.2 2.5 0 2.5 .1 2.5 .1 0 24.6-2.5 0-2.5 .1-2.5 .2-2.5 .1-2.5 .3-2.5 .3-2.5 .5-2.5 .6-2.4 .7-2.5 .6-2.5 .7-2.5 .6-2.5 .4-2.5 .4-2.5 .1-2.5 .1-2.5 0-2.5 0-2.5-.1-2.5-.2-2.5-.2-2.5-.1-2.4-.1-2.5 0-2.5 .1-2.5 .1-2.5 .2-2.5 .2-2.5 .1-2.5 .2-2.5 .1-2.5-.1-2.5-.2-2.5-.4-2.5-.6-2.5-.9-2.4-1-2.5-1-2.5-1.2-2.5-1.1-2.5-1.1-2.5-.9-2.5-.7-2.5-.4-2.5-.1-2.5 .2-2.5 .5-2.5 .8-2.5 .9-2.5 .8-2.4 .8-2.5 .8-2.5 .5-2.5 .4-2.5 .4-2.5 .4-2.5 .4-2.5 .3-2.5 .4-2.5 .5-2.5 .5-2.5 .6-2.5 .7-2.4 .5-2.5 .4-2.5 .2-2.5 .1-2.5-.2-2.5-.4-2.5-.6-2.5-.7-2.5-.7-2.5-.8-2.5-.9-2.5-.8-2.5-.8-2.5-.6-2.4-.5-2.5-.3-2.5-.1-2.5 .1-2.5 .2-2.5 .1-2.5-.1-2.5-.3-2.5-.7-2.5-1.5-2.5-1.8-2.5-2.4-2.5-2.3-2.5-2.2-2.4-1.8-2.5-.8-2.5-.2-2.5 .6-2.5 1.1-2.5 1.6-2.5 1.7-2.5 1.8-2.5 1.7-2.5 .7-2.5-.5-2.5-1.5-2.5-3.5-2.5-4.2-2.4-5.8-2.5-7.2-2.5-8.7-2.5-11.6-2.5-13.7-2.5-14.8-2.5-16.5-2.5-19.8-2.5-21.8z" fill="#ff00ff" fill-opacity="0.2"/>
<path d="M912.9 1049l1.4 9.7 1.4 10.9 1.4 11.3 1.4 10.7 1.4 10 1.4 8.8 1.4 7.9 1.4 7.4 1.4 6.8 1.4 6.2 1.4 5.8 1.4 5.1 1.4 4.5 1.4 4.1 1.4 3.4 1.4 2.9 1.4 2.4 1.4 1.9 1.4 1.5 1.4 1 1.4 .4 1.4-.4 1.4-.9 1.4-1.2 1.4-1.3 1.4-1.5 1.4-1.4 1.4-1.2 1.4-1.2 1.4-1 1.4-.8 1.4-.7 1.4-.6 1.4-.3 1.4-.3 1.4-.1 1.4 .2 1.4 .5 1.4 .7 1.4 .8 1.4 1.1 1.4 1.2 1.4 1.3 1.4 1.4 1.4 1.4 1.4 1.5 1.4 1.3 1.4 1.2 1.4 1.3 1.4 1 1.4 .5 1.4 .4 1.4 .1 1.4 0 1.4-.3 1.4-.3 1.4-.3 1.4-.2 1.4-.3 1.4-.2 1.4-.2 1.4 .1 1.4 .2 1.4 .4 1.4 .3 1.4 .5 1.4 .6 1.4 .7 1.4 .6 1.4 .7 1.4 .7 1.4 .7 1.4 .7 1.4 .6 1.4 .6 1.4 .6 1.4 .5 1.4 .5 1.4 .4 1.4 .4 1.4 .3 1.4 .3 1.4 .1 1.4 .1 1.4 0 1.4-.1 1.4-.2 1.4-.3 1.4-.3 1.4-.4 1.4-.5 1.4-.4 1.4-.5 1.4-.5 1.4-.4 1.4-.4 1.4-.4 1.4-.4 1.4-.3 1.4-.3 1.4-.3 1.4-.4 1.4-.3 1.4-.4 1.4-.4 1.4-.3 1.4-.5 1.4-.4 1.4-.5 1.4-.5 1.4-.5 1.4-.6 1.4-.6 1.4-.6 1.4-.6 1.4-.6 1.4-.6 1.4-.5 1.4-.5 1.4-.5 1.4-.3 1.4-.2 1.4-.1 1.4 0 1.4 .1 1.4 .3 1.4 .3 1.4 .5 1.4 .5 1.4 .6 1.4 .7 1.4 .8 1.4 .8 1.4 .8 1.4 .8 1.4 .8 1.4 .7 1.4 .6 1.4 .6 1.4 .5 1.4 .6 1.4 .5 1.4 .5 1.4 .2 1.4 .2 1.4 .1 1.4 .1 1.4-.1 1.4-.1 1.4-.1 1.4-.1 1.4-.1 1.4-.1 1.4-.1 1.4-.1 1.4-.1 1.4-.1 1.4-.1 1.4-.1 1.4-.1 1.4 0 1.4 0 1.4 .1 1.4 0 1.4 .1 1.4 .1 1.4 .1 1.4 .1 1.4 .1 1.4 .2 1.4 .1 1.4 0 1.4 .1 1.4 0 1.4-.1 1.4 0 1.4-.1 1.4-.1 1.4-.3 1.4-.3 1.4-.3 1.4-.4 1.4-.4 1.4-.5 1.4-.5 1.4-.4 1.4-.5 1.4-.4 1.4-.5 1.4-.4 1.4-.4 1.4-.3 1.4-.3 1.4-.2 1.4-.2 1.4-.1 1.4-.1 1.4-.1 1.4-.1 1.4-.1 1.4 0 1.4-.1 1.4 .1" fill="none" stroke="#ff00ff" stroke-width="4.4" stroke-linejoin="round"/>
</g>
<g clip-path="url(#c42)">
<path d="M912 1047.7H1196.3V1205.2H912Z" fill="#0f0" fill-opacity="0.105"/>
<path d="M912 1055H1196.3" stroke="#f00" stroke-opacity="0.74" stroke-width="4" stroke-dasharray="15.4 14.93" fill="none"/>
</g>
<path d="M989.8 1047.7v3.2M989.8 1205.2v-3.2M1067.7 1047.7v3.2M1067.7 1205.2v-3.2M1145.5 1047.7v3.2M1145.5 1205.2v-3.2M1196.3 1099.1h-3.4M1196.3 1046.9V1206.1" stroke="#000" stroke-width="1.7" fill="none"/>
<path d="M912 1046.9V1206.1M912 1100.9h3.6M912 1205.2h3.6" stroke="#f00" stroke-width="1.8" fill="none"/>
<text x="1208.5" y="1107.2" class="t">1</text>
<text x="1208.5" y="1213" class="t">0</text>
<text x="899.7" y="1108.6" class="t r" text-anchor="end">1</text>
<text x="899.7" y="1212.9" class="t r" text-anchor="end">0</text>
<text x="911.7" y="1236.6" class="t" text-anchor="middle">0</text>
<text x="989.8" y="1236.6" class="t" text-anchor="middle">100</text>
<text x="1067.7" y="1236.6" class="t" text-anchor="middle">200</text>
<text x="1145.5" y="1236.6" class="t" text-anchor="middle">300</text>
<text x="909.6" y="1037.7" class="x r">×</text>
<text x="931.9" y="1035" class="t r">10</text>
<text x="959.6" y="1022.4" class="s r">−4</text>
<text x="1198.4" y="1037.7" class="x">×</text>
<text x="1220.7" y="1035" class="t">10</text>
<text x="1248.4" y="1022.4" class="s">−4</text>
<text x="1054.2" y="1033.8" class="h" text-anchor="middle">Umbria</text>
</g>
<g id="p43">
<path d="M1351.3 1047.7H1633.7M1351.3 1205.2H1633.7" stroke="#000" stroke-width="1.7" fill="none"/>
<path d="M1428.6 1047.7V1205.2M1505.9 1047.7V1205.2M1583.3 1047.7V1205.2" stroke="#000" stroke-opacity="0.22" stroke-width="1.4" fill="none"/>
<path d="M1351.3 1100.9H1633.7" stroke="#f00" stroke-opacity="0.22" stroke-width="1.4" fill="none"/>
<g clip-path="url(#c43b)">
<path d="M1351.4 1180l2.5 3.3 2.4 3 2.5 2.4 2.5 1.7 2.5 .5 2.5-.9 2.5-3.1 2.4-6.1 2.5-9 2.5-8.3 2.5-5.7 2.5-1.9 2.4 1.3 2.5 4.2 2.5 5 2.5 5.6 2.5 5.7 2.5 4.8 2.4 3.3 2.5 2.6 2.5 1.6 2.5 .5 2.5-1.6 2.5-3.4 2.4-5.7 2.5-8.4 2.5-6.4 2.5-4.8 2.5-1.7 2.4 .5 2.5 2.7 2.5 3.9 2.5 4.5 2.5 4.9 2.5 4 2.4 3.5 2.5 2.8 2.5 1.8 2.5 .8 2.5-.5 2.4-2.5 2.5-4 2.5-6.5 2.5-5.5 2.5-4.3 2.5-1.8 2.4-.4 2.5 1.2 2.5 2.1 2.5 3.3 2.5 3.9 2.4 3 2.5 2.6 2.5 1.9 2.5 .9 2.5-.2 2.5-1.4 2.4-3.2 2.5-3.6 2.5-3.3 2.5-2.6 2.5-1.4 2.4-.6 2.5 .4 2.5 1.2 2.5 1.8 2.5 2.7 2.5 2.1 2.4 1.7 2.5 1.2 2.5 .3 2.5-.4 2.5-.8 2.5-1.1 2.4-1.4 2.5-1.2 2.5-.8 2.5-.4 2.5-.1 2.4 .5 2.5 .7 2.5 .7 2.5 .7 2.5 .6 2.5 .5 2.4 .1 2.5-.1 2.5-.2 2.5-.3 2.5-.4 2.4-.1 2.5 0 2.5 0 2.5 .1 2.5 .3 2.5 .1 2.4 0 2.5-.2 2.5-.3 2.5-.4 2.5-.5 2.4-.3 2.5-.2 2.5 0 2.5 .1 2.5 .2 2.5 .4 2.4 .4 2.5 .6 2.5 .5 2.5 .3 2.5 .3 2.5 .3 2.4 .1 0 17.9-2.4-.2-2.5-.2-2.5-.3-2.5-.3-2.5-.3-2.5-.4-2.4-.4-2.5-.3-2.5-.2-2.5-.1-2.5 .1-2.5 .1-2.4 .3-2.5 .3-2.5 .3-2.5 .2-2.5 .2-2.4 0-2.5-.1-2.5-.2-2.5-.1-2.5 0-2.5 0-2.4 .1-2.5 .3-2.5 .3-2.5 .1-2.5 .1-2.4-.1-2.5-.3-2.5-.5-2.5-.5-2.5-.5-2.5-.4-2.4-.4-2.5 .1-2.5 .4-2.5 .5-2.5 .8-2.4 .9-2.5 .6-2.5 .4-2.5 0-2.5-.6-2.5-1.2-2.4-1.4-2.5-1.5-2.5-1.4-2.5-1-2.5-.5-2.5 .1-2.4 .9-2.5 1.4-2.5 2.2-2.5 2.2-2.5 2-2.4 1.3-2.5 .4-2.5-.4-2.5-.9-2.5-1.7-2.5-2-2.4-2.5-2.5-2.6-2.5-2.1-2.5-1.6-2.5-.4-2.4 .9-2.5 1.8-2.5 2.8-2.5 4-2.5 3.8-2.5 1.5-2.4 .6-2.5-.4-2.5-.9-2.5-1.4-2.5-2.4-2.4-2.9-2.5-3.4-2.5-3.8-2.5-3.1-2.5-2.4-2.5-1.3-2.4 .7-2.5 2.1-2.5 3.9-2.5 4.8-2.5 6.4-2.4 3.3-2.5 .7-2.5-.4-2.5-1.1-2.5-1.7-2.5-2.1-2.4-2.8-2.5-4.4-2.5-5.1-2.5-5.1-2.5-5.3-2.5-2.5-2.4 1-2.5 4.4-2.5 6.3-2.5 7.6-2.5 5.4-2.4 3.4-2.5 1.4-2.5 .1-2.5-.9-2.5-1.9-2.5-2.8-2.4-3.3-2.5-3.6z" fill="#ff0000" fill-opacity="0.2"/>
<path d="M1351.4 1181.7l1.4 1.5 1.4 1.6 1.4 1.7 1.4 1.8 1.4 1.6 1.3 1.5 1.4 1.1 1.4 .7 1.4 .1 1.4-.2 1.4-1 1.4-1.8 1.4-2.3 1.4-3.6 1.4-4.1 1.4-4.6 1.4-4.7 1.4-3.9 1.4-3.4 1.4-2.3 1.4-1.3 1.3-.3 1.4 .7 1.4 1.6 1.4 2.6 1.4 3.2 1.4 3 1.4 3.2 1.4 3 1.4 2.8 1.4 2.7 1.4 2.4 1.4 2.1 1.4 1.9 1.4 1.6 1.4 1.1 1.4 .7 1.3 .5 1.4 .2 1.4-.2 1.4-.8 1.4-1.1 1.4-1.9 1.4-2.9 1.4-3.2 1.4-3.4 1.4-3.7 1.4-3 1.4-2.7 1.4-1.8 1.4-.9 1.4-.6 1.4-.1 1.3 .4 1.4 .9 1.4 1.4 1.4 1.9 1.4 2 1.4 2.2 1.4 2.4 1.4 2.2 1.4 2 1.4 2 1.4 1.8 1.4 1.7 1.4 1.5 1.4 1.1 1.4 .8 1.4 .7 1.4 .4 1.3 0 1.4-.5 1.4-.8 1.4-1.6 1.4-2.2 1.4-2.6 1.4-2.9 1.4-2.7 1.4-2.3 1.4-1.9 1.4-1.1 1.4-.8 1.4-.4 1.4 0 1.4 .3 1.4 .6 1.3 1 1.4 1.3 1.4 1.4 1.4 1.6 1.4 1.8 1.4 1.6 1.4 1.6 1.4 1.4 1.4 1.2 1.4 1 1.4 .9 1.4 .6 1.4 .2 1.4-.1 1.4-.4 1.4-.8 1.3-1.3 1.4-1.4 1.4-1.4 1.4-1.5 1.4-1.4 1.4-1.1 1.4-1 1.4-.8 1.4-.5 1.4-.2 1.4-.1 1.4 .1 1.4 .4 1.4 .6 1.4 .7 1.4 .8 1.4 1 1.3 .9 1.4 .8 1.4 .8 1.4 .8 1.4 .6 1.4 .5 1.4 .3 1.4 .1 1.4 0 1.4-.2 1.4-.5 1.4-.5 1.4-.5 1.4-.6 1.4-.7 1.4-.7 1.3-.4 1.4-.4 1.4-.3 1.4-.2 1.4 0 1.4 .1 1.4 .1 1.4 .2 1.4 .3 1.4 .3 1.4 .4 1.4 .3 1.4 .3 1.4 .3 1.4 .2 1.4 .1 1.3 .1 1.4 0 1.4 0 1.4-.1 1.4 0 1.4-.1 1.4-.1 1.4-.1 1.4-.1 1.4-.1 1.4-.1 1.4-.1 1.4 0 1.4 0 1.4 0 1.4 .1 1.3 .1 1.4 .1 1.4 .1 1.4 0 1.4 0 1.4 0 1.4 0 1.4-.1 1.4-.2 1.4-.1 1.4-.2 1.4-.2 1.4-.2 1.4-.2 1.4-.1 1.4-.1 1.4 0 1.3 0 1.4 0 1.4 .1 1.4 .1 1.4 .2 1.4 .1 1.4 .2 1.4 .2 1.4 .2 1.4 .2 1.4 .2 1.4 .2 1.4 .1 1.4 .2 1.4 .2 1.4 .1 1.3 .2 1.4 .1 1.4 0" fill="none" stroke="#ff0000" stroke-width="4.4" stroke-linejoin="round"/>
<path d="M1351.4 1189.3l2.5 4.2 2.4 3.2 2.5 1.7 2.5-.3 2.5-3.7 2.5-6.5 2.5-10.7 2.4-15.7 2.5-18.4 2.5-7.9 2.5 5.1 2.5 13.8 2.4 14.2 2.5 11.7 2.5 7.8 2.5 5.6 2.5 4 2.5 1.3 2.4-.7 2.5-2 2.5-3.7 2.5-7 2.5-9.5 2.5-12.5 2.4-12.7 2.5-5.3 2.5 3.1 2.5 7.6 2.5 11.4 2.4 10.3 2.5 7 2.5 5.2 2.5 3 2.5 1.8 2.5 .1 2.4-2.3 2.5-4.3 2.5-6.4 2.5-9 2.5-8.1 2.4-7.1 2.5-3.8 2.5-.4 2.5 2.7 2.5 4.7 2.5 6.8 2.4 6.5 2.5 5.8 2.5 5.1 2.5 3.4 2.5 1.6 2.4-.1 2.5-2.3 2.5-4.7 2.5-6.4 2.5-8.3 2.5-5.6 2.4-3.4 2.5-.4 2.5 1.7 2.5 4 2.5 5 2.4 4.8 2.5 4.8 2.5 4.2 2.5 2.6 2.5 1 2.5-1.2 2.4-3.3 2.5-4.2 2.5-3.9 2.5-3.9 2.5-3.3 2.5-2.1 2.4-.9 2.5 .7 2.5 1.6 2.5 1.7 2.5 2 2.4 2 2.5 1.4 2.5 1 2.5 .3 2.5-.6 2.5-1.3 2.4-1.4 2.5-1.4 2.5-1.4 2.5-1 2.5-.2 2.4 .4 2.5 .7 2.5 1 2.5 1 2.5 .7 2.5 .2 2.4-.1 2.5-.5 2.5-1 2.5-1 2.5-.8 2.4-.8 2.5-.5 2.5 .1 2.5 .5 2.5 .7 2.5 1 2.4 1.2 2.5 1 2.5 .7 2.5 .7 2.5 .3 2.5-.2 2.4-.4 0 33.4-2.4 .4-2.5 .1-2.5-.1-2.5-.3-2.5-.4-2.5-.6-2.4-.7-2.5-.5-2.5-.5-2.5-.3-2.5-.1-2.5 .3-2.4 .3-2.5 .5-2.5 .5-2.5 .5-2.5 .3-2.4 .1-2.5-.1-2.5-.4-2.5-.6-2.5-.5-2.5-.3-2.4-.1-2.5 0-2.5 .4-2.5 .5-2.5 .5-2.4 .7-2.5 .7-2.5 .3-2.5-.2-2.5-.5-2.5-.7-2.4-1.2-2.5-1.1-2.5-1-2.5-.8-2.5-.3-2.4 .2-2.5 .6-2.5 1.3-2.5 1.7-2.5 2.4-2.5 1.5-2.4 .4-2.5 0-2.5-.4-2.5-.9-2.5-1.6-2.5-2.6-2.4-2.6-2.5-2.1-2.5-1.6-2.5-.4-2.5 .9-2.4 2.1-2.5 2.8-2.5 2.7-2.5 2.5-2.5 1.4-2.5 .6-2.4 0-2.5-.6-2.5-.9-2.5-2.2-2.5-3.2-2.4-4.4-2.5-3.9-2.5-2.8-2.5-1.3-2.5 .6-2.5 2.3-2.4 3.6-2.5 3.5-2.5 3.6-2.5 2.3-2.5 1.1-2.4 .2-2.5-.8-2.5-2.1-2.5-3.2-2.5-4.7-2.5-5-2.4-5.4-2.5-4.1-2.5-1.6-2.5 1.3-2.5 4.3-2.4 5.5-2.5 6.3-2.5 4-2.5 2.6-2.5 1.3-2.5 .4-2.4-.4-2.5-1.3-2.5-3.4-2.5-4.8-2.5-6.5-2.5-8.6-2.4-9.5-2.5-4.6-2.5 2-2.5 6.6-2.5 8.3-2.4 9.8-2.5 5.6-2.5 3.6-2.5 1.5-2.5-.7-2.5-2.6-2.4-3.9-2.5-4.5z" fill="#0000ff" fill-opacity="0.2"/>
<path d="M1351.4 1191l1.4 2.8 1.4 2.3 1.4 1.9 1.4 1.6 1.4 .9 1.3 .5 1.4-.1 1.4-1.1 1.4-1.9 1.4-2.5 1.4-4.1 1.4-4.8 1.4-6.1 1.4-6.7 1.4-7.1 1.4-6.9 1.4-5.2 1.4-2.8 1.4-.7 1.4 2 1.4 4.8 1.3 6.8 1.4 7.8 1.4 6.6 1.4 5.4 1.4 4.4 1.4 3.7 1.4 3.3 1.4 2.2 1.4 1.7 1.4 1.2 1.4 .5 1.4 .2 1.4-.1 1.4-.7 1.4-1.1 1.4-1.6 1.3-2.4 1.4-3.1 1.4-3.9 1.4-4.5 1.4-4.5 1.4-4.8 1.4-4.2 1.4-3.7 1.4-2.3 1.4-1 1.4 .3 1.4 1.6 1.4 2.6 1.4 3.9 1.4 4 1.4 4.3 1.3 4.1 1.4 3.5 1.4 3 1.4 2.5 1.4 2.2 1.4 1.5 1.4 1 1.4 .6 1.4 .1 1.4-.5 1.4-.8 1.4-1.3 1.4-1.9 1.4-2.3 1.4-2.8 1.4-2.9 1.4-2.9 1.3-2.8 1.4-2.6 1.4-2.3 1.4-1.8 1.4-1.1 1.4-.7 1.4-.2 1.4 .5 1.4 1 1.4 2.1 1.4 2.4 1.4 2.5 1.4 2.5 1.4 2.6 1.4 2.4 1.4 2.4 1.3 2.1 1.4 1.6 1.4 1.3 1.4 .9 1.4 .5 1.4 .2 1.4-.3 1.4-1 1.4-1.5 1.4-1.9 1.4-2.2 1.4-2.4 1.4-2.2 1.4-2.2 1.4-2 1.4-1.5 1.3-1.1 1.4-.8 1.4-.3 1.4 .2 1.4 .4 1.4 .7 1.4 1.2 1.4 1.4 1.4 1.5 1.4 1.7 1.4 1.8 1.4 1.6 1.4 1.4 1.4 1.3 1.4 .9 1.4 .7 1.4 .4 1.3 0 1.4-.3 1.4-.8 1.4-.9 1.4-1.1 1.4-1.3 1.4-1.4 1.4-1.1 1.4-1.1 1.4-.9 1.4-.6 1.4-.4 1.4-.3 1.4 0 1.4 .2 1.4 .3 1.3 .4 1.4 .5 1.4 .7 1.4 .7 1.4 .5 1.4 .6 1.4 .5 1.4 .4 1.4 .2 1.4 .2 1.4 .1 1.4 0 1.4-.1 1.4-.3 1.4-.2 1.4-.3 1.3-.3 1.4-.4 1.4-.3 1.4-.3 1.4-.2 1.4-.1 1.4-.1 1.4-.1 1.4 .1 1.4 .1 1.4 .1 1.4 .2 1.4 .2 1.4 .3 1.4 .2 1.4 .2 1.3 .2 1.4 .1 1.4 .1 1.4-.1 1.4-.1 1.4-.2 1.4-.2 1.4-.2 1.4-.3 1.4-.2 1.4-.2 1.4-.2 1.4-.3 1.4-.1 1.4 0 1.4 0 1.4 .2 1.3 .1 1.4 .2 1.4 .2 1.4 .3 1.4 .2 1.4 .4 1.4 .3 1.4 .4 1.4 .2 1.4 .2 1.4 .1 1.4 .1 1.4 .1 1.4 0 1.4 0 1.4-.1 1.3-.1 1.4-.2 1.4-.2" fill="none" stroke="#0000ff" stroke-width="4.4" stroke-linejoin="round"/>
<path d="M1351.4 1144.8l2.5-.6 2.4-.3 2.5 .2 2.5 1.2 2.5 1.6 2.5 .2 2.5-3.6 2.4-7.5 2.5-14.1 2.5-17.9 2.5-17.9 2.5-16.2 2.4-8.9 2.5-1 2.5 3.6 2.5 7.2 2.5 8.5 2.5 8.4 2.4 7.2 2.5 5.5 2.5 3.9 2.5 2.6 2.5-1 2.5-5.2 2.4-10.4 2.5-12.6 2.5-12 2.5-10.1 2.5-5.9 2.4-1.6 2.5 1.5 2.5 4.4 2.5 7.3 2.5 8.9 2.5 8.4 2.4 7.4 2.5 5.9 2.5 4.2 2.5 2.1 2.5-1 2.4-5 2.5-8.1 2.5-10.1 2.5-9.1 2.5-7.3 2.5-4.3 2.4 .2 2.5 2.8 2.5 5.1 2.5 6.7 2.5 6.9 2.4 6.2 2.5 4.5 2.5 2.8 2.5 .6 2.5-1.6 2.5-4 2.4-6.9 2.5-7.6 2.5-6.6 2.5-4.6 2.5-2.5 2.4 .5 2.5 2.3 2.5 4.1 2.5 5 2.5 4.8 2.5 4.3 2.4 2.9 2.5 2 2.5 .6 2.5-1.4 2.5-3.1 2.5-4.1 2.4-3.7 2.5-3.1 2.5-1.7 2.5-.7 2.5 .5 2.4 1.5 2.5 2.4 2.5 2.6 2.5 2.3 2.5 1.9 2.5 1.3 2.4 .6 2.5-.3 2.5-1 2.5-1.3 2.5-1.8 2.4-1.6 2.5-1.6 2.5-.9 2.5-.3 2.5 .2 2.5 .7 2.4 1.1 2.5 1.2 2.5 1.3 2.5 1 2.5 .7 2.4-.1 2.5-.6 2.5-1 2.5-1.4 2.5-1.1 2.5-.8 2.4-.3 2.5 .2 2.5 .7 2.5 1 2.5 1.1 2.5 1.1 2.4 1.2 0 55.7-2.4-.5-2.5-.7-2.5-.8-2.5-.9-2.5-1.2-2.5-1.2-2.4-1-2.5-.7-2.5-.5-2.5-.2-2.5 0-2.5 .3-2.4 .5-2.5 1-2.5 1.1-2.5 1.3-2.5 1.2-2.4 1.1-2.5 .6-2.5 .3-2.5-.1-2.5-.4-2.5-.5-2.4-.8-2.5-.9-2.5-1.2-2.5-1.3-2.5-1.4-2.4-1.2-2.5-.6-2.5-.1-2.5 .5-2.5 1.2-2.5 1.7-2.4 2.2-2.5 2-2.5 1.8-2.5 1.1-2.5 .3-2.4-.1-2.5-.9-2.5-1.5-2.5-2.2-2.5-2.8-2.5-3.2-2.4-3.4-2.5-2.9-2.5-2.1-2.5-.8-2.5 .6-2.5 1.8-2.4 2.9-2.5 3.9-2.5 4.6-2.5 4.2-2.5 3-2.4 .6-2.5-.7-2.5-1.8-2.5-2.7-2.5-4.1-2.5-4.7-2.4-5-2.5-5.4-2.5-3.5-2.5-.7-2.5 2-2.4 4.4-2.5 6.5-2.5 7-2.5 6.7-2.5 5-2.5 1.4-2.4-.1-2.5-1.2-2.5-2.1-2.5-3.7-2.5-4.6-2.4-5.8-2.5-7.3-2.5-7.5-2.5-6.3-2.5-3.2-2.5 0-2.4 2.6-2.5 6.6-2.5 9.3-2.5 10.3-2.5 8.9-2.4 3.9-2.5 .6-2.5-1.2-2.5-3.3-2.5-4.5-2.5-6.1-2.4-7-2.5-7.6-2.5-7.8-2.5-4.8-2.5-1.9-2.5 2.3-2.4 7.5-2.5 11.7-2.5 13.1-2.5 11.9-2.5 8.5-2.4 3-2.5 1.3-2.5-1-2.5-2.2-2.5-1.9-2.5-.7-2.4 .3-2.5 .9z" fill="#ff00ff" fill-opacity="0.2"/>
<path d="M1351.4 1147.1l1.4-1 1.4-.7 1.4-.1 1.4 .3 1.4 .6 1.3 1.1 1.4 1.2 1.4 .9 1.4 .7 1.4 .4 1.4-.5 1.4-1.2 1.4-1.9 1.4-3.9 1.4-5 1.4-6.3 1.4-7.5 1.4-7.9 1.4-8.5 1.4-8.4 1.4-8.7 1.3-6.6 1.4-4.4 1.4-2 1.4-.9 1.4 .3 1.4 1.6 1.4 2.4 1.4 3.5 1.4 3.9 1.4 4.4 1.4 4.7 1.4 4.5 1.4 4.3 1.4 4 1.4 3.5 1.4 3.1 1.3 2.3 1.4 1.7 1.4 .6 1.4-.3 1.4-1.1 1.4-2.7 1.4-4.1 1.4-5.6 1.4-5.6 1.4-5.6 1.4-5.4 1.4-5.2 1.4-4.6 1.4-3.7 1.4-2.6 1.4-1.1 1.3-.4 1.4 .7 1.4 1.3 1.4 2.7 1.4 3.6 1.4 3.8 1.4 4.3 1.4 4.2 1.4 4.1 1.4 3.8 1.4 3.3 1.4 3.1 1.4 2.5 1.4 2.3 1.4 1.6 1.4 .7 1.4 .2 1.3-.3 1.4-1 1.4-1.4 1.4-2.4 1.4-3.2 1.4-3.6 1.4-4.4 1.4-4.2 1.4-3.8 1.4-3.5 1.4-2.5 1.4-2.1 1.4-1.4 1.4-.7 1.4-.3 1.4 .4 1.3 1 1.4 1.8 1.4 2.5 1.4 2.6 1.4 3.1 1.4 2.9 1.4 3 1.4 2.7 1.4 2.3 1.4 2.1 1.4 1.5 1.4 1 1.4 .5 1.4-.1 1.4-.7 1.4-1.2 1.3-2 1.4-2.3 1.4-2.6 1.4-2.7 1.4-2.4 1.4-2.2 1.4-1.8 1.4-1.5 1.4-1 1.4-.5 1.4-.1 1.4 .1 1.4 .5 1.4 .8 1.4 1.1 1.4 1.5 1.4 1.7 1.3 1.6 1.4 1.8 1.4 1.7 1.4 1.5 1.4 1.4 1.4 1.2 1.4 .9 1.4 .6 1.4 .3 1.4-.1 1.4-.3 1.4-.6 1.4-.8 1.4-1.1 1.4-1.2 1.4-1.1 1.3-1.1 1.4-1 1.4-.7 1.4-.6 1.4-.4 1.4-.3 1.4-.1 1.4 0 1.4 .1 1.4 .3 1.4 .5 1.4 .5 1.4 .5 1.4 .6 1.4 .6 1.4 .5 1.3 .5 1.4 .4 1.4 .3 1.4 .3 1.4 .1 1.4 .2 1.4 0 1.4 0 1.4-.2 1.4-.1 1.4-.2 1.4-.1 1.4-.1 1.4-.1 1.4-.1 1.4 0 1.3 0 1.4 0 1.4 0 1.4 .1 1.4 .1 1.4 .1 1.4 .1 1.4 0 1.4 0 1.4 0 1.4-.1 1.4-.1 1.4-.2 1.4-.3 1.4-.2 1.4-.2 1.4-.3 1.3-.2 1.4-.1 1.4-.2 1.4 0 1.4-.1 1.4 .1 1.4 .1 1.4 .1 1.4 .1 1.4 .3 1.4 .4 1.4 .3 1.4 .4 1.4 .5 1.4 .4 1.4 .5 1.3 .5 1.4 .4 1.4 .5" fill="none" stroke="#ff00ff" stroke-width="4.4" stroke-linejoin="round"/>
</g>
<g clip-path="url(#c43)">
<path d="M1351.3 1047.7H1358.9V1205.2H1351.3ZM1375.3 1047.7H1396.7V1205.2H1375.3ZM1416.1 1047.7H1437.1V1205.2H1416.1ZM1457.9 1047.7H1479V1205.2H1457.9ZM1498.7 1047.7H1519.7V1205.2H1498.7ZM1540.8 1047.7H1561V1205.2H1540.8ZM1583 1047.7H1603.2V1205.2H1583ZM1623.4 1047.7H1633.7V1205.2H1623.4Z" fill="#f00" fill-opacity="0.105"/>
<path d="M1358.9 1047.7H1375.3V1205.2H1358.9ZM1396.7 1047.7H1416.1V1205.2H1396.7ZM1437.1 1047.7H1457.9V1205.2H1437.1ZM1479 1047.7H1498.7V1205.2H1479ZM1519.7 1047.7H1540.8V1205.2H1519.7ZM1561 1047.7H1583V1205.2H1561ZM1603.2 1047.7H1623.4V1205.2H1603.2Z" fill="#0f0" fill-opacity="0.105"/>
<path d="M1351.3 1055H1633.7" stroke="#f00" stroke-opacity="0.74" stroke-width="4" stroke-dasharray="15.4 14.93" fill="none"/>
</g>
<path d="M1428.6 1047.7v3.2M1428.6 1205.2v-3.2M1505.9 1047.7v3.2M1505.9 1205.2v-3.2M1583.3 1047.7v3.2M1583.3 1205.2v-3.2M1633.7 1121.6h-3.4M1633.7 1046.9V1206.1" stroke="#000" stroke-width="1.7" fill="none"/>
<path d="M1351.3 1046.9V1206.1M1351.3 1100.9h3.6M1351.3 1205.2h3.6" stroke="#f00" stroke-width="1.8" fill="none"/>
<text x="1645.9" y="1129.7" class="t">2</text>
<text x="1645.9" y="1213" class="t">0</text>
<text x="1339" y="1108.6" class="t r" text-anchor="end">1</text>
<text x="1339" y="1212.9" class="t r" text-anchor="end">0</text>
<text x="1351" y="1236.6" class="t" text-anchor="middle">0</text>
<text x="1428.6" y="1236.6" class="t" text-anchor="middle">100</text>
<text x="1505.9" y="1236.6" class="t" text-anchor="middle">200</text>
<text x="1583.3" y="1236.6" class="t" text-anchor="middle">300</text>
<text x="1348.9" y="1037.7" class="x r">×</text>
<text x="1371.2" y="1035" class="t r">10</text>
<text x="1398.9" y="1022.4" class="s r">−4</text>
<text x="1638.6" y="1037.7" class="x">×</text>
<text x="1660.9" y="1035" class="t">10</text>
<text x="1688.6" y="1022.4" class="s">−3</text>
<text x="1492.5" y="1033.8" class="h" text-anchor="middle">Veneto</text>
</g>
<g id="italy">
<path d="M340.7 1362.3H1350.6V2010.9H340.7" stroke="#000" stroke-width="2.0" fill="none"/>
<path d="M478.9 1362.3V2010.9M617.2 1362.3V2010.9M755.4 1362.3V2010.9M893.7 1362.3V2010.9M1031.9 1362.3V2010.9M1170.2 1362.3V2010.9M1308.4 1362.3V2010.9" stroke="#000" stroke-opacity="0.17" stroke-width="2" fill="none"/>
<path d="M340.7 1796.2H1350.6M340.7 1581.5H1350.6M340.7 1366.8H1350.6" stroke="#f00" stroke-opacity="0.17" stroke-width="2" fill="none"/>
<g clip-path="url(#cb)">
<path d="M341.5 1873.6l3 2.8 3 2.9 3 3.1 3 3.2 3 3.1 3 3.1 2.9 2.9 3 2.6 3 2.3 3 2.4 3 2.3 3 2.3 3 2 3 1.6 3 1.2 3 .7 3 0 3-.6 3-1 3-1.2 3-1.2 3-.9 3-.5 3 0 3 .2 3 .3 3 .3 2.9 .3 3 .4 3 .3 3 .4 3 .4 3 .4 3 .4 3 .5 3 .3 3 .4 3 .3 3 .1 3 .1 3 0 3 0 3-.1 3-.4 3-.7 3-1 3-1.1 3-1.7 2.9-2.2 3-2.6 3-2.7 3-3 3-3.3 3-3.4 3-3.3 3-3.4 3-3.5 3-3.4 3-2.8 3-2.5 3-2.1 3-1.5 3-.6 3-.4 3-.2 3 .1 3 .4 3 .5 3 .5 3 .6 2.9 .8 3 .8 3 1 3 1 3 1 3 1 3 1.2 3 1.1 3 1.2 3 1.3 3 1.3 3 1.4 3 1.3 3 1.3 3 1.3 3 1.4 3 1.4 3 1.5 3 1.6 3 1.5 3 1.4 2.9 1.5 3 1.4 3 1.4 3 1.3 3 1.3 3 1.3 3 1.3 3 1 3 1 3 .9 3 .8 3 .7 3 .6 3 .6 3 .5 3 .3 3 .1 3 .1 3 .1 3 .1 3 .1 2.9-.1 3-.4 3-1 3-1.4 3-1.5 3-1.7 3-2 3-2.1 3-2.1 3-2.1 3-2.1 3-2.1 3-1.8 3-1.6 3-1.5 3-1.3 3-1 3-.6 3-.6 3-.5 3-.2 2.9 0 3 .1 3 .3 3 .5 3 .5 3 .7 3 .8 3 1 3 1 3 1 3 1.1 3 1.2 3 1.1 3 1.2 3 1.1 3 1.2 3 1.1 3 1.1 3 1 3 1 3 .9 2.9 .8 3 .7 3 .6 3 .6 3 .4 3 .5 3 .4 3 .3 3 .3 3 .2 3 .2 3 .2 3 0 3 0 3-.1 3-.2 3-.2 3-.3 3-.5 3-.4 3-.5 2.9-.6 3-.7 3-.8 3-.8 3-1 3-1 3-1.2 3-1.1 3-1.2 3-1.3 3-1.2 3-1.3 3-1.3 3-1.2 3-1.3 3-1.2 3-1.2 3-1.1 3-1.1 3-1 3-.9 2.9-.8 3-.8 3-.6 3-.5 3-.5 3-.4 3-.3 3-.2 3-.2 3-.2 3-.1 3 0 3-.1 3 0 3 .1 3 0 3 .1 3 .2 3 .2 3 .2 3 .3 2.9 .3 3 .4 3 .4 3 .4 3 .4 3 .4 3 .4 3 .5 3 .5 3 .5 3 .5 3 .6 3 .5 3 .6 3 .6 3 .7 3 .7 3 .8 3 .7 3 .6 3 .5 2.9 .5 3 .5 3 .4 3 .3 3 .3 3 .2 3 .3 3 .2 3 .2 3 .1 3 .2 3 .1 3 0 3 .1 3 0 3 0 3-.1 3 0 3-.1 3-.1 3-.1 2.9 0 3-.1 3-.1 3-.1 3 0 3 0 3 .1 3 0 3 .1 3 .2 3 .1 3 .2 3 .1 3 .2 3 .1 3 .2 3 .1 3 .2 3 .1 3 .2 3 .1 3 .2 2.9 .1 3 .1 3 .1 3 0 3 0 3 0 3 0 3-.1 3-.1 3-.1 3-.2 3-.1 3-.2 3-.1 3-.2 3-.2 3-.3 3-.2 3-.2 3-.2 3-.2 2.9-.1 3-.2 3-.1 3-.2 3-.1 3-.2 3-.1 3-.2 3-.1 3-.2 3-.1 3-.2 3-.1 3-.1 3-.1 3 0 3-.1 3-.1 3-.1 3-.1 3 0 2.9 0 3 0 3 0 3 0 3 0 3 0 3 0 3 0 3 0 3 .1 3 .1 3 .1 3 0 3 .1 0 35.9-3-.1-3 0-3-.1-3-.1-3-.1-3 0-3-.1-3-.1-3 0-3 0-3 0-3 0-3 0-2.9 0-3 0-3 .1-3 .1-3 .1-3 0-3 .1-3 .1-3 .1-3 .1-3 .1-3 .2-3 .1-3 .2-3 .2-3 .2-3 .2-3 .2-3 .3-3 .2-3 .2-2.9 .1-3 .2-3 .1-3 .2-3 .1-3 .2-3 .1-3 .1-3 .1-3 .1-3 0-3 .1-3 .1-3 0-3 0-3 0-3-.1-3-.1-3-.1-3-.2-3-.1-2.9-.2-3-.1-3-.2-3-.1-3-.2-3-.1-3-.2-3-.1-3-.2-3-.1-3-.2-3-.1-3 0-3-.1-3-.1-3 0-3-.1-3-.1-3-.1-3 0-3 0-3 0-2.9-.1-3 0-3-.1-3-.1-3-.1-3 0-3-.1-3-.1-3-.1-3 0-3-.1-3-.1-3-.2-3-.2-3-.2-3-.2-3-.3-3-.3-3-.3-3-.3-3-.4-2.9-.4-3-.4-3-.5-3-.5-3-.5-3-.5-3-.6-3-.5-3-.5-3-.6-3-.5-3-.7-3-.6-3-.7-3-.6-3-.6-3-.5-3-.5-3-.4-3-.5-3-.4-2.9-.3-3-.3-3-.2-3-.2-3-.1-3-.1-3-.1-3 0-3 .1-3 .1-3 .1-3 .3-3 .4-3 .4-3 .4-3 .6-3 .6-3 .6-3 .7-3 .7-3 .8-2.9 .9-3 .8-3 .9-3 1-3 1-3 1-3 1-3 1-3 1.1-3 1.1-3 1-3 1-3 1-3 1-3 .9-3 .9-3 .8-3 .8-3 .7-3 .7-3 .6-2.9 .5-3 .4-3 .4-3 .3-3 .2-3 .1-3 .1-3 0-3-.1-3-.1-3-.2-3-.3-3-.4-3-.4-3-.5-3-.6-3-.6-3-.8-3-.7-3-.9-3-1-2.9-1-3-1-3-1.1-3-1.2-3-1.1-3-1.1-3-1.2-3-1.1-3-1.2-3-1.1-3-1.2-3-1.1-3-1-3-.9-3-.8-3-.6-3-.5-3-.3-3-.1-3-.1-3 0-2.9 .1-3 .2-3 .4-3 .4-3 .6-3 .7-3 1-3 1-3 1.1-3 1.2-3 1.3-3 1.3-3 1.2-3 1.4-3 1.4-3 1.2-3 1-3 .7-3 .7-3 .4-3 .1-2.9-.2-3-.2-3-.4-3-.4-3-.4-3-.5-3-.5-3-.6-3-.7-3-.8-3-.8-3-1-3-1-3-1.1-3-1.2-3-1.2-3-1.3-3-1.3-3-1.3-3-1.3-3-1.4-2.9-1.4-3-1.3-3-1.3-3-1.4-3-1.3-3-1.5-3-1.5-3-1.5-3-1.5-3-1.4-3-1.4-3-1.3-3-1.2-3-1.2-3-1.2-3-1.1-3-1.1-3-1-3-1-3-1-3-.9-2.9-.6-3-.5-3-.4-3-.3-3-.2-3 .1-3 .4-3 .6-3 .9-3 1.7-3 2.4-3 2.4-3 2.8-3 3-3 3.2-3 3.1-3 3.2-3 3.2-3 3.1-3 2.5-3 2.1-3 1.8-2.9 1.4-3 .9-3 .5-3 .4-3 .2-3-.2-3-.6-3-.8-3-.9-3-1-3-.9-3-.9-3-.8-3-.8-3-.8-3-.8-3-.7-3-.6-3-.6-3-.5-3-.4-2.9-.3-3-.2-3-.3-3-.1-3 0-3 .3-3 .7-3 .8-3 .8-3 .6-3 .4-3-.1-3-.7-3-1.2-3-1.7-3-2-3-2.2-3-2.4-3-2.4-3-2.4-3-2.6-2.9-3-3-3.1-3-3.3-3-3.3-3-3.1-3-3.1-3-2.7z" fill="#ff0000" fill-opacity="0.2"/>
<path d="M341.5 1874.9l1.6 1.4 1.6 1.4 1.6 1.4 1.6 1.4 1.6 1.5 1.6 1.6 1.6 1.6 1.6 1.6 1.6 1.7 1.6 1.7 1.6 1.7 1.6 1.7 1.6 1.7 1.6 1.7 1.6 1.7 1.6 1.5 1.6 1.6 1.6 1.4 1.6 1.4 1.6 1.4 1.6 1.2 1.6 1.3 1.6 1.1 1.6 .9 1.6 .8 1.6 .7 1.6 .6 1.6 .4 1.6 .4 1.6 .3 1.6 .1 1.6 0 1.6-.2 1.6-.3 1.6-.3 1.6-.4 1.6-.5 1.6-.5 1.6-.5 1.6-.3 1.6-.3 1.6-.2 1.6-.2 1.6-.2 1.6-.1 1.6-.1 1.6 0 1.6 .1 1.6 0 1.6 .1 1.6 .1 1.6 0 1.6 .2 1.6 .1 1.6 .1 1.6 .2 1.6 .3 1.6 .2 1.6 .2 1.6 .3 1.6 .3 1.6 .3 1.6 .3 1.6 .3 1.6 .3 1.6 .3 1.6 .4 1.6 .3 1.6 .3 1.6 .3 1.6 .3 1.6 .3 1.6 .2 1.6 .3 1.6 .2 1.6 .2 1.6 .2 1.6 .1 1.6 .1 1.6 .1 1.6 0 1.6-.1 1.6-.1 1.6-.2 1.6-.2 1.6-.3 1.6-.5 1.6-.5 1.6-.6 1.6-.7 1.6-.8 1.6-1 1.6-1 1.6-1.1 1.6-1.2 1.6-1.3 1.6-1.4 1.6-1.4 1.6-1.5 1.6-1.6 1.6-1.5 1.6-1.6 1.5-1.6 1.6-1.6 1.6-1.6 1.6-1.6 1.6-1.5 1.6-1.5 1.6-1.5 1.6-1.5 1.6-1.3 1.6-1.3 1.6-1.2 1.6-1.2 1.6-1 1.6-.8 1.6-.8 1.6-.7 1.6-.6 1.6-.4 1.6-.4 1.6-.3 1.6-.2 1.6 0 1.6 0 1.6 .1 1.6 .2 1.6 .2 1.6 .3 1.6 .3 1.6 .4 1.6 .4 1.6 .5 1.6 .5 1.6 .5 1.6 .5 1.6 .6 1.6 .5 1.6 .5 1.6 .6 1.6 .5 1.6 .5 1.6 .6 1.6 .5 1.6 .6 1.6 .6 1.6 .6 1.6 .7 1.6 .6 1.6 .7 1.6 .6 1.6 .7 1.6 .7 1.6 .7 1.6 .7 1.6 .8 1.6 .7 1.6 .8 1.6 .7 1.6 .8 1.6 .7 1.6 .8 1.6 .7 1.6 .8 1.6 .7 1.6 .8 1.6 .7 1.6 .8 1.6 .7 1.6 .7 1.6 .8 1.6 .8 1.6 .7 1.6 .7 1.6 .7 1.6 .7 1.6 .7 1.6 .7 1.6 .7 1.6 .7 1.6 .7 1.6 .6 1.6 .6 1.6 .6 1.6 .5 1.6 .6 1.6 .5 1.6 .6 1.6 .5 1.6 .4 1.6 .5 1.6 .4 1.6 .4 1.6 .3 1.6 .3 1.6 .3 1.6 .3 1.6 .2 1.6 .2 1.6 .2 1.6 .2 1.6 .2 1.6 .2 1.6 .1 1.6 .1 1.6 0 1.6 .1 1.6 0 1.6 .1 1.6 0 1.6 0 1.6-.1 1.6-.2 1.6-.3 1.6-.3 1.6-.4 1.6-.4 1.6-.5 1.6-.6 1.6-.5 1.6-.7 1.6-.7 1.6-.8 1.6-.7 1.6-.8 1.6-.9 1.6-.8 1.6-.8 1.6-.9 1.6-.8 1.6-.9 1.6-.8 1.6-.8 1.6-.8 1.6-.8 1.6-.6 1.6-.7 1.6-.6 1.6-.5 1.6-.6 1.6-.5 1.6-.4 1.6-.3 1.6-.4 1.6-.2 1.6-.2 1.6-.2 1.6-.1 1.6-.1 1.6-.1 1.6 0 1.6 0 1.6 0 1.6 0 1.6 .1 1.6 .2 1.6 .2 1.6 .2 1.6 .3 1.6 .3 1.6 .4 1.6 .3 1.6 .4 1.6 .5 1.6 .4 1.6 .5 1.6 .5 1.6 .5 1.6 .6 1.6 .6 1.6 .6 1.6 .5 1.6 .6 1.6 .6 1.6 .6 1.6 .6 1.6 .6 1.6 .6 1.6 .7 1.6 .6 1.6 .6 1.6 .6 1.6 .6 1.6 .6 1.6 .6 1.6 .5 1.6 .6 1.6 .5 1.6 .5 1.6 .5 1.6 .5 1.6 .4 1.6 .5 1.6 .4 1.6 .5 1.6 .4 1.6 .3 1.6 .4 1.6 .3 1.6 .2 1.6 .3 1.6 .2 1.6 .2 1.6 .2 1.6 .2 1.6 .2 1.6 .1 1.6 .1 1.6 .1 1.6 0 1.6 .1 1.6 0 1.6 0 1.6 0 1.6 0 1.6 0 1.6-.1 1.6 0 1.6-.1 1.6-.1 1.6-.1 1.6-.2 1.6-.2 1.6-.2 1.6-.3 1.6-.3 1.6-.3 1.6-.2 1.6-.4 1.6-.3 1.6-.3 1.6-.4 1.6-.5 1.6-.4 1.6-.5 1.6-.4 1.6-.5 1.6-.5 1.6-.5 1.6-.5 1.6-.6 1.6-.5 1.6-.6 1.6-.6 1.6-.5 1.6-.6 1.6-.7 1.6-.6 1.6-.7 1.6-.6 1.6-.6 1.6-.7 1.6-.6 1.6-.7 1.6-.6 1.6-.7 1.6-.6 1.6-.6 1.6-.6 1.6-.6 1.6-.6 1.6-.5 1.6-.6 1.6-.5 1.6-.5 1.6-.5 1.6-.5 1.6-.5 1.6-.5 1.6-.4 1.6-.4 1.6-.4 1.6-.3 1.6-.3 1.6-.3 1.6-.2 1.6-.3 1.6-.2 1.6-.2 1.6-.2 1.6-.2 1.6-.2 1.6-.2 1.6-.1 1.6-.1 1.6-.1 1.6 0 1.6-.1 1.6 0 1.6-.1 1.6-.1 1.6 0 1.6 0 1.6 .1 1.6 0 1.6 .1 1.6 0 1.6 .1 1.6 0 1.6 .1 1.6 .1 1.6 .2 1.6 .2 1.6 .1 1.6 .2 1.6 .3 1.6 .2 1.6 .2 1.6 .2 1.6 .2 1.6 .2 1.6 .3 1.6 .2 1.6 .3 1.6 .3 1.6 .2 1.6 .3 1.6 .3 1.6 .2 1.6 .3 1.6 .4 1.6 .3 1.5 .3 1.6 .3 1.6 .3 1.6 .2 1.6 .3 1.6 .3 1.6 .3 1.6 .3 1.6 .3 1.6 .2 1.6 .3 1.6 .3 1.6 .3 1.6 .3 1.6 .3 1.6 .3 1.6 .3 1.6 .4 1.6 .3 1.6 .3 1.6 .3 1.6 .2 1.6 .3 1.6 .3 1.6 .2 1.6 .2 1.6 .2 1.6 .2 1.6 .1 1.6 .2 1.6 .2 1.6 .1 1.6 .2 1.6 .1 1.6 .2 1.6 .1 1.6 .1 1.6 .1 1.6 .1 1.6 .1 1.6 .1 1.6 .1 1.6 .1 1.6 .1 1.6 0 1.6 .1 1.6 0 1.6 0 1.6 .1 1.6 0 1.6 0 1.6 0 1.6 0 1.6 0 1.6 0 1.6-.1 1.6 0 1.6-.1 1.6 0 1.6 0 1.6-.1 1.6 0 1.6-.1 1.6 0 1.6 0 1.6 0 1.6 0 1.6 0 1.6 0 1.6 0 1.6 0 1.6 0 1.6 0 1.6 0 1.6 0 1.6 0 1.6 0 1.6 .1 1.6 0 1.6 .1 1.6 0 1.6 .1 1.6 .1 1.6 .1 1.6 .1 1.6 0 1.6 .1 1.6 .1 1.6 .1 1.6 .1 1.6 .1 1.6 .1 1.6 .1 1.6 .1 1.6 .1 1.6 .1 1.6 .1 1.6 .1 1.6 .1 1.6 .1 1.6 0 1.6 .1 1.6 .1 1.6 .1 1.6 .1 1.6 0 1.6 .1 1.6 .1 1.6 .1 1.6 .1 1.6 0 1.6 .1 1.6 .1 1.6 0 1.6 0 1.6 0 1.6 0 1.6 0 1.6 0 1.6 0 1.6 0 1.6 0 1.6 0 1.6 0 1.6 0 1.6 0 1.6 0 1.6 0 1.6 0 1.6-.1 1.6 0 1.6-.1 1.6-.1 1.6-.1 1.6 0 1.6-.1 1.6-.1 1.6-.1 1.6-.1 1.6 0 1.6-.1 1.6-.1 1.6-.1 1.6-.1 1.6 0 1.6-.1 1.6-.1 1.6-.1 1.6-.1 1.6-.2 1.6-.1 1.6-.1 1.6-.1 1.6-.2 1.6-.1 1.6-.1 1.6-.1 1.6-.1 1.6-.1 1.6-.1 1.6 0 1.6-.1 1.6-.1 1.6-.1 1.6-.1 1.6 0 1.6-.1 1.6-.1 1.6-.1 1.6-.1 1.6 0 1.6-.1 1.6-.1 1.6-.1 1.6-.1 1.6-.1 1.6 0 1.6-.1 1.6 0 1.6-.1 1.6 0 1.6 0 1.6-.1 1.6 0 1.6-.1 1.6 0 1.6-.1 1.6 0 1.6 0 1.6 0 1.6 0 1.6 0 1.6 0 1.6 0 1.6 0 1.6 0 1.6 0 1.6 0 1.6 0 1.6 0 1.6 0 1.6 0 1.6 0 1.6 0 1.6 .1 1.6 0 1.6 0 1.6 .1 1.6 0" fill="none" stroke="#ff0000" stroke-width="5.8" stroke-linejoin="round"/>
<path d="M341.5 1937.4l3 4.7 3 4.2 3 4.1 3 3.5 3 2.8 3 2.2 2.9 1.9 3 1.4 3 .8 3 0 3-1.1 3-2.1 3-2.7 3-3.2 3-3.5 3-4.9 3-5.4 3-4.5 3-3.4 3-1.9 3 .3 3 .9 3 .8 3-.3 3-1.2 3-1.2 3-.4 2.9 .8 3 1.3 3 1.5 3 1.3 3 1.4 3 1.3 3 1.2 3 .8 3 .5 3 .2 3 0 3-.2 3-.7 3-1 3-1.3 3-1.4 3-1.8 3-2.2 3-2.5 3-2.8 3-3.1 2.9-3.5 3-3.8 3-3.7 3-4 3-4.2 3-3.7 3-3.1 3-2.5 3-1.6 3-.3 3 1 3 2.2 3 3.4 3 4.2 3 4.9 3 4.2 3 3.4 3 3.1 3 2.1 3 .8 3 .5 3 .4 2.9 .5 3 .6 3 .6 3 .7 3 .8 3 1.1 3 1.6 3 1.9 3 1.9 3 1.9 3 1.7 3 1.8 3 1.8 3 1.6 3 1.6 3 1.6 3 1.5 3 1.2 3 1.2 3 1.1 3 .9 2.9 .8 3 .8 3 .7 3 .6 3 .4 3 .1 3 0 3-.2 3-.3 3-.4 3-.6 3-.8 3-1 3-1.1 3-1.5 3-1.6 3-1.6 3-1.5 3-1.5 3-1.5 3-1.5 2.9-1.8 3-3.3 3-4.1 3-3.7 3-3.3 3-2.9 3-2.3 3-2.1 3-1.6 3-1.3 3-1.1 3-.6 3-.2 3 .1 3 .2 3 .5 3 .7 3 .9 3 1.1 3 1.2 3 1.2 2.9 1.3 3 1.3 3 1.4 3 1.3 3 1.4 3 1.3 3 1.4 3 1.3 3 1.3 3 1.2 3 1.2 3 1.1 3 1.1 3 1 3 .9 3 .7 3 .7 3 .5 3 .4 3 .2 3 .2 2.9 0 3-.1 3-.2 3-.3 3-.5 3-.6 3-.6 3-.8 3-.8 3-.9 3-.9 3-1 3-.9 3-1 3-1.1 3-1.1 3-1 3-.9 3-1 3-1 3-1 2.9-.9 3-1 3-.9 3-.8 3-.8 3-.7 3-.7 3-.6 3-.6 3-.4 3-.4 3-.3 3-.2 3-.1 3-.1 3-.1 3 .1 3 .1 3 .4 3 .4 3 .5 2.9 .5 3 .6 3 .6 3 .6 3 .6 3 .5 3 .5 3 .5 3 .5 3 .4 3 .4 3 .4 3 .3 3 .4 3 .4 3 .4 3 .4 3 .5 3 .5 3 .5 3 .5 2.9 .6 3 .5 3 .5 3 .5 3 .6 3 .5 3 .5 3 .5 3 .5 3 .5 3 .4 3 .4 3 .5 3 .6 3 .6 3 .6 3 .5 3 .4 3 .3 3 .3 3 .1 2.9 .1 3 0 3-.1 3-.1 3-.2 3-.2 3-.3 3-.3 3-.4 3-.3 3-.4 3-.5 3-.4 3-.5 3-.4 3-.3 3-.4 3-.3 3-.3 3-.2 3-.2 2.9-.2 3-.2 3-.2 3-.1 3 0 3-.1 3-.1 3-.1 3 0 3-.1 3-.1 3-.1 3 0 3-.1 3-.1 3-.1 3 0 3-.1 3-.2 3-.2 3-.1 3-.3 2.9-.2 3-.3 3-.3 3-.3 3-.3 3-.3 3-.3 3-.3 3-.3 3-.3 3-.3 3-.3 3-.3 3-.2 3-.2 3-.1 3-.2 3-.1 3-.2 3-.1 3-.1 2.9-.1 3 0 3-.1 3-.1 3 0 3 0 3 0 3 0 3 .1 3 .1 3 .1 3 .2 3 .1 3 .3 3 .2 3 .2 3 .2 3 .3 3 .2 3 .2 3 .2 2.9 .3 3 .2 3 .2 3 .3 3 .2 3 .2 3 .1 3 .2 3 .1 3 .2 3 .1 3 .1 3 .2 3 .1 0 42.2-3 0-3-.1-3-.1-3 0-3-.1-3-.1-3-.1-3-.2-3-.1-3-.2-3-.1-3-.2-3-.3-2.9-.2-3-.2-3-.1-3-.2-3-.2-3-.2-3-.2-3-.2-3-.1-3-.2-3-.1-3-.2-3-.1-3 0-3-.1-3 0-3 0-3 .1-3 0-3 .1-3 .1-2.9 .1-3 .1-3 0-3 .1-3 .1-3 .1-3 .2-3 .2-3 .1-3 .2-3 .2-3 .2-3 .2-3 .2-3 .1-3 .2-3 .2-3 .2-3 .2-3 .2-3 .1-2.9 .2-3 .1-3 .2-3 .1-3 .2-3 .1-3 .1-3 0-3 .1-3 .1-3 .1-3 0-3 .1-3 .1-3 0-3 0-3 0-3 .1-3 0-3 .1-3 .1-3 .1-2.9 .1-3 .2-3 .1-3 .2-3 .1-3 .2-3 .2-3 .3-3 .2-3 .2-3 .2-3 .2-3 .1-3 .2-3 .1-3 .2-3 .1-3 .1-3 0-3 .1-3 0-2.9-.1-3-.1-3-.1-3-.2-3-.2-3-.3-3-.3-3-.3-3-.3-3-.1-3-.1-3-.1-3-.2-3-.2-3-.1-3-.1-3-.2-3-.2-3-.3-3-.3-3-.3-2.9-.3-3-.3-3-.4-3-.4-3-.4-3-.3-3-.5-3-.4-3-.5-3-.4-3-.5-3-.4-3-.5-3-.4-3-.5-3-.4-3-.5-3-.4-3-.4-3-.3-3-.3-2.9-.2-3-.2-3-.2-3-.1-3-.1-3 0-3 0-3 0-3 0-3 0-3 .1-3 0-3 .1-3 .2-3 .1-3 .2-3 .2-3 .3-3 .3-3 .3-3 .3-2.9 .3-3 .4-3 .4-3 .6-3 .6-3 .7-3 .6-3 .7-3 .8-3 .7-3 .8-3 .6-3 .6-3 .5-3 .6-3 .5-3 .4-3 .2-3 .2-3 .1-3 0-2.9-.1-3-.2-3-.2-3-.3-3-.3-3-.5-3-.4-3-.5-3-.6-3-.6-3-.8-3-.8-3-.9-3-.9-3-.9-3-1-3-1-3-1-3-1.2-3-1.1-3-1.1-2.9-.9-3-.9-3-.9-3-.7-3-.5-3-.2-3 0-3 .1-3 .4-3 .5-3 .8-3 1.3-3 1.3-3 1.4-3 1.6-3 1.5-3 1.6-3 1.4-3 1.4-3 1.1-3 1-2.9 .5-3 .6-3 .8-3 .7-3 .8-3 .8-3 .8-3 .7-3 .6-3 .5-3 .4-3 .2-3 .1-3 0-3-.2-3-.3-3-.3-3-.5-3-.6-3-.8-3-.8-2.9-.8-3-1-3-1-3-1.1-3-1.2-3-1.4-3-1.4-3-1.4-3-1.4-3-1.5-3-1.5-3-1.3-3-1-3-.9-3-.7-3-.6-3-.4-3-.3-3-.1-3-.2-3-.5-2.9-.7-3-1.1-3-1.2-3-1.4-3-2-3-2.6-3-2.9-3-3.2-3-3.5-3-3.2-3-2.9-3-1.8-3-.5-3 .7-3 1.8-3 2.5-3 2.8-3 3.3-3 3.5-3 3.2-3 2.9-3 2.8-2.9 2.4-3 2.1-3 1.7-3 1.5-3 1.2-3 .9-3 .4-3 .2-3 0-3-.3-3-.6-3-.9-3-1.1-3-1.1-3-1.2-3-1.5-3-1.6-3-1.1-3-.3-3 .3-3 .5-2.9 .2-3-.1-3-.3-3-.4-3-.7-3-1.7-3-1.8-3-1.2-3 .5-3 1.8-3 2.8-3 3.8-3 3.5-3 2.6-3 2.5-3 2.2-3 1.7-3 1.1-3 .2-3-.7-3-1.4-2.9-2-3-2.3-3-3.1-3-4.1-3-4.6-3-4.7-3-4.9z" fill="#0000ff" fill-opacity="0.2"/>
<path d="M341.5 1938.4l1.6 2.7 1.6 2.7 1.6 2.6 1.6 2.6 1.6 2.4 1.6 2.1 1.6 1.9 1.6 1.8 1.6 1.5 1.6 1.4 1.6 1.3 1.6 1 1.6 .8 1.6 .6 1.6 .6 1.6 .3 1.6 .2 1.6 .2 1.6-.1 1.6-.4 1.6-.5 1.6-.7 1.6-1 1.6-1.2 1.6-1.4 1.6-1.7 1.6-2 1.6-2.2 1.6-2.2 1.6-2.4 1.6-2.5 1.6-2.3 1.6-2.4 1.6-1.9 1.6-1.6 1.6-1.3 1.6-.7 1.6-.6 1.6 0 1.6 .4 1.6 .6 1.6 .8 1.6 .9 1.6 .7 1.6 .4 1.6 .2 1.6 0 1.6 0 1.6-.1 1.6-.2 1.6-.1 1.6-.2 1.6 0 1.6 .2 1.6 .2 1.6 .5 1.6 .6 1.6 .7 1.6 .7 1.6 .7 1.6 .7 1.6 .7 1.6 .6 1.6 .6 1.6 .6 1.6 .6 1.6 .6 1.6 .5 1.6 .4 1.6 .3 1.6 .3 1.6 .1 1.6 .1 1.6 0 1.6-.1 1.6-.1 1.6-.2 1.6-.4 1.6-.5 1.6-.6 1.6-.6 1.6-.8 1.6-.9 1.6-.9 1.6-1 1.6-1.1 1.6-1.2 1.6-1.3 1.6-1.4 1.6-1.6 1.6-1.6 1.6-1.7 1.6-1.8 1.6-1.9 1.6-2 1.6-1.9 1.6-2.1 1.6-2 1.6-2.1 1.6-2 1.6-2 1.6-1.9 1.5-1.5 1.6-1.3 1.6-1 1.6-.7 1.6-.5 1.6-.3 1.6 .1 1.6 .4 1.6 .7 1.6 1.1 1.6 1.5 1.6 1.6 1.6 1.7 1.6 2 1.6 1.9 1.6 1.8 1.6 1.8 1.6 1.8 1.6 1.6 1.6 1.6 1.6 1.5 1.6 1.4 1.6 1.2 1.6 1.1 1.6 1 1.6 .9 1.6 .8 1.6 .6 1.6 .6 1.6 .6 1.6 .4 1.6 .4 1.6 .4 1.6 .3 1.6 .3 1.6 .3 1.6 .4 1.6 .3 1.6 .4 1.6 .4 1.6 .4 1.6 .5 1.6 .5 1.6 .7 1.6 .6 1.6 .7 1.6 .7 1.6 .8 1.6 .7 1.6 .8 1.6 .8 1.6 .8 1.6 .8 1.6 .8 1.6 .8 1.6 .7 1.6 .8 1.6 .7 1.6 .7 1.6 .7 1.6 .7 1.6 .6 1.6 .7 1.6 .6 1.6 .6 1.6 .6 1.6 .6 1.6 .5 1.6 .5 1.6 .4 1.6 .5 1.6 .4 1.6 .4 1.6 .3 1.6 .3 1.6 .3 1.6 .3 1.6 .3 1.6 .2 1.6 .2 1.6 .1 1.6 .1 1.6 .2 1.6 0 1.6 .1 1.6 0 1.6 0 1.6 0 1.6-.1 1.6-.2 1.6-.1 1.6-.2 1.6-.3 1.6-.3 1.6-.3 1.6-.4 1.6-.5 1.6-.5 1.6-.6 1.6-.6 1.6-.7 1.6-.7 1.6-.8 1.6-.9 1.6-.9 1.6-1 1.6-1 1.6-1 1.6-1 1.6-1.1 1.6-1 1.6-1.1 1.6-1 1.6-1.2 1.6-1.1 1.6-1.2 1.6-1.2 1.6-1.2 1.6-1.1 1.6-1.2 1.6-1 1.6-1 1.6-1 1.6-.9 1.6-.8 1.6-.7 1.6-.7 1.6-.6 1.6-.5 1.6-.4 1.6-.3 1.6-.3 1.6-.2 1.6-.1 1.6-.1 1.6 0 1.6 .1 1.6 .2 1.6 .2 1.6 .3 1.6 .3 1.6 .4 1.6 .4 1.6 .5 1.6 .5 1.6 .5 1.6 .6 1.6 .5 1.6 .6 1.6 .6 1.6 .6 1.6 .6 1.6 .6 1.6 .6 1.6 .7 1.6 .6 1.6 .7 1.6 .6 1.6 .6 1.6 .7 1.6 .6 1.6 .7 1.6 .6 1.6 .6 1.6 .6 1.6 .6 1.6 .6 1.6 .5 1.6 .6 1.6 .5 1.6 .5 1.6 .5 1.6 .4 1.6 .5 1.6 .3 1.6 .4 1.6 .3 1.6 .3 1.6 .3 1.6 .3 1.6 .2 1.6 .2 1.6 .1 1.6 .2 1.6 .1 1.6 .1 1.6 0 1.6 0 1.6 0 1.6 0 1.6 0 1.6-.1 1.6-.1 1.6-.2 1.6-.1 1.6-.2 1.6-.3 1.6-.2 1.6-.3 1.6-.3 1.6-.3 1.6-.4 1.6-.3 1.6-.4 1.6-.4 1.6-.4 1.6-.4 1.6-.4 1.6-.5 1.6-.4 1.6-.4 1.6-.5 1.6-.4 1.6-.4 1.6-.5 1.6-.4 1.6-.4 1.6-.4 1.6-.4 1.6-.3 1.6-.4 1.6-.4 1.6-.4 1.6-.3 1.6-.4 1.6-.4 1.6-.4 1.6-.3 1.6-.4 1.6-.3 1.6-.3 1.6-.3 1.6-.4 1.6-.3 1.6-.3 1.6-.3 1.6-.3 1.6-.3 1.6-.3 1.6-.2 1.6-.3 1.6-.3 1.6-.2 1.6-.3 1.6-.2 1.6-.2 1.6-.1 1.6-.1 1.6-.2 1.6-.1 1.6-.1 1.6-.1 1.6 0 1.6-.1 1.6 0 1.6-.1 1.6 0 1.6 0 1.6 0 1.6 .1 1.6 0 1.6 .2 1.6 .1 1.6 .1 1.6 .2 1.6 .1 1.6 .2 1.6 .2 1.6 .2 1.6 .2 1.6 .3 1.6 .2 1.6 .2 1.6 .2 1.6 .2 1.6 .2 1.6 .2 1.6 .3 1.6 .2 1.6 .2 1.6 .2 1.6 .2 1.6 .2 1.6 .2 1.6 .2 1.6 .2 1.6 .3 1.6 .2 1.6 .3 1.6 .3 1.6 .3 1.6 .2 1.6 .3 1.6 .3 1.6 .3 1.6 .3 1.6 .3 1.6 .3 1.6 .4 1.6 .3 1.6 .3 1.6 .3 1.6 .3 1.6 .4 1.6 .3 1.6 .3 1.6 .3 1.6 .3 1.6 .4 1.6 .3 1.6 .3 1.6 .3 1.6 .3 1.6 .3 1.6 .3 1.6 .3 1.6 .2 1.6 .3 1.6 .3 1.6 .2 1.5 .3 1.6 .2 1.6 .2 1.6 .2 1.6 .2 1.6 .2 1.6 .2 1.6 .2 1.6 .2 1.6 .1 1.6 .2 1.6 .1 1.6 .2 1.6 .1 1.6 .2 1.6 .1 1.6 .1 1.6 .1 1.6 .1 1.6 .1 1.6 0 1.6 0 1.6 .1 1.6 0 1.6 0 1.6 0 1.6 0 1.6 0 1.6 0 1.6 0 1.6-.1 1.6 0 1.6-.1 1.6 0 1.6-.1 1.6-.1 1.6-.1 1.6-.2 1.6-.1 1.6-.1 1.6-.2 1.6-.2 1.6-.1 1.6-.2 1.6-.2 1.6-.2 1.6-.2 1.6-.2 1.6-.2 1.6-.2 1.6-.2 1.6-.2 1.6-.2 1.6-.2 1.6-.2 1.6-.2 1.6-.1 1.6-.2 1.6-.1 1.6-.2 1.6-.1 1.6-.1 1.6-.1 1.6-.2 1.6-.1 1.6 0 1.6-.1 1.6-.1 1.6-.1 1.6 0 1.6-.1 1.6 0 1.6-.1 1.6 0 1.6 0 1.6-.1 1.6 0 1.6-.1 1.6 0 1.6-.1 1.6 0 1.6 0 1.6 0 1.6 0 1.6 0 1.6 0 1.6 0 1.6 0 1.6 0 1.6 0 1.6 0 1.6 0 1.6 0 1.6-.1 1.6 0 1.6-.1 1.6 0 1.6-.1 1.6 0 1.6 0 1.6-.1 1.6 0 1.6-.1 1.6-.1 1.6-.1 1.6-.1 1.6-.1 1.6-.1 1.6-.1 1.6-.2 1.6-.1 1.6-.1 1.6-.1 1.6-.2 1.6-.1 1.6-.1 1.6-.1 1.6-.1 1.6-.2 1.6-.1 1.6-.1 1.6-.1 1.6-.1 1.6-.2 1.6-.1 1.6-.1 1.6-.1 1.6-.1 1.6-.2 1.6-.1 1.6-.1 1.6-.1 1.6-.1 1.6-.2 1.6-.1 1.6-.1 1.6-.1 1.6-.1 1.6-.1 1.6 0 1.6-.1 1.6-.1 1.6-.1 1.6-.1 1.6-.1 1.6 0 1.6-.1 1.6 0 1.6-.1 1.6 0 1.6-.1 1.6 0 1.6 0 1.6-.1 1.6 0 1.6-.1 1.6 0 1.6 0 1.6 0 1.6 0 1.6 0 1.6 0 1.6 0 1.6 .1 1.6 0 1.6 0 1.6 .1 1.6 0 1.6 .1 1.6 .1 1.6 .1 1.6 .1 1.6 .1 1.6 .1 1.6 .1 1.6 .1 1.6 .2 1.6 .1 1.6 .1 1.6 .1 1.6 .1 1.6 .2 1.6 .1 1.6 .1 1.6 .2 1.6 .2 1.6 .1 1.6 .2 1.6 .1 1.6 .1 1.6 .2 1.6 .1 1.6 .1 1.6 .1 1.6 .1 1.6 .2 1.6 .1 1.6 .1 1.6 .1 1.6 .1 1.6 0 1.6 .1 1.6 .1 1.6 .1 1.6 0 1.6 .1 1.6 .1 1.6 .1 1.6 0" fill="none" stroke="#0000ff" stroke-width="5.8" stroke-linejoin="round"/>
<path d="M341.5 1717.8l3-2.1 3-1.9 3-1.8 3-1.6 3-1.2 3-.6 2.9 .1 3 .4 3 .6 3 .7 3 .7 3 .5 3 .3 3 0 3-.1 3-.3 3-.5 3-1.2 3-1.8 3-2.2 3-2.2 3-2.3 3-2.7 3-2.9 3-3.2 3-3.7 3-4.1 2.9-4.2 3-4.1 3-3.8 3-3.9 3-3.8 3-3.5 3-3.3 3-3.1 3-3 3-2.7 3-2.5 3-2.4 3-2.2 3-2.1 3-1.9 3-1.7 3-1.7 3-1.7 3-1.8 3-1.6 3-1.7 2.9-1.8 3-2.1 3-2.5 3-2.8 3-3 3-3 3-3.3 3-3.4 3-3.3 3-3 3-2.8 3-2.8 3-2.3 3-1.8 3-1.5 3-1.2 3-1.1 3-.8 3-.6 3-.6 3-.6 3-.6 2.9-.6 3-.7 3-.7 3-.6 3-.6 3-.5 3-.5 3-.4 3-.4 3-.2 3-.1 3-.1 3 .3 3 .4 3 .5 3 .6 3 .9 3 1 3 1.1 3 1.2 3 1.2 2.9 1.3 3 1.4 3 1.4 3 1.4 3 1.4 3 1.4 3 1.3 3 1.3 3 1.2 3 1.1 3 1.1 3 1 3 1 3 .7 3 .7 3 .5 3 .5 3 .3 3 .2 3 .1 3-.1 2.9-.1 3-.5 3-.9 3-1.3 3-1.6 3-1.9 3-2 3-2.4 3-2.6 3-2.5 3-2.5 3-2.5 3-2.5 3-2.3 3-2 3-1.5 3-1.3 3-1.1 3-.9 3-.6 3-.4 2.9-.2 3-.1 3 0 3 .1 3 .1 3 .3 3 .4 3 .6 3 .7 3 .7 3 .9 3 .9 3 .9 3 1 3 1 3 .9 3 .9 3 .9 3 .9 3 .8 3 .6 2.9 .5 3 .5 3 .5 3 .3 3 .3 3 .2 3 .1 3-.1 3-.1 3-.4 3-.4 3-.6 3-.8 3-.9 3-1.1 3-1.3 3-1.4 3-1.5 3-1.6 3-1.5 3-1.5 2.9-1.5 3-1.4 3-1.4 3-1.4 3-1.3 3-1.2 3-1.1 3-.9 3-.8 3-.8 3-.6 3-.6 3-.5 3-.5 3-.4 3-.4 3-.3 3-.3 3-.2 3-.2 3-.1 2.9-.1 3 0 3 0 3 0 3 .2 3 .1 3 .2 3 .3 3 .3 3 .3 3 .3 3 .3 3 .3 3 .3 3 .3 3 .3 3 .2 3 .2 3 .2 3 .1 3 .1 2.9 .1 3 .2 3 0 3 0 3 0 3 0 3 0 3 0 3 0 3 0 3 0 3 0 3 0 3 .2 3 .2 3 .3 3 .4 3 .4 3 .4 3 .5 3 .4 2.9 .5 3 .6 3 .5 3 .6 3 .6 3 .6 3 .5 3 .5 3 .6 3 .5 3 .5 3 .5 3 .4 3 .4 3 .4 3 .4 3 .3 3 .3 3 .3 3 .3 3 .2 2.9 .2 3 .2 3 .1 3 .2 3 .1 3 .2 3 .1 3 .1 3 0 3 .1 3 .1 3 0 3 .1 3 .1 3 .1 3 .1 3 0 3 .1 3 0 3 0 3 0 3 0 2.9 0 3-.1 3-.2 3-.2 3-.2 3-.3 3-.2 3-.3 3-.4 3-.3 3-.5 3-.5 3-.5 3-.5 3-.6 3-.6 3-.6 3-.6 3-.6 3-.6 3-.6 2.9-.6 3-.6 3-.6 3-.6 3-.6 3-.5 3-.5 3-.5 3-.5 3-.4 3-.4 3-.4 3-.3 3-.2 3-.2 3-.2 3-.2 3-.1 3-.1 3 0 3 .1 2.9 .1 3 .1 3 .2 3 .2 3 .3 3 .2 3 .3 3 .3 3 .4 3 .4 3 .4 3 .4 3 .4 3 .4 0 69.1-3-.3-3-.3-3-.2-3-.3-3-.2-3-.2-3-.3-3-.2-3-.2-3-.1-3-.2-3-.1-3-.1-2.9 0-3 0-3 0-3 0-3 .1-3 0-3 .2-3 .2-3 .3-3 .2-3 .3-3 .3-3 .4-3 .4-3 .4-3 .4-3 .5-3 .5-3 .5-3 .5-3 .6-2.9 .5-3 .5-3 .5-3 .4-3 .4-3 .5-3 .4-3 .5-3 .3-3 .4-3 .3-3 .3-3 .3-3 .2-3 .3-3 .1-3 .2-3 .2-3 .1-3 .1-3 0-2.9 0-3 0-3 0-3 0-3 0-3 0-3-.1-3-.1-3-.1-3 0-3-.1-3-.1-3-.2-3-.2-3-.1-3-.1-3-.2-3-.2-3-.3-3-.2-3-.2-3-.3-2.9-.2-3-.4-3-.3-3-.3-3-.3-3-.3-3-.3-3-.3-3-.2-3-.3-3-.4-3-.3-3-.4-3-.4-3-.3-3-.4-3-.4-3-.5-3-.4-3-.5-3-.4-2.9-.5-3-.4-3-.5-3-.5-3-.5-3-.5-3-.5-3-.5-3-.4-3-.4-3-.3-3-.3-3-.3-3-.3-3-.3-3-.3-3-.3-3-.3-3-.3-3-.3-3-.3-2.9-.3-3-.3-3-.3-3-.3-3-.3-3-.3-3-.3-3-.3-3-.2-3-.2-3-.2-3-.2-3-.2-3-.2-3-.2-3-.1-3-.1-3-.1-3-.1-3 0-3 .1-2.9 .2-3 .2-3 .4-3 .4-3 .6-3 .7-3 .7-3 .9-3 1-3 1.2-3 1.1-3 1.2-3 1.4-3 1.4-3 1.4-3 1.4-3 1.4-3 1.4-3 1.4-3 1.3-3 1.1-2.9 1.1-3 1-3 .9-3 .8-3 .6-3 .4-3 .3-3 .1-3 0-3 0-3-.1-3-.2-3-.3-3-.3-3-.4-3-.5-3-.6-3-.6-3-.7-3-.7-3-.8-2.9-.8-3-.9-3-.9-3-1-3-1-3-1-3-1-3-1-3-1-3-.9-3-.8-3-.6-3-.6-3-.4-3-.3-3-.1-3 0-3 .2-3 .2-3 .3-3 .5-2.9 .6-3 .8-3 .8-3 1-3 1.1-3 1.3-3 1.4-3 1.7-3 1.6-3 1.6-3 1.6-3 1.7-3 1.7-3 1.5-3 1.4-3 1.4-3 1.2-3 1.1-3 .8-3 .7-3 .3-2.9 0-3-.3-3-.3-3-.5-3-.5-3-.7-3-.9-3-.9-3-1-3-1.2-3-1.4-3-1.4-3-1.5-3-1.6-3-1.7-3-1.7-3-1.7-3-1.7-3-1.6-3-1.5-3-1.3-2.9-1.3-3-1.1-3-.9-3-.7-3-.6-3-.5-3-.2-3-.2-3-.2-3 0-3 .1-3 .1-3 .1-3 .1-3 .2-3 .1-3 .1-3 0-3 .1-3 0-3 .1-2.9 0-3 .2-3 .3-3 .5-3 .5-3 .7-3 1.2-3 1.4-3 1.6-3 1.8-3 2.1-3 2.3-3 2.3-3 2.3-3 2.5-3 2.4-3 2.3-3 2-3 1.9-3 1.7-3 1.6-3 1.4-2.9 1.3-3 1.2-3 1.2-3 1.2-3 1.1-3 1.1-3 1.1-3 1.3-3 1.5-3 1.6-3 1.7-3 1.8-3 2-3 2.2-3 2.4-3 2.5-3 2.9-3 3.1-3 3.1-3 2.9-3 2.7-2.9 2.7-3 2.4-3 2.2-3 2.1-3 1.9-3 1.7-3 1.4-3 1.3-3 1.2-3 1-3 .5-3-.1-3-.4-3-.4-3-.6-3-.5-3-.7-3-.8-3-.8-3-.7-3-.6-2.9-.2-3 .3-3 1-3 1.3-3 1.5-3 1.5-3 2z" fill="#ff00ff" fill-opacity="0.2"/>
<path d="M341.5 1718.8l1.6-1.2 1.6-1.4 1.6-1.4 1.6-1.2 1.6-.9 1.6-.8 1.6-.6 1.6-.4 1.6-.3 1.6-.3 1.6-.1 1.6 0 1.6 .1 1.6 .3 1.6 .3 1.6 .3 1.6 .4 1.6 .4 1.6 .4 1.6 .3 1.6 .4 1.6 .3 1.6 .3 1.6 .3 1.6 .2 1.6 .3 1.6 .1 1.6 .1 1.6 0 1.6-.2 1.6-.2 1.6-.2 1.6-.5 1.6-.6 1.6-.7 1.6-.7 1.6-.9 1.6-1 1.6-1 1.6-1 1.6-1.1 1.6-1 1.6-1.2 1.6-1.1 1.6-1.3 1.6-1.2 1.6-1.3 1.6-1.4 1.6-1.4 1.6-1.5 1.6-1.6 1.6-1.8 1.6-1.8 1.6-1.8 1.6-1.7 1.6-1.7 1.6-1.7 1.6-1.7 1.6-1.8 1.6-1.7 1.6-1.8 1.6-1.7 1.6-1.7 1.6-1.7 1.6-1.5 1.6-1.5 1.6-1.4 1.6-1.4 1.6-1.3 1.6-1.2 1.6-1.2 1.6-1.2 1.6-1.2 1.6-1 1.6-1 1.6-1 1.6-.9 1.6-.9 1.6-.8 1.6-.8 1.6-.7 1.6-.8 1.6-.8 1.6-.8 1.6-.8 1.6-.9 1.6-.9 1.6-.9 1.6-1 1.6-1 1.6-1 1.6-1.1 1.6-1.1 1.6-1.2 1.6-1.2 1.6-1.3 1.6-1.3 1.6-1.4 1.6-1.5 1.6-1.4 1.6-1.5 1.6-1.5 1.5-1.5 1.6-1.5 1.6-1.5 1.6-1.5 1.6-1.5 1.6-1.5 1.6-1.4 1.6-1.4 1.6-1.3 1.6-1.2 1.6-1.2 1.6-1 1.6-1 1.6-.9 1.6-.8 1.6-.7 1.6-.6 1.6-.6 1.6-.5 1.6-.4 1.6-.4 1.6-.3 1.6-.3 1.6-.3 1.6-.2 1.6-.2 1.6-.2 1.6-.1 1.6-.2 1.6-.1 1.6-.1 1.6-.1 1.6-.1 1.6-.2 1.6-.1 1.6-.2 1.6-.2 1.6-.2 1.6-.2 1.6-.2 1.6-.2 1.6-.2 1.6-.3 1.6-.2 1.6-.2 1.6-.1 1.6-.2 1.6-.1 1.6-.1 1.6-.1 1.6-.1 1.6 0 1.6 0 1.6 .1 1.6 .1 1.6 .2 1.6 .2 1.6 .3 1.6 .3 1.6 .4 1.6 .4 1.6 .5 1.6 .5 1.6 .6 1.6 .5 1.6 .6 1.6 .6 1.6 .6 1.6 .7 1.6 .7 1.6 .7 1.6 .7 1.6 .8 1.6 .7 1.6 .8 1.6 .7 1.6 .8 1.6 .9 1.6 .8 1.6 .8 1.6 .8 1.6 .8 1.6 .8 1.6 .7 1.6 .8 1.6 .7 1.6 .7 1.6 .8 1.6 .7 1.6 .7 1.6 .6 1.6 .6 1.6 .6 1.6 .6 1.6 .5 1.6 .5 1.6 .4 1.6 .4 1.6 .3 1.6 .3 1.6 .3 1.6 .2 1.6 .2 1.6 .1 1.6 .1 1.6 .1 1.6 0 1.6 0 1.6 0 1.6 0 1.6-.2 1.6-.3 1.6-.4 1.6-.3 1.6-.5 1.6-.6 1.6-.6 1.6-.7 1.6-.7 1.6-.9 1.6-.8 1.6-.9 1.6-1 1.6-.9 1.6-1.1 1.6-1 1.6-1.1 1.6-1 1.6-1.1 1.6-1.1 1.6-1.1 1.6-1 1.6-1.1 1.6-1 1.6-1.1 1.6-1 1.6-.9 1.6-.8 1.6-.8 1.6-.8 1.6-.6 1.6-.7 1.6-.6 1.6-.5 1.6-.4 1.6-.4 1.6-.4 1.6-.3 1.6-.3 1.6-.2 1.6-.2 1.6-.1 1.6-.1 1.6-.1 1.6 0 1.6 0 1.6 0 1.6 0 1.6 .1 1.6 .1 1.6 .2 1.6 .2 1.6 .3 1.6 .2 1.6 .4 1.6 .4 1.6 .4 1.6 .4 1.6 .5 1.6 .5 1.6 .5 1.6 .5 1.6 .5 1.6 .6 1.6 .5 1.6 .6 1.6 .5 1.6 .5 1.6 .6 1.6 .5 1.6 .5 1.6 .6 1.6 .5 1.6 .5 1.6 .5 1.6 .4 1.6 .5 1.6 .4 1.6 .3 1.6 .4 1.6 .3 1.6 .3 1.6 .2 1.6 .3 1.6 .2 1.6 .3 1.6 .2 1.6 .1 1.6 .1 1.6 .1 1.6 0 1.6 .1 1.6 0 1.6 0 1.6 0 1.6-.1 1.6-.1 1.6-.1 1.6-.2 1.6-.3 1.6-.2 1.6-.4 1.6-.3 1.6-.4 1.6-.4 1.6-.4 1.6-.5 1.6-.5 1.6-.5 1.6-.5 1.6-.6 1.6-.6 1.6-.6 1.6-.7 1.6-.7 1.6-.6 1.6-.7 1.6-.7 1.6-.7 1.6-.7 1.6-.7 1.6-.7 1.6-.7 1.6-.7 1.6-.7 1.6-.7 1.6-.7 1.6-.6 1.6-.6 1.6-.7 1.6-.6 1.6-.7 1.6-.6 1.6-.6 1.6-.6 1.6-.6 1.6-.5 1.6-.5 1.6-.5 1.6-.4 1.6-.4 1.6-.4 1.6-.4 1.6-.3 1.6-.3 1.6-.3 1.6-.2 1.6-.2 1.6-.2 1.6-.2 1.6-.2 1.6-.1 1.6-.2 1.6-.1 1.6 0 1.6-.1 1.6 0 1.6 0 1.6 0 1.6 0 1.6 0 1.6 0 1.6 0 1.6 .1 1.6 .1 1.6 .1 1.6 .1 1.6 .1 1.6 .1 1.6 .1 1.6 .1 1.6 .1 1.6 .1 1.6 .2 1.6 .2 1.6 .1 1.6 .2 1.6 .1 1.6 .1 1.6 .1 1.6 .1 1.6 .2 1.6 .2 1.6 .1 1.6 .1 1.6 .1 1.6 .1 1.6 .1 1.6 .2 1.6 .1 1.6 .1 1.6 .1 1.6 .1 1.6 .1 1.6 .1 1.6 .1 1.6 .1 1.6 .1 1.6 .1 1.6 .1 1.6 .1 1.6 .1 1.6 .1 1.6 .2 1.6 .1 1.6 .1 1.6 .1 1.6 .1 1.6 .1 1.6 .1 1.5 .1 1.6 .1 1.6 .1 1.6 .1 1.6 .1 1.6 0 1.6 0 1.6 0 1.6 .1 1.6 .1 1.6 .2 1.6 .3 1.6 .2 1.6 .2 1.6 .3 1.6 .2 1.6 .3 1.6 .2 1.6 .3 1.6 .2 1.6 .2 1.6 .3 1.6 .2 1.6 .3 1.6 .2 1.6 .2 1.6 .3 1.6 .2 1.6 .3 1.6 .2 1.6 .2 1.6 .3 1.6 .2 1.6 .3 1.6 .2 1.6 .2 1.6 .3 1.6 .2 1.6 .3 1.6 .2 1.6 .2 1.6 .2 1.6 .2 1.6 .2 1.6 .2 1.6 .2 1.6 .2 1.6 .2 1.6 .2 1.6 .1 1.6 .2 1.6 .2 1.6 .1 1.6 .2 1.6 .1 1.6 .2 1.6 .2 1.6 .1 1.6 .2 1.6 .1 1.6 .2 1.6 .1 1.6 .1 1.6 .1 1.6 .1 1.6 .2 1.6 .1 1.6 .1 1.6 .1 1.6 .1 1.6 .1 1.6 .1 1.6 .1 1.6 0 1.6 .1 1.6 .1 1.6 .1 1.6 .1 1.6 0 1.6 .1 1.6 .1 1.6 .1 1.6 .1 1.6 0 1.6 .1 1.6 .1 1.6 .1 1.6 .1 1.6 .1 1.6 0 1.6 .1 1.6 0 1.6 .1 1.6 0 1.6 0 1.6 .1 1.6 0 1.6 .1 1.6 0 1.6 0 1.6 .1 1.6 0 1.6 0 1.6 0 1.6 0 1.6 0 1.6-.1 1.6 0 1.6 0 1.6-.1 1.6 0 1.6-.1 1.6-.1 1.6-.1 1.6 0 1.6-.1 1.6-.1 1.6-.1 1.6-.2 1.6-.1 1.6-.1 1.6-.2 1.6-.2 1.6-.2 1.6-.2 1.6-.2 1.6-.2 1.6-.3 1.6-.2 1.6-.2 1.6-.3 1.6-.3 1.6-.2 1.6-.3 1.6-.3 1.6-.3 1.6-.3 1.6-.3 1.6-.2 1.6-.3 1.6-.3 1.6-.3 1.6-.3 1.6-.2 1.6-.3 1.6-.3 1.6-.3 1.6-.3 1.6-.2 1.6-.3 1.6-.3 1.6-.3 1.6-.2 1.6-.3 1.6-.2 1.6-.2 1.6-.3 1.6-.2 1.6-.2 1.6-.2 1.6-.2 1.6-.2 1.6-.2 1.6-.1 1.6-.2 1.6-.1 1.6-.2 1.6-.1 1.6-.2 1.6-.1 1.6-.1 1.6-.1 1.6-.1 1.6-.1 1.6-.1 1.6-.1 1.6 0 1.6-.1 1.6 0 1.6 0 1.6 0 1.6 0 1.6 0 1.6 .1 1.6 0 1.6 .1 1.6 0 1.6 .1 1.6 0 1.6 .1 1.6 .1 1.6 .1 1.6 .1 1.6 .1 1.6 .1 1.6 .1 1.6 .1 1.6 .2 1.6 .1 1.6 .2 1.6 .1 1.6 .2 1.6 .2 1.6 .1 1.6 .2 1.6 .1 1.6 .1 1.6 .2 1.6 .1" fill="none" stroke="#ff00ff" stroke-width="5.8" stroke-linejoin="round"/>
<path d="M340.7 1393.2H1350.6" stroke="#f00" stroke-opacity="0.74" stroke-width="5.6" stroke-dasharray="20.6 21.05" fill="none"/>
</g>
<path d="M478.9 1362.3v11M478.9 2010.9v-11M617.2 1362.3v11M617.2 2010.9v-11M755.4 1362.3v11M755.4 2010.9v-11M893.7 1362.3v11M893.7 2010.9v-11M1031.9 1362.3v11M1031.9 2010.9v-11M1170.2 1362.3v11M1170.2 2010.9v-11M1308.4 1362.3v11M1308.4 2010.9v-11M1350.6 1902.8h-11M1350.6 1794.7h-11M1350.6 1686.6h-11M1350.6 1578.5h-11M1350.6 1470.4h-11" stroke="#000" stroke-width="2.0" fill="none"/>
<path d="M1338.6 1362.3H1350.6V2010.9H1338.6" stroke="#000" stroke-width="2.0" fill="none"/>
<path d="M340.7 1361.3V2011.9M340.7 1796.2h11M340.7 1581.5h11M340.7 1366.8h11M340.7 2010.9h11" stroke="#f00" stroke-width="2.0" fill="none"/>
<text x="1365.2" y="2023.5" class="T">0</text>
<text x="1365.2" y="1915.4" class="T">0.5</text>
<text x="1365.2" y="1807.3" class="T">1</text>
<text x="1365.2" y="1699.2" class="T">1.5</text>
<text x="1365.2" y="1591.1" class="T">2</text>
<text x="1365.2" y="1483" class="T">2.5</text>
<text x="1365.2" y="1374.9" class="T">3</text>
<text x="326.1" y="2022.5" class="T r" text-anchor="end">0</text>
<text x="326.1" y="1807.8" class="T r" text-anchor="end">0.5</text>
<text x="326.1" y="1593.1" class="T r" text-anchor="end">1</text>
<text x="326.1" y="1378.4" class="T r" text-anchor="end">1.5</text>
<text x="340.3" y="2049.6" class="T" text-anchor="middle">0</text>
<text x="478.9" y="2049.6" class="T" text-anchor="middle">50</text>
<text x="617.2" y="2049.6" class="T" text-anchor="middle">100</text>
<text x="755.4" y="2049.6" class="T" text-anchor="middle">150</text>
<text x="893.7" y="2049.6" class="T" text-anchor="middle">200</text>
<text x="1031.9" y="2049.6" class="T" text-anchor="middle">250</text>
<text x="1170.2" y="2049.6" class="T" text-anchor="middle">300</text>
<text x="1308.4" y="2049.6" class="T" text-anchor="middle">350</text>
<text x="339.8" y="1350.8" class="X r">×</text>
<text x="369.4" y="1347.4" class="T r">10</text>
<text x="405.9" y="1335.1" class="S r">−4</text>
<text x="1352.6" y="1342.6" class="X">×</text>
<text x="1382.2" y="1339.2" class="T">10</text>
<text x="1418.7" y="1326.9" class="S">−3</text>
<text x="847.1" y="1341" class="H" text-anchor="middle">Italy</text>
<text x="279.5" y="1322.6" class="L">b</text>
</g>
</svg>
</body>
</html>
